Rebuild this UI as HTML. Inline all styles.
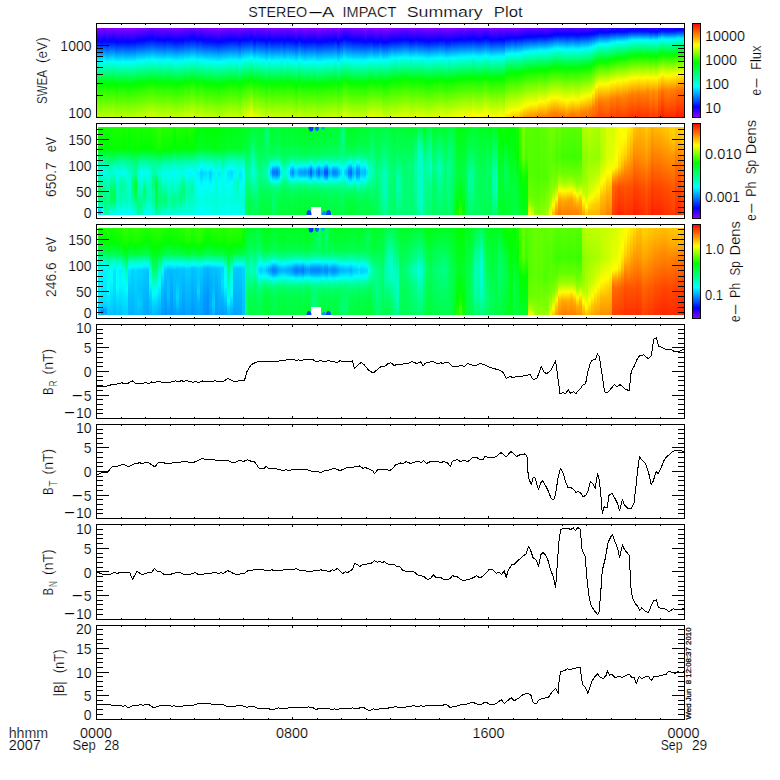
<!DOCTYPE html>
<html><head><meta charset="utf-8"><title>STEREO-A IMPACT Summary Plot</title>
<style>html,body{margin:0;padding:0;background:#fff}svg{display:block}</style></head>
<body>
<svg width="780" height="780" viewBox="0 0 780 780">
<rect width="780" height="780" fill="#fff"/>
<defs>
<linearGradient id="g1" x1="0" y1="0" x2="0" y2="1"><stop offset="0" stop-color="#8300ff"/><stop offset=".135" stop-color="#0b00ff"/><stop offset=".157" stop-color="#000cff"/><stop offset=".36" stop-color="#00f2ff"/><stop offset=".382" stop-color="#00fff4"/><stop offset=".607" stop-color="#00ff12"/><stop offset=".629" stop-color="#02ff00"/><stop offset="1" stop-color="#bfff00"/></linearGradient>
<linearGradient id="g2" x1="0" y1="0" x2="0" y2="1"><stop offset="0" stop-color="#8b00ff"/><stop offset=".157" stop-color="#0004ff"/><stop offset=".382" stop-color="#00fffd"/><stop offset=".629" stop-color="#00ff06"/><stop offset="1" stop-color="#b7ff00"/></linearGradient>
<linearGradient id="g3" x1="0" y1="0" x2="0" y2="1"><stop offset="0" stop-color="#8100ff"/><stop offset=".135" stop-color="#0900ff"/><stop offset=".157" stop-color="#000eff"/><stop offset=".36" stop-color="#00f3ff"/><stop offset=".382" stop-color="#00fff3"/><stop offset=".607" stop-color="#00ff10"/><stop offset=".629" stop-color="#04ff00"/><stop offset="1" stop-color="#c1ff00"/></linearGradient>
<linearGradient id="g4" x1="0" y1="0" x2="0" y2="1"><stop offset="0" stop-color="#80f"/><stop offset=".157" stop-color="#0007ff"/><stop offset=".382" stop-color="#00fffa"/><stop offset=".629" stop-color="#00ff03"/><stop offset="1" stop-color="#baff00"/></linearGradient>
<linearGradient id="g5" x1="0" y1="0" x2="0" y2="1"><stop offset="0" stop-color="#8400ff"/><stop offset=".135" stop-color="#0c00ff"/><stop offset=".157" stop-color="#000bff"/><stop offset=".36" stop-color="#00f0ff"/><stop offset=".382" stop-color="#00fff6"/><stop offset=".629" stop-color="#01ff00"/><stop offset="1" stop-color="#beff00"/></linearGradient>
<linearGradient id="g6" x1="0" y1="0" x2="0" y2="1"><stop offset="0" stop-color="#8100ff"/><stop offset=".135" stop-color="#0900ff"/><stop offset=".157" stop-color="#000dff"/><stop offset=".36" stop-color="#00f3ff"/><stop offset=".382" stop-color="#00fff3"/><stop offset=".607" stop-color="#00ff10"/><stop offset=".629" stop-color="#03ff00"/><stop offset="1" stop-color="#c1ff00"/></linearGradient>
<linearGradient id="g7" x1="0" y1="0" x2="0" y2="1"><stop offset="0" stop-color="#8f00ff"/><stop offset=".157" stop-color="#00f"/><stop offset=".382" stop-color="#00feff"/><stop offset=".629" stop-color="#00ff0a"/><stop offset=".652" stop-color="#02ff00"/><stop offset="1" stop-color="#b3ff00"/></linearGradient>
<linearGradient id="g8" x1="0" y1="0" x2="0" y2="1"><stop offset="0" stop-color="#8b00ff"/><stop offset=".157" stop-color="#0004ff"/><stop offset=".382" stop-color="#00fffc"/><stop offset=".629" stop-color="#00ff06"/><stop offset="1" stop-color="#b7ff00"/></linearGradient>
<linearGradient id="g9" x1="0" y1="0" x2="0" y2="1"><stop offset="0" stop-color="#8700ff"/><stop offset=".135" stop-color="#0f00ff"/><stop offset=".157" stop-color="#0008ff"/><stop offset=".36" stop-color="#00edff"/><stop offset=".382" stop-color="#00fff9"/><stop offset=".629" stop-color="#00ff02"/><stop offset="1" stop-color="#bf0"/></linearGradient>
<linearGradient id="g10" x1="0" y1="0" x2="0" y2="1"><stop offset="0" stop-color="#8a00ff"/><stop offset=".157" stop-color="#0005ff"/><stop offset=".382" stop-color="#00fffc"/><stop offset=".629" stop-color="#00ff05"/><stop offset="1" stop-color="#b8ff00"/></linearGradient>
<linearGradient id="g11" x1="0" y1="0" x2="0" y2="1"><stop offset="0" stop-color="#8e00ff"/><stop offset=".157" stop-color="#00f"/><stop offset=".382" stop-color="#00feff"/><stop offset=".629" stop-color="#00ff0a"/><stop offset=".652" stop-color="#02ff00"/><stop offset="1" stop-color="#b4ff00"/></linearGradient>
<linearGradient id="g12" x1="0" y1="0" x2="0" y2="1"><stop offset="0" stop-color="#8900ff"/><stop offset=".157" stop-color="#0006ff"/><stop offset=".382" stop-color="#00fffb"/><stop offset=".629" stop-color="#00ff04"/><stop offset="1" stop-color="#b9ff00"/></linearGradient>
<linearGradient id="g13" x1="0" y1="0" x2="0" y2="1"><stop offset="0" stop-color="#8a00ff"/><stop offset=".157" stop-color="#0004ff"/><stop offset=".382" stop-color="#00fffc"/><stop offset=".629" stop-color="#00ff05"/><stop offset="1" stop-color="#b8ff00"/></linearGradient>
<linearGradient id="g14" x1="0" y1="0" x2="0" y2="1"><stop offset="0" stop-color="#8000ff"/><stop offset=".135" stop-color="#0800ff"/><stop offset=".157" stop-color="#000eff"/><stop offset=".36" stop-color="#00f4ff"/><stop offset=".382" stop-color="#00fff2"/><stop offset=".607" stop-color="#00ff0f"/><stop offset=".629" stop-color="#04ff00"/><stop offset="1" stop-color="#c2ff00"/></linearGradient>
<linearGradient id="g15" x1="0" y1="0" x2="0" y2="1"><stop offset="0" stop-color="#7f00ff"/><stop offset=".135" stop-color="#0700ff"/><stop offset=".157" stop-color="#0010ff"/><stop offset=".36" stop-color="#00f6ff"/><stop offset=".382" stop-color="#00fff0"/><stop offset=".607" stop-color="#00ff0e"/><stop offset=".629" stop-color="#06ff00"/><stop offset="1" stop-color="#c3ff00"/></linearGradient>
<linearGradient id="g16" x1="0" y1="0" x2="0" y2="1"><stop offset="0" stop-color="#7d00ff"/><stop offset=".135" stop-color="#0500ff"/><stop offset=".157" stop-color="#0012ff"/><stop offset=".36" stop-color="#00f7ff"/><stop offset=".382" stop-color="#00ffef"/><stop offset=".607" stop-color="#00ff0c"/><stop offset=".629" stop-color="#08ff00"/><stop offset="1" stop-color="#c5ff00"/></linearGradient>
<linearGradient id="g17" x1="0" y1="0" x2="0" y2="1"><stop offset="0" stop-color="#7600ff"/><stop offset=".135" stop-color="#0002ff"/><stop offset=".36" stop-color="#00feff"/><stop offset=".607" stop-color="#00ff05"/><stop offset="1" stop-color="#cf0"/></linearGradient>
<linearGradient id="g18" x1="0" y1="0" x2="0" y2="1"><stop offset="0" stop-color="#7000ff"/><stop offset=".112" stop-color="#0c00ff"/><stop offset=".135" stop-color="#0008ff"/><stop offset=".36" stop-color="#00fffa"/><stop offset=".607" stop-color="#01ff00"/><stop offset=".629" stop-color="#14ff00"/><stop offset="1" stop-color="#d1ff00"/></linearGradient>
<linearGradient id="g19" x1="0" y1="0" x2="0" y2="1"><stop offset="0" stop-color="#6c00ff"/><stop offset=".112" stop-color="#0800ff"/><stop offset=".135" stop-color="#000cff"/><stop offset=".337" stop-color="#0ef"/><stop offset=".36" stop-color="#00fff6"/><stop offset=".584" stop-color="#00ff12"/><stop offset=".607" stop-color="#05ff00"/><stop offset=".629" stop-color="#18ff00"/><stop offset="1" stop-color="#d6ff00"/></linearGradient>
<linearGradient id="g20" x1="0" y1="0" x2="0" y2="1"><stop offset="0" stop-color="#7300ff"/><stop offset=".135" stop-color="#0005ff"/><stop offset=".36" stop-color="#00fffd"/><stop offset=".607" stop-color="#00ff02"/><stop offset="1" stop-color="#cfff00"/></linearGradient>
<linearGradient id="g21" x1="0" y1="0" x2="0" y2="1"><stop offset="0" stop-color="#7800ff"/><stop offset=".135" stop-color="#00f"/><stop offset=".36" stop-color="#00fcff"/><stop offset=".607" stop-color="#00ff07"/><stop offset=".629" stop-color="#0dff00"/><stop offset="1" stop-color="#caff00"/></linearGradient>
<linearGradient id="g22" x1="0" y1="0" x2="0" y2="1"><stop offset="0" stop-color="#7a00ff"/><stop offset=".135" stop-color="#0200ff"/><stop offset=".36" stop-color="#00faff"/><stop offset=".607" stop-color="#00ff09"/><stop offset=".629" stop-color="#0bff00"/><stop offset="1" stop-color="#c8ff00"/></linearGradient>
<linearGradient id="g23" x1="0" y1="0" x2="0" y2="1"><stop offset="0" stop-color="#7e00ff"/><stop offset=".135" stop-color="#0600ff"/><stop offset=".157" stop-color="#01f"/><stop offset=".36" stop-color="#00f7ff"/><stop offset=".382" stop-color="#00ffef"/><stop offset=".607" stop-color="#00ff0d"/><stop offset=".629" stop-color="#07ff00"/><stop offset="1" stop-color="#c4ff00"/></linearGradient>
<linearGradient id="g24" x1="0" y1="0" x2="0" y2="1"><stop offset="0" stop-color="#7600ff"/><stop offset=".135" stop-color="#0002ff"/><stop offset=".36" stop-color="#00feff"/><stop offset=".607" stop-color="#00ff05"/><stop offset="1" stop-color="#cf0"/></linearGradient>
<linearGradient id="g25" x1="0" y1="0" x2="0" y2="1"><stop offset="0" stop-color="#7a00ff"/><stop offset=".135" stop-color="#0200ff"/><stop offset=".36" stop-color="#00faff"/><stop offset=".607" stop-color="#00ff09"/><stop offset=".629" stop-color="#0aff00"/><stop offset="1" stop-color="#c8ff00"/></linearGradient>
<linearGradient id="g26" x1="0" y1="0" x2="0" y2="1"><stop offset="0" stop-color="#7f00ff"/><stop offset=".135" stop-color="#0700ff"/><stop offset=".157" stop-color="#0010ff"/><stop offset=".36" stop-color="#00f5ff"/><stop offset=".382" stop-color="#00fff1"/><stop offset=".607" stop-color="#00ff0e"/><stop offset=".629" stop-color="#06ff00"/><stop offset="1" stop-color="#c3ff00"/></linearGradient>
<linearGradient id="g27" x1="0" y1="0" x2="0" y2="1"><stop offset="0" stop-color="#8500ff"/><stop offset=".135" stop-color="#0d00ff"/><stop offset=".157" stop-color="#0009ff"/><stop offset=".36" stop-color="#00efff"/><stop offset=".382" stop-color="#00fff7"/><stop offset=".629" stop-color="#0f0"/><stop offset="1" stop-color="#bdff00"/></linearGradient>
<linearGradient id="g28" x1="0" y1="0" x2="0" y2="1"><stop offset="0" stop-color="#7e00ff"/><stop offset=".135" stop-color="#0600ff"/><stop offset=".157" stop-color="#0010ff"/><stop offset=".36" stop-color="#00f6ff"/><stop offset=".382" stop-color="#00fff0"/><stop offset=".607" stop-color="#00ff0d"/><stop offset=".629" stop-color="#07ff00"/><stop offset="1" stop-color="#c4ff00"/></linearGradient>
<linearGradient id="g29" x1="0" y1="0" x2="0" y2="1"><stop offset="0" stop-color="#7d00ff"/><stop offset=".135" stop-color="#0500ff"/><stop offset=".157" stop-color="#0012ff"/><stop offset=".36" stop-color="#00f7ff"/><stop offset=".382" stop-color="#00ffef"/><stop offset=".607" stop-color="#00ff0c"/><stop offset=".629" stop-color="#08ff00"/><stop offset="1" stop-color="#c5ff00"/></linearGradient>
<linearGradient id="g30" x1="0" y1="0" x2="0" y2="1"><stop offset="0" stop-color="#7100ff"/><stop offset=".135" stop-color="#0007ff"/><stop offset=".36" stop-color="#00fffb"/><stop offset=".607" stop-color="#0f0"/><stop offset=".629" stop-color="#14ff00"/><stop offset="1" stop-color="#d1ff00"/></linearGradient>
<linearGradient id="g31" x1="0" y1="0" x2="0" y2="1"><stop offset="0" stop-color="#7400ff"/><stop offset=".135" stop-color="#0004ff"/><stop offset=".36" stop-color="#00fffe"/><stop offset=".607" stop-color="#00ff04"/><stop offset="1" stop-color="#cdff00"/></linearGradient>
<linearGradient id="g32" x1="0" y1="0" x2="0" y2="1"><stop offset="0" stop-color="#6b00ff"/><stop offset=".112" stop-color="#0700ff"/><stop offset=".135" stop-color="#000dff"/><stop offset=".337" stop-color="#00f0ff"/><stop offset=".36" stop-color="#00fff5"/><stop offset=".584" stop-color="#0f1"/><stop offset=".607" stop-color="#06ff00"/><stop offset=".629" stop-color="#1aff00"/><stop offset="1" stop-color="#d7ff00"/></linearGradient>
<linearGradient id="g33" x1="0" y1="0" x2="0" y2="1"><stop offset="0" stop-color="#6a00ff"/><stop offset=".112" stop-color="#0600ff"/><stop offset=".135" stop-color="#000eff"/><stop offset=".337" stop-color="#00f0ff"/><stop offset=".36" stop-color="#00fff4"/><stop offset=".584" stop-color="#00ff10"/><stop offset=".607" stop-color="#06ff00"/><stop offset=".629" stop-color="#1aff00"/><stop offset="1" stop-color="#d7ff00"/></linearGradient>
<linearGradient id="g34" x1="0" y1="0" x2="0" y2="1"><stop offset="0" stop-color="#7b00ff"/><stop offset=".135" stop-color="#0300ff"/><stop offset=".36" stop-color="#00f9ff"/><stop offset=".607" stop-color="#00ff0a"/><stop offset=".629" stop-color="#09ff00"/><stop offset="1" stop-color="#c7ff00"/></linearGradient>
<linearGradient id="g35" x1="0" y1="0" x2="0" y2="1"><stop offset="0" stop-color="#6f00ff"/><stop offset=".112" stop-color="#0b00ff"/><stop offset=".135" stop-color="#0009ff"/><stop offset=".36" stop-color="#00fff9"/><stop offset=".607" stop-color="#02ff00"/><stop offset=".629" stop-color="#16ff00"/><stop offset="1" stop-color="#d3ff00"/></linearGradient>
<linearGradient id="g36" x1="0" y1="0" x2="0" y2="1"><stop offset="0" stop-color="#7c00ff"/><stop offset=".135" stop-color="#0400ff"/><stop offset=".157" stop-color="#0013ff"/><stop offset=".36" stop-color="#00f8ff"/><stop offset=".382" stop-color="#0fe"/><stop offset=".607" stop-color="#00ff0b"/><stop offset=".629" stop-color="#09ff00"/><stop offset="1" stop-color="#c6ff00"/></linearGradient>
<linearGradient id="g37" x1="0" y1="0" x2="0" y2="1"><stop offset="0" stop-color="#8100ff"/><stop offset=".135" stop-color="#0900ff"/><stop offset=".157" stop-color="#000eff"/><stop offset=".36" stop-color="#00f4ff"/><stop offset=".382" stop-color="#00fff2"/><stop offset=".607" stop-color="#00ff10"/><stop offset=".629" stop-color="#04ff00"/><stop offset="1" stop-color="#c1ff00"/></linearGradient>
<linearGradient id="g38" x1="0" y1="0" x2="0" y2="1"><stop offset="0" stop-color="#7f00ff"/><stop offset=".135" stop-color="#0700ff"/><stop offset=".157" stop-color="#0010ff"/><stop offset=".36" stop-color="#00f5ff"/><stop offset=".382" stop-color="#00fff1"/><stop offset=".607" stop-color="#00ff0e"/><stop offset=".629" stop-color="#06ff00"/><stop offset="1" stop-color="#c3ff00"/></linearGradient>
<linearGradient id="g39" x1="0" y1="0" x2="0" y2="1"><stop offset="0" stop-color="#8300ff"/><stop offset=".135" stop-color="#0b00ff"/><stop offset=".157" stop-color="#000bff"/><stop offset=".36" stop-color="#00f1ff"/><stop offset=".382" stop-color="#00fff5"/><stop offset=".607" stop-color="#00ff12"/><stop offset=".629" stop-color="#01ff00"/><stop offset="1" stop-color="#bfff00"/></linearGradient>
<linearGradient id="g40" x1="0" y1="0" x2="0" y2="1"><stop offset="0" stop-color="#8600ff"/><stop offset=".135" stop-color="#0e00ff"/><stop offset=".157" stop-color="#0008ff"/><stop offset=".36" stop-color="#0ef"/><stop offset=".382" stop-color="#00fff8"/><stop offset=".629" stop-color="#00ff02"/><stop offset="1" stop-color="#bcff00"/></linearGradient>
<linearGradient id="g41" x1="0" y1="0" x2="0" y2="1"><stop offset="0" stop-color="#8c00ff"/><stop offset=".157" stop-color="#0003ff"/><stop offset=".382" stop-color="#00fffd"/><stop offset=".629" stop-color="#00ff07"/><stop offset=".652" stop-color="#05ff00"/><stop offset="1" stop-color="#b6ff00"/></linearGradient>
<linearGradient id="g42" x1="0" y1="0" x2="0" y2="1"><stop offset="0" stop-color="#8600ff"/><stop offset=".135" stop-color="#0e00ff"/><stop offset=".157" stop-color="#0008ff"/><stop offset=".36" stop-color="#0ef"/><stop offset=".382" stop-color="#00fff8"/><stop offset=".629" stop-color="#00ff01"/><stop offset="1" stop-color="#bcff00"/></linearGradient>
<linearGradient id="g43" x1="0" y1="0" x2="0" y2="1"><stop offset="0" stop-color="#8100ff"/><stop offset=".135" stop-color="#0900ff"/><stop offset=".157" stop-color="#000eff"/><stop offset=".36" stop-color="#00f4ff"/><stop offset=".382" stop-color="#00fff2"/><stop offset=".607" stop-color="#00ff10"/><stop offset=".629" stop-color="#04ff00"/><stop offset="1" stop-color="#c1ff00"/></linearGradient>
<linearGradient id="g44" x1="0" y1="0" x2="0" y2="1"><stop offset="0" stop-color="#7d00ff"/><stop offset=".135" stop-color="#0500ff"/><stop offset=".157" stop-color="#0012ff"/><stop offset=".36" stop-color="#00f7ff"/><stop offset=".382" stop-color="#00ffef"/><stop offset=".607" stop-color="#00ff0c"/><stop offset=".629" stop-color="#08ff00"/><stop offset="1" stop-color="#c5ff00"/></linearGradient>
<linearGradient id="g45" x1="0" y1="0" x2="0" y2="1"><stop offset="0" stop-color="#7800ff"/><stop offset=".135" stop-color="#00f"/><stop offset=".36" stop-color="#00fcff"/><stop offset=".607" stop-color="#00ff07"/><stop offset=".629" stop-color="#0dff00"/><stop offset="1" stop-color="#caff00"/></linearGradient>
<linearGradient id="g46" x1="0" y1="0" x2="0" y2="1"><stop offset="0" stop-color="#7c00ff"/><stop offset=".135" stop-color="#0400ff"/><stop offset=".36" stop-color="#00f8ff"/><stop offset=".382" stop-color="#0fe"/><stop offset=".607" stop-color="#00ff0b"/><stop offset=".629" stop-color="#09ff00"/><stop offset="1" stop-color="#c6ff00"/></linearGradient>
<linearGradient id="g47" x1="0" y1="0" x2="0" y2="1"><stop offset="0" stop-color="#7900ff"/><stop offset=".135" stop-color="#0100ff"/><stop offset=".36" stop-color="#00fbff"/><stop offset=".607" stop-color="#00ff08"/><stop offset=".629" stop-color="#0cff00"/><stop offset="1" stop-color="#c9ff00"/></linearGradient>
<linearGradient id="g48" x1="0" y1="0" x2="0" y2="1"><stop offset="0" stop-color="#8400ff"/><stop offset=".135" stop-color="#0c00ff"/><stop offset=".157" stop-color="#000bff"/><stop offset=".36" stop-color="#00f0ff"/><stop offset=".382" stop-color="#00fff6"/><stop offset=".629" stop-color="#01ff00"/><stop offset="1" stop-color="#beff00"/></linearGradient>
<linearGradient id="g49" x1="0" y1="0" x2="0" y2="1"><stop offset="0" stop-color="#7600ff"/><stop offset=".135" stop-color="#0002ff"/><stop offset=".36" stop-color="#00fffc"/><stop offset=".607" stop-color="#00ff02"/><stop offset="1" stop-color="#d4ff00"/></linearGradient>
<linearGradient id="g50" x1="0" y1="0" x2="0" y2="1"><stop offset="0" stop-color="#7300ff"/><stop offset=".135" stop-color="#0004ff"/><stop offset=".337" stop-color="#00f0ff"/><stop offset=".36" stop-color="#00fff4"/><stop offset=".584" stop-color="#0f1"/><stop offset=".607" stop-color="#06ff00"/><stop offset="1" stop-color="#e2ff00"/></linearGradient>
<linearGradient id="g51" x1="0" y1="0" x2="0" y2="1"><stop offset="0" stop-color="#7300ff"/><stop offset=".135" stop-color="#0005ff"/><stop offset=".337" stop-color="#00f5ff"/><stop offset=".36" stop-color="#0fe"/><stop offset=".584" stop-color="#00ff0b"/><stop offset=".607" stop-color="#0bff00"/><stop offset="1" stop-color="#efff00"/></linearGradient>
<linearGradient id="g52" x1="0" y1="0" x2="0" y2="1"><stop offset="0" stop-color="#6b00ff"/><stop offset=".112" stop-color="#0700ff"/><stop offset=".135" stop-color="#000dff"/><stop offset=".337" stop-color="#00fffd"/><stop offset=".584" stop-color="#0f0"/><stop offset=".607" stop-color="#17ff00"/><stop offset="1" stop-color="#fffe00"/></linearGradient>
<linearGradient id="g53" x1="0" y1="0" x2="0" y2="1"><stop offset="0" stop-color="#8100ff"/><stop offset=".135" stop-color="#0900ff"/><stop offset=".157" stop-color="#000eff"/><stop offset=".36" stop-color="#00fffe"/><stop offset=".607" stop-color="#00ff04"/><stop offset="1" stop-color="#dfff00"/></linearGradient>
<linearGradient id="g54" x1="0" y1="0" x2="0" y2="1"><stop offset="0" stop-color="#7100ff"/><stop offset=".135" stop-color="#0007ff"/><stop offset=".337" stop-color="#00f1ff"/><stop offset=".36" stop-color="#00fff3"/><stop offset=".584" stop-color="#00ff10"/><stop offset=".607" stop-color="#07ff00"/><stop offset="1" stop-color="#e4ff00"/></linearGradient>
<linearGradient id="g55" x1="0" y1="0" x2="0" y2="1"><stop offset="0" stop-color="#7600ff"/><stop offset=".135" stop-color="#0002ff"/><stop offset=".36" stop-color="#00fffd"/><stop offset=".607" stop-color="#00ff03"/><stop offset="1" stop-color="#d5ff00"/></linearGradient>
<linearGradient id="g56" x1="0" y1="0" x2="0" y2="1"><stop offset="0" stop-color="#70f"/><stop offset=".135" stop-color="#0001ff"/><stop offset=".36" stop-color="#00fdff"/><stop offset=".607" stop-color="#00ff06"/><stop offset="1" stop-color="#cfff00"/></linearGradient>
<linearGradient id="g57" x1="0" y1="0" x2="0" y2="1"><stop offset="0" stop-color="#8700ff"/><stop offset=".135" stop-color="#0f00ff"/><stop offset=".157" stop-color="#0008ff"/><stop offset=".36" stop-color="#00edff"/><stop offset=".382" stop-color="#00fff8"/><stop offset=".629" stop-color="#00ff02"/><stop offset="1" stop-color="#c0ff00"/></linearGradient>
<linearGradient id="g58" x1="0" y1="0" x2="0" y2="1"><stop offset="0" stop-color="#70f"/><stop offset=".135" stop-color="#0001ff"/><stop offset=".36" stop-color="#00fdff"/><stop offset=".607" stop-color="#00ff06"/><stop offset="1" stop-color="#cfff00"/></linearGradient>
<linearGradient id="g59" x1="0" y1="0" x2="0" y2="1"><stop offset="0" stop-color="#8300ff"/><stop offset=".135" stop-color="#0b00ff"/><stop offset=".157" stop-color="#000cff"/><stop offset=".36" stop-color="#00f1ff"/><stop offset=".382" stop-color="#00fff5"/><stop offset=".607" stop-color="#0f1"/><stop offset=".629" stop-color="#02ff00"/><stop offset="1" stop-color="#c4ff00"/></linearGradient>
<linearGradient id="g60" x1="0" y1="0" x2="0" y2="1"><stop offset="0" stop-color="#7e00ff"/><stop offset=".135" stop-color="#0600ff"/><stop offset=".157" stop-color="#01f"/><stop offset=".36" stop-color="#00f7ff"/><stop offset=".382" stop-color="#00ffef"/><stop offset=".607" stop-color="#00ff0c"/><stop offset=".629" stop-color="#08ff00"/><stop offset="1" stop-color="#c9ff00"/></linearGradient>
<linearGradient id="g61" x1="0" y1="0" x2="0" y2="1"><stop offset="0" stop-color="#7e00ff"/><stop offset=".135" stop-color="#0600ff"/><stop offset=".157" stop-color="#0010ff"/><stop offset=".36" stop-color="#00f6ff"/><stop offset=".382" stop-color="#00fff0"/><stop offset=".607" stop-color="#00ff0c"/><stop offset=".629" stop-color="#07ff00"/><stop offset="1" stop-color="#c8ff00"/></linearGradient>
<linearGradient id="g62" x1="0" y1="0" x2="0" y2="1"><stop offset="0" stop-color="#7b00ff"/><stop offset=".135" stop-color="#0300ff"/><stop offset=".36" stop-color="#00f9ff"/><stop offset=".607" stop-color="#00ff09"/><stop offset=".629" stop-color="#0aff00"/><stop offset="1" stop-color="#cbff00"/></linearGradient>
<linearGradient id="g63" x1="0" y1="0" x2="0" y2="1"><stop offset="0" stop-color="#8200ff"/><stop offset=".135" stop-color="#0a00ff"/><stop offset=".157" stop-color="#000cff"/><stop offset=".36" stop-color="#00f2ff"/><stop offset=".382" stop-color="#00fff4"/><stop offset=".607" stop-color="#00ff10"/><stop offset=".629" stop-color="#03ff00"/><stop offset="1" stop-color="#c4ff00"/></linearGradient>
<linearGradient id="g64" x1="0" y1="0" x2="0" y2="1"><stop offset="0" stop-color="#7a00ff"/><stop offset=".135" stop-color="#0200ff"/><stop offset=".36" stop-color="#00faff"/><stop offset=".607" stop-color="#00ff08"/><stop offset=".629" stop-color="#0bff00"/><stop offset="1" stop-color="#cf0"/></linearGradient>
<linearGradient id="g65" x1="0" y1="0" x2="0" y2="1"><stop offset="0" stop-color="#7d00ff"/><stop offset=".135" stop-color="#0500ff"/><stop offset=".157" stop-color="#0012ff"/><stop offset=".36" stop-color="#00f7ff"/><stop offset=".382" stop-color="#00ffef"/><stop offset=".607" stop-color="#00ff0a"/><stop offset=".629" stop-color="#09ff00"/><stop offset="1" stop-color="#caff00"/></linearGradient>
<linearGradient id="g66" x1="0" y1="0" x2="0" y2="1"><stop offset="0" stop-color="#8100ff"/><stop offset=".135" stop-color="#0900ff"/><stop offset=".157" stop-color="#000dff"/><stop offset=".36" stop-color="#00f3ff"/><stop offset=".382" stop-color="#00fff3"/><stop offset=".607" stop-color="#00ff0f"/><stop offset=".629" stop-color="#05ff00"/><stop offset="1" stop-color="#c5ff00"/></linearGradient>
<linearGradient id="g67" x1="0" y1="0" x2="0" y2="1"><stop offset="0" stop-color="#8e00ff"/><stop offset=".157" stop-color="#0001ff"/><stop offset=".382" stop-color="#00feff"/><stop offset=".629" stop-color="#00ff08"/><stop offset=".652" stop-color="#03ff00"/><stop offset="1" stop-color="#b8ff00"/></linearGradient>
<linearGradient id="g68" x1="0" y1="0" x2="0" y2="1"><stop offset="0" stop-color="#7900ff"/><stop offset=".135" stop-color="#0100ff"/><stop offset=".36" stop-color="#00fbff"/><stop offset=".607" stop-color="#00ff06"/><stop offset="1" stop-color="#ceff00"/></linearGradient>
<linearGradient id="g69" x1="0" y1="0" x2="0" y2="1"><stop offset="0" stop-color="#8700ff"/><stop offset=".135" stop-color="#0f00ff"/><stop offset=".157" stop-color="#0008ff"/><stop offset=".36" stop-color="#00edff"/><stop offset=".382" stop-color="#00fff8"/><stop offset=".629" stop-color="#00ff01"/><stop offset="1" stop-color="#c0ff00"/></linearGradient>
<linearGradient id="g70" x1="0" y1="0" x2="0" y2="1"><stop offset="0" stop-color="#8b00ff"/><stop offset=".157" stop-color="#0003ff"/><stop offset=".382" stop-color="#00fffd"/><stop offset=".629" stop-color="#00ff05"/><stop offset="1" stop-color="#bf0"/></linearGradient>
<linearGradient id="g71" x1="0" y1="0" x2="0" y2="1"><stop offset="0" stop-color="#8400ff"/><stop offset=".135" stop-color="#0c00ff"/><stop offset=".157" stop-color="#000aff"/><stop offset=".36" stop-color="#00f0ff"/><stop offset=".382" stop-color="#00fff6"/><stop offset=".607" stop-color="#0f1"/><stop offset=".629" stop-color="#02ff00"/><stop offset="1" stop-color="#c2ff00"/></linearGradient>
<linearGradient id="g72" x1="0" y1="0" x2="0" y2="1"><stop offset="0" stop-color="#8600ff"/><stop offset=".135" stop-color="#0e00ff"/><stop offset=".157" stop-color="#0009ff"/><stop offset=".36" stop-color="#00efff"/><stop offset=".382" stop-color="#00fff7"/><stop offset=".629" stop-color="#01ff00"/><stop offset="1" stop-color="#c1ff00"/></linearGradient>
<linearGradient id="g73" x1="0" y1="0" x2="0" y2="1"><stop offset="0" stop-color="#8100ff"/><stop offset=".135" stop-color="#0900ff"/><stop offset=".157" stop-color="#000eff"/><stop offset=".36" stop-color="#00f3ff"/><stop offset=".382" stop-color="#00fff2"/><stop offset=".607" stop-color="#00ff0d"/><stop offset=".629" stop-color="#06ff00"/><stop offset="1" stop-color="#c6ff00"/></linearGradient>
<linearGradient id="g74" x1="0" y1="0" x2="0" y2="1"><stop offset="0" stop-color="#8d00ff"/><stop offset=".157" stop-color="#0002ff"/><stop offset=".382" stop-color="#00fffe"/><stop offset=".629" stop-color="#00ff06"/><stop offset="1" stop-color="#baff00"/></linearGradient>
<linearGradient id="g75" x1="0" y1="0" x2="0" y2="1"><stop offset="0" stop-color="#8a00ff"/><stop offset=".157" stop-color="#0005ff"/><stop offset=".382" stop-color="#00fffb"/><stop offset=".629" stop-color="#00ff03"/><stop offset="1" stop-color="#bdff00"/></linearGradient>
<linearGradient id="g76" x1="0" y1="0" x2="0" y2="1"><stop offset="0" stop-color="#8500ff"/><stop offset=".135" stop-color="#0d00ff"/><stop offset=".157" stop-color="#000aff"/><stop offset=".36" stop-color="#00efff"/><stop offset=".382" stop-color="#00fff7"/><stop offset=".607" stop-color="#0f1"/><stop offset=".629" stop-color="#02ff00"/><stop offset="1" stop-color="#c2ff00"/></linearGradient>
<linearGradient id="g77" x1="0" y1="0" x2="0" y2="1"><stop offset="0" stop-color="#8200ff"/><stop offset=".135" stop-color="#0a00ff"/><stop offset=".157" stop-color="#000cff"/><stop offset=".36" stop-color="#00f2ff"/><stop offset=".382" stop-color="#00fff4"/><stop offset=".607" stop-color="#00ff0e"/><stop offset=".629" stop-color="#04ff00"/><stop offset="1" stop-color="#c4ff00"/></linearGradient>
<linearGradient id="g78" x1="0" y1="0" x2="0" y2="1"><stop offset="0" stop-color="#8100ff"/><stop offset=".135" stop-color="#0900ff"/><stop offset=".157" stop-color="#000eff"/><stop offset=".36" stop-color="#00f3ff"/><stop offset=".382" stop-color="#00fff2"/><stop offset=".607" stop-color="#00ff0c"/><stop offset=".629" stop-color="#06ff00"/><stop offset="1" stop-color="#c6ff00"/></linearGradient>
<linearGradient id="g79" x1="0" y1="0" x2="0" y2="1"><stop offset="0" stop-color="#8000ff"/><stop offset=".135" stop-color="#0800ff"/><stop offset=".157" stop-color="#000fff"/><stop offset=".36" stop-color="#00f4ff"/><stop offset=".382" stop-color="#00fff2"/><stop offset=".607" stop-color="#00ff0b"/><stop offset=".629" stop-color="#07ff00"/><stop offset="1" stop-color="#c7ff00"/></linearGradient>
<linearGradient id="g80" x1="0" y1="0" x2="0" y2="1"><stop offset="0" stop-color="#7b00ff"/><stop offset=".135" stop-color="#0300ff"/><stop offset=".36" stop-color="#00f9ff"/><stop offset=".607" stop-color="#00ff06"/><stop offset="1" stop-color="#cf0"/></linearGradient>
<linearGradient id="g81" x1="0" y1="0" x2="0" y2="1"><stop offset="0" stop-color="#8c00ff"/><stop offset=".157" stop-color="#0003ff"/><stop offset=".382" stop-color="#00fffd"/><stop offset=".629" stop-color="#00ff05"/><stop offset="1" stop-color="#bf0"/></linearGradient>
<linearGradient id="g82" x1="0" y1="0" x2="0" y2="1"><stop offset="0" stop-color="#7b00ff"/><stop offset=".135" stop-color="#0300ff"/><stop offset=".36" stop-color="#00f9ff"/><stop offset=".607" stop-color="#00ff05"/><stop offset="1" stop-color="#cf0"/></linearGradient>
<linearGradient id="g83" x1="0" y1="0" x2="0" y2="1"><stop offset="0" stop-color="#6500ff"/><stop offset=".112" stop-color="#0100ff"/><stop offset=".157" stop-color="#002aff"/><stop offset=".337" stop-color="#00f6ff"/><stop offset=".36" stop-color="#00ffef"/><stop offset=".584" stop-color="#00ff07"/><stop offset=".629" stop-color="#2f0"/><stop offset="1" stop-color="#e2ff00"/></linearGradient>
<linearGradient id="g84" x1="0" y1="0" x2="0" y2="1"><stop offset="0" stop-color="#7000ff"/><stop offset=".112" stop-color="#0c00ff"/><stop offset=".135" stop-color="#0008ff"/><stop offset=".36" stop-color="#00fffa"/><stop offset=".584" stop-color="#0f1"/><stop offset=".607" stop-color="#06ff00"/><stop offset="1" stop-color="#d7ff00"/></linearGradient>
<linearGradient id="g85" x1="0" y1="0" x2="0" y2="1"><stop offset="0" stop-color="#7600ff"/><stop offset=".135" stop-color="#0002ff"/><stop offset=".36" stop-color="#00feff"/><stop offset=".607" stop-color="#0f0"/><stop offset="1" stop-color="#d1ff00"/></linearGradient>
<linearGradient id="g86" x1="0" y1="0" x2="0" y2="1"><stop offset="0" stop-color="#7d00ff"/><stop offset=".135" stop-color="#0500ff"/><stop offset=".157" stop-color="#01f"/><stop offset=".36" stop-color="#00f7ff"/><stop offset=".382" stop-color="#00ffef"/><stop offset=".607" stop-color="#00ff07"/><stop offset=".629" stop-color="#0aff00"/><stop offset="1" stop-color="#caff00"/></linearGradient>
<linearGradient id="g87" x1="0" y1="0" x2="0" y2="1"><stop offset="0" stop-color="#7e00ff"/><stop offset=".135" stop-color="#0600ff"/><stop offset=".157" stop-color="#01f"/><stop offset=".36" stop-color="#00f6ff"/><stop offset=".382" stop-color="#00ffef"/><stop offset=".607" stop-color="#00ff08"/><stop offset=".629" stop-color="#0aff00"/><stop offset="1" stop-color="#c9ff00"/></linearGradient>
<linearGradient id="g88" x1="0" y1="0" x2="0" y2="1"><stop offset="0" stop-color="#7e00ff"/><stop offset=".135" stop-color="#0600ff"/><stop offset=".157" stop-color="#0010ff"/><stop offset=".36" stop-color="#00f6ff"/><stop offset=".382" stop-color="#00fff0"/><stop offset=".607" stop-color="#00ff08"/><stop offset=".629" stop-color="#09ff00"/><stop offset="1" stop-color="#c9ff00"/></linearGradient>
<linearGradient id="g89" x1="0" y1="0" x2="0" y2="1"><stop offset="0" stop-color="#8200ff"/><stop offset=".135" stop-color="#0a00ff"/><stop offset=".157" stop-color="#000dff"/><stop offset=".36" stop-color="#00f6ff"/><stop offset=".382" stop-color="#00fff0"/><stop offset=".607" stop-color="#00ff08"/><stop offset=".629" stop-color="#08ff00"/><stop offset="1" stop-color="#cbff00"/></linearGradient>
<linearGradient id="g90" x1="0" y1="0" x2="0" y2="1"><stop offset="0" stop-color="#8900ff"/><stop offset=".157" stop-color="#0007ff"/><stop offset=".36" stop-color="#00f5ff"/><stop offset=".382" stop-color="#00fff2"/><stop offset=".607" stop-color="#00ff0a"/><stop offset=".629" stop-color="#04ff00"/><stop offset="1" stop-color="#cdff00"/></linearGradient>
<linearGradient id="g91" x1="0" y1="0" x2="0" y2="1"><stop offset="0" stop-color="#8300ff"/><stop offset=".135" stop-color="#0b00ff"/><stop offset=".157" stop-color="#000dff"/><stop offset=".36" stop-color="#00fffe"/><stop offset=".607" stop-color="#0f0"/><stop offset="1" stop-color="#dcff00"/></linearGradient>
<linearGradient id="g92" x1="0" y1="0" x2="0" y2="1"><stop offset="0" stop-color="#8000ff"/><stop offset=".135" stop-color="#0800ff"/><stop offset=".157" stop-color="#0010ff"/><stop offset=".337" stop-color="#00edff"/><stop offset=".36" stop-color="#00fff7"/><stop offset=".584" stop-color="#00ff0f"/><stop offset=".607" stop-color="#05ff00"/><stop offset="1" stop-color="#e8ff00"/></linearGradient>
<linearGradient id="g93" x1="0" y1="0" x2="0" y2="1"><stop offset="0" stop-color="#8e00ff"/><stop offset=".157" stop-color="#0002ff"/><stop offset=".36" stop-color="#00feff"/><stop offset=".607" stop-color="#00ff06"/><stop offset="1" stop-color="#e4ff00"/></linearGradient>
<linearGradient id="g94" x1="0" y1="0" x2="0" y2="1"><stop offset="0" stop-color="#8d00ff"/><stop offset=".157" stop-color="#0003ff"/><stop offset=".36" stop-color="#00fffd"/><stop offset=".607" stop-color="#00ff04"/><stop offset="1" stop-color="#e1ff00"/></linearGradient>
<linearGradient id="g95" x1="0" y1="0" x2="0" y2="1"><stop offset="0" stop-color="#8200ff"/><stop offset=".135" stop-color="#0a00ff"/><stop offset=".157" stop-color="#000fff"/><stop offset=".337" stop-color="#00f3ff"/><stop offset=".36" stop-color="#00fff1"/><stop offset=".584" stop-color="#00ff0a"/><stop offset=".607" stop-color="#08ff00"/><stop offset="1" stop-color="#e6ff00"/></linearGradient>
<linearGradient id="g96" x1="0" y1="0" x2="0" y2="1"><stop offset="0" stop-color="#9200ff"/><stop offset=".157" stop-color="#0100ff"/><stop offset=".36" stop-color="#00feff"/><stop offset=".584" stop-color="#00ff18"/><stop offset=".607" stop-color="#00ff08"/><stop offset=".629" stop-color="#04ff00"/><stop offset="1" stop-color="#d0ff00"/></linearGradient>
<linearGradient id="g97" x1="0" y1="0" x2="0" y2="1"><stop offset="0" stop-color="#9100ff"/><stop offset=".157" stop-color="#00f"/><stop offset=".36" stop-color="#00fffe"/><stop offset=".584" stop-color="#00ff16"/><stop offset=".607" stop-color="#00ff07"/><stop offset=".629" stop-color="#05ff00"/><stop offset="1" stop-color="#cf0"/></linearGradient>
<linearGradient id="g98" x1="0" y1="0" x2="0" y2="1"><stop offset="0" stop-color="#8700ff"/><stop offset=".135" stop-color="#0f00ff"/><stop offset=".157" stop-color="#000aff"/><stop offset=".337" stop-color="#00f2ff"/><stop offset=".36" stop-color="#00fff3"/><stop offset=".584" stop-color="#00ff0b"/><stop offset=".607" stop-color="#04ff00"/><stop offset="1" stop-color="#d1ff00"/></linearGradient>
<linearGradient id="g99" x1="0" y1="0" x2="0" y2="1"><stop offset="0" stop-color="#7d00ff"/><stop offset=".135" stop-color="#0500ff"/><stop offset=".157" stop-color="#0014ff"/><stop offset=".337" stop-color="#00fdff"/><stop offset=".584" stop-color="#00ff01"/><stop offset="1" stop-color="#d6ff00"/></linearGradient>
<linearGradient id="g100" x1="0" y1="0" x2="0" y2="1"><stop offset="0" stop-color="#8100ff"/><stop offset=".135" stop-color="#0900ff"/><stop offset=".157" stop-color="#0010ff"/><stop offset=".337" stop-color="#00f9ff"/><stop offset=".584" stop-color="#00ff04"/><stop offset="1" stop-color="#d4ff00"/></linearGradient>
<linearGradient id="g101" x1="0" y1="0" x2="0" y2="1"><stop offset="0" stop-color="#7c00ff"/><stop offset=".135" stop-color="#0300ff"/><stop offset=".157" stop-color="#0016ff"/><stop offset=".337" stop-color="#0ff"/><stop offset=".584" stop-color="#01ff00"/><stop offset="1" stop-color="#daff00"/></linearGradient>
<linearGradient id="g102" x1="0" y1="0" x2="0" y2="1"><stop offset="0" stop-color="#70f"/><stop offset=".135" stop-color="#0002ff"/><stop offset=".337" stop-color="#00fffa"/><stop offset=".562" stop-color="#0f1"/><stop offset=".584" stop-color="#06ff00"/><stop offset="1" stop-color="#e0ff00"/></linearGradient>
<linearGradient id="g103" x1="0" y1="0" x2="0" y2="1"><stop offset="0" stop-color="#7200ff"/><stop offset=".135" stop-color="#0007ff"/><stop offset=".315" stop-color="#00ecff"/><stop offset=".337" stop-color="#00fff5"/><stop offset=".562" stop-color="#00ff0c"/><stop offset=".584" stop-color="#0bff00"/><stop offset="1" stop-color="#e6ff00"/></linearGradient>
<linearGradient id="g104" x1="0" y1="0" x2="0" y2="1"><stop offset="0" stop-color="#7500ff"/><stop offset=".135" stop-color="#0004ff"/><stop offset=".315" stop-color="#00eaff"/><stop offset=".337" stop-color="#00fff7"/><stop offset=".562" stop-color="#00ff0e"/><stop offset=".584" stop-color="#09ff00"/><stop offset="1" stop-color="#e4ff00"/></linearGradient>
<linearGradient id="g105" x1="0" y1="0" x2="0" y2="1"><stop offset="0" stop-color="#8200ff"/><stop offset=".135" stop-color="#0800ff"/><stop offset=".157" stop-color="#01f"/><stop offset=".337" stop-color="#00fbff"/><stop offset=".584" stop-color="#00ff03"/><stop offset="1" stop-color="#d9ff00"/></linearGradient>
<linearGradient id="g106" x1="0" y1="0" x2="0" y2="1"><stop offset="0" stop-color="#7f00ff"/><stop offset=".135" stop-color="#0500ff"/><stop offset=".157" stop-color="#0015ff"/><stop offset=".337" stop-color="#00feff"/><stop offset=".584" stop-color="#0f0"/><stop offset="1" stop-color="#df0"/></linearGradient>
<linearGradient id="g107" x1="0" y1="0" x2="0" y2="1"><stop offset="0" stop-color="#7600ff"/><stop offset=".135" stop-color="#0004ff"/><stop offset=".315" stop-color="#00eaff"/><stop offset=".337" stop-color="#00fff7"/><stop offset=".562" stop-color="#00ff0e"/><stop offset=".584" stop-color="#09ff00"/><stop offset="1" stop-color="#e7ff00"/></linearGradient>
<linearGradient id="g108" x1="0" y1="0" x2="0" y2="1"><stop offset="0" stop-color="#7f00ff"/><stop offset=".135" stop-color="#0500ff"/><stop offset=".157" stop-color="#0015ff"/><stop offset=".337" stop-color="#00feff"/><stop offset=".584" stop-color="#0f0"/><stop offset="1" stop-color="#dfff00"/></linearGradient>
<linearGradient id="g109" x1="0" y1="0" x2="0" y2="1"><stop offset="0" stop-color="#8100ff"/><stop offset=".135" stop-color="#0600ff"/><stop offset=".157" stop-color="#0014ff"/><stop offset=".337" stop-color="#00fdff"/><stop offset=".584" stop-color="#00ff01"/><stop offset="1" stop-color="#dfff00"/></linearGradient>
<linearGradient id="g110" x1="0" y1="0" x2="0" y2="1"><stop offset="0" stop-color="#8700ff"/><stop offset=".135" stop-color="#0c00ff"/><stop offset=".157" stop-color="#000fff"/><stop offset=".337" stop-color="#00f8ff"/><stop offset=".36" stop-color="#00ffef"/><stop offset=".584" stop-color="#00ff07"/><stop offset=".607" stop-color="#06ff00"/><stop offset="1" stop-color="#daff00"/></linearGradient>
<linearGradient id="g111" x1="0" y1="0" x2="0" y2="1"><stop offset="0" stop-color="#8d00ff"/><stop offset=".135" stop-color="#1200ff"/><stop offset=".157" stop-color="#0009ff"/><stop offset=".337" stop-color="#00f2ff"/><stop offset=".36" stop-color="#00fff4"/><stop offset=".584" stop-color="#00ff0d"/><stop offset=".607" stop-color="#0f0"/><stop offset="1" stop-color="#d6ff00"/></linearGradient>
<linearGradient id="g112" x1="0" y1="0" x2="0" y2="1"><stop offset="0" stop-color="#8700ff"/><stop offset=".135" stop-color="#0c00ff"/><stop offset=".157" stop-color="#000fff"/><stop offset=".337" stop-color="#00f8ff"/><stop offset=".36" stop-color="#0fe"/><stop offset=".584" stop-color="#00ff07"/><stop offset=".607" stop-color="#06ff00"/><stop offset="1" stop-color="#df0"/></linearGradient>
<linearGradient id="g113" x1="0" y1="0" x2="0" y2="1"><stop offset="0" stop-color="#8400ff"/><stop offset=".135" stop-color="#0800ff"/><stop offset=".157" stop-color="#0013ff"/><stop offset=".337" stop-color="#00fcff"/><stop offset=".584" stop-color="#00ff03"/><stop offset="1" stop-color="#e1ff00"/></linearGradient>
<linearGradient id="g114" x1="0" y1="0" x2="0" y2="1"><stop offset="0" stop-color="#8200ff"/><stop offset=".135" stop-color="#0700ff"/><stop offset=".157" stop-color="#0014ff"/><stop offset=".337" stop-color="#00feff"/><stop offset=".584" stop-color="#00ff01"/><stop offset="1" stop-color="#e4ff00"/></linearGradient>
<linearGradient id="g115" x1="0" y1="0" x2="0" y2="1"><stop offset="0" stop-color="#7a00ff"/><stop offset=".135" stop-color="#0002ff"/><stop offset=".315" stop-color="#00e9ff"/><stop offset=".337" stop-color="#00fff8"/><stop offset=".562" stop-color="#00ff10"/><stop offset=".584" stop-color="#07ff00"/><stop offset="1" stop-color="#edff00"/></linearGradient>
<linearGradient id="g116" x1="0" y1="0" x2="0" y2="1"><stop offset="0" stop-color="#8200ff"/><stop offset=".135" stop-color="#0500ff"/><stop offset=".337" stop-color="#0ff"/><stop offset=".584" stop-color="#0f0"/><stop offset="1" stop-color="#e8ff00"/></linearGradient>
<linearGradient id="g117" x1="0" y1="0" x2="0" y2="1"><stop offset="0" stop-color="#8b00ff"/><stop offset=".135" stop-color="#0e00ff"/><stop offset=".157" stop-color="#000eff"/><stop offset=".337" stop-color="#00f7ff"/><stop offset=".36" stop-color="#00fff0"/><stop offset=".584" stop-color="#00ff08"/><stop offset=".607" stop-color="#04ff00"/><stop offset="1" stop-color="#e0ff00"/></linearGradient>
<linearGradient id="g118" x1="0" y1="0" x2="0" y2="1"><stop offset="0" stop-color="#80f"/><stop offset=".135" stop-color="#0b00ff"/><stop offset=".157" stop-color="#01f"/><stop offset=".337" stop-color="#00faff"/><stop offset=".584" stop-color="#00ff05"/><stop offset="1" stop-color="#e5ff00"/></linearGradient>
<linearGradient id="g119" x1="0" y1="0" x2="0" y2="1"><stop offset="0" stop-color="#8400ff"/><stop offset=".135" stop-color="#0600ff"/><stop offset=".337" stop-color="#0ff"/><stop offset=".584" stop-color="#0f0"/><stop offset="1" stop-color="#ebff00"/></linearGradient>
<linearGradient id="g120" x1="0" y1="0" x2="0" y2="1"><stop offset="0" stop-color="#8100ff"/><stop offset=".135" stop-color="#0200ff"/><stop offset=".337" stop-color="#00fffc"/><stop offset=".562" stop-color="#0f1"/><stop offset=".584" stop-color="#04ff00"/><stop offset="1" stop-color="#f0ff00"/></linearGradient>
<linearGradient id="g121" x1="0" y1="0" x2="0" y2="1"><stop offset="0" stop-color="#7b00ff"/><stop offset=".135" stop-color="#0003ff"/><stop offset=".315" stop-color="#00ecff"/><stop offset=".337" stop-color="#00fff6"/><stop offset=".562" stop-color="#00ff0b"/><stop offset=".584" stop-color="#09ff00"/><stop offset="1" stop-color="#f7ff00"/></linearGradient>
<linearGradient id="g122" x1="0" y1="0" x2="0" y2="1"><stop offset="0" stop-color="#7800ff"/><stop offset=".112" stop-color="#0e00ff"/><stop offset=".135" stop-color="#0007ff"/><stop offset=".315" stop-color="#00f0ff"/><stop offset=".337" stop-color="#00fff2"/><stop offset=".562" stop-color="#00ff06"/><stop offset=".584" stop-color="#0dff00"/><stop offset="1" stop-color="#fcff00"/></linearGradient>
<linearGradient id="g123" x1="0" y1="0" x2="0" y2="1"><stop offset="0" stop-color="#7900ff"/><stop offset=".135" stop-color="#0007ff"/><stop offset=".315" stop-color="#00f0ff"/><stop offset=".337" stop-color="#00fff2"/><stop offset=".562" stop-color="#00ff06"/><stop offset="1" stop-color="#fdff00"/></linearGradient>
<linearGradient id="g124" x1="0" y1="0" x2="0" y2="1"><stop offset="0" stop-color="#7600ff"/><stop offset=".112" stop-color="#0b00ff"/><stop offset=".135" stop-color="#000aff"/><stop offset=".315" stop-color="#00f3ff"/><stop offset=".337" stop-color="#00ffef"/><stop offset=".562" stop-color="#00ff02"/><stop offset="1" stop-color="#fffd00"/></linearGradient>
<linearGradient id="g125" x1="0" y1="0" x2="0" y2="1"><stop offset="0" stop-color="#70f"/><stop offset=".112" stop-color="#0c00ff"/><stop offset=".135" stop-color="#0009ff"/><stop offset=".315" stop-color="#00f3ff"/><stop offset=".337" stop-color="#00fff0"/><stop offset=".562" stop-color="#00ff02"/><stop offset="1" stop-color="#fffc00"/></linearGradient>
<linearGradient id="g126" x1="0" y1="0" x2="0" y2="1"><stop offset="0" stop-color="#7000ff"/><stop offset=".112" stop-color="#0500ff"/><stop offset=".135" stop-color="#0010ff"/><stop offset=".315" stop-color="#00faff"/><stop offset=".539" stop-color="#00ff13"/><stop offset=".562" stop-color="#05ff00"/><stop offset=".966" stop-color="#f6ff00"/><stop offset="1" stop-color="#fff500"/></linearGradient>
<linearGradient id="g127" x1="0" y1="0" x2="0" y2="1"><stop offset="0" stop-color="#7900ff"/><stop offset=".112" stop-color="#0e00ff"/><stop offset=".135" stop-color="#0007ff"/><stop offset=".315" stop-color="#00f2ff"/><stop offset=".337" stop-color="#00fff1"/><stop offset=".562" stop-color="#00ff03"/><stop offset="1" stop-color="#fffd00"/></linearGradient>
<linearGradient id="g128" x1="0" y1="0" x2="0" y2="1"><stop offset="0" stop-color="#7c00ff"/><stop offset=".135" stop-color="#0004ff"/><stop offset=".315" stop-color="#00efff"/><stop offset=".337" stop-color="#00fff3"/><stop offset=".562" stop-color="#00ff06"/><stop offset="1" stop-color="#feff00"/></linearGradient>
<linearGradient id="g129" x1="0" y1="0" x2="0" y2="1"><stop offset="0" stop-color="#7600ff"/><stop offset=".112" stop-color="#0b00ff"/><stop offset=".135" stop-color="#000aff"/><stop offset=".315" stop-color="#00f6ff"/><stop offset=".337" stop-color="#00ffed"/><stop offset=".562" stop-color="#01ff00"/><stop offset=".989" stop-color="#ff0"/><stop offset="1" stop-color="#fff900"/></linearGradient>
<linearGradient id="g130" x1="0" y1="0" x2="0" y2="1"><stop offset="0" stop-color="#6b00ff"/><stop offset=".112" stop-color="#0001ff"/><stop offset=".135" stop-color="#0016ff"/><stop offset=".315" stop-color="#00fffc"/><stop offset=".539" stop-color="#00ff0b"/><stop offset=".562" stop-color="#0dff00"/><stop offset=".966" stop-color="#feff00"/><stop offset="1" stop-color="#ffed00"/></linearGradient>
<linearGradient id="g131" x1="0" y1="0" x2="0" y2="1"><stop offset="0" stop-color="#7300ff"/><stop offset=".112" stop-color="#0800ff"/><stop offset=".135" stop-color="#000dff"/><stop offset=".315" stop-color="#00faff"/><stop offset=".539" stop-color="#00ff13"/><stop offset=".562" stop-color="#05ff00"/><stop offset=".966" stop-color="#f5ff00"/><stop offset="1" stop-color="#fff500"/></linearGradient>
<linearGradient id="g132" x1="0" y1="0" x2="0" y2="1"><stop offset="0" stop-color="#8000ff"/><stop offset=".135" stop-color="#00f"/><stop offset=".315" stop-color="#0ef"/><stop offset=".337" stop-color="#00fff5"/><stop offset=".562" stop-color="#00ff08"/><stop offset=".584" stop-color="#09ff00"/><stop offset="1" stop-color="#fdff00"/></linearGradient>
<linearGradient id="g133" x1="0" y1="0" x2="0" y2="1"><stop offset="0" stop-color="#7b00ff"/><stop offset=".135" stop-color="#0005ff"/><stop offset=".315" stop-color="#00f3ff"/><stop offset=".337" stop-color="#00ffef"/><stop offset=".562" stop-color="#00ff02"/><stop offset="1" stop-color="#fffb00"/></linearGradient>
<linearGradient id="g134" x1="0" y1="0" x2="0" y2="1"><stop offset="0" stop-color="#7a00ff"/><stop offset=".135" stop-color="#0006ff"/><stop offset=".315" stop-color="#00f5ff"/><stop offset=".337" stop-color="#0fe"/><stop offset=".562" stop-color="#00ff01"/><stop offset="1" stop-color="#fffa00"/></linearGradient>
<linearGradient id="g135" x1="0" y1="0" x2="0" y2="1"><stop offset="0" stop-color="#7900ff"/><stop offset=".112" stop-color="#0e00ff"/><stop offset=".135" stop-color="#0008ff"/><stop offset=".315" stop-color="#00f7ff"/><stop offset=".337" stop-color="#00ffec"/><stop offset=".562" stop-color="#01ff00"/><stop offset=".966" stop-color="#f2ff00"/><stop offset="1" stop-color="#fff800"/></linearGradient>
<linearGradient id="g136" x1="0" y1="0" x2="0" y2="1"><stop offset="0" stop-color="#7f00ff"/><stop offset=".135" stop-color="#0002ff"/><stop offset=".315" stop-color="#00f5ff"/><stop offset=".337" stop-color="#00ffef"/><stop offset=".562" stop-color="#01ff00"/><stop offset="1" stop-color="#fffc00"/></linearGradient>
<linearGradient id="g137" x1="0" y1="0" x2="0" y2="1"><stop offset="0" stop-color="#7200ff"/><stop offset=".112" stop-color="#0400ff"/><stop offset=".135" stop-color="#0018ff"/><stop offset=".292" stop-color="#00fcff"/><stop offset=".517" stop-color="#00ff02"/><stop offset=".944" stop-color="#fbff00"/><stop offset="1" stop-color="#ffe000"/></linearGradient>
<linearGradient id="g138" x1="0" y1="0" x2="0" y2="1"><stop offset="0" stop-color="#70f"/><stop offset=".112" stop-color="#0800ff"/><stop offset=".135" stop-color="#0017ff"/><stop offset=".292" stop-color="#00fffb"/><stop offset=".494" stop-color="#00ff0f"/><stop offset=".517" stop-color="#04ff00"/><stop offset=".944" stop-color="#ff0"/><stop offset="1" stop-color="#ffd600"/></linearGradient>
<linearGradient id="g139" x1="0" y1="0" x2="0" y2="1"><stop offset="0" stop-color="#7400ff"/><stop offset=".112" stop-color="#0400ff"/><stop offset=".27" stop-color="#00e8ff"/><stop offset=".292" stop-color="#00fff6"/><stop offset=".494" stop-color="#00ff0b"/><stop offset=".517" stop-color="#08ff00"/><stop offset=".921" stop-color="#faff00"/><stop offset="1" stop-color="#ffcb00"/></linearGradient>
<linearGradient id="g140" x1="0" y1="0" x2="0" y2="1"><stop offset="0" stop-color="#7a00ff"/><stop offset=".112" stop-color="#0900ff"/><stop offset=".135" stop-color="#0018ff"/><stop offset=".292" stop-color="#00fffb"/><stop offset=".494" stop-color="#00ff10"/><stop offset=".517" stop-color="#02ff00"/><stop offset=".921" stop-color="#f9ff00"/><stop offset="1" stop-color="#ffca00"/></linearGradient>
<linearGradient id="g141" x1="0" y1="0" x2="0" y2="1"><stop offset="0" stop-color="#7800ff"/><stop offset=".112" stop-color="#0600ff"/><stop offset=".27" stop-color="#00e8ff"/><stop offset=".292" stop-color="#00fff8"/><stop offset=".494" stop-color="#00ff0c"/><stop offset=".517" stop-color="#06ff00"/><stop offset=".899" stop-color="#f3ff00"/><stop offset=".921" stop-color="#fffc00"/><stop offset="1" stop-color="#ffbf00"/></linearGradient>
<linearGradient id="g142" x1="0" y1="0" x2="0" y2="1"><stop offset="0" stop-color="#7400ff"/><stop offset=".112" stop-color="#0100ff"/><stop offset=".27" stop-color="#00ecff"/><stop offset=".292" stop-color="#00fff3"/><stop offset=".494" stop-color="#00ff08"/><stop offset=".517" stop-color="#0aff00"/><stop offset=".899" stop-color="#fbff00"/><stop offset="1" stop-color="#ffb300"/></linearGradient>
<linearGradient id="g143" x1="0" y1="0" x2="0" y2="1"><stop offset="0" stop-color="#6800ff"/><stop offset=".09" stop-color="#0c00ff"/><stop offset=".112" stop-color="#000cff"/><stop offset=".27" stop-color="#00fcff"/><stop offset=".472" stop-color="#00ff13"/><stop offset=".494" stop-color="#07ff00"/><stop offset=".876" stop-color="#feff00"/><stop offset="1" stop-color="#ff9f00"/></linearGradient>
<linearGradient id="g144" x1="0" y1="0" x2="0" y2="1"><stop offset="0" stop-color="#6500ff"/><stop offset=".09" stop-color="#0800ff"/><stop offset=".112" stop-color="#01f"/><stop offset=".27" stop-color="#00fff9"/><stop offset=".472" stop-color="#00ff0a"/><stop offset=".494" stop-color="#0eff00"/><stop offset=".854" stop-color="#f7ff00"/><stop offset=".876" stop-color="#fff800"/><stop offset="1" stop-color="#ff9500"/></linearGradient>
<linearGradient id="g145" x1="0" y1="0" x2="0" y2="1"><stop offset="0" stop-color="#6400ff"/><stop offset=".09" stop-color="#0800ff"/><stop offset=".112" stop-color="#0013ff"/><stop offset=".247" stop-color="#00e8ff"/><stop offset=".27" stop-color="#00fff4"/><stop offset=".472" stop-color="#00ff04"/><stop offset=".854" stop-color="#fcff00"/><stop offset="1" stop-color="#ff8e00"/></linearGradient>
<linearGradient id="g146" x1="0" y1="0" x2="0" y2="1"><stop offset="0" stop-color="#6900ff"/><stop offset=".09" stop-color="#0d00ff"/><stop offset=".112" stop-color="#0010ff"/><stop offset=".247" stop-color="#00e9ff"/><stop offset=".27" stop-color="#00fff5"/><stop offset=".472" stop-color="#00ff04"/><stop offset=".854" stop-color="#fcff00"/><stop offset="1" stop-color="#ff8d00"/></linearGradient>
<linearGradient id="g147" x1="0" y1="0" x2="0" y2="1"><stop offset="0" stop-color="#6800ff"/><stop offset=".09" stop-color="#0c00ff"/><stop offset=".112" stop-color="#0013ff"/><stop offset=".247" stop-color="#00edff"/><stop offset=".27" stop-color="#00fff2"/><stop offset=".472" stop-color="#0f0"/><stop offset=".854" stop-color="#fffc00"/><stop offset="1" stop-color="#ff8700"/></linearGradient>
<linearGradient id="g148" x1="0" y1="0" x2="0" y2="1"><stop offset="0" stop-color="#6000ff"/><stop offset=".09" stop-color="#0400ff"/><stop offset=".112" stop-color="#001cff"/><stop offset=".247" stop-color="#00f6ff"/><stop offset=".27" stop-color="#00ffea"/><stop offset=".449" stop-color="#0f1"/><stop offset=".472" stop-color="#07ff00"/><stop offset=".831" stop-color="#ff0"/><stop offset="1" stop-color="#ff7d00"/></linearGradient>
<linearGradient id="g149" x1="0" y1="0" x2="0" y2="1"><stop offset="0" stop-color="#6300ff"/><stop offset=".09" stop-color="#0600ff"/><stop offset=".112" stop-color="#001bff"/><stop offset=".247" stop-color="#00f5ff"/><stop offset=".27" stop-color="#00ffeb"/><stop offset=".449" stop-color="#0f1"/><stop offset=".472" stop-color="#05ff00"/><stop offset=".831" stop-color="#fffb00"/><stop offset="1" stop-color="#ff7e00"/></linearGradient>
<linearGradient id="g150" x1="0" y1="0" x2="0" y2="1"><stop offset="0" stop-color="#6700ff"/><stop offset=".09" stop-color="#0b00ff"/><stop offset=".112" stop-color="#0018ff"/><stop offset=".247" stop-color="#00f3ff"/><stop offset=".27" stop-color="#00ffef"/><stop offset=".449" stop-color="#00ff14"/><stop offset=".472" stop-color="#01ff00"/><stop offset=".831" stop-color="#fffa00"/><stop offset="1" stop-color="#ff8300"/></linearGradient>
<linearGradient id="g151" x1="0" y1="0" x2="0" y2="1"><stop offset="0" stop-color="#6100ff"/><stop offset=".09" stop-color="#0400ff"/><stop offset=".247" stop-color="#00faff"/><stop offset=".27" stop-color="#00ffe8"/><stop offset=".449" stop-color="#00ff0c"/><stop offset=".472" stop-color="#08ff00"/><stop offset=".809" stop-color="#fffe00"/><stop offset=".966" stop-color="#ff8d00"/><stop offset="1" stop-color="#ff7d00"/></linearGradient>
<linearGradient id="g152" x1="0" y1="0" x2="0" y2="1"><stop offset="0" stop-color="#5900ff"/><stop offset=".09" stop-color="#0006ff"/><stop offset=".225" stop-color="#00e2ff"/><stop offset=".247" stop-color="#00fff9"/><stop offset=".449" stop-color="#00ff02"/><stop offset=".787" stop-color="#fbff00"/><stop offset=".966" stop-color="#ff8300"/><stop offset="1" stop-color="#f70"/></linearGradient>
<linearGradient id="g153" x1="0" y1="0" x2="0" y2="1"><stop offset="0" stop-color="#5100ff"/><stop offset=".067" stop-color="#0a00ff"/><stop offset=".09" stop-color="#0013ff"/><stop offset=".225" stop-color="#00f2ff"/><stop offset=".247" stop-color="#00ffec"/><stop offset=".427" stop-color="#00ff13"/><stop offset=".449" stop-color="#06ff00"/><stop offset=".787" stop-color="#fffb00"/><stop offset=".966" stop-color="#ff7c00"/><stop offset="1" stop-color="#ff7200"/></linearGradient>
<linearGradient id="g154" x1="0" y1="0" x2="0" y2="1"><stop offset="0" stop-color="#5200ff"/><stop offset=".067" stop-color="#0b00ff"/><stop offset=".09" stop-color="#0017ff"/><stop offset=".225" stop-color="#00f9ff"/><stop offset=".247" stop-color="#00ffe9"/><stop offset=".427" stop-color="#00ff12"/><stop offset=".449" stop-color="#04ff00"/><stop offset=".787" stop-color="#fffc00"/><stop offset=".944" stop-color="#ff8c00"/><stop offset="1" stop-color="#f70"/></linearGradient>
<linearGradient id="g155" x1="0" y1="0" x2="0" y2="1"><stop offset="0" stop-color="#50f"/><stop offset=".067" stop-color="#0e00ff"/><stop offset=".09" stop-color="#0013ff"/><stop offset=".225" stop-color="#00f1ff"/><stop offset=".247" stop-color="#00fff0"/><stop offset=".449" stop-color="#00ff03"/><stop offset=".787" stop-color="#f7ff00"/><stop offset=".809" stop-color="#fff700"/><stop offset=".966" stop-color="#ff8500"/><stop offset="1" stop-color="#ff7c00"/></linearGradient>
<linearGradient id="g156" x1="0" y1="0" x2="0" y2="1"><stop offset="0" stop-color="#4d00ff"/><stop offset=".067" stop-color="#0700ff"/><stop offset=".09" stop-color="#0018ff"/><stop offset=".225" stop-color="#00efff"/><stop offset=".247" stop-color="#00ffef"/><stop offset=".449" stop-color="#00ff02"/><stop offset=".809" stop-color="#fffa00"/><stop offset=".966" stop-color="#ff8500"/><stop offset="1" stop-color="#ff7600"/></linearGradient>
<linearGradient id="g157" x1="0" y1="0" x2="0" y2="1"><stop offset="0" stop-color="#5200ff"/><stop offset=".067" stop-color="#0c00ff"/><stop offset=".09" stop-color="#01f"/><stop offset=".225" stop-color="#00e4ff"/><stop offset=".247" stop-color="#00fff9"/><stop offset=".449" stop-color="#00ff0d"/><stop offset=".472" stop-color="#08ff00"/><stop offset=".809" stop-color="#f7ff00"/><stop offset=".831" stop-color="#fff600"/><stop offset="1" stop-color="#ff7d00"/></linearGradient>
<linearGradient id="g158" x1="0" y1="0" x2="0" y2="1"><stop offset="0" stop-color="#4d00ff"/><stop offset=".067" stop-color="#0800ff"/><stop offset=".09" stop-color="#0016ff"/><stop offset=".225" stop-color="#00eaff"/><stop offset=".247" stop-color="#00fff3"/><stop offset=".449" stop-color="#00ff06"/><stop offset=".809" stop-color="#fffe00"/><stop offset=".966" stop-color="#ff8700"/><stop offset="1" stop-color="#f70"/></linearGradient>
<linearGradient id="g159" x1="0" y1="0" x2="0" y2="1"><stop offset="0" stop-color="#4900ff"/><stop offset=".067" stop-color="#0300ff"/><stop offset=".09" stop-color="#001cff"/><stop offset=".225" stop-color="#00f1ff"/><stop offset=".247" stop-color="#00ffed"/><stop offset=".449" stop-color="#03ff00"/><stop offset=".787" stop-color="#f8ff00"/><stop offset=".809" stop-color="#fff500"/><stop offset=".966" stop-color="#ff7e00"/><stop offset="1" stop-color="#ff7100"/></linearGradient>
<linearGradient id="g160" x1="0" y1="0" x2="0" y2="1"><stop offset="0" stop-color="#5400ff"/><stop offset=".067" stop-color="#0d00ff"/><stop offset=".09" stop-color="#0012ff"/><stop offset=".225" stop-color="#00e9ff"/><stop offset=".247" stop-color="#00fff6"/><stop offset=".449" stop-color="#00ff04"/><stop offset=".809" stop-color="#fffb00"/><stop offset=".966" stop-color="#ff8400"/><stop offset="1" stop-color="#ff7a00"/></linearGradient>
<linearGradient id="g161" x1="0" y1="0" x2="0" y2="1"><stop offset="0" stop-color="#5700ff"/><stop offset=".067" stop-color="#1000ff"/><stop offset=".09" stop-color="#0010ff"/><stop offset=".225" stop-color="#00e8ff"/><stop offset=".247" stop-color="#00fff8"/><stop offset=".449" stop-color="#00ff06"/><stop offset=".809" stop-color="#fff900"/><stop offset=".944" stop-color="#ff9300"/><stop offset="1" stop-color="#ff7c00"/></linearGradient>
<linearGradient id="g162" x1="0" y1="0" x2="0" y2="1"><stop offset="0" stop-color="#4f00ff"/><stop offset=".067" stop-color="#0700ff"/><stop offset=".09" stop-color="#0019ff"/><stop offset=".225" stop-color="#00f3ff"/><stop offset=".247" stop-color="#00ffed"/><stop offset=".427" stop-color="#00ff13"/><stop offset=".449" stop-color="#05ff00"/><stop offset=".787" stop-color="#fffd00"/><stop offset=".944" stop-color="#ff8600"/><stop offset="1" stop-color="#ff7200"/></linearGradient>
<linearGradient id="g163" x1="0" y1="0" x2="0" y2="1"><stop offset="0" stop-color="#4f00ff"/><stop offset=".067" stop-color="#0700ff"/><stop offset=".09" stop-color="#001bff"/><stop offset=".225" stop-color="#00f5ff"/><stop offset=".247" stop-color="#00ffeb"/><stop offset=".427" stop-color="#00ff0f"/><stop offset=".449" stop-color="#08ff00"/><stop offset=".764" stop-color="#f5ff00"/><stop offset=".787" stop-color="#fff800"/><stop offset=".944" stop-color="#ff8100"/><stop offset="1" stop-color="#ff7100"/></linearGradient>
<linearGradient id="g164" x1="0" y1="0" x2="0" y2="1"><stop offset="0" stop-color="#5000ff"/><stop offset=".067" stop-color="#0800ff"/><stop offset=".09" stop-color="#001bff"/><stop offset=".225" stop-color="#00f9ff"/><stop offset=".247" stop-color="#00ffe9"/><stop offset=".427" stop-color="#00ff0d"/><stop offset=".449" stop-color="#08ff00"/><stop offset=".764" stop-color="#f9ff00"/><stop offset=".921" stop-color="#ff8e00"/><stop offset="1" stop-color="#ff7200"/></linearGradient>
<linearGradient id="g165" x1="0" y1="0" x2="0" y2="1"><stop offset="0" stop-color="#4700ff"/><stop offset=".067" stop-color="#0001ff"/><stop offset=".202" stop-color="#00e1ff"/><stop offset=".225" stop-color="#00fff9"/><stop offset=".427" stop-color="#00ff01"/><stop offset=".742" stop-color="#f5ff00"/><stop offset=".764" stop-color="#fff800"/><stop offset=".921" stop-color="#ff8100"/><stop offset="1" stop-color="#ff6900"/></linearGradient>
<linearGradient id="g166" x1="0" y1="0" x2="0" y2="1"><stop offset="0" stop-color="#4200ff"/><stop offset=".045" stop-color="#1200ff"/><stop offset=".067" stop-color="#0009ff"/><stop offset=".202" stop-color="#00f6ff"/><stop offset=".225" stop-color="#00ffe8"/><stop offset=".404" stop-color="#00ff05"/><stop offset=".719" stop-color="#fffa00"/><stop offset=".899" stop-color="#ff7b00"/><stop offset="1" stop-color="#ff6000"/></linearGradient>
<linearGradient id="g167" x1="0" y1="0" x2="0" y2="1"><stop offset="0" stop-color="#4100ff"/><stop offset=".045" stop-color="#0f00ff"/><stop offset=".067" stop-color="#0013ff"/><stop offset=".18" stop-color="#00e8ff"/><stop offset=".202" stop-color="#00fff2"/><stop offset=".382" stop-color="#00ff03"/><stop offset=".652" stop-color="#fdff00"/><stop offset=".831" stop-color="#ff8900"/><stop offset="1" stop-color="#ff5600"/></linearGradient>
<linearGradient id="g168" x1="0" y1="0" x2="0" y2="1"><stop offset="0" stop-color="#3100ff"/><stop offset=".045" stop-color="#0001ff"/><stop offset=".067" stop-color="#0025ff"/><stop offset=".18" stop-color="#00fdff"/><stop offset=".202" stop-color="#00ffdf"/><stop offset=".36" stop-color="#00ff0d"/><stop offset=".382" stop-color="#0fff00"/><stop offset=".629" stop-color="#fcff00"/><stop offset=".831" stop-color="#ff7600"/><stop offset="1" stop-color="#ff4600"/></linearGradient>
<linearGradient id="g169" x1="0" y1="0" x2="0" y2="1"><stop offset="0" stop-color="#3500ff"/><stop offset=".045" stop-color="#0300ff"/><stop offset=".067" stop-color="#0023ff"/><stop offset=".18" stop-color="#0ff"/><stop offset=".36" stop-color="#00ff0e"/><stop offset=".382" stop-color="#0dff00"/><stop offset=".629" stop-color="#fdff00"/><stop offset=".831" stop-color="#ff7a00"/><stop offset="1" stop-color="#ff4a00"/></linearGradient>
<linearGradient id="g170" x1="0" y1="0" x2="0" y2="1"><stop offset="0" stop-color="#3a00ff"/><stop offset=".045" stop-color="#0800ff"/><stop offset=".067" stop-color="#0021ff"/><stop offset=".18" stop-color="#0ff"/><stop offset=".36" stop-color="#00ff0f"/><stop offset=".382" stop-color="#0aff00"/><stop offset=".629" stop-color="#fdff00"/><stop offset=".809" stop-color="#ff8700"/><stop offset="1" stop-color="#ff4f00"/></linearGradient>
<linearGradient id="g171" x1="0" y1="0" x2="0" y2="1"><stop offset="0" stop-color="#3a00ff"/><stop offset=".045" stop-color="#0800ff"/><stop offset=".067" stop-color="#0023ff"/><stop offset=".157" stop-color="#00d9ff"/><stop offset=".18" stop-color="#00fffc"/><stop offset=".36" stop-color="#00ff0c"/><stop offset=".382" stop-color="#0cff00"/><stop offset=".629" stop-color="#fffe00"/><stop offset=".809" stop-color="#ff8400"/><stop offset="1" stop-color="#ff4f00"/></linearGradient>
<linearGradient id="g172" x1="0" y1="0" x2="0" y2="1"><stop offset="0" stop-color="#2c00ff"/><stop offset=".045" stop-color="#0006ff"/><stop offset=".157" stop-color="#00edff"/><stop offset=".18" stop-color="#00ffeb"/><stop offset=".36" stop-color="#05ff00"/><stop offset=".607" stop-color="#feff00"/><stop offset=".809" stop-color="#f70"/><stop offset="1" stop-color="#ff4100"/></linearGradient>
<linearGradient id="g173" x1="0" y1="0" x2="0" y2="1"><stop offset="0" stop-color="#2f00ff"/><stop offset=".045" stop-color="#0004ff"/><stop offset=".157" stop-color="#00f1ff"/><stop offset=".18" stop-color="#00ffe9"/><stop offset=".337" stop-color="#00ff16"/><stop offset=".36" stop-color="#07ff00"/><stop offset=".607" stop-color="#fffe00"/><stop offset=".787" stop-color="#ff8200"/><stop offset="1" stop-color="#ff4300"/></linearGradient>
<linearGradient id="g174" x1="0" y1="0" x2="0" y2="1"><stop offset="0" stop-color="#2800ff"/><stop offset=".022" stop-color="#0f00ff"/><stop offset=".045" stop-color="#000dff"/><stop offset=".157" stop-color="#0ff"/><stop offset=".337" stop-color="#00ff08"/><stop offset=".36" stop-color="#13ff00"/><stop offset=".584" stop-color="#f6ff00"/><stop offset=".607" stop-color="#fff400"/><stop offset=".787" stop-color="#ff7800"/><stop offset="1" stop-color="#ff3c00"/></linearGradient>
<linearGradient id="g175" x1="0" y1="0" x2="0" y2="1"><stop offset="0" stop-color="#2d00ff"/><stop offset=".045" stop-color="#0009ff"/><stop offset=".157" stop-color="#00fffd"/><stop offset=".337" stop-color="#00ff06"/><stop offset=".584" stop-color="#f6ff00"/><stop offset=".607" stop-color="#fff600"/><stop offset=".787" stop-color="#ff7d00"/><stop offset="1" stop-color="#ff4000"/></linearGradient>
<linearGradient id="g176" x1="0" y1="0" x2="0" y2="1"><stop offset="0" stop-color="#3000ff"/><stop offset=".045" stop-color="#0009ff"/><stop offset=".135" stop-color="#00d5ff"/><stop offset=".157" stop-color="#00fffb"/><stop offset=".337" stop-color="#00ff02"/><stop offset=".584" stop-color="#f8ff00"/><stop offset=".764" stop-color="#ff8700"/><stop offset="1" stop-color="#ff4200"/></linearGradient>
<linearGradient id="g177" x1="0" y1="0" x2="0" y2="1"><stop offset="0" stop-color="#2e00ff"/><stop offset=".022" stop-color="#1500ff"/><stop offset=".045" stop-color="#000dff"/><stop offset=".135" stop-color="#00deff"/><stop offset=".157" stop-color="#00fff5"/><stop offset=".315" stop-color="#00ff17"/><stop offset=".337" stop-color="#05ff00"/><stop offset=".584" stop-color="#feff00"/><stop offset=".764" stop-color="#ff8300"/><stop offset="1" stop-color="#ff3f00"/></linearGradient>
<linearGradient id="g178" x1="0" y1="0" x2="0" y2="1"><stop offset="0" stop-color="#2600ff"/><stop offset=".022" stop-color="#0d00ff"/><stop offset=".045" stop-color="#0017ff"/><stop offset=".135" stop-color="#00efff"/><stop offset=".157" stop-color="#00ffe8"/><stop offset=".315" stop-color="#00ff08"/><stop offset=".337" stop-color="#12ff00"/><stop offset=".562" stop-color="#f6ff00"/><stop offset=".584" stop-color="#fff500"/><stop offset=".764" stop-color="#ff7a00"/><stop offset="1" stop-color="#ff3600"/></linearGradient>
<linearGradient id="g179" x1="0" y1="0" x2="0" y2="1"><stop offset="0" stop-color="#2100ff"/><stop offset=".022" stop-color="#0800ff"/><stop offset=".045" stop-color="#001eff"/><stop offset=".135" stop-color="#00fcff"/><stop offset=".157" stop-color="#00ffde"/><stop offset=".315" stop-color="#04ff00"/><stop offset=".562" stop-color="#ff0"/><stop offset=".742" stop-color="#ff7e00"/><stop offset="1" stop-color="#ff3100"/></linearGradient>
<linearGradient id="g180" x1="0" y1="0" x2="0" y2="1"><stop offset="0" stop-color="#2800ff"/><stop offset=".022" stop-color="#0f00ff"/><stop offset=".045" stop-color="#001aff"/><stop offset=".135" stop-color="#00fdff"/><stop offset=".157" stop-color="#00ffe0"/><stop offset=".315" stop-color="#02ff00"/><stop offset=".562" stop-color="#fdff00"/><stop offset=".742" stop-color="#ff8200"/><stop offset="1" stop-color="#ff3700"/></linearGradient>
<linearGradient id="g181" x1="0" y1="0" x2="0" y2="1"><stop offset="0" stop-color="#2100ff"/><stop offset=".022" stop-color="#0800ff"/><stop offset=".045" stop-color="#0021ff"/><stop offset=".135" stop-color="#00fff9"/><stop offset=".292" stop-color="#00ff14"/><stop offset=".315" stop-color="#0aff00"/><stop offset=".539" stop-color="#f0ff00"/><stop offset=".562" stop-color="#fff800"/><stop offset=".742" stop-color="#ff7900"/><stop offset="1" stop-color="#ff2f00"/></linearGradient>
<linearGradient id="g182" x1="0" y1="0" x2="0" y2="1"><stop offset="0" stop-color="#2600ff"/><stop offset=".022" stop-color="#0d00ff"/><stop offset=".045" stop-color="#001cff"/><stop offset=".135" stop-color="#00fffd"/><stop offset=".292" stop-color="#00ff18"/><stop offset=".315" stop-color="#06ff00"/><stop offset=".562" stop-color="#fffb00"/><stop offset=".742" stop-color="#ff7e00"/><stop offset="1" stop-color="#f30"/></linearGradient>
<linearGradient id="g183" x1="0" y1="0" x2="0" y2="1"><stop offset="0" stop-color="#2900ff"/><stop offset=".022" stop-color="#1000ff"/><stop offset=".045" stop-color="#0019ff"/><stop offset=".135" stop-color="#00feff"/><stop offset=".315" stop-color="#04ff00"/><stop offset=".562" stop-color="#fffd00"/><stop offset=".742" stop-color="#ff8000"/><stop offset="1" stop-color="#ff3600"/></linearGradient>
<linearGradient id="g184" x1="0" y1="0" x2="0" y2="1"><stop offset="0" stop-color="#2600ff"/><stop offset=".022" stop-color="#0d00ff"/><stop offset=".045" stop-color="#001dff"/><stop offset=".135" stop-color="#00fffb"/><stop offset=".292" stop-color="#00ff16"/><stop offset=".315" stop-color="#08ff00"/><stop offset=".539" stop-color="#f3ff00"/><stop offset=".562" stop-color="#fff700"/><stop offset=".719" stop-color="#ff8400"/><stop offset="1" stop-color="#ff3100"/></linearGradient>
<linearGradient id="g185" x1="0" y1="0" x2="0" y2="1"><stop offset="0" stop-color="#3600ff"/><stop offset=".022" stop-color="#1d00ff"/><stop offset=".045" stop-color="#000dff"/><stop offset=".135" stop-color="#00f4ff"/><stop offset=".157" stop-color="#00ffea"/><stop offset=".315" stop-color="#00ff07"/><stop offset=".337" stop-color="#10ff00"/><stop offset=".562" stop-color="#f9ff00"/><stop offset=".719" stop-color="#ff9100"/><stop offset="1" stop-color="#ff4100"/></linearGradient>
<linearGradient id="g186" x1="0" y1="0" x2="0" y2="1"><stop offset="0" stop-color="#3000ff"/><stop offset=".022" stop-color="#1700ff"/><stop offset=".045" stop-color="#0013ff"/><stop offset=".135" stop-color="#00fbff"/><stop offset=".157" stop-color="#00ffe2"/><stop offset=".315" stop-color="#0f0"/><stop offset=".539" stop-color="#ef0"/><stop offset=".562" stop-color="#fffd00"/><stop offset=".719" stop-color="#ff8900"/><stop offset="1" stop-color="#ff3a00"/></linearGradient>
<linearGradient id="g187" x1="0" y1="0" x2="0" y2="1"><stop offset="0" stop-color="#3b00ff"/><stop offset=".045" stop-color="#0009ff"/><stop offset=".135" stop-color="#00f1ff"/><stop offset=".157" stop-color="#00ffec"/><stop offset=".292" stop-color="#00ff27"/><stop offset=".315" stop-color="#00ff0a"/><stop offset=".337" stop-color="#0eff00"/><stop offset=".562" stop-color="#f9ff00"/><stop offset=".719" stop-color="#ff9200"/><stop offset="1" stop-color="#ff4300"/></linearGradient>
<linearGradient id="g188" x1="0" y1="0" x2="0" y2="1"><stop offset="0" stop-color="#2400ff"/><stop offset=".022" stop-color="#0b00ff"/><stop offset=".045" stop-color="#001fff"/><stop offset=".112" stop-color="#00d3ff"/><stop offset=".135" stop-color="#00fff6"/><stop offset=".292" stop-color="#00ff0f"/><stop offset=".315" stop-color="#0dff00"/><stop offset=".539" stop-color="#fffe00"/><stop offset=".719" stop-color="#ff7b00"/><stop offset="1" stop-color="#ff2d00"/></linearGradient>
<linearGradient id="g189" x1="0" y1="0" x2="0" y2="1"><stop offset="0" stop-color="#1500ff"/><stop offset=".022" stop-color="#0004ff"/><stop offset=".045" stop-color="#002fff"/><stop offset=".112" stop-color="#00e3ff"/><stop offset=".135" stop-color="#00ffe6"/><stop offset=".292" stop-color="#0f0"/><stop offset=".517" stop-color="#f8ff00"/><stop offset=".719" stop-color="#ff6c00"/><stop offset="1" stop-color="#ff1d00"/></linearGradient>
<linearGradient id="g190" x1="0" y1="0" x2="0" y2="1"><stop offset="0" stop-color="#20f"/><stop offset=".022" stop-color="#0900ff"/><stop offset=".045" stop-color="#0024ff"/><stop offset=".112" stop-color="#00d8ff"/><stop offset=".135" stop-color="#00fff2"/><stop offset=".292" stop-color="#00ff0c"/><stop offset=".315" stop-color="#10ff00"/><stop offset=".517" stop-color="#ef0"/><stop offset=".539" stop-color="#fff900"/><stop offset=".697" stop-color="#ff8100"/><stop offset="1" stop-color="#ff2900"/></linearGradient>
<linearGradient id="g191" x1="0" y1="0" x2="0" y2="1"><stop offset="0" stop-color="#2700ff"/><stop offset=".022" stop-color="#0d00ff"/><stop offset=".045" stop-color="#0020ff"/><stop offset=".112" stop-color="#00d5ff"/><stop offset=".135" stop-color="#00fff6"/><stop offset=".292" stop-color="#0f1"/><stop offset=".315" stop-color="#0cff00"/><stop offset=".539" stop-color="#fffd00"/><stop offset=".697" stop-color="#ff8500"/><stop offset="1" stop-color="#ff2e00"/></linearGradient>
<linearGradient id="g192" x1="0" y1="0" x2="0" y2="1"><stop offset="0" stop-color="#2300ff"/><stop offset=".022" stop-color="#0a00ff"/><stop offset=".045" stop-color="#0025ff"/><stop offset=".112" stop-color="#00daff"/><stop offset=".135" stop-color="#00fff2"/><stop offset=".292" stop-color="#00ff0d"/><stop offset=".315" stop-color="#0fff00"/><stop offset=".517" stop-color="#f0ff00"/><stop offset=".539" stop-color="#fff800"/><stop offset=".697" stop-color="#ff7f00"/><stop offset="1" stop-color="#ff2a00"/></linearGradient>
<linearGradient id="g193" x1="0" y1="0" x2="0" y2="1"><stop offset="0" stop-color="#20f"/><stop offset=".022" stop-color="#0900ff"/><stop offset=".045" stop-color="#0026ff"/><stop offset=".112" stop-color="#00dcff"/><stop offset=".135" stop-color="#00fff1"/><stop offset=".292" stop-color="#00ff0c"/><stop offset=".315" stop-color="#10ff00"/><stop offset=".517" stop-color="#f2ff00"/><stop offset=".539" stop-color="#fff600"/><stop offset=".697" stop-color="#ff7e00"/><stop offset="1" stop-color="#ff2a00"/></linearGradient>
<linearGradient id="g194" x1="0" y1="0" x2="0" y2="1"><stop offset="0" stop-color="#1500ff"/><stop offset=".022" stop-color="#0004ff"/><stop offset=".045" stop-color="#0034ff"/><stop offset=".112" stop-color="#00eaff"/><stop offset=".135" stop-color="#00ffe3"/><stop offset=".292" stop-color="#02ff00"/><stop offset=".517" stop-color="#fffd00"/><stop offset=".697" stop-color="#ff7100"/><stop offset="1" stop-color="#ff1d00"/></linearGradient>
<linearGradient id="g195" x1="0" y1="0" x2="0" y2="1"><stop offset="0" stop-color="#1600ff"/><stop offset=".022" stop-color="#0004ff"/><stop offset=".045" stop-color="#0035ff"/><stop offset=".112" stop-color="#00ebff"/><stop offset=".135" stop-color="#00ffe4"/><stop offset=".292" stop-color="#02ff00"/><stop offset=".517" stop-color="#fffc00"/><stop offset=".697" stop-color="#ff7100"/><stop offset="1" stop-color="#ff1e00"/></linearGradient>
<linearGradient id="g196" x1="0" y1="0" x2="0" y2="1"><stop offset="0" stop-color="#1300ff"/><stop offset=".022" stop-color="#0007ff"/><stop offset=".045" stop-color="#0038ff"/><stop offset=".112" stop-color="#0ef"/><stop offset=".135" stop-color="#00ffe1"/><stop offset=".292" stop-color="#04ff00"/><stop offset=".494" stop-color="#edff00"/><stop offset=".517" stop-color="#fff800"/><stop offset=".697" stop-color="#ff6e00"/><stop offset="1" stop-color="#ff1c00"/></linearGradient>
<linearGradient id="g197" x1="0" y1="0" x2="0" y2="1"><stop offset="0" stop-color="#14ff00"/><stop offset=".25" stop-color="#02ff00"/><stop offset=".409" stop-color="#00ffa7"/><stop offset=".523" stop-color="#00ffe6"/><stop offset=".682" stop-color="#00ff6d"/><stop offset=".75" stop-color="#00ff60"/><stop offset=".818" stop-color="#00ff7b"/><stop offset=".864" stop-color="#0f9"/><stop offset=".886" stop-color="#00ffb8"/><stop offset=".909" stop-color="#00ffe2"/><stop offset=".932" stop-color="#00e7ff"/><stop offset=".955" stop-color="#00c4ff"/><stop offset=".977" stop-color="#00c8ff"/><stop offset="1" stop-color="#00e8ff"/></linearGradient>
<linearGradient id="g198" x1="0" y1="0" x2="0" y2="1"><stop offset="0" stop-color="#0eff00"/><stop offset=".25" stop-color="#00ff04"/><stop offset=".409" stop-color="#00ffad"/><stop offset=".523" stop-color="#00ffef"/><stop offset=".659" stop-color="#00ff9a"/><stop offset=".705" stop-color="#00ff87"/><stop offset=".75" stop-color="#00ff82"/><stop offset=".841" stop-color="#00ff8b"/><stop offset=".864" stop-color="#00ff95"/><stop offset=".955" stop-color="#00fffb"/><stop offset=".977" stop-color="#00feff"/><stop offset="1" stop-color="#00fff2"/></linearGradient>
<linearGradient id="g199" x1="0" y1="0" x2="0" y2="1"><stop offset="0" stop-color="#1f0"/><stop offset=".25" stop-color="#00ff02"/><stop offset=".409" stop-color="#00ffa8"/><stop offset=".523" stop-color="#00ffe8"/><stop offset=".659" stop-color="#00ffa2"/><stop offset=".841" stop-color="#00ff79"/><stop offset=".909" stop-color="#00ff85"/><stop offset="1" stop-color="#00ffb0"/></linearGradient>
<linearGradient id="g200" x1="0" y1="0" x2="0" y2="1"><stop offset="0" stop-color="#10ff00"/><stop offset=".25" stop-color="#00ff02"/><stop offset=".409" stop-color="#00ff90"/><stop offset=".523" stop-color="#0fd"/><stop offset=".591" stop-color="#00ffd4"/><stop offset=".841" stop-color="#00ff8e"/><stop offset=".886" stop-color="#00ff98"/><stop offset=".977" stop-color="#00ffca"/><stop offset="1" stop-color="#00ffce"/></linearGradient>
<linearGradient id="g201" x1="0" y1="0" x2="0" y2="1"><stop offset="0" stop-color="#18ff00"/><stop offset=".25" stop-color="#06ff00"/><stop offset=".386" stop-color="#00ff71"/><stop offset=".455" stop-color="#00ffb5"/><stop offset=".523" stop-color="#00ffc8"/><stop offset=".591" stop-color="#00ffb0"/><stop offset=".727" stop-color="#00ff5f"/><stop offset=".773" stop-color="#00ff57"/><stop offset=".818" stop-color="#00ff5d"/><stop offset=".864" stop-color="#00ff74"/><stop offset=".977" stop-color="#00ffe1"/><stop offset="1" stop-color="#00ffe7"/></linearGradient>
<linearGradient id="g202" x1="0" y1="0" x2="0" y2="1"><stop offset="0" stop-color="#1bff00"/><stop offset=".25" stop-color="#07ff00"/><stop offset=".364" stop-color="#00ff6f"/><stop offset=".455" stop-color="#00ffd9"/><stop offset=".523" stop-color="#0fd"/><stop offset=".682" stop-color="#00ff69"/><stop offset=".727" stop-color="#00ff53"/><stop offset=".773" stop-color="#00ff4c"/><stop offset=".841" stop-color="#00ff5e"/><stop offset=".955" stop-color="#00ffcf"/><stop offset=".977" stop-color="#00ffe3"/><stop offset="1" stop-color="#00ffe9"/></linearGradient>
<linearGradient id="g203" x1="0" y1="0" x2="0" y2="1"><stop offset="0" stop-color="#19ff00"/><stop offset=".25" stop-color="#05ff00"/><stop offset=".409" stop-color="#00ffa5"/><stop offset=".523" stop-color="#00fff0"/><stop offset=".659" stop-color="#00ffc5"/><stop offset=".841" stop-color="#00ffb0"/><stop offset=".977" stop-color="#00fff5"/><stop offset="1" stop-color="#00fff5"/></linearGradient>
<linearGradient id="g204" x1="0" y1="0" x2="0" y2="1"><stop offset="0" stop-color="#1cff00"/><stop offset=".25" stop-color="#07ff00"/><stop offset=".409" stop-color="#00ffa3"/><stop offset=".523" stop-color="#00ffe8"/><stop offset=".636" stop-color="#0fa"/><stop offset=".682" stop-color="#00ff9f"/><stop offset=".864" stop-color="#00ffb9"/><stop offset=".977" stop-color="#00fff4"/><stop offset="1" stop-color="#00fff4"/></linearGradient>
<linearGradient id="g205" x1="0" y1="0" x2="0" y2="1"><stop offset="0" stop-color="#13ff00"/><stop offset=".25" stop-color="#00ff02"/><stop offset=".409" stop-color="#00ffac"/><stop offset=".523" stop-color="#0fe"/><stop offset=".636" stop-color="#00ffa6"/><stop offset=".682" stop-color="#00ff9b"/><stop offset=".864" stop-color="#00ffc2"/><stop offset=".977" stop-color="#00fffd"/><stop offset="1" stop-color="#00fffd"/></linearGradient>
<linearGradient id="g206" x1="0" y1="0" x2="0" y2="1"><stop offset="0" stop-color="#1cff00"/><stop offset=".25" stop-color="#07ff00"/><stop offset=".409" stop-color="#00ff9d"/><stop offset=".523" stop-color="#00ffe4"/><stop offset=".659" stop-color="#00ffc5"/><stop offset=".841" stop-color="#00ffb5"/><stop offset=".977" stop-color="#00fff4"/><stop offset="1" stop-color="#00fff4"/></linearGradient>
<linearGradient id="g207" x1="0" y1="0" x2="0" y2="1"><stop offset="0" stop-color="#10ff00"/><stop offset=".25" stop-color="#00ff06"/><stop offset=".341" stop-color="#00ff61"/><stop offset=".409" stop-color="#0f9"/><stop offset=".477" stop-color="#00ffb4"/><stop offset=".523" stop-color="#00ffd3"/><stop offset=".636" stop-color="#00ffd3"/><stop offset=".841" stop-color="#00ffc2"/><stop offset=".977" stop-color="#00feff"/><stop offset="1" stop-color="#00feff"/></linearGradient>
<linearGradient id="g208" x1="0" y1="0" x2="0" y2="1"><stop offset="0" stop-color="#1cff00"/><stop offset=".25" stop-color="#08ff00"/><stop offset=".273" stop-color="#00ff0f"/><stop offset=".409" stop-color="#00ff85"/><stop offset=".523" stop-color="#00ffad"/><stop offset=".636" stop-color="#00ff7d"/><stop offset=".705" stop-color="#00ff7a"/><stop offset=".841" stop-color="#00ffa2"/><stop offset=".977" stop-color="#00fff1"/><stop offset="1" stop-color="#00fff2"/></linearGradient>
<linearGradient id="g209" x1="0" y1="0" x2="0" y2="1"><stop offset="0" stop-color="#16ff00"/><stop offset=".25" stop-color="#03ff00"/><stop offset=".409" stop-color="#00ff82"/><stop offset=".523" stop-color="#00ff9c"/><stop offset=".636" stop-color="#00ff40"/><stop offset=".659" stop-color="#00ff36"/><stop offset=".705" stop-color="#00ff38"/><stop offset=".841" stop-color="#00ff80"/><stop offset=".977" stop-color="#0fd"/><stop offset="1" stop-color="#00ffe0"/></linearGradient>
<linearGradient id="g210" x1="0" y1="0" x2="0" y2="1"><stop offset="0" stop-color="#1fff00"/><stop offset=".25" stop-color="#09ff00"/><stop offset=".273" stop-color="#00ff0e"/><stop offset=".409" stop-color="#00ff95"/><stop offset=".523" stop-color="#00ffdc"/><stop offset=".727" stop-color="#00ffa8"/><stop offset=".864" stop-color="#00ff74"/><stop offset=".932" stop-color="#00ff83"/><stop offset="1" stop-color="#00ff9f"/></linearGradient>
<linearGradient id="g211" x1="0" y1="0" x2="0" y2="1"><stop offset="0" stop-color="#15ff00"/><stop offset=".25" stop-color="#00ff03"/><stop offset=".409" stop-color="#00ffad"/><stop offset=".523" stop-color="#00fff9"/><stop offset=".841" stop-color="#00ff8f"/><stop offset=".886" stop-color="#00ff93"/><stop offset="1" stop-color="#0fb"/></linearGradient>
<linearGradient id="g212" x1="0" y1="0" x2="0" y2="1"><stop offset="0" stop-color="#19ff00"/><stop offset=".25" stop-color="#0f0"/><stop offset=".409" stop-color="#0fa"/><stop offset=".523" stop-color="#00fff3"/><stop offset=".591" stop-color="#00ffd1"/><stop offset=".682" stop-color="#00ff7f"/><stop offset=".727" stop-color="#00ff68"/><stop offset=".773" stop-color="#00ff70"/><stop offset=".932" stop-color="#00ffd2"/><stop offset=".977" stop-color="#00ffeb"/><stop offset="1" stop-color="#00ffec"/></linearGradient>
<linearGradient id="g213" x1="0" y1="0" x2="0" y2="1"><stop offset="0" stop-color="#1aff00"/><stop offset=".25" stop-color="#01ff00"/><stop offset=".409" stop-color="#00ffa8"/><stop offset=".523" stop-color="#00fff0"/><stop offset=".682" stop-color="#00ffb7"/><stop offset=".75" stop-color="#00ffac"/><stop offset=".841" stop-color="#00ffb2"/><stop offset=".977" stop-color="#00fff5"/><stop offset="1" stop-color="#00fff5"/></linearGradient>
<linearGradient id="g214" x1="0" y1="0" x2="0" y2="1"><stop offset="0" stop-color="#19ff00"/><stop offset=".25" stop-color="#00ff01"/><stop offset=".409" stop-color="#00ffa1"/><stop offset=".523" stop-color="#00ffd5"/><stop offset=".591" stop-color="#00ffc6"/><stop offset=".841" stop-color="#00ffbd"/><stop offset=".977" stop-color="#00fff7"/><stop offset="1" stop-color="#00fff7"/></linearGradient>
<linearGradient id="g215" x1="0" y1="0" x2="0" y2="1"><stop offset="0" stop-color="#20ff00"/><stop offset=".25" stop-color="#06ff00"/><stop offset=".409" stop-color="#00ff94"/><stop offset=".455" stop-color="#00ffa1"/><stop offset=".523" stop-color="#00ffae"/><stop offset=".591" stop-color="#00ff86"/><stop offset=".659" stop-color="#00ff7c"/><stop offset=".75" stop-color="#00ff97"/><stop offset=".864" stop-color="#00ffa2"/><stop offset=".977" stop-color="#00ffde"/><stop offset="1" stop-color="#00ffe0"/></linearGradient>
<linearGradient id="g216" x1="0" y1="0" x2="0" y2="1"><stop offset="0" stop-color="#27ff00"/><stop offset=".25" stop-color="#0cff00"/><stop offset=".273" stop-color="#00ff0d"/><stop offset=".409" stop-color="#00ff96"/><stop offset=".477" stop-color="#00ffad"/><stop offset=".523" stop-color="#00ffaf"/><stop offset=".614" stop-color="#00ff49"/><stop offset=".659" stop-color="#00ff2d"/><stop offset=".773" stop-color="#00ff41"/><stop offset=".864" stop-color="#00ff41"/><stop offset="1" stop-color="#00ff98"/></linearGradient>
<linearGradient id="g217" x1="0" y1="0" x2="0" y2="1"><stop offset="0" stop-color="#31ff00"/><stop offset=".25" stop-color="#15ff00"/><stop offset=".273" stop-color="#00ff03"/><stop offset=".409" stop-color="#00ff95"/><stop offset=".523" stop-color="#00ffd2"/><stop offset=".659" stop-color="#00ff90"/><stop offset=".841" stop-color="#00ff75"/><stop offset=".864" stop-color="#00ff79"/><stop offset=".977" stop-color="#00ffb9"/><stop offset="1" stop-color="#00ffbe"/></linearGradient>
<linearGradient id="g218" x1="0" y1="0" x2="0" y2="1"><stop offset="0" stop-color="#21ff00"/><stop offset=".25" stop-color="#05ff00"/><stop offset=".409" stop-color="#00ffa8"/><stop offset=".523" stop-color="#00fff1"/><stop offset=".636" stop-color="#0fc"/><stop offset=".795" stop-color="#00ff81"/><stop offset=".841" stop-color="#00ff79"/><stop offset=".864" stop-color="#00ff80"/><stop offset=".977" stop-color="#00ffd7"/><stop offset="1" stop-color="#00ffde"/></linearGradient>
<linearGradient id="g219" x1="0" y1="0" x2="0" y2="1"><stop offset="0" stop-color="#24ff00"/><stop offset=".25" stop-color="#07ff00"/><stop offset=".273" stop-color="#00ff12"/><stop offset=".409" stop-color="#00ffa7"/><stop offset=".523" stop-color="#00ffef"/><stop offset=".636" stop-color="#00ffca"/><stop offset=".795" stop-color="#00ff78"/><stop offset=".841" stop-color="#00ff70"/><stop offset=".864" stop-color="#0f7"/><stop offset=".977" stop-color="#00ffd2"/><stop offset="1" stop-color="#00ffd9"/></linearGradient>
<linearGradient id="g220" x1="0" y1="0" x2="0" y2="1"><stop offset="0" stop-color="#25ff00"/><stop offset=".25" stop-color="#07ff00"/><stop offset=".273" stop-color="#00ff12"/><stop offset=".409" stop-color="#00ffa7"/><stop offset=".523" stop-color="#00ffef"/><stop offset=".841" stop-color="#00ffa6"/><stop offset=".977" stop-color="#00ffe0"/><stop offset="1" stop-color="#00ffe2"/></linearGradient>
<linearGradient id="g221" x1="0" y1="0" x2="0" y2="1"><stop offset="0" stop-color="#2f0"/><stop offset=".25" stop-color="#03ff00"/><stop offset=".409" stop-color="#00ffac"/><stop offset=".523" stop-color="#00fff3"/><stop offset=".841" stop-color="#00ff93"/><stop offset=".864" stop-color="#00ff96"/><stop offset="1" stop-color="#00ffd8"/></linearGradient>
<linearGradient id="g222" x1="0" y1="0" x2="0" y2="1"><stop offset="0" stop-color="#1f0"/><stop offset=".136" stop-color="#0f0"/><stop offset=".25" stop-color="#00ff0e"/><stop offset=".409" stop-color="#00ffbe"/><stop offset=".523" stop-color="#00faff"/><stop offset=".636" stop-color="#00ffe1"/><stop offset=".795" stop-color="#00ff92"/><stop offset=".841" stop-color="#00ff84"/><stop offset=".886" stop-color="#00ff92"/><stop offset="1" stop-color="#00ffdb"/></linearGradient>
<linearGradient id="g223" x1="0" y1="0" x2="0" y2="1"><stop offset="0" stop-color="#21ff00"/><stop offset=".25" stop-color="#01ff00"/><stop offset=".409" stop-color="#00ffb0"/><stop offset=".523" stop-color="#00fff4"/><stop offset=".75" stop-color="#00ffa7"/><stop offset=".841" stop-color="#00ff98"/><stop offset="1" stop-color="#00ffde"/></linearGradient>
<linearGradient id="g224" x1="0" y1="0" x2="0" y2="1"><stop offset="0" stop-color="#1cff00"/><stop offset=".25" stop-color="#00ff05"/><stop offset=".409" stop-color="#00ffb5"/><stop offset=".523" stop-color="#00fff1"/><stop offset=".705" stop-color="#00ff92"/><stop offset=".773" stop-color="#00ff81"/><stop offset=".841" stop-color="#0f8"/><stop offset=".977" stop-color="#0fd"/><stop offset="1" stop-color="#00ffe2"/></linearGradient>
<linearGradient id="g225" x1="0" y1="0" x2="0" y2="1"><stop offset="0" stop-color="#1dff00"/><stop offset=".25" stop-color="#00ff04"/><stop offset=".409" stop-color="#00ffb5"/><stop offset=".523" stop-color="#00ffe6"/><stop offset=".659" stop-color="#0f8"/><stop offset=".727" stop-color="#00ff72"/><stop offset=".818" stop-color="#00ff8b"/><stop offset=".932" stop-color="#00ffd0"/><stop offset="1" stop-color="#00ffe7"/></linearGradient>
<linearGradient id="g226" x1="0" y1="0" x2="0" y2="1"><stop offset="0" stop-color="#16ff00"/><stop offset=".159" stop-color="#01ff00"/><stop offset=".25" stop-color="#00ff0b"/><stop offset=".409" stop-color="#00ffbe"/><stop offset=".523" stop-color="#00fcff"/><stop offset=".659" stop-color="#00ffcd"/><stop offset=".75" stop-color="#00ffbf"/><stop offset=".841" stop-color="#00ffc1"/><stop offset="1" stop-color="#00ffef"/></linearGradient>
<linearGradient id="g227" x1="0" y1="0" x2="0" y2="1"><stop offset="0" stop-color="#20ff00"/><stop offset=".25" stop-color="#00ff01"/><stop offset=".409" stop-color="#00ffb8"/><stop offset=".5" stop-color="#00feff"/><stop offset=".523" stop-color="#00f1ff"/><stop offset=".545" stop-color="#00fbff"/><stop offset=".659" stop-color="#00ffb7"/><stop offset=".705" stop-color="#00ffab"/><stop offset=".841" stop-color="#0fb"/><stop offset="1" stop-color="#00ffe4"/></linearGradient>
<linearGradient id="g228" x1="0" y1="0" x2="0" y2="1"><stop offset="0" stop-color="#1bff00"/><stop offset=".25" stop-color="#00ff05"/><stop offset=".409" stop-color="#00ffb9"/><stop offset=".523" stop-color="#00feff"/><stop offset=".659" stop-color="#00ffa9"/><stop offset=".705" stop-color="#00ff9d"/><stop offset="1" stop-color="#00ffe7"/></linearGradient>
<linearGradient id="g229" x1="0" y1="0" x2="0" y2="1"><stop offset="0" stop-color="#0eff00"/><stop offset=".114" stop-color="#00ff01"/><stop offset=".25" stop-color="#0f1"/><stop offset=".409" stop-color="#00ffc1"/><stop offset=".523" stop-color="#00faff"/><stop offset=".682" stop-color="#00ffe2"/><stop offset=".841" stop-color="#00ffd2"/><stop offset="1" stop-color="#00fff1"/></linearGradient>
<linearGradient id="g230" x1="0" y1="0" x2="0" y2="1"><stop offset="0" stop-color="#0f0"/><stop offset=".25" stop-color="#00ff1f"/><stop offset=".409" stop-color="#00ffce"/><stop offset=".5" stop-color="#00fbff"/><stop offset=".523" stop-color="#00edff"/><stop offset=".614" stop-color="#00feff"/><stop offset=".841" stop-color="#00ffe0"/><stop offset="1" stop-color="#00fffc"/></linearGradient>
<linearGradient id="g231" x1="0" y1="0" x2="0" y2="1"><stop offset="0" stop-color="#00ff0a"/><stop offset=".25" stop-color="#00ff28"/><stop offset=".409" stop-color="#00ffdb"/><stop offset=".455" stop-color="#00fffd"/><stop offset=".523" stop-color="#00cfff"/><stop offset=".682" stop-color="#00fffe"/><stop offset=".841" stop-color="#00ffe8"/><stop offset=".955" stop-color="#0ff"/><stop offset="1" stop-color="#00faff"/></linearGradient>
<linearGradient id="g232" x1="0" y1="0" x2="0" y2="1"><stop offset="0" stop-color="#00ff01"/><stop offset=".25" stop-color="#00ff1e"/><stop offset=".409" stop-color="#00ffd0"/><stop offset=".477" stop-color="#00faff"/><stop offset=".523" stop-color="#00daff"/><stop offset=".636" stop-color="#00fffe"/><stop offset=".841" stop-color="#0fd"/><stop offset="1" stop-color="#00fff8"/></linearGradient>
<linearGradient id="g233" x1="0" y1="0" x2="0" y2="1"><stop offset="0" stop-color="#00ff03"/><stop offset=".25" stop-color="#00ff1f"/><stop offset=".409" stop-color="#00ffcd"/><stop offset=".477" stop-color="#00fffa"/><stop offset=".523" stop-color="#00e7ff"/><stop offset=".636" stop-color="#00fffe"/><stop offset=".841" stop-color="#0fd"/><stop offset="1" stop-color="#00fff7"/></linearGradient>
<linearGradient id="g234" x1="0" y1="0" x2="0" y2="1"><stop offset="0" stop-color="#00ff05"/><stop offset=".25" stop-color="#00ff1f"/><stop offset=".409" stop-color="#00ffd2"/><stop offset=".455" stop-color="#00fff7"/><stop offset=".477" stop-color="#00f2ff"/><stop offset=".523" stop-color="#0cf"/><stop offset=".568" stop-color="#00d3ff"/><stop offset=".659" stop-color="#00fdff"/><stop offset=".841" stop-color="#0fd"/><stop offset="1" stop-color="#00fff6"/></linearGradient>
<linearGradient id="g235" x1="0" y1="0" x2="0" y2="1"><stop offset="0" stop-color="#02ff00"/><stop offset=".25" stop-color="#00ff18"/><stop offset=".409" stop-color="#00ffc6"/><stop offset=".5" stop-color="#00faff"/><stop offset=".523" stop-color="#00ecff"/><stop offset=".614" stop-color="#00fffc"/><stop offset=".841" stop-color="#00ffd5"/><stop offset="1" stop-color="#00ffed"/></linearGradient>
<linearGradient id="g236" x1="0" y1="0" x2="0" y2="1"><stop offset="0" stop-color="#06ff00"/><stop offset=".25" stop-color="#00ff13"/><stop offset=".409" stop-color="#00ffbc"/><stop offset=".523" stop-color="#00ffe5"/><stop offset=".568" stop-color="#00ffd2"/><stop offset=".614" stop-color="#00ffcd"/><stop offset=".727" stop-color="#00ffda"/><stop offset=".864" stop-color="#00ffd0"/><stop offset="1" stop-color="#00ffe7"/></linearGradient>
<linearGradient id="g237" x1="0" y1="0" x2="0" y2="1"><stop offset="0" stop-color="#00ff07"/><stop offset=".25" stop-color="#00ff1f"/><stop offset=".409" stop-color="#00ffc8"/><stop offset=".5" stop-color="#00f9ff"/><stop offset=".523" stop-color="#00eaff"/><stop offset=".636" stop-color="#0ff"/><stop offset=".841" stop-color="#00ffdb"/><stop offset="1" stop-color="#00fff3"/></linearGradient>
<linearGradient id="g238" x1="0" y1="0" x2="0" y2="1"><stop offset="0" stop-color="#00ff0c"/><stop offset=".25" stop-color="#00ff1d"/><stop offset=".409" stop-color="#00ff9d"/><stop offset=".455" stop-color="#00ffaf"/><stop offset=".523" stop-color="#0fd"/><stop offset=".659" stop-color="#00ffed"/><stop offset=".864" stop-color="#00ffdf"/><stop offset="1" stop-color="#00fff6"/></linearGradient>
<linearGradient id="g239" x1="0" y1="0" x2="0" y2="1"><stop offset="0" stop-color="#00ff0e"/><stop offset=".25" stop-color="#0f2"/><stop offset=".409" stop-color="#00ffbc"/><stop offset=".523" stop-color="#00fff9"/><stop offset=".841" stop-color="#0fd"/><stop offset="1" stop-color="#00fff5"/></linearGradient>
<linearGradient id="g240" x1="0" y1="0" x2="0" y2="1"><stop offset="0" stop-color="#00ff18"/><stop offset=".25" stop-color="#00ff2e"/><stop offset=".409" stop-color="#00ffd6"/><stop offset=".477" stop-color="#0ff"/><stop offset=".523" stop-color="#00e4ff"/><stop offset=".659" stop-color="#0ff"/><stop offset=".841" stop-color="#00ffe6"/><stop offset="1" stop-color="#00fffe"/></linearGradient>
<linearGradient id="g241" x1="0" y1="0" x2="0" y2="1"><stop offset="0" stop-color="#00ff10"/><stop offset=".25" stop-color="#00ff25"/><stop offset=".409" stop-color="#00ffd3"/><stop offset=".455" stop-color="#00fff7"/><stop offset=".477" stop-color="#00f6ff"/><stop offset=".523" stop-color="#00d9ff"/><stop offset=".636" stop-color="#00fff8"/><stop offset=".705" stop-color="#00ffe8"/><stop offset=".841" stop-color="#00ffdb"/><stop offset="1" stop-color="#00fff4"/></linearGradient>
<linearGradient id="g242" x1="0" y1="0" x2="0" y2="1"><stop offset="0" stop-color="#00ff17"/><stop offset=".25" stop-color="#00ff2a"/><stop offset=".409" stop-color="#00ffd2"/><stop offset=".477" stop-color="#00fffa"/><stop offset=".523" stop-color="#00f1ff"/><stop offset=".545" stop-color="#00fbff"/><stop offset=".636" stop-color="#00ffd6"/><stop offset=".682" stop-color="#00ffcf"/><stop offset=".864" stop-color="#00ffdf"/><stop offset="1" stop-color="#00fff9"/></linearGradient>
<linearGradient id="g243" x1="0" y1="0" x2="0" y2="1"><stop offset="0" stop-color="#00ff18"/><stop offset=".25" stop-color="#00ff2a"/><stop offset=".409" stop-color="#00ffc9"/><stop offset=".523" stop-color="#00ffef"/><stop offset=".614" stop-color="#00ffc9"/><stop offset=".682" stop-color="#00ffc2"/><stop offset="1" stop-color="#00fff8"/></linearGradient>
<linearGradient id="g244" x1="0" y1="0" x2="0" y2="1"><stop offset="0" stop-color="#00ff18"/><stop offset=".25" stop-color="#00ff2a"/><stop offset=".409" stop-color="#00ffcd"/><stop offset=".5" stop-color="#00f7ff"/><stop offset=".523" stop-color="#00e7ff"/><stop offset=".545" stop-color="#00e7ff"/><stop offset=".659" stop-color="#00feff"/><stop offset=".75" stop-color="#00ffe8"/><stop offset=".841" stop-color="#0fd"/><stop offset="1" stop-color="#00fff7"/></linearGradient>
<linearGradient id="g245" x1="0" y1="0" x2="0" y2="1"><stop offset="0" stop-color="#00ff1e"/><stop offset=".25" stop-color="#00ff30"/><stop offset=".409" stop-color="#00ffc3"/><stop offset=".523" stop-color="#0ff"/><stop offset=".841" stop-color="#00ffcf"/><stop offset="1" stop-color="#00ffe4"/></linearGradient>
<linearGradient id="g246" x1="0" y1="0" x2="0" y2="1"><stop offset="0" stop-color="#00ff24"/><stop offset=".227" stop-color="#00ff36"/><stop offset=".523" stop-color="#00ff96"/><stop offset=".841" stop-color="#00ff5d"/><stop offset="1" stop-color="#00ff5e"/></linearGradient>
<linearGradient id="g247" x1="0" y1="0" x2="0" y2="1"><stop offset="0" stop-color="#00ff28"/><stop offset=".227" stop-color="#00ff43"/><stop offset=".523" stop-color="#00ff97"/><stop offset=".841" stop-color="#00ff4c"/><stop offset="1" stop-color="#00ff47"/></linearGradient>
<linearGradient id="g248" x1="0" y1="0" x2="0" y2="1"><stop offset="0" stop-color="#00ff2c"/><stop offset=".227" stop-color="#00ff59"/><stop offset=".409" stop-color="#00ffa1"/><stop offset=".523" stop-color="#0fb"/><stop offset=".841" stop-color="#00ff52"/><stop offset="1" stop-color="#00ff46"/></linearGradient>
<linearGradient id="g249" x1="0" y1="0" x2="0" y2="1"><stop offset="0" stop-color="#00ff3b"/><stop offset=".182" stop-color="#00ff65"/><stop offset=".409" stop-color="#00ffc5"/><stop offset=".523" stop-color="#00ffdf"/><stop offset=".841" stop-color="#00ff63"/><stop offset="1" stop-color="#00ff52"/></linearGradient>
<linearGradient id="g250" x1="0" y1="0" x2="0" y2="1"><stop offset="0" stop-color="#00ff31"/><stop offset=".227" stop-color="#00ff5f"/><stop offset=".409" stop-color="#00ffa7"/><stop offset=".523" stop-color="#00ffc8"/><stop offset=".841" stop-color="#00ff64"/><stop offset="1" stop-color="#00ff4c"/></linearGradient>
<linearGradient id="g251" x1="0" y1="0" x2="0" y2="1"><stop offset="0" stop-color="#0f3"/><stop offset=".227" stop-color="#00ff4f"/><stop offset=".523" stop-color="#00ffaf"/><stop offset="1" stop-color="#00ff51"/></linearGradient>
<linearGradient id="g252" x1="0" y1="0" x2="0" y2="1"><stop offset="0" stop-color="#00ff32"/><stop offset=".227" stop-color="#00ff46"/><stop offset=".341" stop-color="#00ff5d"/><stop offset=".523" stop-color="#00ff94"/><stop offset=".841" stop-color="#00ff59"/><stop offset="1" stop-color="#00ff49"/></linearGradient>
<linearGradient id="g253" x1="0" y1="0" x2="0" y2="1"><stop offset="0" stop-color="#00ff2d"/><stop offset=".25" stop-color="#00ff43"/><stop offset=".523" stop-color="#00ff89"/><stop offset=".75" stop-color="#0f5"/><stop offset="1" stop-color="#00ff3d"/></linearGradient>
<linearGradient id="g254" x1="0" y1="0" x2="0" y2="1"><stop offset="0" stop-color="#00ff38"/><stop offset=".295" stop-color="#0f5"/><stop offset=".523" stop-color="#00ff98"/><stop offset=".75" stop-color="#00ff58"/><stop offset="1" stop-color="#00ff3f"/></linearGradient>
<linearGradient id="g255" x1="0" y1="0" x2="0" y2="1"><stop offset="0" stop-color="#00ff46"/><stop offset=".091" stop-color="#00ff59"/><stop offset=".25" stop-color="#00ff54"/><stop offset=".318" stop-color="#00ff5b"/><stop offset=".523" stop-color="#00ff9e"/><stop offset=".75" stop-color="#00ff50"/><stop offset="1" stop-color="#00ff34"/></linearGradient>
<linearGradient id="g256" x1="0" y1="0" x2="0" y2="1"><stop offset="0" stop-color="#0f6"/><stop offset=".068" stop-color="#00ff7e"/><stop offset=".114" stop-color="#00ff82"/><stop offset=".25" stop-color="#00ff6a"/><stop offset=".318" stop-color="#00ff6c"/><stop offset=".523" stop-color="#00ffb8"/><stop offset=".727" stop-color="#00ff60"/><stop offset=".841" stop-color="#00ff49"/><stop offset="1" stop-color="#00ff3b"/></linearGradient>
<linearGradient id="g257" x1="0" y1="0" x2="0" y2="1"><stop offset="0" stop-color="#00ff50"/><stop offset=".091" stop-color="#0f6"/><stop offset=".25" stop-color="#00ff5c"/><stop offset=".318" stop-color="#00ff64"/><stop offset=".364" stop-color="#00ff79"/><stop offset=".477" stop-color="#00ffce"/><stop offset=".523" stop-color="#00ffde"/><stop offset=".568" stop-color="#00ffc5"/><stop offset=".682" stop-color="#00ff6b"/><stop offset=".727" stop-color="#00ff59"/><stop offset=".841" stop-color="#00ff41"/><stop offset="1" stop-color="#0f3"/></linearGradient>
<linearGradient id="g258" x1="0" y1="0" x2="0" y2="1"><stop offset="0" stop-color="#0f3"/><stop offset=".227" stop-color="#00ff48"/><stop offset=".318" stop-color="#00ff61"/><stop offset=".364" stop-color="#00ff85"/><stop offset=".432" stop-color="#00ffe5"/><stop offset=".455" stop-color="#00f5ff"/><stop offset=".5" stop-color="#00c0ff"/><stop offset=".523" stop-color="#00b8ff"/><stop offset=".568" stop-color="#00e6ff"/><stop offset=".591" stop-color="#00fff5"/><stop offset=".659" stop-color="#00ff8e"/><stop offset=".682" stop-color="#0f7"/><stop offset=".727" stop-color="#00ff5d"/><stop offset="1" stop-color="#00ff3b"/></linearGradient>
<linearGradient id="g259" x1="0" y1="0" x2="0" y2="1"><stop offset="0" stop-color="#00ff2c"/><stop offset=".205" stop-color="#00ff41"/><stop offset=".295" stop-color="#00ff59"/><stop offset=".341" stop-color="#00ff75"/><stop offset=".364" stop-color="#00ff8f"/><stop offset=".432" stop-color="#00f7ff"/><stop offset=".477" stop-color="#00a0ff"/><stop offset=".5" stop-color="#0084ff"/><stop offset=".523" stop-color="#007bff"/><stop offset=".545" stop-color="#0090ff"/><stop offset=".591" stop-color="#00e2ff"/><stop offset=".614" stop-color="#00ffed"/><stop offset=".659" stop-color="#00ff9e"/><stop offset=".682" stop-color="#00ff83"/><stop offset=".727" stop-color="#00ff6a"/><stop offset=".773" stop-color="#0f6"/><stop offset=".909" stop-color="#00ff73"/><stop offset="1" stop-color="#00ff5a"/></linearGradient>
<linearGradient id="g260" x1="0" y1="0" x2="0" y2="1"><stop offset="0" stop-color="#00ff30"/><stop offset=".182" stop-color="#00ff42"/><stop offset=".295" stop-color="#00ff5f"/><stop offset=".341" stop-color="#00ff7b"/><stop offset=".364" stop-color="#00ff94"/><stop offset=".409" stop-color="#0fd"/><stop offset=".432" stop-color="#00f4ff"/><stop offset=".477" stop-color="#009fff"/><stop offset=".5" stop-color="#0084ff"/><stop offset=".523" stop-color="#007bff"/><stop offset=".545" stop-color="#008fff"/><stop offset=".591" stop-color="#00dfff"/><stop offset=".614" stop-color="#00fff0"/><stop offset=".659" stop-color="#00ffa2"/><stop offset=".682" stop-color="#00ff87"/><stop offset=".727" stop-color="#00ff6d"/><stop offset=".773" stop-color="#00ff65"/><stop offset=".909" stop-color="#00ff68"/><stop offset="1" stop-color="#00ff54"/></linearGradient>
<linearGradient id="g261" x1="0" y1="0" x2="0" y2="1"><stop offset="0" stop-color="#00ff34"/><stop offset=".182" stop-color="#00ff46"/><stop offset=".295" stop-color="#00ff63"/><stop offset=".341" stop-color="#00ff7f"/><stop offset=".364" stop-color="#0f9"/><stop offset=".409" stop-color="#00ffe3"/><stop offset=".432" stop-color="#00edff"/><stop offset=".477" stop-color="#0095ff"/><stop offset=".5" stop-color="#007aff"/><stop offset=".523" stop-color="#0071ff"/><stop offset=".545" stop-color="#0085ff"/><stop offset=".614" stop-color="#00fff6"/><stop offset=".659" stop-color="#00ffa6"/><stop offset=".682" stop-color="#00ff89"/><stop offset=".727" stop-color="#00ff6a"/><stop offset=".795" stop-color="#00ff57"/><stop offset="1" stop-color="#00ff41"/></linearGradient>
<linearGradient id="g262" x1="0" y1="0" x2="0" y2="1"><stop offset="0" stop-color="#00ff36"/><stop offset=".182" stop-color="#00ff48"/><stop offset=".295" stop-color="#00ff64"/><stop offset=".341" stop-color="#00ff7f"/><stop offset=".364" stop-color="#00ff96"/><stop offset=".432" stop-color="#00fdff"/><stop offset=".477" stop-color="#00b2ff"/><stop offset=".5" stop-color="#009aff"/><stop offset=".523" stop-color="#0092ff"/><stop offset=".545" stop-color="#00a4ff"/><stop offset=".591" stop-color="#00ebff"/><stop offset=".614" stop-color="#00ffe9"/><stop offset=".659" stop-color="#00ffa1"/><stop offset=".682" stop-color="#00ff87"/><stop offset=".727" stop-color="#00ff6a"/><stop offset=".818" stop-color="#00ff52"/><stop offset="1" stop-color="#00ff40"/></linearGradient>
<linearGradient id="g263" x1="0" y1="0" x2="0" y2="1"><stop offset="0" stop-color="#00ff30"/><stop offset=".205" stop-color="#00ff45"/><stop offset=".318" stop-color="#00ff64"/><stop offset=".364" stop-color="#00ff84"/><stop offset=".455" stop-color="#00fff0"/><stop offset=".477" stop-color="#00f6ff"/><stop offset=".523" stop-color="#00deff"/><stop offset=".568" stop-color="#00fffb"/><stop offset=".659" stop-color="#00ff8b"/><stop offset=".727" stop-color="#00ff60"/><stop offset=".818" stop-color="#00ff4b"/><stop offset="1" stop-color="#00ff3a"/></linearGradient>
<linearGradient id="g264" x1="0" y1="0" x2="0" y2="1"><stop offset="0" stop-color="#00ff27"/><stop offset=".205" stop-color="#00ff3c"/><stop offset=".318" stop-color="#00ff53"/><stop offset=".386" stop-color="#00ff7b"/><stop offset=".477" stop-color="#00ffce"/><stop offset=".523" stop-color="#00ffe1"/><stop offset=".568" stop-color="#00ffc4"/><stop offset=".659" stop-color="#00ff6f"/><stop offset=".705" stop-color="#00ff57"/><stop offset=".818" stop-color="#00ff42"/><stop offset="1" stop-color="#00ff31"/></linearGradient>
<linearGradient id="g265" x1="0" y1="0" x2="0" y2="1"><stop offset="0" stop-color="#00ff2c"/><stop offset=".205" stop-color="#00ff41"/><stop offset=".341" stop-color="#00ff5a"/><stop offset=".386" stop-color="#00ff74"/><stop offset=".477" stop-color="#0fb"/><stop offset=".523" stop-color="#00ffcd"/><stop offset=".682" stop-color="#00ff5d"/><stop offset=".773" stop-color="#00ff4b"/><stop offset="1" stop-color="#00ff36"/></linearGradient>
<linearGradient id="g266" x1="0" y1="0" x2="0" y2="1"><stop offset="0" stop-color="#00ff2e"/><stop offset=".205" stop-color="#00ff43"/><stop offset=".318" stop-color="#00ff5a"/><stop offset=".386" stop-color="#00ff82"/><stop offset=".477" stop-color="#00ffd4"/><stop offset=".523" stop-color="#00ffe7"/><stop offset=".568" stop-color="#00ffca"/><stop offset=".659" stop-color="#00ff76"/><stop offset=".705" stop-color="#00ff5e"/><stop offset=".818" stop-color="#00ff48"/><stop offset="1" stop-color="#00ff38"/></linearGradient>
<linearGradient id="g267" x1="0" y1="0" x2="0" y2="1"><stop offset="0" stop-color="#00ff26"/><stop offset=".205" stop-color="#00ff3c"/><stop offset=".318" stop-color="#00ff5b"/><stop offset=".386" stop-color="#00ff90"/><stop offset=".477" stop-color="#00fffc"/><stop offset=".5" stop-color="#00f1ff"/><stop offset=".523" stop-color="#00ebff"/><stop offset=".545" stop-color="#00f9ff"/><stop offset=".568" stop-color="#00ffef"/><stop offset=".659" stop-color="#00ff81"/><stop offset=".727" stop-color="#00ff56"/><stop offset=".818" stop-color="#00ff42"/><stop offset="1" stop-color="#00ff30"/></linearGradient>
<linearGradient id="g268" x1="0" y1="0" x2="0" y2="1"><stop offset="0" stop-color="#00ff2e"/><stop offset=".182" stop-color="#00ff41"/><stop offset=".295" stop-color="#00ff5d"/><stop offset=".341" stop-color="#00ff76"/><stop offset=".364" stop-color="#00ff8b"/><stop offset=".432" stop-color="#00ffef"/><stop offset=".455" stop-color="#00e7ff"/><stop offset=".5" stop-color="#00acff"/><stop offset=".523" stop-color="#00a4ff"/><stop offset=".545" stop-color="#00b6ff"/><stop offset=".591" stop-color="#00fdff"/><stop offset=".659" stop-color="#00ff96"/><stop offset=".682" stop-color="#00ff7e"/><stop offset=".727" stop-color="#00ff63"/><stop offset=".818" stop-color="#00ff4b"/><stop offset="1" stop-color="#00ff39"/></linearGradient>
<linearGradient id="g269" x1="0" y1="0" x2="0" y2="1"><stop offset="0" stop-color="#00ff2e"/><stop offset=".182" stop-color="#00ff41"/><stop offset=".295" stop-color="#00ff5d"/><stop offset=".341" stop-color="#0f7"/><stop offset=".364" stop-color="#00ff8e"/><stop offset=".386" stop-color="#00ffab"/><stop offset=".432" stop-color="#00fffa"/><stop offset=".455" stop-color="#00d8ff"/><stop offset=".477" stop-color="#00b1ff"/><stop offset=".5" stop-color="#0096ff"/><stop offset=".523" stop-color="#008dff"/><stop offset=".545" stop-color="#00a1ff"/><stop offset=".591" stop-color="#00f0ff"/><stop offset=".614" stop-color="#00ffe1"/><stop offset=".659" stop-color="#0f9"/><stop offset=".682" stop-color="#00ff80"/><stop offset=".727" stop-color="#00ff63"/><stop offset=".818" stop-color="#00ff4b"/><stop offset="1" stop-color="#00ff39"/></linearGradient>
<linearGradient id="g270" x1="0" y1="0" x2="0" y2="1"><stop offset="0" stop-color="#00ff26"/><stop offset=".205" stop-color="#00ff3d"/><stop offset=".318" stop-color="#00ff60"/><stop offset=".364" stop-color="#00ff84"/><stop offset=".455" stop-color="#00f9ff"/><stop offset=".5" stop-color="#00c5ff"/><stop offset=".523" stop-color="#00beff"/><stop offset=".568" stop-color="#00eaff"/><stop offset=".591" stop-color="#00fff1"/><stop offset=".636" stop-color="#00ffab"/><stop offset=".682" stop-color="#0f7"/><stop offset=".75" stop-color="#00ff53"/><stop offset=".841" stop-color="#00ff40"/><stop offset="1" stop-color="#00ff31"/></linearGradient>
<linearGradient id="g271" x1="0" y1="0" x2="0" y2="1"><stop offset="0" stop-color="#00ff2b"/><stop offset=".182" stop-color="#00ff3e"/><stop offset=".295" stop-color="#00ff5a"/><stop offset=".364" stop-color="#0f8"/><stop offset=".455" stop-color="#00fcff"/><stop offset=".5" stop-color="#00cbff"/><stop offset=".523" stop-color="#00c4ff"/><stop offset=".568" stop-color="#0ef"/><stop offset=".591" stop-color="#00ffef"/><stop offset=".636" stop-color="#00ffad"/><stop offset=".682" stop-color="#00ff7b"/><stop offset=".75" stop-color="#00ff58"/><stop offset=".841" stop-color="#00ff45"/><stop offset="1" stop-color="#00ff36"/></linearGradient>
<linearGradient id="g272" x1="0" y1="0" x2="0" y2="1"><stop offset="0" stop-color="#0f2"/><stop offset=".205" stop-color="#00ff38"/><stop offset=".318" stop-color="#00ff5c"/><stop offset=".364" stop-color="#00ff80"/><stop offset=".386" stop-color="#00ff9c"/><stop offset=".432" stop-color="#00ffe5"/><stop offset=".455" stop-color="#00efff"/><stop offset=".5" stop-color="#00b0ff"/><stop offset=".523" stop-color="#00a7ff"/><stop offset=".545" stop-color="#0bf"/><stop offset=".591" stop-color="#00fff8"/><stop offset=".636" stop-color="#00ffa9"/><stop offset=".659" stop-color="#00ff8b"/><stop offset=".682" stop-color="#00ff73"/><stop offset=".727" stop-color="#00ff57"/><stop offset=".818" stop-color="#00ff3f"/><stop offset="1" stop-color="#00ff2d"/></linearGradient>
<linearGradient id="g273" x1="0" y1="0" x2="0" y2="1"><stop offset="0" stop-color="#00ff1f"/><stop offset=".205" stop-color="#00ff36"/><stop offset=".318" stop-color="#00ff5a"/><stop offset=".364" stop-color="#00ff7e"/><stop offset=".386" stop-color="#00ff9a"/><stop offset=".432" stop-color="#00ffe6"/><stop offset=".455" stop-color="#00edff"/><stop offset=".477" stop-color="#00c6ff"/><stop offset=".5" stop-color="#0af"/><stop offset=".523" stop-color="#00a2ff"/><stop offset=".545" stop-color="#00b6ff"/><stop offset=".591" stop-color="#00fff9"/><stop offset=".636" stop-color="#00ffa8"/><stop offset=".659" stop-color="#00ff89"/><stop offset=".682" stop-color="#00ff71"/><stop offset=".727" stop-color="#0f5"/><stop offset=".818" stop-color="#00ff3d"/><stop offset="1" stop-color="#00ff2b"/></linearGradient>
<linearGradient id="g274" x1="0" y1="0" x2="0" y2="1"><stop offset="0" stop-color="#00ff27"/><stop offset=".182" stop-color="#00ff3a"/><stop offset=".295" stop-color="#00ff56"/><stop offset=".341" stop-color="#00ff70"/><stop offset=".364" stop-color="#00ff85"/><stop offset=".386" stop-color="#00ffa1"/><stop offset=".432" stop-color="#00ffec"/><stop offset=".455" stop-color="#00e8ff"/><stop offset=".5" stop-color="#00a7ff"/><stop offset=".523" stop-color="#009fff"/><stop offset=".545" stop-color="#00b2ff"/><stop offset=".591" stop-color="#00fffe"/><stop offset=".636" stop-color="#00ffaf"/><stop offset=".659" stop-color="#00ff90"/><stop offset=".682" stop-color="#00ff78"/><stop offset=".727" stop-color="#00ff5d"/><stop offset=".818" stop-color="#0f4"/><stop offset="1" stop-color="#00ff32"/></linearGradient>
<linearGradient id="g275" x1="0" y1="0" x2="0" y2="1"><stop offset="0" stop-color="#00ff1e"/><stop offset=".205" stop-color="#00ff35"/><stop offset=".318" stop-color="#00ff59"/><stop offset=".341" stop-color="#00ff67"/><stop offset=".386" stop-color="#00ff9a"/><stop offset=".432" stop-color="#00ffe9"/><stop offset=".455" stop-color="#00e7ff"/><stop offset=".477" stop-color="#00bdff"/><stop offset=".5" stop-color="#00a0ff"/><stop offset=".523" stop-color="#0097ff"/><stop offset=".545" stop-color="#00acff"/><stop offset=".591" stop-color="#00fffe"/><stop offset=".636" stop-color="#00ffa8"/><stop offset=".659" stop-color="#0f8"/><stop offset=".705" stop-color="#00ff60"/><stop offset=".795" stop-color="#00ff40"/><stop offset="1" stop-color="#00ff29"/></linearGradient>
<linearGradient id="g276" x1="0" y1="0" x2="0" y2="1"><stop offset="0" stop-color="#00ff23"/><stop offset=".182" stop-color="#00ff36"/><stop offset=".295" stop-color="#00ff53"/><stop offset=".341" stop-color="#00ff6d"/><stop offset=".364" stop-color="#00ff83"/><stop offset=".432" stop-color="#00ffea"/><stop offset=".455" stop-color="#00ebff"/><stop offset=".5" stop-color="#00adff"/><stop offset=".523" stop-color="#00a4ff"/><stop offset=".545" stop-color="#00b7ff"/><stop offset=".591" stop-color="#00fffc"/><stop offset=".659" stop-color="#00ff8e"/><stop offset=".682" stop-color="#00ff76"/><stop offset=".727" stop-color="#00ff5a"/><stop offset=".818" stop-color="#00ff41"/><stop offset="1" stop-color="#00ff2f"/></linearGradient>
<linearGradient id="g277" x1="0" y1="0" x2="0" y2="1"><stop offset="0" stop-color="#00ff1d"/><stop offset=".182" stop-color="#00ff30"/><stop offset=".295" stop-color="#00ff4e"/><stop offset=".341" stop-color="#00ff6a"/><stop offset=".364" stop-color="#00ff83"/><stop offset=".386" stop-color="#00ffa3"/><stop offset=".432" stop-color="#00fff8"/><stop offset=".455" stop-color="#00d8ff"/><stop offset=".477" stop-color="#00b0ff"/><stop offset=".5" stop-color="#0095ff"/><stop offset=".523" stop-color="#008cff"/><stop offset=".545" stop-color="#00a0ff"/><stop offset=".591" stop-color="#00f1ff"/><stop offset=".614" stop-color="#00ffde"/><stop offset=".659" stop-color="#00ff90"/><stop offset=".682" stop-color="#00ff74"/><stop offset=".727" stop-color="#0f5"/><stop offset=".818" stop-color="#00ff3b"/><stop offset="1" stop-color="#00ff29"/></linearGradient>
<linearGradient id="g278" x1="0" y1="0" x2="0" y2="1"><stop offset="0" stop-color="#00ff27"/><stop offset=".205" stop-color="#00ff3f"/><stop offset=".295" stop-color="#00ff59"/><stop offset=".341" stop-color="#0f7"/><stop offset=".364" stop-color="#00ff92"/><stop offset=".409" stop-color="#00ffe4"/><stop offset=".432" stop-color="#00e6ff"/><stop offset=".477" stop-color="#0082ff"/><stop offset=".5" stop-color="#0063ff"/><stop offset=".523" stop-color="#005aff"/><stop offset=".545" stop-color="#0070ff"/><stop offset=".568" stop-color="#009aff"/><stop offset=".614" stop-color="#00fffa"/><stop offset=".659" stop-color="#00ffa1"/><stop offset=".682" stop-color="#00ff83"/><stop offset=".727" stop-color="#00ff60"/><stop offset=".818" stop-color="#00ff46"/><stop offset="1" stop-color="#0f3"/></linearGradient>
<linearGradient id="g279" x1="0" y1="0" x2="0" y2="1"><stop offset="0" stop-color="#00ff24"/><stop offset=".182" stop-color="#00ff37"/><stop offset=".295" stop-color="#0f5"/><stop offset=".341" stop-color="#00ff70"/><stop offset=".364" stop-color="#0f8"/><stop offset=".432" stop-color="#00fff5"/><stop offset=".455" stop-color="#00dfff"/><stop offset=".5" stop-color="#00a3ff"/><stop offset=".523" stop-color="#009bff"/><stop offset=".545" stop-color="#00adff"/><stop offset=".591" stop-color="#00f6ff"/><stop offset=".614" stop-color="#0fd"/><stop offset=".659" stop-color="#00ff95"/><stop offset=".682" stop-color="#00ff7b"/><stop offset=".727" stop-color="#00ff5c"/><stop offset=".818" stop-color="#00ff42"/><stop offset="1" stop-color="#00ff30"/></linearGradient>
<linearGradient id="g280" x1="0" y1="0" x2="0" y2="1"><stop offset="0" stop-color="#00ff28"/><stop offset=".182" stop-color="#00ff3b"/><stop offset=".295" stop-color="#00ff59"/><stop offset=".341" stop-color="#00ff73"/><stop offset=".364" stop-color="#00ff89"/><stop offset=".432" stop-color="#00ffe9"/><stop offset=".455" stop-color="#00f1ff"/><stop offset=".5" stop-color="#00beff"/><stop offset=".523" stop-color="#00b7ff"/><stop offset=".545" stop-color="#00c7ff"/><stop offset=".591" stop-color="#00fff9"/><stop offset=".659" stop-color="#00ff94"/><stop offset=".682" stop-color="#00ff7c"/><stop offset=".727" stop-color="#00ff5f"/><stop offset=".818" stop-color="#00ff46"/><stop offset="1" stop-color="#00ff34"/></linearGradient>
<linearGradient id="g281" x1="0" y1="0" x2="0" y2="1"><stop offset="0" stop-color="#00ff1f"/><stop offset=".182" stop-color="#00ff32"/><stop offset=".295" stop-color="#00ff50"/><stop offset=".341" stop-color="#00ff6d"/><stop offset=".364" stop-color="#00ff86"/><stop offset=".386" stop-color="#00ffa6"/><stop offset=".432" stop-color="#00fffb"/><stop offset=".455" stop-color="#00d5ff"/><stop offset=".477" stop-color="#00adff"/><stop offset=".5" stop-color="#0093ff"/><stop offset=".523" stop-color="#008aff"/><stop offset=".545" stop-color="#009eff"/><stop offset=".591" stop-color="#0ef"/><stop offset=".614" stop-color="#00ffe2"/><stop offset=".659" stop-color="#00ff93"/><stop offset=".682" stop-color="#00ff78"/><stop offset=".727" stop-color="#00ff57"/><stop offset=".818" stop-color="#00ff3e"/><stop offset="1" stop-color="#00ff2b"/></linearGradient>
<linearGradient id="g282" x1="0" y1="0" x2="0" y2="1"><stop offset="0" stop-color="#00ff21"/><stop offset=".182" stop-color="#00ff35"/><stop offset=".295" stop-color="#00ff53"/><stop offset=".341" stop-color="#00ff71"/><stop offset=".364" stop-color="#00ff8b"/><stop offset=".409" stop-color="#00ffd9"/><stop offset=".432" stop-color="#00f4ff"/><stop offset=".477" stop-color="#0096ff"/><stop offset=".5" stop-color="#0079ff"/><stop offset=".523" stop-color="#0070ff"/><stop offset=".545" stop-color="#0085ff"/><stop offset=".591" stop-color="#0df"/><stop offset=".614" stop-color="#0fe"/><stop offset=".659" stop-color="#0f9"/><stop offset=".682" stop-color="#00ff7c"/><stop offset=".727" stop-color="#00ff5a"/><stop offset=".818" stop-color="#00ff40"/><stop offset="1" stop-color="#00ff2e"/></linearGradient>
<linearGradient id="g283" x1="0" y1="0" x2="0" y2="1"><stop offset="0" stop-color="#00ff2b"/><stop offset=".182" stop-color="#00ff3f"/><stop offset=".295" stop-color="#00ff5d"/><stop offset=".341" stop-color="#00ff78"/><stop offset=".364" stop-color="#00ff90"/><stop offset=".432" stop-color="#00fff9"/><stop offset=".455" stop-color="#0df"/><stop offset=".5" stop-color="#00a4ff"/><stop offset=".523" stop-color="#009cff"/><stop offset=".545" stop-color="#00adff"/><stop offset=".591" stop-color="#00f3ff"/><stop offset=".614" stop-color="#00ffe2"/><stop offset=".659" stop-color="#00ff9c"/><stop offset=".682" stop-color="#00ff83"/><stop offset=".727" stop-color="#00ff64"/><stop offset=".818" stop-color="#00ff4b"/><stop offset="1" stop-color="#00ff38"/></linearGradient>
<linearGradient id="g284" x1="0" y1="0" x2="0" y2="1"><stop offset="0" stop-color="#00ff2e"/><stop offset=".182" stop-color="#00ff42"/><stop offset=".295" stop-color="#00ff60"/><stop offset=".341" stop-color="#00ff7c"/><stop offset=".364" stop-color="#00ff94"/><stop offset=".432" stop-color="#00fffb"/><stop offset=".455" stop-color="#0df"/><stop offset=".5" stop-color="#00a6ff"/><stop offset=".523" stop-color="#009eff"/><stop offset=".545" stop-color="#00afff"/><stop offset=".591" stop-color="#00f2ff"/><stop offset=".614" stop-color="#00ffe5"/><stop offset=".659" stop-color="#00ffa0"/><stop offset=".682" stop-color="#00ff86"/><stop offset=".727" stop-color="#00ff67"/><stop offset=".818" stop-color="#00ff4e"/><stop offset="1" stop-color="#00ff3b"/></linearGradient>
<linearGradient id="g285" x1="0" y1="0" x2="0" y2="1"><stop offset="0" stop-color="#00ff20"/><stop offset=".205" stop-color="#00ff38"/><stop offset=".295" stop-color="#00ff54"/><stop offset=".341" stop-color="#00ff74"/><stop offset=".364" stop-color="#00ff91"/><stop offset=".409" stop-color="#00ffe6"/><stop offset=".432" stop-color="#00e3ff"/><stop offset=".477" stop-color="#007fff"/><stop offset=".5" stop-color="#0061ff"/><stop offset=".523" stop-color="#0057ff"/><stop offset=".545" stop-color="#006dff"/><stop offset=".568" stop-color="#0096ff"/><stop offset=".614" stop-color="#00fffe"/><stop offset=".659" stop-color="#00ffa1"/><stop offset=".682" stop-color="#00ff81"/><stop offset=".727" stop-color="#00ff5c"/><stop offset=".818" stop-color="#00ff40"/><stop offset="1" stop-color="#00ff2d"/></linearGradient>
<linearGradient id="g286" x1="0" y1="0" x2="0" y2="1"><stop offset="0" stop-color="#00ff2b"/><stop offset=".205" stop-color="#00ff43"/><stop offset=".295" stop-color="#00ff5e"/><stop offset=".341" stop-color="#00ff7f"/><stop offset=".364" stop-color="#00ff9c"/><stop offset=".409" stop-color="#00fff1"/><stop offset=".432" stop-color="#00d9ff"/><stop offset=".477" stop-color="#0075ff"/><stop offset=".5" stop-color="#0057ff"/><stop offset=".523" stop-color="#004dff"/><stop offset=".545" stop-color="#0063ff"/><stop offset=".568" stop-color="#008cff"/><stop offset=".614" stop-color="#00f6ff"/><stop offset=".636" stop-color="#00ffd6"/><stop offset=".682" stop-color="#00ff8c"/><stop offset=".705" stop-color="#00ff75"/><stop offset=".75" stop-color="#00ff5c"/><stop offset=".841" stop-color="#00ff47"/><stop offset="1" stop-color="#00ff38"/></linearGradient>
<linearGradient id="g287" x1="0" y1="0" x2="0" y2="1"><stop offset="0" stop-color="#00ff31"/><stop offset=".182" stop-color="#00ff45"/><stop offset=".295" stop-color="#00ff63"/><stop offset=".341" stop-color="#00ff7e"/><stop offset=".364" stop-color="#00ff95"/><stop offset=".432" stop-color="#00fffa"/><stop offset=".455" stop-color="#00dfff"/><stop offset=".5" stop-color="#00a9ff"/><stop offset=".523" stop-color="#00a1ff"/><stop offset=".545" stop-color="#00b2ff"/><stop offset=".591" stop-color="#00f3ff"/><stop offset=".614" stop-color="#00ffe4"/><stop offset=".682" stop-color="#00ff89"/><stop offset=".727" stop-color="#00ff6a"/><stop offset=".818" stop-color="#00ff51"/><stop offset="1" stop-color="#00ff3e"/></linearGradient>
<linearGradient id="g288" x1="0" y1="0" x2="0" y2="1"><stop offset="0" stop-color="#00ff2c"/><stop offset=".182" stop-color="#00ff40"/><stop offset=".295" stop-color="#00ff5e"/><stop offset=".364" stop-color="#00ff8c"/><stop offset=".432" stop-color="#00ffe7"/><stop offset=".455" stop-color="#00f2ff"/><stop offset=".5" stop-color="#00bcff"/><stop offset=".523" stop-color="#00b4ff"/><stop offset=".545" stop-color="#00c5ff"/><stop offset=".591" stop-color="#00fff8"/><stop offset=".659" stop-color="#00ff96"/><stop offset=".727" stop-color="#00ff65"/><stop offset=".818" stop-color="#00ff4c"/><stop offset="1" stop-color="#00ff39"/></linearGradient>
<linearGradient id="g289" x1="0" y1="0" x2="0" y2="1"><stop offset="0" stop-color="#00ff35"/><stop offset=".182" stop-color="#00ff49"/><stop offset=".295" stop-color="#00ff67"/><stop offset=".364" stop-color="#00ff96"/><stop offset=".386" stop-color="#00ffb1"/><stop offset=".432" stop-color="#00fffc"/><stop offset=".455" stop-color="#00d6ff"/><stop offset=".477" stop-color="#00aeff"/><stop offset=".5" stop-color="#0092ff"/><stop offset=".523" stop-color="#0089ff"/><stop offset=".545" stop-color="#009eff"/><stop offset=".591" stop-color="#0ef"/><stop offset=".614" stop-color="#00ffe5"/><stop offset=".659" stop-color="#00ffa1"/><stop offset=".682" stop-color="#00ff8a"/><stop offset=".727" stop-color="#00ff6e"/><stop offset=".818" stop-color="#0f5"/><stop offset="1" stop-color="#00ff43"/></linearGradient>
<linearGradient id="g290" x1="0" y1="0" x2="0" y2="1"><stop offset="0" stop-color="#00ff2a"/><stop offset=".182" stop-color="#00ff3e"/><stop offset=".295" stop-color="#00ff5c"/><stop offset=".341" stop-color="#0f7"/><stop offset=".364" stop-color="#00ff8e"/><stop offset=".386" stop-color="#00ffac"/><stop offset=".432" stop-color="#00fffd"/><stop offset=".455" stop-color="#00d2ff"/><stop offset=".477" stop-color="#00a8ff"/><stop offset=".5" stop-color="#008bff"/><stop offset=".523" stop-color="#0082ff"/><stop offset=".545" stop-color="#0097ff"/><stop offset=".591" stop-color="#00ebff"/><stop offset=".614" stop-color="#00ffe4"/><stop offset=".659" stop-color="#00ff9a"/><stop offset=".682" stop-color="#00ff81"/><stop offset=".727" stop-color="#00ff63"/><stop offset=".818" stop-color="#00ff4a"/><stop offset="1" stop-color="#00ff38"/></linearGradient>
<linearGradient id="g291" x1="0" y1="0" x2="0" y2="1"><stop offset="0" stop-color="#00ff2a"/><stop offset=".182" stop-color="#00ff3e"/><stop offset=".295" stop-color="#00ff5c"/><stop offset=".341" stop-color="#0f7"/><stop offset=".364" stop-color="#00ff8f"/><stop offset=".386" stop-color="#00ffad"/><stop offset=".432" stop-color="#00fffd"/><stop offset=".455" stop-color="#00d5ff"/><stop offset=".477" stop-color="#00aeff"/><stop offset=".5" stop-color="#0093ff"/><stop offset=".523" stop-color="#008bff"/><stop offset=".545" stop-color="#009eff"/><stop offset=".591" stop-color="#00edff"/><stop offset=".614" stop-color="#00ffe5"/><stop offset=".659" stop-color="#00ff9b"/><stop offset=".682" stop-color="#00ff82"/><stop offset=".727" stop-color="#00ff63"/><stop offset=".818" stop-color="#00ff4a"/><stop offset="1" stop-color="#00ff38"/></linearGradient>
<linearGradient id="g292" x1="0" y1="0" x2="0" y2="1"><stop offset="0" stop-color="#00ff36"/><stop offset=".205" stop-color="#00ff4e"/><stop offset=".295" stop-color="#00ff65"/><stop offset=".364" stop-color="#00ff94"/><stop offset=".432" stop-color="#00ffef"/><stop offset=".455" stop-color="#00edff"/><stop offset=".5" stop-color="#0bf"/><stop offset=".523" stop-color="#00b5ff"/><stop offset=".545" stop-color="#00c4ff"/><stop offset=".591" stop-color="#00fffe"/><stop offset=".659" stop-color="#00ff9e"/><stop offset=".727" stop-color="#00ff6b"/><stop offset=".818" stop-color="#00ff53"/><stop offset="1" stop-color="#00ff40"/></linearGradient>
<linearGradient id="g293" x1="0" y1="0" x2="0" y2="1"><stop offset="0" stop-color="#00ff52"/><stop offset=".091" stop-color="#00ff64"/><stop offset=".295" stop-color="#00ff72"/><stop offset=".364" stop-color="#00ff98"/><stop offset=".455" stop-color="#00fffd"/><stop offset=".5" stop-color="#00dbff"/><stop offset=".523" stop-color="#00d6ff"/><stop offset=".568" stop-color="#00f6ff"/><stop offset=".591" stop-color="#0fe"/><stop offset=".659" stop-color="#00ff9f"/><stop offset=".727" stop-color="#00ff71"/><stop offset=".818" stop-color="#00ff59"/><stop offset="1" stop-color="#00ff46"/></linearGradient>
<linearGradient id="g294" x1="0" y1="0" x2="0" y2="1"><stop offset="0" stop-color="#00ff70"/><stop offset=".091" stop-color="#00ff8c"/><stop offset=".25" stop-color="#00ff7c"/><stop offset=".318" stop-color="#00ff82"/><stop offset=".386" stop-color="#00ffa8"/><stop offset=".477" stop-color="#00fff6"/><stop offset=".523" stop-color="#00f6ff"/><stop offset=".545" stop-color="#00fffd"/><stop offset=".659" stop-color="#00ff9a"/><stop offset=".727" stop-color="#00ff74"/><stop offset=".841" stop-color="#00ff59"/><stop offset="1" stop-color="#00ff4a"/></linearGradient>
<linearGradient id="g295" x1="0" y1="0" x2="0" y2="1"><stop offset="0" stop-color="#00ff53"/><stop offset=".091" stop-color="#00ff69"/><stop offset=".227" stop-color="#0f6"/><stop offset=".295" stop-color="#00ff6f"/><stop offset=".364" stop-color="#00ff94"/><stop offset=".409" stop-color="#00ffc0"/><stop offset=".455" stop-color="#00fff8"/><stop offset=".5" stop-color="#00d6ff"/><stop offset=".523" stop-color="#00cfff"/><stop offset=".568" stop-color="#00f9ff"/><stop offset=".659" stop-color="#00ff9a"/><stop offset=".727" stop-color="#00ff6c"/><stop offset=".818" stop-color="#00ff50"/><stop offset="1" stop-color="#00ff3c"/></linearGradient>
<linearGradient id="g296" x1="0" y1="0" x2="0" y2="1"><stop offset="0" stop-color="#00ff2a"/><stop offset=".205" stop-color="#00ff42"/><stop offset=".273" stop-color="#00ff54"/><stop offset=".341" stop-color="#00ff7f"/><stop offset=".386" stop-color="#00ffb3"/><stop offset=".432" stop-color="#00fff3"/><stop offset=".455" stop-color="#00eaff"/><stop offset=".5" stop-color="#00b9ff"/><stop offset=".523" stop-color="#00b2ff"/><stop offset=".545" stop-color="#00c1ff"/><stop offset=".591" stop-color="#00fdff"/><stop offset=".682" stop-color="#00ff89"/><stop offset=".75" stop-color="#00ff59"/><stop offset=".841" stop-color="#00ff3f"/><stop offset="1" stop-color="#00ff2f"/></linearGradient>
<linearGradient id="g297" x1="0" y1="0" x2="0" y2="1"><stop offset="0" stop-color="#00ff28"/><stop offset=".182" stop-color="#00ff3e"/><stop offset=".273" stop-color="#00ff59"/><stop offset=".341" stop-color="#00ff8f"/><stop offset=".409" stop-color="#00fff7"/><stop offset=".432" stop-color="#00deff"/><stop offset=".477" stop-color="#09f"/><stop offset=".5" stop-color="#0085ff"/><stop offset=".523" stop-color="#007eff"/><stop offset=".545" stop-color="#008dff"/><stop offset=".568" stop-color="#00a9ff"/><stop offset=".614" stop-color="#00f5ff"/><stop offset=".636" stop-color="#00ffe1"/><stop offset=".682" stop-color="#00ff9d"/><stop offset=".75" stop-color="#00ff63"/><stop offset=".841" stop-color="#00ff46"/><stop offset="1" stop-color="#00ff36"/></linearGradient>
<linearGradient id="g298" x1="0" y1="0" x2="0" y2="1"><stop offset="0" stop-color="#00ff1f"/><stop offset=".182" stop-color="#00ff35"/><stop offset=".273" stop-color="#00ff52"/><stop offset=".341" stop-color="#00ff8a"/><stop offset=".409" stop-color="#00fffc"/><stop offset=".432" stop-color="#00d6ff"/><stop offset=".477" stop-color="#008bff"/><stop offset=".5" stop-color="#0075ff"/><stop offset=".523" stop-color="#006eff"/><stop offset=".545" stop-color="#007eff"/><stop offset=".568" stop-color="#009cff"/><stop offset=".614" stop-color="#0ef"/><stop offset=".636" stop-color="#00ffe4"/><stop offset=".682" stop-color="#00ff9a"/><stop offset=".705" stop-color="#00ff7f"/><stop offset=".75" stop-color="#00ff5b"/><stop offset=".841" stop-color="#00ff3e"/><stop offset="1" stop-color="#00ff2e"/></linearGradient>
<linearGradient id="g299" x1="0" y1="0" x2="0" y2="1"><stop offset="0" stop-color="#00ff23"/><stop offset=".182" stop-color="#00ff38"/><stop offset=".273" stop-color="#00ff54"/><stop offset=".341" stop-color="#00ff86"/><stop offset=".432" stop-color="#00f9ff"/><stop offset=".477" stop-color="#00beff"/><stop offset=".523" stop-color="#00a7ff"/><stop offset=".545" stop-color="#00b5ff"/><stop offset=".591" stop-color="#00eaff"/><stop offset=".614" stop-color="#00fff2"/><stop offset=".682" stop-color="#00ff93"/><stop offset=".75" stop-color="#00ff5e"/><stop offset=".841" stop-color="#00ff42"/><stop offset="1" stop-color="#00ff32"/></linearGradient>
<linearGradient id="g300" x1="0" y1="0" x2="0" y2="1"><stop offset="0" stop-color="#00ff1d"/><stop offset=".182" stop-color="#0f3"/><stop offset=".273" stop-color="#00ff4f"/><stop offset=".341" stop-color="#00ff80"/><stop offset=".432" stop-color="#00fff5"/><stop offset=".455" stop-color="#00edff"/><stop offset=".5" stop-color="#00c7ff"/><stop offset=".523" stop-color="#00c1ff"/><stop offset=".545" stop-color="#00cdff"/><stop offset=".591" stop-color="#00fcff"/><stop offset=".682" stop-color="#00ff8c"/><stop offset=".727" stop-color="#0f6"/><stop offset=".773" stop-color="#00ff4f"/><stop offset=".864" stop-color="#00ff3a"/><stop offset="1" stop-color="#00ff2d"/></linearGradient>
<linearGradient id="g301" x1="0" y1="0" x2="0" y2="1"><stop offset="0" stop-color="#00ff2a"/><stop offset=".182" stop-color="#00ff40"/><stop offset=".273" stop-color="#00ff5e"/><stop offset=".341" stop-color="#00ff96"/><stop offset=".409" stop-color="#00fffc"/><stop offset=".432" stop-color="#0df"/><stop offset=".477" stop-color="#009fff"/><stop offset=".523" stop-color="#0087ff"/><stop offset=".568" stop-color="#00adff"/><stop offset=".614" stop-color="#00f1ff"/><stop offset=".636" stop-color="#00ffe7"/><stop offset=".705" stop-color="#00ff8b"/><stop offset=".773" stop-color="#00ff5d"/><stop offset=".864" stop-color="#00ff46"/><stop offset="1" stop-color="#00ff3a"/></linearGradient>
<linearGradient id="g302" x1="0" y1="0" x2="0" y2="1"><stop offset="0" stop-color="#00ff2f"/><stop offset=".182" stop-color="#00ff46"/><stop offset=".273" stop-color="#00ff63"/><stop offset=".341" stop-color="#0f9"/><stop offset=".409" stop-color="#00fffa"/><stop offset=".432" stop-color="#00e1ff"/><stop offset=".477" stop-color="#00a7ff"/><stop offset=".523" stop-color="#0090ff"/><stop offset=".568" stop-color="#00b4ff"/><stop offset=".614" stop-color="#00f5ff"/><stop offset=".636" stop-color="#00ffe6"/><stop offset=".705" stop-color="#00ff8f"/><stop offset=".773" stop-color="#00ff63"/><stop offset=".864" stop-color="#00ff4c"/><stop offset="1" stop-color="#00ff40"/></linearGradient>
<linearGradient id="g303" x1="0" y1="0" x2="0" y2="1"><stop offset="0" stop-color="#00ff31"/><stop offset=".182" stop-color="#00ff48"/><stop offset=".273" stop-color="#00ff63"/><stop offset=".341" stop-color="#00ff90"/><stop offset=".432" stop-color="#00fffb"/><stop offset=".455" stop-color="#00e9ff"/><stop offset=".5" stop-color="#00c7ff"/><stop offset=".523" stop-color="#00c2ff"/><stop offset=".545" stop-color="#00cdff"/><stop offset=".591" stop-color="#00f7ff"/><stop offset=".682" stop-color="#00ff9d"/><stop offset=".75" stop-color="#00ff6c"/><stop offset=".841" stop-color="#00ff52"/><stop offset="1" stop-color="#00ff42"/></linearGradient>
<linearGradient id="g304" x1="0" y1="0" x2="0" y2="1"><stop offset="0" stop-color="#00ff2f"/><stop offset=".182" stop-color="#00ff45"/><stop offset=".273" stop-color="#00ff60"/><stop offset=".341" stop-color="#00ff8c"/><stop offset=".432" stop-color="#00fff8"/><stop offset=".455" stop-color="#00ecff"/><stop offset=".5" stop-color="#00c8ff"/><stop offset=".523" stop-color="#00c2ff"/><stop offset=".545" stop-color="#00ceff"/><stop offset=".591" stop-color="#00faff"/><stop offset=".682" stop-color="#00ff98"/><stop offset=".75" stop-color="#00ff69"/><stop offset=".841" stop-color="#00ff4f"/><stop offset="1" stop-color="#00ff3f"/></linearGradient>
<linearGradient id="g305" x1="0" y1="0" x2="0" y2="1"><stop offset="0" stop-color="#00ff2d"/><stop offset=".182" stop-color="#0f4"/><stop offset=".273" stop-color="#00ff5f"/><stop offset=".341" stop-color="#00ff8c"/><stop offset=".432" stop-color="#00fffc"/><stop offset=".455" stop-color="#00e6ff"/><stop offset=".5" stop-color="#00c0ff"/><stop offset=".523" stop-color="#00baff"/><stop offset=".545" stop-color="#00c6ff"/><stop offset=".591" stop-color="#00f5ff"/><stop offset=".614" stop-color="#00ffeb"/><stop offset=".682" stop-color="#00ff98"/><stop offset=".75" stop-color="#00ff68"/><stop offset=".841" stop-color="#00ff4e"/><stop offset="1" stop-color="#00ff3e"/></linearGradient>
<linearGradient id="g306" x1="0" y1="0" x2="0" y2="1"><stop offset="0" stop-color="#00ff2a"/><stop offset=".182" stop-color="#00ff41"/><stop offset=".273" stop-color="#00ff5b"/><stop offset=".341" stop-color="#00ff84"/><stop offset=".455" stop-color="#00fffb"/><stop offset=".477" stop-color="#00f1ff"/><stop offset=".523" stop-color="#00dfff"/><stop offset=".568" stop-color="#00faff"/><stop offset=".682" stop-color="#00ff8f"/><stop offset=".727" stop-color="#00ff6f"/><stop offset=".773" stop-color="#00ff5b"/><stop offset=".864" stop-color="#00ff48"/><stop offset="1" stop-color="#00ff3b"/></linearGradient>
<linearGradient id="g307" x1="0" y1="0" x2="0" y2="1"><stop offset="0" stop-color="#00ff2f"/><stop offset=".182" stop-color="#00ff46"/><stop offset=".273" stop-color="#00ff5d"/><stop offset=".341" stop-color="#00ff7a"/><stop offset=".455" stop-color="#00ffc3"/><stop offset=".523" stop-color="#00ffda"/><stop offset=".568" stop-color="#00ffc8"/><stop offset=".705" stop-color="#00ff74"/><stop offset=".75" stop-color="#00ff63"/><stop offset=".841" stop-color="#00ff4e"/><stop offset="1" stop-color="#00ff3e"/></linearGradient>
<linearGradient id="g308" x1="0" y1="0" x2="0" y2="1"><stop offset="0" stop-color="#00ff40"/><stop offset=".25" stop-color="#00ff6d"/><stop offset=".455" stop-color="#00ffb8"/><stop offset=".523" stop-color="#00ffc4"/><stop offset=".75" stop-color="#00ff69"/><stop offset=".864" stop-color="#00ff51"/><stop offset="1" stop-color="#00ff43"/></linearGradient>
<linearGradient id="g309" x1="0" y1="0" x2="0" y2="1"><stop offset="0" stop-color="#00ff41"/><stop offset=".25" stop-color="#00ff6a"/><stop offset=".455" stop-color="#00ffa3"/><stop offset=".523" stop-color="#00ffae"/><stop offset=".75" stop-color="#00ff69"/><stop offset="1" stop-color="#00ff49"/></linearGradient>
<linearGradient id="g310" x1="0" y1="0" x2="0" y2="1"><stop offset="0" stop-color="#00ff2d"/><stop offset=".273" stop-color="#00ff4e"/><stop offset=".523" stop-color="#00ff82"/><stop offset=".75" stop-color="#00ff5d"/><stop offset="1" stop-color="#00ff49"/></linearGradient>
<linearGradient id="g311" x1="0" y1="0" x2="0" y2="1"><stop offset="0" stop-color="#00ff3b"/><stop offset=".318" stop-color="#00ff64"/><stop offset=".523" stop-color="#00ff8f"/><stop offset="1" stop-color="#00ff64"/></linearGradient>
<linearGradient id="g312" x1="0" y1="0" x2="0" y2="1"><stop offset="0" stop-color="#00ff3b"/><stop offset=".273" stop-color="#00ff69"/><stop offset=".523" stop-color="#00ffb0"/><stop offset=".75" stop-color="#00ffac"/><stop offset="1" stop-color="#00ff82"/></linearGradient>
<linearGradient id="g313" x1="0" y1="0" x2="0" y2="1"><stop offset="0" stop-color="#00ff41"/><stop offset=".273" stop-color="#00ff70"/><stop offset=".523" stop-color="#00ffb7"/><stop offset=".75" stop-color="#00ffb5"/><stop offset="1" stop-color="#00ff8d"/></linearGradient>
<linearGradient id="g314" x1="0" y1="0" x2="0" y2="1"><stop offset="0" stop-color="#00ff43"/><stop offset=".341" stop-color="#00ff6f"/><stop offset=".523" stop-color="#00ff90"/><stop offset="1" stop-color="#00ff79"/></linearGradient>
<linearGradient id="g315" x1="0" y1="0" x2="0" y2="1"><stop offset="0" stop-color="#00ff36"/><stop offset=".523" stop-color="#00ff75"/><stop offset="1" stop-color="#0f6"/></linearGradient>
<linearGradient id="g316" x1="0" y1="0" x2="0" y2="1"><stop offset="0" stop-color="#00ff29"/><stop offset=".523" stop-color="#00ff6e"/><stop offset="1" stop-color="#00ff5e"/></linearGradient>
<linearGradient id="g317" x1="0" y1="0" x2="0" y2="1"><stop offset="0" stop-color="#00ff36"/><stop offset=".295" stop-color="#00ff5d"/><stop offset=".523" stop-color="#00ffa0"/><stop offset=".636" stop-color="#00ffb2"/><stop offset=".727" stop-color="#00ffad"/><stop offset="1" stop-color="#00ff76"/></linearGradient>
<linearGradient id="g318" x1="0" y1="0" x2="0" y2="1"><stop offset="0" stop-color="#00ff32"/><stop offset=".295" stop-color="#00ff59"/><stop offset=".523" stop-color="#00ff91"/><stop offset=".636" stop-color="#00ff9f"/><stop offset=".727" stop-color="#00ff9c"/><stop offset="1" stop-color="#00ff74"/></linearGradient>
<linearGradient id="g319" x1="0" y1="0" x2="0" y2="1"><stop offset="0" stop-color="#00ff32"/><stop offset=".523" stop-color="#00ff76"/><stop offset="1" stop-color="#00ff71"/></linearGradient>
<linearGradient id="g320" x1="0" y1="0" x2="0" y2="1"><stop offset="0" stop-color="#00ff2f"/><stop offset=".455" stop-color="#00ff70"/><stop offset="1" stop-color="#00ff70"/></linearGradient>
<linearGradient id="g321" x1="0" y1="0" x2="0" y2="1"><stop offset="0" stop-color="#00ff2f"/><stop offset=".455" stop-color="#00ff76"/><stop offset="1" stop-color="#00ff72"/></linearGradient>
<linearGradient id="g322" x1="0" y1="0" x2="0" y2="1"><stop offset="0" stop-color="#00ff26"/><stop offset=".455" stop-color="#00ff75"/><stop offset="1" stop-color="#00ff6c"/></linearGradient>
<linearGradient id="g323" x1="0" y1="0" x2="0" y2="1"><stop offset="0" stop-color="#00ff30"/><stop offset=".455" stop-color="#00ffa4"/><stop offset="1" stop-color="#00ff78"/></linearGradient>
<linearGradient id="g324" x1="0" y1="0" x2="0" y2="1"><stop offset="0" stop-color="#00ff4c"/><stop offset=".227" stop-color="#00ffc5"/><stop offset=".864" stop-color="#00ffc5"/><stop offset="1" stop-color="#00ff9d"/></linearGradient>
<linearGradient id="g325" x1="0" y1="0" x2="0" y2="1"><stop offset="0" stop-color="#00ff3e"/><stop offset=".318" stop-color="#00ffc8"/><stop offset=".864" stop-color="#00ffc8"/><stop offset="1" stop-color="#00ffa9"/></linearGradient>
<linearGradient id="g326" x1="0" y1="0" x2="0" y2="1"><stop offset="0" stop-color="#00ff1d"/><stop offset=".455" stop-color="#00ff97"/><stop offset=".818" stop-color="#00ff8f"/><stop offset="1" stop-color="#00ff81"/></linearGradient>
<linearGradient id="g327" x1="0" y1="0" x2="0" y2="1"><stop offset="0" stop-color="#00ff3b"/><stop offset=".25" stop-color="#00ff81"/><stop offset=".455" stop-color="#00ffac"/><stop offset=".682" stop-color="#00ff87"/><stop offset="1" stop-color="#00ff73"/></linearGradient>
<linearGradient id="g328" x1="0" y1="0" x2="0" y2="1"><stop offset="0" stop-color="#00ff50"/><stop offset=".25" stop-color="#00ffa3"/><stop offset=".455" stop-color="#00ffc9"/><stop offset=".682" stop-color="#00ff8f"/><stop offset="1" stop-color="#00ff6f"/></linearGradient>
<linearGradient id="g329" x1="0" y1="0" x2="0" y2="1"><stop offset="0" stop-color="#00ff27"/><stop offset=".455" stop-color="#0f8"/><stop offset=".682" stop-color="#00ff64"/><stop offset="1" stop-color="#00ff5c"/></linearGradient>
<linearGradient id="g330" x1="0" y1="0" x2="0" y2="1"><stop offset="0" stop-color="#00ff26"/><stop offset=".455" stop-color="#00ff95"/><stop offset=".682" stop-color="#00ff72"/><stop offset="1" stop-color="#00ff5f"/></linearGradient>
<linearGradient id="g331" x1="0" y1="0" x2="0" y2="1"><stop offset="0" stop-color="#00ff32"/><stop offset=".455" stop-color="#00ffb7"/><stop offset=".682" stop-color="#00ff8f"/><stop offset="1" stop-color="#00ff6a"/></linearGradient>
<linearGradient id="g332" x1="0" y1="0" x2="0" y2="1"><stop offset="0" stop-color="#00ff30"/><stop offset=".455" stop-color="#00ff9b"/><stop offset=".682" stop-color="#00ff7f"/><stop offset="1" stop-color="#00ff67"/></linearGradient>
<linearGradient id="g333" x1="0" y1="0" x2="0" y2="1"><stop offset="0" stop-color="#00ff2a"/><stop offset=".455" stop-color="#00ff79"/><stop offset="1" stop-color="#00ff5f"/></linearGradient>
<linearGradient id="g334" x1="0" y1="0" x2="0" y2="1"><stop offset="0" stop-color="#00ff3a"/><stop offset=".455" stop-color="#00ff90"/><stop offset=".545" stop-color="#00ff91"/><stop offset="1" stop-color="#00ff6d"/></linearGradient>
<linearGradient id="g335" x1="0" y1="0" x2="0" y2="1"><stop offset="0" stop-color="#00ff42"/><stop offset=".227" stop-color="#00ff6f"/><stop offset=".409" stop-color="#00ff7d"/><stop offset=".523" stop-color="#00ff7d"/><stop offset="1" stop-color="#00ff5f"/></linearGradient>
<linearGradient id="g336" x1="0" y1="0" x2="0" y2="1"><stop offset="0" stop-color="#00ff2d"/><stop offset=".25" stop-color="#00ff51"/><stop offset=".523" stop-color="#00ff5b"/><stop offset="1" stop-color="#00ff25"/></linearGradient>
<linearGradient id="g337" x1="0" y1="0" x2="0" y2="1"><stop offset="0" stop-color="#00ff14"/><stop offset=".523" stop-color="#00ff41"/><stop offset=".795" stop-color="#00ff1b"/><stop offset=".886" stop-color="#00ff03"/><stop offset="1" stop-color="#14ff00"/></linearGradient>
<linearGradient id="g338" x1="0" y1="0" x2="0" y2="1"><stop offset="0" stop-color="#00ff13"/><stop offset=".523" stop-color="#00ff3e"/><stop offset=".795" stop-color="#00ff06"/><stop offset=".977" stop-color="#42ff00"/><stop offset="1" stop-color="#42ff00"/></linearGradient>
<linearGradient id="g339" x1="0" y1="0" x2="0" y2="1"><stop offset="0" stop-color="#00ff12"/><stop offset=".523" stop-color="#00ff41"/><stop offset=".795" stop-color="#00ff23"/><stop offset=".932" stop-color="#00ff03"/><stop offset="1" stop-color="#08ff00"/></linearGradient>
<linearGradient id="g340" x1="0" y1="0" x2="0" y2="1"><stop offset="0" stop-color="#00ff1e"/><stop offset=".523" stop-color="#00ff5f"/><stop offset=".727" stop-color="#00ff5c"/><stop offset="1" stop-color="#00ff4a"/></linearGradient>
<linearGradient id="g341" x1="0" y1="0" x2="0" y2="1"><stop offset="0" stop-color="#00ff27"/><stop offset=".227" stop-color="#00ff48"/><stop offset=".5" stop-color="#00ff92"/><stop offset=".568" stop-color="#00ff9b"/><stop offset=".682" stop-color="#00ff95"/><stop offset="1" stop-color="#00ff5b"/></linearGradient>
<linearGradient id="g342" x1="0" y1="0" x2="0" y2="1"><stop offset="0" stop-color="#00ff2a"/><stop offset=".227" stop-color="#00ff4b"/><stop offset=".5" stop-color="#00ff94"/><stop offset=".568" stop-color="#00ff9d"/><stop offset=".682" stop-color="#00ff97"/><stop offset="1" stop-color="#00ff61"/></linearGradient>
<linearGradient id="g343" x1="0" y1="0" x2="0" y2="1"><stop offset="0" stop-color="#00ff2f"/><stop offset=".523" stop-color="#00ff6e"/><stop offset="1" stop-color="#00ff63"/></linearGradient>
<linearGradient id="g344" x1="0" y1="0" x2="0" y2="1"><stop offset="0" stop-color="#00ff27"/><stop offset=".523" stop-color="#00ff59"/><stop offset="1" stop-color="#00ff5b"/></linearGradient>
<linearGradient id="g345" x1="0" y1="0" x2="0" y2="1"><stop offset="0" stop-color="#00ff23"/><stop offset=".523" stop-color="#00ff54"/><stop offset="1" stop-color="#00ff59"/></linearGradient>
<linearGradient id="g346" x1="0" y1="0" x2="0" y2="1"><stop offset="0" stop-color="#00ff1e"/><stop offset=".523" stop-color="#00ff59"/><stop offset="1" stop-color="#00ff54"/></linearGradient>
<linearGradient id="g347" x1="0" y1="0" x2="0" y2="1"><stop offset="0" stop-color="#00ff1c"/><stop offset=".364" stop-color="#00ff5d"/><stop offset=".477" stop-color="#00ff6a"/><stop offset="1" stop-color="#00ff51"/></linearGradient>
<linearGradient id="g348" x1="0" y1="0" x2="0" y2="1"><stop offset="0" stop-color="#00ff12"/><stop offset=".523" stop-color="#00ff58"/><stop offset="1" stop-color="#00ff4c"/></linearGradient>
<linearGradient id="g349" x1="0" y1="0" x2="0" y2="1"><stop offset="0" stop-color="#00ff24"/><stop offset=".455" stop-color="#00ff94"/><stop offset=".591" stop-color="#00ffa8"/><stop offset=".75" stop-color="#00ffa1"/><stop offset="1" stop-color="#00ff6c"/></linearGradient>
<linearGradient id="g350" x1="0" y1="0" x2="0" y2="1"><stop offset="0" stop-color="#00ff21"/><stop offset=".477" stop-color="#00ffa0"/><stop offset=".614" stop-color="#00ffb7"/><stop offset=".75" stop-color="#00ffae"/><stop offset="1" stop-color="#0f6"/></linearGradient>
<linearGradient id="g351" x1="0" y1="0" x2="0" y2="1"><stop offset="0" stop-color="#06ff00"/><stop offset=".545" stop-color="#00ff32"/><stop offset="1" stop-color="#00ff31"/></linearGradient>
<linearGradient id="g352" x1="0" y1="0" x2="0" y2="1"><stop offset="0" stop-color="#0fff00"/><stop offset=".159" stop-color="#00ff02"/><stop offset=".5" stop-color="#0f3"/><stop offset="1" stop-color="#00ff25"/></linearGradient>
<linearGradient id="g353" x1="0" y1="0" x2="0" y2="1"><stop offset="0" stop-color="#08ff00"/><stop offset=".136" stop-color="#00ff09"/><stop offset=".409" stop-color="#00ff4b"/><stop offset=".5" stop-color="#00ff56"/><stop offset=".591" stop-color="#00ff53"/><stop offset=".841" stop-color="#00ff2f"/><stop offset="1" stop-color="#00ff28"/></linearGradient>
<linearGradient id="g354" x1="0" y1="0" x2="0" y2="1"><stop offset="0" stop-color="#0aff00"/><stop offset=".136" stop-color="#00ff03"/><stop offset=".455" stop-color="#00ff3e"/><stop offset=".568" stop-color="#00ff4a"/><stop offset="1" stop-color="#00ff2b"/></linearGradient>
<linearGradient id="g355" x1="0" y1="0" x2="0" y2="1"><stop offset="0" stop-color="#01ff00"/><stop offset=".659" stop-color="#00ff34"/><stop offset="1" stop-color="#00ff35"/></linearGradient>
<linearGradient id="g356" x1="0" y1="0" x2="0" y2="1"><stop offset="0" stop-color="#00ff03"/><stop offset=".273" stop-color="#00ff16"/><stop offset=".727" stop-color="#00ff4c"/><stop offset="1" stop-color="#00ff4a"/></linearGradient>
<linearGradient id="g357" x1="0" y1="0" x2="0" y2="1"><stop offset="0" stop-color="#10ff00"/><stop offset=".341" stop-color="#0f0"/><stop offset=".614" stop-color="#00ff2c"/><stop offset="1" stop-color="#00ff3d"/></linearGradient>
<linearGradient id="g358" x1="0" y1="0" x2="0" y2="1"><stop offset="0" stop-color="#40ff00"/><stop offset=".341" stop-color="#34ff00"/><stop offset=".545" stop-color="#00ff01"/><stop offset="1" stop-color="#00ff27"/></linearGradient>
<linearGradient id="g359" x1="0" y1="0" x2="0" y2="1"><stop offset="0" stop-color="#73ff00"/><stop offset=".341" stop-color="#62ff00"/><stop offset=".568" stop-color="#0fff00"/><stop offset=".727" stop-color="#00ff01"/><stop offset="1" stop-color="#00ff1a"/></linearGradient>
<linearGradient id="g360" x1="0" y1="0" x2="0" y2="1"><stop offset="0" stop-color="#59ff00"/><stop offset=".341" stop-color="#48ff00"/><stop offset=".568" stop-color="#02ff00"/><stop offset="1" stop-color="#00ff21"/></linearGradient>
<linearGradient id="g361" x1="0" y1="0" x2="0" y2="1"><stop offset="0" stop-color="#57ff00"/><stop offset=".523" stop-color="#53ff00"/><stop offset=".795" stop-color="#6dff00"/><stop offset=".886" stop-color="#9cff00"/><stop offset=".977" stop-color="#efff00"/><stop offset="1" stop-color="#efff00"/></linearGradient>
<linearGradient id="g362" x1="0" y1="0" x2="0" y2="1"><stop offset="0" stop-color="#58ff00"/><stop offset=".523" stop-color="#4fff00"/><stop offset=".795" stop-color="#68ff00"/><stop offset=".886" stop-color="#80ff00"/><stop offset=".977" stop-color="#d4ff00"/><stop offset="1" stop-color="#d4ff00"/></linearGradient>
<linearGradient id="g363" x1="0" y1="0" x2="0" y2="1"><stop offset="0" stop-color="#57ff00"/><stop offset=".523" stop-color="#4fff00"/><stop offset=".795" stop-color="#61ff00"/><stop offset="1" stop-color="#8dff00"/></linearGradient>
<linearGradient id="g364" x1="0" y1="0" x2="0" y2="1"><stop offset="0" stop-color="#53ff00"/><stop offset=".523" stop-color="#49ff00"/><stop offset=".795" stop-color="#5eff00"/><stop offset="1" stop-color="#83ff00"/></linearGradient>
<linearGradient id="g365" x1="0" y1="0" x2="0" y2="1"><stop offset="0" stop-color="#5cff00"/><stop offset=".568" stop-color="#51ff00"/><stop offset=".909" stop-color="#7cff00"/><stop offset="1" stop-color="#92ff00"/></linearGradient>
<linearGradient id="g366" x1="0" y1="0" x2="0" y2="1"><stop offset="0" stop-color="#5cff00"/><stop offset=".568" stop-color="#4eff00"/><stop offset=".909" stop-color="#7cff00"/><stop offset=".977" stop-color="#98ff00"/><stop offset="1" stop-color="#98ff00"/></linearGradient>
<linearGradient id="g367" x1="0" y1="0" x2="0" y2="1"><stop offset="0" stop-color="#67ff00"/><stop offset=".341" stop-color="#57ff00"/><stop offset=".568" stop-color="#57ff00"/><stop offset=".75" stop-color="#78ff00"/><stop offset=".909" stop-color="#89ff00"/><stop offset=".977" stop-color="#af0"/><stop offset="1" stop-color="#af0"/></linearGradient>
<linearGradient id="g368" x1="0" y1="0" x2="0" y2="1"><stop offset="0" stop-color="#7f0"/><stop offset=".341" stop-color="#60ff00"/><stop offset=".568" stop-color="#6bff00"/><stop offset=".75" stop-color="#8f0"/><stop offset=".864" stop-color="#b1ff00"/><stop offset=".977" stop-color="#f5ff00"/><stop offset="1" stop-color="#f5ff00"/></linearGradient>
<linearGradient id="g369" x1="0" y1="0" x2="0" y2="1"><stop offset="0" stop-color="#73ff00"/><stop offset=".341" stop-color="#59ff00"/><stop offset=".545" stop-color="#6dff00"/><stop offset=".682" stop-color="#8f0"/><stop offset=".75" stop-color="#a1ff00"/><stop offset=".886" stop-color="#fdff00"/><stop offset=".977" stop-color="#ffc300"/><stop offset="1" stop-color="#ffc300"/></linearGradient>
<linearGradient id="g370" x1="0" y1="0" x2="0" y2="1"><stop offset="0" stop-color="#63ff00"/><stop offset=".341" stop-color="#49ff00"/><stop offset=".545" stop-color="#6f0"/><stop offset=".682" stop-color="#97ff00"/><stop offset=".795" stop-color="#efff00"/><stop offset=".818" stop-color="#fffb00"/><stop offset=".886" stop-color="#ffc000"/><stop offset=".977" stop-color="#ff9100"/><stop offset="1" stop-color="#ff9100"/></linearGradient>
<linearGradient id="g371" x1="0" y1="0" x2="0" y2="1"><stop offset="0" stop-color="#69ff00"/><stop offset=".341" stop-color="#4fff00"/><stop offset=".523" stop-color="#7f0"/><stop offset=".636" stop-color="#afff00"/><stop offset=".705" stop-color="#f3ff00"/><stop offset=".727" stop-color="#fff600"/><stop offset=".818" stop-color="#ffab00"/><stop offset=".977" stop-color="#ff7800"/><stop offset="1" stop-color="#ff7800"/></linearGradient>
<linearGradient id="g372" x1="0" y1="0" x2="0" y2="1"><stop offset="0" stop-color="#59ff00"/><stop offset=".341" stop-color="#40ff00"/><stop offset=".523" stop-color="#6aff00"/><stop offset=".636" stop-color="#a3ff00"/><stop offset=".727" stop-color="#ff0"/><stop offset=".818" stop-color="#ffb300"/><stop offset=".841" stop-color="#ffa700"/><stop offset="1" stop-color="#ff8000"/></linearGradient>
<linearGradient id="g373" x1="0" y1="0" x2="0" y2="1"><stop offset="0" stop-color="#5aff00"/><stop offset=".341" stop-color="#40ff00"/><stop offset=".523" stop-color="#6bff00"/><stop offset=".636" stop-color="#a1ff00"/><stop offset=".727" stop-color="#f9ff00"/><stop offset=".841" stop-color="#ffa500"/><stop offset="1" stop-color="#ff7b00"/></linearGradient>
<linearGradient id="g374" x1="0" y1="0" x2="0" y2="1"><stop offset="0" stop-color="#5aff00"/><stop offset=".341" stop-color="#41ff00"/><stop offset=".523" stop-color="#6bff00"/><stop offset=".636" stop-color="#af0"/><stop offset=".705" stop-color="#efff00"/><stop offset=".727" stop-color="#fff800"/><stop offset=".818" stop-color="#ffac00"/><stop offset=".841" stop-color="#ffa100"/><stop offset="1" stop-color="#ff7a00"/></linearGradient>
<linearGradient id="g375" x1="0" y1="0" x2="0" y2="1"><stop offset="0" stop-color="#58ff00"/><stop offset=".341" stop-color="#3eff00"/><stop offset=".523" stop-color="#69ff00"/><stop offset=".636" stop-color="#a9ff00"/><stop offset=".705" stop-color="#f5ff00"/><stop offset=".727" stop-color="#fff300"/><stop offset=".818" stop-color="#ffa700"/><stop offset="1" stop-color="#ff7d00"/></linearGradient>
<linearGradient id="g376" x1="0" y1="0" x2="0" y2="1"><stop offset="0" stop-color="#5f0"/><stop offset=".341" stop-color="#3cff00"/><stop offset=".545" stop-color="#6eff00"/><stop offset=".636" stop-color="#98ff00"/><stop offset=".727" stop-color="#ef0"/><stop offset=".75" stop-color="#fffc00"/><stop offset=".818" stop-color="#ffc200"/><stop offset=".886" stop-color="#ffa200"/><stop offset=".977" stop-color="#ff8200"/><stop offset="1" stop-color="#ff8200"/></linearGradient>
<linearGradient id="g377" x1="0" y1="0" x2="0" y2="1"><stop offset="0" stop-color="#5cff00"/><stop offset=".341" stop-color="#42ff00"/><stop offset=".545" stop-color="#6eff00"/><stop offset=".659" stop-color="#98ff00"/><stop offset=".682" stop-color="#a3ff00"/><stop offset=".773" stop-color="#f8ff00"/><stop offset=".886" stop-color="#fa0"/><stop offset=".977" stop-color="#ff8200"/><stop offset="1" stop-color="#ff8200"/></linearGradient>
<linearGradient id="g378" x1="0" y1="0" x2="0" y2="1"><stop offset="0" stop-color="#58ff00"/><stop offset=".341" stop-color="#3fff00"/><stop offset=".545" stop-color="#71ff00"/><stop offset=".659" stop-color="#9bff00"/><stop offset=".727" stop-color="#ef0"/><stop offset=".75" stop-color="#fff900"/><stop offset=".841" stop-color="#ffb400"/><stop offset="1" stop-color="#ff8c00"/></linearGradient>
<linearGradient id="g379" x1="0" y1="0" x2="0" y2="1"><stop offset="0" stop-color="#acff00"/><stop offset=".341" stop-color="#8f0"/><stop offset=".591" stop-color="#92ff00"/><stop offset=".727" stop-color="#b9ff00"/><stop offset=".841" stop-color="#fffe00"/><stop offset=".977" stop-color="#fa0"/><stop offset="1" stop-color="#fa0"/></linearGradient>
<linearGradient id="g380" x1="0" y1="0" x2="0" y2="1"><stop offset="0" stop-color="#b5ff00"/><stop offset=".341" stop-color="#8bff00"/><stop offset=".591" stop-color="#9eff00"/><stop offset=".75" stop-color="#b9ff00"/><stop offset=".909" stop-color="#fdff00"/><stop offset=".977" stop-color="#ffd000"/><stop offset="1" stop-color="#ffd000"/></linearGradient>
<linearGradient id="g381" x1="0" y1="0" x2="0" y2="1"><stop offset="0" stop-color="#bcff00"/><stop offset=".341" stop-color="#9aff00"/><stop offset=".591" stop-color="#b4ff00"/><stop offset=".75" stop-color="#daff00"/><stop offset=".818" stop-color="#faff00"/><stop offset=".977" stop-color="#ffba00"/><stop offset="1" stop-color="#ffba00"/></linearGradient>
<linearGradient id="g382" x1="0" y1="0" x2="0" y2="1"><stop offset="0" stop-color="#b1ff00"/><stop offset=".341" stop-color="#97ff00"/><stop offset=".591" stop-color="#b7ff00"/><stop offset=".75" stop-color="#e8ff00"/><stop offset=".795" stop-color="#ff0"/><stop offset=".886" stop-color="#ffd200"/><stop offset="1" stop-color="#ffb600"/></linearGradient>
<linearGradient id="g383" x1="0" y1="0" x2="0" y2="1"><stop offset="0" stop-color="#abff00"/><stop offset=".341" stop-color="#95ff00"/><stop offset=".591" stop-color="#c2ff00"/><stop offset=".75" stop-color="#f9ff00"/><stop offset=".886" stop-color="#fc0"/><stop offset="1" stop-color="#ffb400"/></linearGradient>
<linearGradient id="g384" x1="0" y1="0" x2="0" y2="1"><stop offset="0" stop-color="#a6ff00"/><stop offset=".341" stop-color="#93ff00"/><stop offset=".523" stop-color="#baff00"/><stop offset=".727" stop-color="#fffe00"/><stop offset=".886" stop-color="#ffc800"/><stop offset="1" stop-color="#ffb200"/></linearGradient>
<linearGradient id="g385" x1="0" y1="0" x2="0" y2="1"><stop offset="0" stop-color="#beff00"/><stop offset=".341" stop-color="#b1ff00"/><stop offset=".523" stop-color="#daff00"/><stop offset=".636" stop-color="#fffd00"/><stop offset=".795" stop-color="#ffc100"/><stop offset="1" stop-color="#ff9700"/></linearGradient>
<linearGradient id="g386" x1="0" y1="0" x2="0" y2="1"><stop offset="0" stop-color="#c5ff00"/><stop offset=".341" stop-color="#beff00"/><stop offset=".523" stop-color="#e5ff00"/><stop offset=".591" stop-color="#fdff00"/><stop offset=".795" stop-color="#fb0"/><stop offset="1" stop-color="#ff9300"/></linearGradient>
<linearGradient id="g387" x1="0" y1="0" x2="0" y2="1"><stop offset="0" stop-color="#d8ff00"/><stop offset=".341" stop-color="#d9ff00"/><stop offset=".523" stop-color="#fdff00"/><stop offset=".682" stop-color="#ffc600"/><stop offset=".795" stop-color="#ffa800"/><stop offset="1" stop-color="#ff8100"/></linearGradient>
<linearGradient id="g388" x1="0" y1="0" x2="0" y2="1"><stop offset="0" stop-color="#d7ff00"/><stop offset=".341" stop-color="#deff00"/><stop offset=".523" stop-color="#fffe00"/><stop offset=".682" stop-color="#ffc200"/><stop offset="1" stop-color="#ff8500"/></linearGradient>
<linearGradient id="g389" x1="0" y1="0" x2="0" y2="1"><stop offset="0" stop-color="#d7ff00"/><stop offset=".341" stop-color="#e8ff00"/><stop offset=".477" stop-color="#fffc00"/><stop offset=".568" stop-color="#ffa800"/><stop offset=".659" stop-color="#ff6900"/><stop offset="1" stop-color="#ff3b00"/></linearGradient>
<linearGradient id="g390" x1="0" y1="0" x2="0" y2="1"><stop offset="0" stop-color="#e8ff00"/><stop offset=".364" stop-color="#fdff00"/><stop offset=".455" stop-color="#fff300"/><stop offset=".568" stop-color="#ff9700"/><stop offset=".682" stop-color="#ff5800"/><stop offset="1" stop-color="#ff2f00"/></linearGradient>
<linearGradient id="g391" x1="0" y1="0" x2="0" y2="1"><stop offset="0" stop-color="#f8ff00"/><stop offset=".295" stop-color="#fff200"/><stop offset=".455" stop-color="#ffd400"/><stop offset=".568" stop-color="#ff8300"/><stop offset=".682" stop-color="#ff4d00"/><stop offset="1" stop-color="#ff2400"/></linearGradient>
<linearGradient id="g392" x1="0" y1="0" x2="0" y2="1"><stop offset="0" stop-color="#f8ff00"/><stop offset=".114" stop-color="#ff0"/><stop offset=".318" stop-color="#ffe000"/><stop offset=".455" stop-color="#ffb400"/><stop offset=".568" stop-color="#ff7a00"/><stop offset=".682" stop-color="#ff5000"/><stop offset="1" stop-color="#ff2b00"/></linearGradient>
<linearGradient id="g393" x1="0" y1="0" x2="0" y2="1"><stop offset="0" stop-color="#f9ff00"/><stop offset=".114" stop-color="#fffc00"/><stop offset=".318" stop-color="#ffd100"/><stop offset=".5" stop-color="#ff8700"/><stop offset=".682" stop-color="#f50"/><stop offset="1" stop-color="#f30"/></linearGradient>
<linearGradient id="g394" x1="0" y1="0" x2="0" y2="1"><stop offset="0" stop-color="#fff300"/><stop offset=".318" stop-color="#ffba00"/><stop offset=".682" stop-color="#ff4f00"/><stop offset="1" stop-color="#ff2d00"/></linearGradient>
<linearGradient id="g395" x1="0" y1="0" x2="0" y2="1"><stop offset="0" stop-color="#ffe700"/><stop offset=".318" stop-color="#ffa800"/><stop offset=".682" stop-color="#ff5000"/><stop offset="1" stop-color="#ff2e00"/></linearGradient>
<linearGradient id="g396" x1="0" y1="0" x2="0" y2="1"><stop offset="0" stop-color="#ffca00"/><stop offset=".682" stop-color="#ff4100"/><stop offset="1" stop-color="#ff1f00"/></linearGradient>
<linearGradient id="g397" x1="0" y1="0" x2="0" y2="1"><stop offset="0" stop-color="#ffbf00"/><stop offset=".341" stop-color="#ff8a00"/><stop offset=".682" stop-color="#f40"/><stop offset="1" stop-color="#f20"/></linearGradient>
<linearGradient id="g398" x1="0" y1="0" x2="0" y2="1"><stop offset="0" stop-color="#ffba00"/><stop offset=".341" stop-color="#ff8f00"/><stop offset=".682" stop-color="#ff4c00"/><stop offset="1" stop-color="#ff2a00"/></linearGradient>
<linearGradient id="g399" x1="0" y1="0" x2="0" y2="1"><stop offset="0" stop-color="#ffbf00"/><stop offset=".341" stop-color="#ff9200"/><stop offset=".682" stop-color="#ff4f00"/><stop offset="1" stop-color="#ff2d00"/></linearGradient>
<linearGradient id="g400" x1="0" y1="0" x2="0" y2="1"><stop offset="0" stop-color="#fc0"/><stop offset=".341" stop-color="#ff9c00"/><stop offset=".682" stop-color="#ff5a00"/><stop offset="1" stop-color="#ff3800"/></linearGradient>
<linearGradient id="g401" x1="0" y1="0" x2="0" y2="1"><stop offset="0" stop-color="#ffc100"/><stop offset=".341" stop-color="#ff8e00"/><stop offset=".682" stop-color="#ff4e00"/><stop offset="1" stop-color="#ff2c00"/></linearGradient>
<linearGradient id="g402" x1="0" y1="0" x2="0" y2="1"><stop offset="0" stop-color="#ffb200"/><stop offset=".682" stop-color="#ff3f00"/><stop offset="1" stop-color="#ff1d00"/></linearGradient>
<linearGradient id="g403" x1="0" y1="0" x2="0" y2="1"><stop offset="0" stop-color="#ffbc00"/><stop offset=".682" stop-color="#ff4700"/><stop offset="1" stop-color="#ff2500"/></linearGradient>
<linearGradient id="g404" x1="0" y1="0" x2="0" y2="1"><stop offset="0" stop-color="#fb0"/><stop offset=".682" stop-color="#ff4500"/><stop offset="1" stop-color="#ff2300"/></linearGradient>
<linearGradient id="g405" x1="0" y1="0" x2="0" y2="1"><stop offset="0" stop-color="#ffc100"/><stop offset=".682" stop-color="#ff4900"/><stop offset="1" stop-color="#ff2700"/></linearGradient>
<linearGradient id="g406" x1="0" y1="0" x2="0" y2="1"><stop offset="0" stop-color="#ffc800"/><stop offset=".682" stop-color="#ff4e00"/><stop offset="1" stop-color="#ff2e00"/></linearGradient>
<linearGradient id="g407" x1="0" y1="0" x2="0" y2="1"><stop offset="0" stop-color="#fc0"/><stop offset=".682" stop-color="#ff5000"/><stop offset="1" stop-color="#ff3000"/></linearGradient>
<linearGradient id="g408" x1="0" y1="0" x2="0" y2="1"><stop offset="0" stop-color="#ffd500"/><stop offset=".159" stop-color="#ffbe00"/><stop offset=".341" stop-color="#ff9200"/><stop offset=".682" stop-color="#ff5600"/><stop offset="1" stop-color="#ff3800"/></linearGradient>
<linearGradient id="g409" x1="0" y1="0" x2="0" y2="1"><stop offset="0" stop-color="#ffd900"/><stop offset=".159" stop-color="#ffc400"/><stop offset=".341" stop-color="#ff9400"/><stop offset=".682" stop-color="#ff5900"/><stop offset="1" stop-color="#ff3c00"/></linearGradient>
<linearGradient id="g410" x1="0" y1="0" x2="0" y2="1"><stop offset="0" stop-color="#ffc800"/><stop offset=".159" stop-color="#ffb400"/><stop offset=".341" stop-color="#ff8100"/><stop offset=".682" stop-color="#ff4600"/><stop offset="1" stop-color="#ff2a00"/></linearGradient>
<linearGradient id="g411" x1="0" y1="0" x2="0" y2="1"><stop offset="0" stop-color="#ffc900"/><stop offset=".159" stop-color="#ffb600"/><stop offset=".341" stop-color="#ff8000"/><stop offset=".682" stop-color="#ff4500"/><stop offset="1" stop-color="#ff2900"/></linearGradient>
<linearGradient id="g412" x1="0" y1="0" x2="0" y2="1"><stop offset="0" stop-color="#ffd800"/><stop offset=".159" stop-color="#ffc700"/><stop offset=".341" stop-color="#ff8d00"/><stop offset=".682" stop-color="#ff5200"/><stop offset="1" stop-color="#ff3700"/></linearGradient>
<linearGradient id="g413" x1="0" y1="0" x2="0" y2="1"><stop offset="0" stop-color="#0dff00"/><stop offset=".161" stop-color="#00ff07"/><stop offset=".299" stop-color="#00ff62"/><stop offset=".391" stop-color="#00ffcd"/><stop offset=".483" stop-color="#00f9ff"/><stop offset=".805" stop-color="#0ef"/><stop offset=".897" stop-color="#00d9ff"/><stop offset=".943" stop-color="#00b2ff"/><stop offset=".966" stop-color="#00aeff"/><stop offset="1" stop-color="#00c3ff"/></linearGradient>
<linearGradient id="g414" x1="0" y1="0" x2="0" y2="1"><stop offset="0" stop-color="#0eff00"/><stop offset=".161" stop-color="#00ff08"/><stop offset=".299" stop-color="#00ff61"/><stop offset=".391" stop-color="#00ffd0"/><stop offset=".46" stop-color="#00fffd"/><stop offset=".483" stop-color="#00f2ff"/><stop offset=".805" stop-color="#00e4ff"/><stop offset=".874" stop-color="#00d8ff"/><stop offset=".897" stop-color="#00cfff"/><stop offset=".92" stop-color="#00b4ff"/><stop offset=".943" stop-color="#08f"/><stop offset=".966" stop-color="#0084ff"/><stop offset="1" stop-color="#00b6ff"/></linearGradient>
<linearGradient id="g415" x1="0" y1="0" x2="0" y2="1"><stop offset="0" stop-color="#18ff00"/><stop offset=".161" stop-color="#01ff00"/><stop offset=".299" stop-color="#00ff56"/><stop offset=".391" stop-color="#00ffc9"/><stop offset=".46" stop-color="#00fff9"/><stop offset=".483" stop-color="#00f5ff"/><stop offset=".805" stop-color="#00e5ff"/><stop offset=".874" stop-color="#00daff"/><stop offset=".897" stop-color="#00d3ff"/><stop offset=".943" stop-color="#00a1ff"/><stop offset=".966" stop-color="#009dff"/><stop offset="1" stop-color="#00bfff"/></linearGradient>
<linearGradient id="g416" x1="0" y1="0" x2="0" y2="1"><stop offset="0" stop-color="#24ff00"/><stop offset=".184" stop-color="#00ff04"/><stop offset=".299" stop-color="#00ff47"/><stop offset=".391" stop-color="#00ffb5"/><stop offset=".483" stop-color="#00ffe9"/><stop offset=".575" stop-color="#00ffe7"/><stop offset=".713" stop-color="#00fdff"/><stop offset=".897" stop-color="#00daff"/><stop offset=".943" stop-color="#00c9ff"/><stop offset="1" stop-color="#00cbff"/></linearGradient>
<linearGradient id="g417" x1="0" y1="0" x2="0" y2="1"><stop offset="0" stop-color="#1aff00"/><stop offset=".161" stop-color="#01ff00"/><stop offset=".299" stop-color="#00ff50"/><stop offset=".391" stop-color="#00ffc3"/><stop offset=".483" stop-color="#0ff"/><stop offset=".598" stop-color="#00feff"/><stop offset="1" stop-color="#00c0ff"/></linearGradient>
<linearGradient id="g418" x1="0" y1="0" x2="0" y2="1"><stop offset="0" stop-color="#19ff00"/><stop offset=".161" stop-color="#00ff01"/><stop offset=".299" stop-color="#00ff51"/><stop offset=".391" stop-color="#00ffcf"/><stop offset=".46" stop-color="#00f8ff"/><stop offset=".483" stop-color="#00e5ff"/><stop offset=".713" stop-color="#00daff"/><stop offset="1" stop-color="#0bf"/></linearGradient>
<linearGradient id="g419" x1="0" y1="0" x2="0" y2="1"><stop offset="0" stop-color="#2f0"/><stop offset=".184" stop-color="#00ff05"/><stop offset=".299" stop-color="#00ff45"/><stop offset=".391" stop-color="#00ffc2"/><stop offset=".483" stop-color="#00fcff"/><stop offset=".598" stop-color="#00fff6"/><stop offset=".69" stop-color="#00fffe"/><stop offset=".874" stop-color="#00d3ff"/><stop offset="1" stop-color="#00c1ff"/></linearGradient>
<linearGradient id="g420" x1="0" y1="0" x2="0" y2="1"><stop offset="0" stop-color="#20ff00"/><stop offset=".161" stop-color="#06ff00"/><stop offset=".299" stop-color="#00ff46"/><stop offset=".391" stop-color="#00ffc7"/><stop offset=".46" stop-color="#00fffd"/><stop offset=".483" stop-color="#00f0ff"/><stop offset=".598" stop-color="#00f8ff"/><stop offset=".667" stop-color="#00f4ff"/><stop offset="1" stop-color="#0bf"/></linearGradient>
<linearGradient id="g421" x1="0" y1="0" x2="0" y2="1"><stop offset="0" stop-color="#2eff00"/><stop offset=".161" stop-color="#14ff00"/><stop offset=".207" stop-color="#00ff02"/><stop offset=".299" stop-color="#00ff2f"/><stop offset=".391" stop-color="#00ff9b"/><stop offset=".483" stop-color="#00ffe5"/><stop offset=".621" stop-color="#00feff"/><stop offset="1" stop-color="#00caff"/></linearGradient>
<linearGradient id="g422" x1="0" y1="0" x2="0" y2="1"><stop offset="0" stop-color="#31ff00"/><stop offset=".161" stop-color="#18ff00"/><stop offset=".23" stop-color="#00ff03"/><stop offset=".299" stop-color="#00ff1e"/><stop offset=".483" stop-color="#00ffa6"/><stop offset=".644" stop-color="#00ffe9"/><stop offset=".713" stop-color="#00fffd"/><stop offset=".805" stop-color="#00e7ff"/><stop offset="1" stop-color="#00d0ff"/></linearGradient>
<linearGradient id="g423" x1="0" y1="0" x2="0" y2="1"><stop offset="0" stop-color="#28ff00"/><stop offset=".161" stop-color="#0fff00"/><stop offset=".184" stop-color="#03ff00"/><stop offset=".299" stop-color="#00ff3a"/><stop offset=".391" stop-color="#00ffc1"/><stop offset=".46" stop-color="#00faff"/><stop offset=".483" stop-color="#00e4ff"/><stop offset=".805" stop-color="#00beff"/><stop offset="1" stop-color="#00b4ff"/></linearGradient>
<linearGradient id="g424" x1="0" y1="0" x2="0" y2="1"><stop offset="0" stop-color="#29ff00"/><stop offset=".161" stop-color="#0fff00"/><stop offset=".184" stop-color="#03ff00"/><stop offset=".299" stop-color="#00ff3d"/><stop offset=".391" stop-color="#00ffce"/><stop offset=".437" stop-color="#00fffc"/><stop offset=".483" stop-color="#00d3ff"/><stop offset="1" stop-color="#00b1ff"/></linearGradient>
<linearGradient id="g425" x1="0" y1="0" x2="0" y2="1"><stop offset="0" stop-color="#31ff00"/><stop offset=".161" stop-color="#17ff00"/><stop offset=".207" stop-color="#00ff02"/><stop offset=".276" stop-color="#00ff28"/><stop offset=".299" stop-color="#00ff35"/><stop offset=".391" stop-color="#00ffc6"/><stop offset=".437" stop-color="#00fff4"/><stop offset=".46" stop-color="#00f2ff"/><stop offset=".483" stop-color="#00dbff"/><stop offset="1" stop-color="#00b9ff"/></linearGradient>
<linearGradient id="g426" x1="0" y1="0" x2="0" y2="1"><stop offset="0" stop-color="#2bff00"/><stop offset=".161" stop-color="#12ff00"/><stop offset=".184" stop-color="#05ff00"/><stop offset=".299" stop-color="#00ff3b"/><stop offset=".391" stop-color="#00ffcb"/><stop offset=".437" stop-color="#00fffa"/><stop offset=".483" stop-color="#00d5ff"/><stop offset=".713" stop-color="#00c5ff"/><stop offset=".874" stop-color="#00d1ff"/><stop offset="1" stop-color="#00baff"/></linearGradient>
<linearGradient id="g427" x1="0" y1="0" x2="0" y2="1"><stop offset="0" stop-color="#29ff00"/><stop offset=".161" stop-color="#0fff00"/><stop offset=".184" stop-color="#02ff00"/><stop offset=".299" stop-color="#00ff3d"/><stop offset=".391" stop-color="#00ffce"/><stop offset=".437" stop-color="#00fffd"/><stop offset=".483" stop-color="#00d3ff"/><stop offset=".713" stop-color="#00c2ff"/><stop offset=".874" stop-color="#00c7ff"/><stop offset="1" stop-color="#00b5ff"/></linearGradient>
<linearGradient id="g428" x1="0" y1="0" x2="0" y2="1"><stop offset="0" stop-color="#21ff00"/><stop offset=".161" stop-color="#07ff00"/><stop offset=".299" stop-color="#00ff45"/><stop offset=".391" stop-color="#00ffd6"/><stop offset=".437" stop-color="#00f9ff"/><stop offset=".483" stop-color="#00cbff"/><stop offset="1" stop-color="#00a9ff"/></linearGradient>
<linearGradient id="g429" x1="0" y1="0" x2="0" y2="1"><stop offset="0" stop-color="#1eff00"/><stop offset=".161" stop-color="#05ff00"/><stop offset=".299" stop-color="#00ff48"/><stop offset=".391" stop-color="#00ffd8"/><stop offset=".437" stop-color="#00f7ff"/><stop offset=".483" stop-color="#00c8ff"/><stop offset="1" stop-color="#00a6ff"/></linearGradient>
<linearGradient id="g430" x1="0" y1="0" x2="0" y2="1"><stop offset="0" stop-color="#25ff00"/><stop offset=".184" stop-color="#02ff00"/><stop offset=".207" stop-color="#00ff08"/><stop offset=".299" stop-color="#00ff30"/><stop offset=".391" stop-color="#00ff8d"/><stop offset=".483" stop-color="#00ffd1"/><stop offset=".621" stop-color="#00fffb"/><stop offset=".851" stop-color="#00c5ff"/><stop offset="1" stop-color="#00b1ff"/></linearGradient>
<linearGradient id="g431" x1="0" y1="0" x2="0" y2="1"><stop offset="0" stop-color="#2aff00"/><stop offset=".207" stop-color="#03ff00"/><stop offset=".299" stop-color="#00ff1a"/><stop offset=".506" stop-color="#00ff78"/><stop offset=".69" stop-color="#00ffdf"/><stop offset=".759" stop-color="#00fffc"/><stop offset=".851" stop-color="#00dcff"/><stop offset="1" stop-color="#00baff"/></linearGradient>
<linearGradient id="g432" x1="0" y1="0" x2="0" y2="1"><stop offset="0" stop-color="#2bff00"/><stop offset=".207" stop-color="#04ff00"/><stop offset=".299" stop-color="#00ff19"/><stop offset=".506" stop-color="#00ff7e"/><stop offset=".69" stop-color="#00ffeb"/><stop offset=".736" stop-color="#00fffc"/><stop offset=".851" stop-color="#00d6ff"/><stop offset="1" stop-color="#00b4ff"/></linearGradient>
<linearGradient id="g433" x1="0" y1="0" x2="0" y2="1"><stop offset="0" stop-color="#2dff00"/><stop offset=".161" stop-color="#13ff00"/><stop offset=".207" stop-color="#0f0"/><stop offset=".299" stop-color="#00ff25"/><stop offset=".391" stop-color="#00ff7c"/><stop offset=".483" stop-color="#00ffc1"/><stop offset=".644" stop-color="#00fffd"/><stop offset=".851" stop-color="#00c7ff"/><stop offset="1" stop-color="#00aeff"/></linearGradient>
<linearGradient id="g434" x1="0" y1="0" x2="0" y2="1"><stop offset="0" stop-color="#2f0"/><stop offset=".184" stop-color="#00ff04"/><stop offset=".299" stop-color="#00ff3c"/><stop offset=".391" stop-color="#00ffb2"/><stop offset=".483" stop-color="#00fbff"/><stop offset=".69" stop-color="#00beff"/><stop offset="1" stop-color="#009aff"/></linearGradient>
<linearGradient id="g435" x1="0" y1="0" x2="0" y2="1"><stop offset="0" stop-color="#1aff00"/><stop offset=".161" stop-color="#01ff00"/><stop offset=".299" stop-color="#00ff4a"/><stop offset=".391" stop-color="#00ffd7"/><stop offset=".437" stop-color="#00f6ff"/><stop offset=".483" stop-color="#00c6ff"/><stop offset="1" stop-color="#0092ff"/></linearGradient>
<linearGradient id="g436" x1="0" y1="0" x2="0" y2="1"><stop offset="0" stop-color="#18ff00"/><stop offset=".161" stop-color="#00ff02"/><stop offset=".299" stop-color="#00ff4e"/><stop offset=".391" stop-color="#00ffe0"/><stop offset=".414" stop-color="#00fffa"/><stop offset=".483" stop-color="#00baff"/><stop offset=".782" stop-color="#00c3ff"/><stop offset="1" stop-color="#0098ff"/></linearGradient>
<linearGradient id="g437" x1="0" y1="0" x2="0" y2="1"><stop offset="0" stop-color="#1dff00"/><stop offset=".161" stop-color="#03ff00"/><stop offset=".299" stop-color="#00ff49"/><stop offset=".391" stop-color="#00ffdc"/><stop offset=".414" stop-color="#00fff7"/><stop offset=".437" stop-color="#00ebff"/><stop offset=".483" stop-color="#00bcff"/><stop offset="1" stop-color="#0093ff"/></linearGradient>
<linearGradient id="g438" x1="0" y1="0" x2="0" y2="1"><stop offset="0" stop-color="#24ff00"/><stop offset=".184" stop-color="#00ff02"/><stop offset=".299" stop-color="#00ff42"/><stop offset=".391" stop-color="#00ffd5"/><stop offset=".414" stop-color="#00fff1"/><stop offset=".437" stop-color="#00f1ff"/><stop offset=".483" stop-color="#00c2ff"/><stop offset=".782" stop-color="#00b9ff"/><stop offset="1" stop-color="#009cff"/></linearGradient>
<linearGradient id="g439" x1="0" y1="0" x2="0" y2="1"><stop offset="0" stop-color="#20ff00"/><stop offset=".161" stop-color="#07ff00"/><stop offset=".299" stop-color="#00ff46"/><stop offset=".391" stop-color="#00ffd9"/><stop offset=".414" stop-color="#00fff6"/><stop offset=".437" stop-color="#00ebff"/><stop offset=".46" stop-color="#00cfff"/><stop offset=".483" stop-color="#00bfff"/><stop offset=".598" stop-color="#00bfff"/><stop offset=".782" stop-color="#00d7ff"/><stop offset=".851" stop-color="#00cdff"/><stop offset="1" stop-color="#009fff"/></linearGradient>
<linearGradient id="g440" x1="0" y1="0" x2="0" y2="1"><stop offset="0" stop-color="#27ff00"/><stop offset=".161" stop-color="#0dff00"/><stop offset=".184" stop-color="#01ff00"/><stop offset=".299" stop-color="#00ff3f"/><stop offset=".391" stop-color="#00ffd4"/><stop offset=".414" stop-color="#00fff1"/><stop offset=".437" stop-color="#00efff"/><stop offset=".46" stop-color="#00d2ff"/><stop offset=".483" stop-color="#00c4ff"/><stop offset=".782" stop-color="#00baff"/><stop offset="1" stop-color="#009eff"/></linearGradient>
<linearGradient id="g441" x1="0" y1="0" x2="0" y2="1"><stop offset="0" stop-color="#27ff00"/><stop offset=".161" stop-color="#0dff00"/><stop offset=".184" stop-color="#0f0"/><stop offset=".299" stop-color="#00ff3f"/><stop offset=".391" stop-color="#00ffd5"/><stop offset=".414" stop-color="#00fff3"/><stop offset=".437" stop-color="#00edff"/><stop offset=".46" stop-color="#00cfff"/><stop offset=".483" stop-color="#00c2ff"/><stop offset="1" stop-color="#09f"/></linearGradient>
<linearGradient id="g442" x1="0" y1="0" x2="0" y2="1"><stop offset="0" stop-color="#34ff00"/><stop offset=".161" stop-color="#1aff00"/><stop offset=".207" stop-color="#01ff00"/><stop offset=".299" stop-color="#00ff32"/><stop offset=".391" stop-color="#00ffc8"/><stop offset=".437" stop-color="#00f8ff"/><stop offset=".46" stop-color="#00d9ff"/><stop offset=".483" stop-color="#00ceff"/><stop offset="1" stop-color="#00a5ff"/></linearGradient>
<linearGradient id="g443" x1="0" y1="0" x2="0" y2="1"><stop offset="0" stop-color="#3f0"/><stop offset=".161" stop-color="#19ff00"/><stop offset=".207" stop-color="#0f0"/><stop offset=".299" stop-color="#0f3"/><stop offset=".391" stop-color="#00ffca"/><stop offset=".437" stop-color="#00f5ff"/><stop offset=".46" stop-color="#00d5ff"/><stop offset=".483" stop-color="#00cdff"/><stop offset="1" stop-color="#00a4ff"/></linearGradient>
<linearGradient id="g444" x1="0" y1="0" x2="0" y2="1"><stop offset="0" stop-color="#26ff00"/><stop offset=".161" stop-color="#0cff00"/><stop offset=".184" stop-color="#00ff01"/><stop offset=".299" stop-color="#00ff40"/><stop offset=".414" stop-color="#00fff8"/><stop offset=".437" stop-color="#00e6ff"/><stop offset=".46" stop-color="#00c6ff"/><stop offset=".483" stop-color="#00bfff"/><stop offset="1" stop-color="#0096ff"/></linearGradient>
<linearGradient id="g445" x1="0" y1="0" x2="0" y2="1"><stop offset="0" stop-color="#2fff00"/><stop offset=".161" stop-color="#15ff00"/><stop offset=".184" stop-color="#08ff00"/><stop offset=".207" stop-color="#00ff04"/><stop offset=".299" stop-color="#00ff37"/><stop offset=".391" stop-color="#00ffcf"/><stop offset=".414" stop-color="#00fff0"/><stop offset=".437" stop-color="#00edff"/><stop offset=".46" stop-color="#0cf"/><stop offset=".483" stop-color="#00c7ff"/><stop offset="1" stop-color="#009eff"/></linearGradient>
<linearGradient id="g446" x1="0" y1="0" x2="0" y2="1"><stop offset="0" stop-color="#37ff00"/><stop offset=".161" stop-color="#1eff00"/><stop offset=".207" stop-color="#04ff00"/><stop offset=".299" stop-color="#00ff2f"/><stop offset=".391" stop-color="#00ffc8"/><stop offset=".437" stop-color="#00f3ff"/><stop offset=".46" stop-color="#00d2ff"/><stop offset=".575" stop-color="#00c9ff"/><stop offset=".736" stop-color="#00d6ff"/><stop offset=".874" stop-color="#00b1ff"/><stop offset="1" stop-color="#00a6ff"/></linearGradient>
<linearGradient id="g447" x1="0" y1="0" x2="0" y2="1"><stop offset="0" stop-color="#3f0"/><stop offset=".161" stop-color="#19ff00"/><stop offset=".207" stop-color="#0f0"/><stop offset=".299" stop-color="#0f3"/><stop offset=".414" stop-color="#0fe"/><stop offset=".437" stop-color="#0ef"/><stop offset=".46" stop-color="#0cf"/><stop offset=".805" stop-color="#00abff"/><stop offset="1" stop-color="#00a2ff"/></linearGradient>
<linearGradient id="g448" x1="0" y1="0" x2="0" y2="1"><stop offset="0" stop-color="#23ff00"/><stop offset=".184" stop-color="#00ff03"/><stop offset=".299" stop-color="#00ff43"/><stop offset=".414" stop-color="#00fffd"/><stop offset=".46" stop-color="#00bdff"/><stop offset=".805" stop-color="#009bff"/><stop offset="1" stop-color="#0093ff"/></linearGradient>
<linearGradient id="g449" x1="0" y1="0" x2="0" y2="1"><stop offset="0" stop-color="#1aff00"/><stop offset=".161" stop-color="#01ff00"/><stop offset=".299" stop-color="#00ff4c"/><stop offset=".391" stop-color="#00ffe2"/><stop offset=".414" stop-color="#00faff"/><stop offset=".46" stop-color="#00b6ff"/><stop offset=".805" stop-color="#0094ff"/><stop offset="1" stop-color="#008cff"/></linearGradient>
<linearGradient id="g450" x1="0" y1="0" x2="0" y2="1"><stop offset="0" stop-color="#21ff00"/><stop offset=".184" stop-color="#00ff05"/><stop offset=".299" stop-color="#00ff45"/><stop offset=".414" stop-color="#00fffc"/><stop offset=".46" stop-color="#00beff"/><stop offset=".667" stop-color="#00acff"/><stop offset=".897" stop-color="#0af"/><stop offset="1" stop-color="#009eff"/></linearGradient>
<linearGradient id="g451" x1="0" y1="0" x2="0" y2="1"><stop offset="0" stop-color="#26ff00"/><stop offset=".161" stop-color="#0cff00"/><stop offset=".184" stop-color="#00ff01"/><stop offset=".299" stop-color="#00ff40"/><stop offset=".414" stop-color="#00fff7"/><stop offset=".437" stop-color="#00e5ff"/><stop offset=".46" stop-color="#00c3ff"/><stop offset=".529" stop-color="#00bdff"/><stop offset=".667" stop-color="#00b7ff"/><stop offset=".874" stop-color="#00ceff"/><stop offset="1" stop-color="#00b4ff"/></linearGradient>
<linearGradient id="g452" x1="0" y1="0" x2="0" y2="1"><stop offset="0" stop-color="#25ff00"/><stop offset=".161" stop-color="#0cff00"/><stop offset=".184" stop-color="#00ff01"/><stop offset=".299" stop-color="#00ff41"/><stop offset=".414" stop-color="#00fff6"/><stop offset=".437" stop-color="#00e6ff"/><stop offset=".46" stop-color="#00c4ff"/><stop offset=".805" stop-color="#00a3ff"/><stop offset="1" stop-color="#009bff"/></linearGradient>
<linearGradient id="g453" x1="0" y1="0" x2="0" y2="1"><stop offset="0" stop-color="#2aff00"/><stop offset=".161" stop-color="#1f0"/><stop offset=".184" stop-color="#04ff00"/><stop offset=".299" stop-color="#00ff3c"/><stop offset=".414" stop-color="#00ffef"/><stop offset=".437" stop-color="#00edff"/><stop offset=".46" stop-color="#00cbff"/><stop offset="1" stop-color="#00a0ff"/></linearGradient>
<linearGradient id="g454" x1="0" y1="0" x2="0" y2="1"><stop offset="0" stop-color="#26ff00"/><stop offset=".161" stop-color="#0dff00"/><stop offset=".184" stop-color="#0f0"/><stop offset=".299" stop-color="#00ff3f"/><stop offset=".414" stop-color="#00ffed"/><stop offset=".437" stop-color="#00f2ff"/><stop offset=".46" stop-color="#00d3ff"/><stop offset=".644" stop-color="#0df"/><stop offset=".851" stop-color="#00aeff"/><stop offset="1" stop-color="#009dff"/></linearGradient>
<linearGradient id="g455" x1="0" y1="0" x2="0" y2="1"><stop offset="0" stop-color="#26ff00"/><stop offset=".161" stop-color="#0dff00"/><stop offset=".184" stop-color="#02ff00"/><stop offset=".299" stop-color="#00ff35"/><stop offset=".46" stop-color="#00ffed"/><stop offset=".667" stop-color="#00fcff"/><stop offset=".897" stop-color="#00b5ff"/><stop offset="1" stop-color="#00a3ff"/></linearGradient>
<linearGradient id="g456" x1="0" y1="0" x2="0" y2="1"><stop offset="0" stop-color="#2fff00"/><stop offset=".161" stop-color="#15ff00"/><stop offset=".23" stop-color="#00ff02"/><stop offset=".299" stop-color="#00ff19"/><stop offset=".46" stop-color="#00ff6c"/><stop offset=".598" stop-color="#00ffa8"/><stop offset=".667" stop-color="#00ffbd"/><stop offset=".759" stop-color="#00ffcb"/><stop offset=".828" stop-color="#00fff0"/><stop offset=".851" stop-color="#00fbff"/><stop offset=".92" stop-color="#00d1ff"/><stop offset="1" stop-color="#00b6ff"/></linearGradient>
<linearGradient id="g457" x1="0" y1="0" x2="0" y2="1"><stop offset="0" stop-color="#2eff00"/><stop offset=".161" stop-color="#14ff00"/><stop offset=".207" stop-color="#0f0"/><stop offset=".299" stop-color="#00ff27"/><stop offset=".46" stop-color="#00ffc4"/><stop offset=".621" stop-color="#00fff1"/><stop offset=".759" stop-color="#00faff"/><stop offset=".92" stop-color="#00beff"/><stop offset="1" stop-color="#00adff"/></linearGradient>
<linearGradient id="g458" x1="0" y1="0" x2="0" y2="1"><stop offset="0" stop-color="#2aff00"/><stop offset=".161" stop-color="#1f0"/><stop offset=".184" stop-color="#04ff00"/><stop offset=".299" stop-color="#00ff3c"/><stop offset=".391" stop-color="#00ffd4"/><stop offset=".414" stop-color="#00fff3"/><stop offset=".437" stop-color="#00ebff"/><stop offset=".46" stop-color="#0cf"/><stop offset="1" stop-color="#00a2ff"/></linearGradient>
<linearGradient id="g459" x1="0" y1="0" x2="0" y2="1"><stop offset="0" stop-color="#2aff00"/><stop offset=".161" stop-color="#10ff00"/><stop offset=".184" stop-color="#03ff00"/><stop offset=".299" stop-color="#00ff3c"/><stop offset=".391" stop-color="#00ffd4"/><stop offset=".414" stop-color="#00fff4"/><stop offset=".437" stop-color="#00ebff"/><stop offset=".46" stop-color="#00cbff"/><stop offset="1" stop-color="#00a4ff"/></linearGradient>
<linearGradient id="g460" x1="0" y1="0" x2="0" y2="1"><stop offset="0" stop-color="#2aff00"/><stop offset=".161" stop-color="#1f0"/><stop offset=".184" stop-color="#04ff00"/><stop offset=".299" stop-color="#00ff3c"/><stop offset=".391" stop-color="#00ffd4"/><stop offset=".414" stop-color="#00fff3"/><stop offset=".437" stop-color="#00ebff"/><stop offset=".46" stop-color="#0cf"/><stop offset="1" stop-color="#00a7ff"/></linearGradient>
<linearGradient id="g461" x1="0" y1="0" x2="0" y2="1"><stop offset="0" stop-color="#14ff00"/><stop offset=".161" stop-color="#00ff03"/><stop offset=".299" stop-color="#00ff4a"/><stop offset=".391" stop-color="#00ffd2"/><stop offset=".437" stop-color="#00f3ff"/><stop offset=".46" stop-color="#00d7ff"/><stop offset=".483" stop-color="#00d4ff"/><stop offset="1" stop-color="#00c0ff"/></linearGradient>
<linearGradient id="g462" x1="0" y1="0" x2="0" y2="1"><stop offset="0" stop-color="#00ff26"/><stop offset=".23" stop-color="#00ff40"/><stop offset=".483" stop-color="#0fa"/><stop offset=".805" stop-color="#00ff73"/><stop offset="1" stop-color="#00ff74"/></linearGradient>
<linearGradient id="g463" x1="0" y1="0" x2="0" y2="1"><stop offset="0" stop-color="#00ff28"/><stop offset=".23" stop-color="#00ff4c"/><stop offset=".391" stop-color="#00ff93"/><stop offset=".483" stop-color="#00ffaf"/><stop offset=".69" stop-color="#00ff6a"/><stop offset=".805" stop-color="#00ff4d"/><stop offset="1" stop-color="#00ff47"/></linearGradient>
<linearGradient id="g464" x1="0" y1="0" x2="0" y2="1"><stop offset="0" stop-color="#00ff25"/><stop offset=".115" stop-color="#00ff37"/><stop offset=".23" stop-color="#00ff57"/><stop offset=".391" stop-color="#00ffae"/><stop offset=".483" stop-color="#00ffca"/><stop offset=".69" stop-color="#00ff6d"/><stop offset=".759" stop-color="#00ff57"/><stop offset=".828" stop-color="#00ff49"/><stop offset="1" stop-color="#00ff41"/></linearGradient>
<linearGradient id="g465" x1="0" y1="0" x2="0" y2="1"><stop offset="0" stop-color="#00ff2a"/><stop offset=".23" stop-color="#0f5"/><stop offset=".391" stop-color="#00ffa4"/><stop offset=".483" stop-color="#00ffc2"/><stop offset=".69" stop-color="#00ff67"/><stop offset=".736" stop-color="#00ff5c"/><stop offset=".828" stop-color="#00ff4b"/><stop offset="1" stop-color="#00ff43"/></linearGradient>
<linearGradient id="g466" x1="0" y1="0" x2="0" y2="1"><stop offset="0" stop-color="#00ff2c"/><stop offset=".23" stop-color="#00ff4d"/><stop offset=".483" stop-color="#00ffb1"/><stop offset=".69" stop-color="#00ff5c"/><stop offset="1" stop-color="#00ff40"/></linearGradient>
<linearGradient id="g467" x1="0" y1="0" x2="0" y2="1"><stop offset="0" stop-color="#00ff2f"/><stop offset=".23" stop-color="#0f5"/><stop offset=".483" stop-color="#00ffd6"/><stop offset=".69" stop-color="#0f6"/><stop offset="1" stop-color="#00ff3f"/></linearGradient>
<linearGradient id="g468" x1="0" y1="0" x2="0" y2="1"><stop offset="0" stop-color="#00ff3d"/><stop offset=".23" stop-color="#00ff6a"/><stop offset=".322" stop-color="#00ffa0"/><stop offset=".414" stop-color="#00fff6"/><stop offset=".437" stop-color="#00f3ff"/><stop offset=".483" stop-color="#00daff"/><stop offset=".552" stop-color="#00fff9"/><stop offset=".644" stop-color="#00ffa6"/><stop offset=".713" stop-color="#00ff80"/><stop offset="1" stop-color="#00ff4e"/></linearGradient>
<linearGradient id="g469" x1="0" y1="0" x2="0" y2="1"><stop offset="0" stop-color="#00ff2b"/><stop offset=".184" stop-color="#00ff4a"/><stop offset=".253" stop-color="#00ff60"/><stop offset=".322" stop-color="#00ff92"/><stop offset=".414" stop-color="#0ff"/><stop offset=".46" stop-color="#00d0ff"/><stop offset=".483" stop-color="#00c5ff"/><stop offset=".506" stop-color="#00ceff"/><stop offset=".552" stop-color="#00f8ff"/><stop offset=".644" stop-color="#00ff9f"/><stop offset=".713" stop-color="#00ff73"/><stop offset=".828" stop-color="#00ff59"/><stop offset="1" stop-color="#00ff43"/></linearGradient>
<linearGradient id="g470" x1="0" y1="0" x2="0" y2="1"><stop offset="0" stop-color="#00ff1f"/><stop offset=".184" stop-color="#00ff35"/><stop offset=".253" stop-color="#00ff4a"/><stop offset=".322" stop-color="#00ff7b"/><stop offset=".414" stop-color="#00ffed"/><stop offset=".437" stop-color="#00f5ff"/><stop offset=".483" stop-color="#00d4ff"/><stop offset=".529" stop-color="#00f0ff"/><stop offset=".552" stop-color="#00fff5"/><stop offset=".644" stop-color="#00ff89"/><stop offset=".69" stop-color="#00ff65"/><stop offset=".713" stop-color="#00ff5c"/><stop offset=".828" stop-color="#00ff46"/><stop offset="1" stop-color="#00ff39"/></linearGradient>
<linearGradient id="g471" x1="0" y1="0" x2="0" y2="1"><stop offset="0" stop-color="#00ff1b"/><stop offset=".184" stop-color="#00ff2d"/><stop offset=".253" stop-color="#00ff41"/><stop offset=".322" stop-color="#00ff74"/><stop offset=".414" stop-color="#00ffec"/><stop offset=".437" stop-color="#00f4ff"/><stop offset=".483" stop-color="#00d2ff"/><stop offset=".529" stop-color="#0ef"/><stop offset=".552" stop-color="#00fff5"/><stop offset=".644" stop-color="#00ff82"/><stop offset=".69" stop-color="#00ff5c"/><stop offset=".713" stop-color="#00ff53"/><stop offset=".805" stop-color="#00ff40"/><stop offset="1" stop-color="#00ff34"/></linearGradient>
<linearGradient id="g472" x1="0" y1="0" x2="0" y2="1"><stop offset="0" stop-color="#00ff18"/><stop offset=".184" stop-color="#00ff2a"/><stop offset=".253" stop-color="#00ff3f"/><stop offset=".322" stop-color="#00ff75"/><stop offset=".414" stop-color="#00fff7"/><stop offset=".437" stop-color="#00e7ff"/><stop offset=".483" stop-color="#00c1ff"/><stop offset=".506" stop-color="#00cbff"/><stop offset=".552" stop-color="#00fcff"/><stop offset=".644" stop-color="#00ff85"/><stop offset=".69" stop-color="#00ff5c"/><stop offset=".713" stop-color="#00ff52"/><stop offset=".805" stop-color="#00ff3c"/><stop offset="1" stop-color="#00ff30"/></linearGradient>
<linearGradient id="g473" x1="0" y1="0" x2="0" y2="1"><stop offset="0" stop-color="#00ff1b"/><stop offset=".184" stop-color="#00ff2d"/><stop offset=".253" stop-color="#00ff42"/><stop offset=".322" stop-color="#00ff7b"/><stop offset=".414" stop-color="#00f8ff"/><stop offset=".46" stop-color="#00bcff"/><stop offset=".483" stop-color="#00adff"/><stop offset=".506" stop-color="#00b8ff"/><stop offset=".552" stop-color="#0ef"/><stop offset=".575" stop-color="#00ffec"/><stop offset=".644" stop-color="#00ff8b"/><stop offset=".69" stop-color="#00ff60"/><stop offset=".713" stop-color="#00ff56"/><stop offset=".805" stop-color="#00ff40"/><stop offset="1" stop-color="#0f3"/></linearGradient>
<linearGradient id="g474" x1="0" y1="0" x2="0" y2="1"><stop offset="0" stop-color="#0f2"/><stop offset=".184" stop-color="#00ff35"/><stop offset=".253" stop-color="#00ff4a"/><stop offset=".322" stop-color="#00ff84"/><stop offset=".391" stop-color="#0fe"/><stop offset=".414" stop-color="#00e7ff"/><stop offset=".46" stop-color="#00a7ff"/><stop offset=".483" stop-color="#09f"/><stop offset=".506" stop-color="#00a3ff"/><stop offset=".529" stop-color="#0bf"/><stop offset=".575" stop-color="#00fffb"/><stop offset=".644" stop-color="#00ff95"/><stop offset=".69" stop-color="#00ff69"/><stop offset=".713" stop-color="#00ff5d"/><stop offset=".805" stop-color="#00ff47"/><stop offset="1" stop-color="#00ff3b"/></linearGradient>
<linearGradient id="g475" x1="0" y1="0" x2="0" y2="1"><stop offset="0" stop-color="#00ff2d"/><stop offset=".184" stop-color="#00ff3f"/><stop offset=".253" stop-color="#0f5"/><stop offset=".322" stop-color="#00ff90"/><stop offset=".391" stop-color="#0ff"/><stop offset=".437" stop-color="#00afff"/><stop offset=".46" stop-color="#0092ff"/><stop offset=".483" stop-color="#0083ff"/><stop offset=".506" stop-color="#008eff"/><stop offset=".529" stop-color="#00a7ff"/><stop offset=".575" stop-color="#00f2ff"/><stop offset=".598" stop-color="#00ffe4"/><stop offset=".667" stop-color="#0f8"/><stop offset=".713" stop-color="#00ff68"/><stop offset=".805" stop-color="#00ff51"/><stop offset="1" stop-color="#00ff45"/></linearGradient>
<linearGradient id="g476" x1="0" y1="0" x2="0" y2="1"><stop offset="0" stop-color="#00ff2e"/><stop offset=".184" stop-color="#00ff40"/><stop offset=".253" stop-color="#00ff56"/><stop offset=".322" stop-color="#00ff91"/><stop offset=".391" stop-color="#00feff"/><stop offset=".437" stop-color="#00aeff"/><stop offset=".46" stop-color="#0091ff"/><stop offset=".483" stop-color="#0082ff"/><stop offset=".506" stop-color="#008dff"/><stop offset=".529" stop-color="#00a6ff"/><stop offset=".575" stop-color="#00f1ff"/><stop offset=".598" stop-color="#00ffe5"/><stop offset=".667" stop-color="#00ff89"/><stop offset=".713" stop-color="#00ff69"/><stop offset=".805" stop-color="#00ff52"/><stop offset="1" stop-color="#00ff46"/></linearGradient>
<linearGradient id="g477" x1="0" y1="0" x2="0" y2="1"><stop offset="0" stop-color="#00ff2a"/><stop offset=".184" stop-color="#00ff3d"/><stop offset=".253" stop-color="#00ff52"/><stop offset=".322" stop-color="#00ff8b"/><stop offset=".391" stop-color="#00fff5"/><stop offset=".414" stop-color="#00e0ff"/><stop offset=".46" stop-color="#00a0ff"/><stop offset=".483" stop-color="#0092ff"/><stop offset=".506" stop-color="#009cff"/><stop offset=".529" stop-color="#00b4ff"/><stop offset=".575" stop-color="#00fbff"/><stop offset=".644" stop-color="#00ff9c"/><stop offset=".69" stop-color="#00ff71"/><stop offset=".713" stop-color="#0f6"/><stop offset=".805" stop-color="#00ff4f"/><stop offset="1" stop-color="#00ff42"/></linearGradient>
<linearGradient id="g478" x1="0" y1="0" x2="0" y2="1"><stop offset="0" stop-color="#00ff1f"/><stop offset=".184" stop-color="#00ff32"/><stop offset=".253" stop-color="#00ff47"/><stop offset=".322" stop-color="#00ff7e"/><stop offset=".391" stop-color="#00ffe3"/><stop offset=".414" stop-color="#00f4ff"/><stop offset=".46" stop-color="#00b7ff"/><stop offset=".483" stop-color="#00a9ff"/><stop offset=".506" stop-color="#00b3ff"/><stop offset=".552" stop-color="#00e9ff"/><stop offset=".575" stop-color="#00fff1"/><stop offset=".644" stop-color="#00ff90"/><stop offset=".69" stop-color="#0f6"/><stop offset=".713" stop-color="#00ff5b"/><stop offset=".805" stop-color="#0f4"/><stop offset="1" stop-color="#00ff37"/></linearGradient>
<linearGradient id="g479" x1="0" y1="0" x2="0" y2="1"><stop offset="0" stop-color="#00ff21"/><stop offset=".184" stop-color="#0f3"/><stop offset=".253" stop-color="#00ff48"/><stop offset=".322" stop-color="#00ff7f"/><stop offset=".414" stop-color="#00f7ff"/><stop offset=".46" stop-color="#00bcff"/><stop offset=".483" stop-color="#00aeff"/><stop offset=".506" stop-color="#00b8ff"/><stop offset=".552" stop-color="#00ecff"/><stop offset=".575" stop-color="#00ffef"/><stop offset=".644" stop-color="#00ff90"/><stop offset=".69" stop-color="#00ff67"/><stop offset=".713" stop-color="#00ff5c"/><stop offset=".805" stop-color="#00ff46"/><stop offset="1" stop-color="#00ff38"/></linearGradient>
<linearGradient id="g480" x1="0" y1="0" x2="0" y2="1"><stop offset="0" stop-color="#00ff1c"/><stop offset=".184" stop-color="#00ff2f"/><stop offset=".253" stop-color="#00ff43"/><stop offset=".322" stop-color="#00ff7a"/><stop offset=".414" stop-color="#00feff"/><stop offset=".46" stop-color="#00c3ff"/><stop offset=".483" stop-color="#00b5ff"/><stop offset=".506" stop-color="#00bfff"/><stop offset=".552" stop-color="#00f2ff"/><stop offset=".575" stop-color="#00ffe9"/><stop offset=".644" stop-color="#00ff8b"/><stop offset=".69" stop-color="#00ff62"/><stop offset=".713" stop-color="#00ff57"/><stop offset=".805" stop-color="#00ff41"/><stop offset="1" stop-color="#0f3"/></linearGradient>
<linearGradient id="g481" x1="0" y1="0" x2="0" y2="1"><stop offset="0" stop-color="#00ff1f"/><stop offset=".184" stop-color="#00ff31"/><stop offset=".253" stop-color="#00ff46"/><stop offset=".322" stop-color="#00ff7c"/><stop offset=".414" stop-color="#00fbff"/><stop offset=".46" stop-color="#00c0ff"/><stop offset=".483" stop-color="#00b3ff"/><stop offset=".506" stop-color="#00bcff"/><stop offset=".552" stop-color="#00f0ff"/><stop offset=".575" stop-color="#00ffec"/><stop offset=".644" stop-color="#00ff8e"/><stop offset=".69" stop-color="#00ff65"/><stop offset=".713" stop-color="#00ff5a"/><stop offset=".805" stop-color="#0f4"/><stop offset="1" stop-color="#00ff36"/></linearGradient>
<linearGradient id="g482" x1="0" y1="0" x2="0" y2="1"><stop offset="0" stop-color="#00ff28"/><stop offset=".184" stop-color="#00ff3b"/><stop offset=".253" stop-color="#00ff4f"/><stop offset=".322" stop-color="#00ff85"/><stop offset=".391" stop-color="#00ffe7"/><stop offset=".414" stop-color="#00f2ff"/><stop offset=".46" stop-color="#00b7ff"/><stop offset=".483" stop-color="#00a9ff"/><stop offset=".506" stop-color="#00b3ff"/><stop offset=".552" stop-color="#00e7ff"/><stop offset=".575" stop-color="#00fff5"/><stop offset=".644" stop-color="#00ff97"/><stop offset=".69" stop-color="#00ff6e"/><stop offset=".713" stop-color="#00ff64"/><stop offset=".828" stop-color="#00ff4a"/><stop offset="1" stop-color="#00ff3f"/></linearGradient>
<linearGradient id="g483" x1="0" y1="0" x2="0" y2="1"><stop offset="0" stop-color="#00ff28"/><stop offset=".184" stop-color="#00ff3b"/><stop offset=".253" stop-color="#00ff50"/><stop offset=".322" stop-color="#00ff86"/><stop offset=".391" stop-color="#00ffe8"/><stop offset=".414" stop-color="#00f0ff"/><stop offset=".46" stop-color="#00b5ff"/><stop offset=".483" stop-color="#00a7ff"/><stop offset=".529" stop-color="#00c6ff"/><stop offset=".575" stop-color="#00fff7"/><stop offset=".644" stop-color="#00ff98"/><stop offset=".69" stop-color="#00ff6f"/><stop offset=".713" stop-color="#00ff64"/><stop offset=".805" stop-color="#00ff4d"/><stop offset="1" stop-color="#00ff3f"/></linearGradient>
<linearGradient id="g484" x1="0" y1="0" x2="0" y2="1"><stop offset="0" stop-color="#00ff25"/><stop offset=".184" stop-color="#00ff38"/><stop offset=".253" stop-color="#00ff4d"/><stop offset=".322" stop-color="#00ff85"/><stop offset=".391" stop-color="#00ffeb"/><stop offset=".414" stop-color="#00ecff"/><stop offset=".46" stop-color="#00afff"/><stop offset=".483" stop-color="#00a1ff"/><stop offset=".506" stop-color="#00abff"/><stop offset=".529" stop-color="#00c1ff"/><stop offset=".575" stop-color="#00fff9"/><stop offset=".644" stop-color="#00ff97"/><stop offset=".69" stop-color="#00ff6d"/><stop offset=".713" stop-color="#00ff62"/><stop offset=".805" stop-color="#00ff4b"/><stop offset="1" stop-color="#00ff3c"/></linearGradient>
<linearGradient id="g485" x1="0" y1="0" x2="0" y2="1"><stop offset="0" stop-color="#00ff20"/><stop offset=".184" stop-color="#0f3"/><stop offset=".253" stop-color="#00ff49"/><stop offset=".322" stop-color="#00ff83"/><stop offset=".391" stop-color="#00fff0"/><stop offset=".414" stop-color="#00e4ff"/><stop offset=".46" stop-color="#00a2ff"/><stop offset=".483" stop-color="#0094ff"/><stop offset=".506" stop-color="#009eff"/><stop offset=".529" stop-color="#00b6ff"/><stop offset=".575" stop-color="#0ff"/><stop offset=".644" stop-color="#00ff96"/><stop offset=".69" stop-color="#00ff69"/><stop offset=".713" stop-color="#00ff5d"/><stop offset=".805" stop-color="#00ff45"/><stop offset="1" stop-color="#00ff37"/></linearGradient>
<linearGradient id="g486" x1="0" y1="0" x2="0" y2="1"><stop offset="0" stop-color="#0f2"/><stop offset=".184" stop-color="#00ff35"/><stop offset=".253" stop-color="#00ff4b"/><stop offset=".322" stop-color="#00ff89"/><stop offset=".391" stop-color="#00fffd"/><stop offset=".414" stop-color="#00d5ff"/><stop offset=".46" stop-color="#008fff"/><stop offset=".483" stop-color="#0080ff"/><stop offset=".506" stop-color="#008bff"/><stop offset=".529" stop-color="#00a5ff"/><stop offset=".575" stop-color="#00f3ff"/><stop offset=".598" stop-color="#00ffe2"/><stop offset=".644" stop-color="#00ff9b"/><stop offset=".667" stop-color="#00ff81"/><stop offset=".713" stop-color="#00ff60"/><stop offset=".805" stop-color="#00ff47"/><stop offset="1" stop-color="#00ff39"/></linearGradient>
<linearGradient id="g487" x1="0" y1="0" x2="0" y2="1"><stop offset="0" stop-color="#00ff24"/><stop offset=".184" stop-color="#00ff38"/><stop offset=".253" stop-color="#00ff4e"/><stop offset=".322" stop-color="#00ff8b"/><stop offset=".391" stop-color="#00fdff"/><stop offset=".437" stop-color="#00a8ff"/><stop offset=".46" stop-color="#008aff"/><stop offset=".483" stop-color="#007bff"/><stop offset=".506" stop-color="#0086ff"/><stop offset=".529" stop-color="#00a0ff"/><stop offset=".575" stop-color="#00efff"/><stop offset=".598" stop-color="#00ffe5"/><stop offset=".644" stop-color="#00ff9e"/><stop offset=".667" stop-color="#00ff84"/><stop offset=".713" stop-color="#00ff62"/><stop offset=".805" stop-color="#00ff4a"/><stop offset="1" stop-color="#00ff3b"/></linearGradient>
<linearGradient id="g488" x1="0" y1="0" x2="0" y2="1"><stop offset="0" stop-color="#00ff1e"/><stop offset=".184" stop-color="#00ff32"/><stop offset=".253" stop-color="#00ff48"/><stop offset=".322" stop-color="#00ff84"/><stop offset=".391" stop-color="#00fff7"/><stop offset=".414" stop-color="#00dbff"/><stop offset=".46" stop-color="#0096ff"/><stop offset=".483" stop-color="#0087ff"/><stop offset=".506" stop-color="#0091ff"/><stop offset=".529" stop-color="#00abff"/><stop offset=".575" stop-color="#00f8ff"/><stop offset=".598" stop-color="#0fd"/><stop offset=".667" stop-color="#00ff7d"/><stop offset=".713" stop-color="#00ff5d"/><stop offset=".805" stop-color="#0f4"/><stop offset="1" stop-color="#00ff35"/></linearGradient>
<linearGradient id="g489" x1="0" y1="0" x2="0" y2="1"><stop offset="0" stop-color="#00ff1e"/><stop offset=".184" stop-color="#00ff31"/><stop offset=".253" stop-color="#00ff47"/><stop offset=".322" stop-color="#00ff85"/><stop offset=".391" stop-color="#00fff9"/><stop offset=".414" stop-color="#00d8ff"/><stop offset=".46" stop-color="#0093ff"/><stop offset=".483" stop-color="#0083ff"/><stop offset=".506" stop-color="#008eff"/><stop offset=".529" stop-color="#00a8ff"/><stop offset=".575" stop-color="#00f6ff"/><stop offset=".598" stop-color="#00ffde"/><stop offset=".644" stop-color="#00ff98"/><stop offset=".667" stop-color="#00ff7e"/><stop offset=".713" stop-color="#00ff5c"/><stop offset=".805" stop-color="#00ff43"/><stop offset="1" stop-color="#00ff34"/></linearGradient>
<linearGradient id="g490" x1="0" y1="0" x2="0" y2="1"><stop offset="0" stop-color="#00ff27"/><stop offset=".184" stop-color="#00ff3b"/><stop offset=".253" stop-color="#00ff51"/><stop offset=".299" stop-color="#00ff74"/><stop offset=".322" stop-color="#00ff8e"/><stop offset=".391" stop-color="#00f9ff"/><stop offset=".437" stop-color="#00a3ff"/><stop offset=".46" stop-color="#0085ff"/><stop offset=".483" stop-color="#0076ff"/><stop offset=".506" stop-color="#0081ff"/><stop offset=".529" stop-color="#009bff"/><stop offset=".575" stop-color="#00eaff"/><stop offset=".598" stop-color="#00ffe9"/><stop offset=".644" stop-color="#00ffa2"/><stop offset=".667" stop-color="#00ff87"/><stop offset=".713" stop-color="#0f6"/><stop offset=".805" stop-color="#00ff4d"/><stop offset="1" stop-color="#00ff3d"/></linearGradient>
<linearGradient id="g491" x1="0" y1="0" x2="0" y2="1"><stop offset="0" stop-color="#00ff1b"/><stop offset=".184" stop-color="#00ff2f"/><stop offset=".253" stop-color="#0f4"/><stop offset=".322" stop-color="#00ff80"/><stop offset=".391" stop-color="#00fff2"/><stop offset=".414" stop-color="#00e1ff"/><stop offset=".46" stop-color="#009dff"/><stop offset=".483" stop-color="#008eff"/><stop offset=".506" stop-color="#09f"/><stop offset=".529" stop-color="#00b2ff"/><stop offset=".575" stop-color="#00fdff"/><stop offset=".644" stop-color="#00ff94"/><stop offset=".69" stop-color="#0f6"/><stop offset=".713" stop-color="#00ff5a"/><stop offset=".805" stop-color="#00ff41"/><stop offset="1" stop-color="#00ff31"/></linearGradient>
<linearGradient id="g492" x1="0" y1="0" x2="0" y2="1"><stop offset="0" stop-color="#00ff1d"/><stop offset=".184" stop-color="#00ff30"/><stop offset=".253" stop-color="#00ff45"/><stop offset=".322" stop-color="#00ff7e"/><stop offset=".391" stop-color="#00ffeb"/><stop offset=".414" stop-color="#00eaff"/><stop offset=".46" stop-color="#00a9ff"/><stop offset=".483" stop-color="#009aff"/><stop offset=".506" stop-color="#00a5ff"/><stop offset=".529" stop-color="#00bcff"/><stop offset=".575" stop-color="#00fffa"/><stop offset=".644" stop-color="#00ff92"/><stop offset=".69" stop-color="#00ff67"/><stop offset=".713" stop-color="#00ff5b"/><stop offset=".805" stop-color="#00ff42"/><stop offset="1" stop-color="#00ff32"/></linearGradient>
<linearGradient id="g493" x1="0" y1="0" x2="0" y2="1"><stop offset="0" stop-color="#00ff19"/><stop offset=".184" stop-color="#00ff2c"/><stop offset=".253" stop-color="#00ff41"/><stop offset=".322" stop-color="#00ff7a"/><stop offset=".391" stop-color="#00ffe7"/><stop offset=".414" stop-color="#00edff"/><stop offset=".46" stop-color="#00acff"/><stop offset=".483" stop-color="#009dff"/><stop offset=".506" stop-color="#00a7ff"/><stop offset=".529" stop-color="#00bfff"/><stop offset=".575" stop-color="#00fff6"/><stop offset=".644" stop-color="#00ff8e"/><stop offset=".69" stop-color="#00ff63"/><stop offset=".713" stop-color="#00ff57"/><stop offset=".805" stop-color="#00ff3f"/><stop offset="1" stop-color="#00ff2f"/></linearGradient>
<linearGradient id="g494" x1="0" y1="0" x2="0" y2="1"><stop offset="0" stop-color="#00ff29"/><stop offset=".184" stop-color="#00ff3c"/><stop offset=".253" stop-color="#00ff51"/><stop offset=".322" stop-color="#00ff8b"/><stop offset=".391" stop-color="#00fffa"/><stop offset=".414" stop-color="#00daff"/><stop offset=".46" stop-color="#0097ff"/><stop offset=".483" stop-color="#08f"/><stop offset=".506" stop-color="#0092ff"/><stop offset=".529" stop-color="#00abff"/><stop offset=".575" stop-color="#00f5ff"/><stop offset=".598" stop-color="#00ffe1"/><stop offset=".667" stop-color="#00ff87"/><stop offset=".713" stop-color="#00ff69"/><stop offset=".782" stop-color="#00ff58"/><stop offset="1" stop-color="#00ff48"/></linearGradient>
<linearGradient id="g495" x1="0" y1="0" x2="0" y2="1"><stop offset="0" stop-color="#00ff2c"/><stop offset=".184" stop-color="#00ff40"/><stop offset=".253" stop-color="#00ff54"/><stop offset=".322" stop-color="#00ff8e"/><stop offset=".391" stop-color="#00fffc"/><stop offset=".414" stop-color="#00d8ff"/><stop offset=".46" stop-color="#0095ff"/><stop offset=".483" stop-color="#0086ff"/><stop offset=".506" stop-color="#0091ff"/><stop offset=".529" stop-color="#00a9ff"/><stop offset=".575" stop-color="#00f2ff"/><stop offset=".598" stop-color="#00ffe4"/><stop offset=".644" stop-color="#00ffa3"/><stop offset=".667" stop-color="#00ff8c"/><stop offset=".713" stop-color="#00ff71"/><stop offset=".782" stop-color="#00ff6b"/><stop offset=".92" stop-color="#00ff7a"/><stop offset="1" stop-color="#00ff68"/></linearGradient>
<linearGradient id="g496" x1="0" y1="0" x2="0" y2="1"><stop offset="0" stop-color="#00ff30"/><stop offset=".184" stop-color="#0f4"/><stop offset=".253" stop-color="#00ff57"/><stop offset=".322" stop-color="#00ff8f"/><stop offset=".391" stop-color="#00fffd"/><stop offset=".414" stop-color="#00d7ff"/><stop offset=".46" stop-color="#0095ff"/><stop offset=".483" stop-color="#0086ff"/><stop offset=".506" stop-color="#0091ff"/><stop offset=".529" stop-color="#00a9ff"/><stop offset=".575" stop-color="#00f2ff"/><stop offset=".598" stop-color="#00ffe5"/><stop offset=".644" stop-color="#00ffa5"/><stop offset=".667" stop-color="#00ff8e"/><stop offset=".713" stop-color="#00ff75"/><stop offset=".782" stop-color="#00ff74"/><stop offset=".897" stop-color="#00ff90"/><stop offset=".943" stop-color="#00ff8c"/><stop offset="1" stop-color="#00ff78"/></linearGradient>
<linearGradient id="g497" x1="0" y1="0" x2="0" y2="1"><stop offset="0" stop-color="#00ff3d"/><stop offset=".092" stop-color="#00ff51"/><stop offset=".207" stop-color="#00ff51"/><stop offset=".253" stop-color="#00ff5b"/><stop offset=".276" stop-color="#0f6"/><stop offset=".322" stop-color="#00ff90"/><stop offset=".391" stop-color="#00fffe"/><stop offset=".414" stop-color="#00d5ff"/><stop offset=".46" stop-color="#0093ff"/><stop offset=".483" stop-color="#0084ff"/><stop offset=".506" stop-color="#008eff"/><stop offset=".529" stop-color="#00a7ff"/><stop offset=".575" stop-color="#00f0ff"/><stop offset=".598" stop-color="#00ffe6"/><stop offset=".644" stop-color="#00ffa5"/><stop offset=".667" stop-color="#00ff8d"/><stop offset=".713" stop-color="#00ff71"/><stop offset=".782" stop-color="#0f6"/><stop offset=".92" stop-color="#00ff6b"/><stop offset="1" stop-color="#00ff5d"/></linearGradient>
<linearGradient id="g498" x1="0" y1="0" x2="0" y2="1"><stop offset="0" stop-color="#00ff4e"/><stop offset=".092" stop-color="#00ff6e"/><stop offset=".23" stop-color="#00ff5c"/><stop offset=".276" stop-color="#00ff69"/><stop offset=".322" stop-color="#00ff90"/><stop offset=".391" stop-color="#00fffc"/><stop offset=".437" stop-color="#00b2ff"/><stop offset=".46" stop-color="#0096ff"/><stop offset=".483" stop-color="#0087ff"/><stop offset=".506" stop-color="#0091ff"/><stop offset=".529" stop-color="#0af"/><stop offset=".575" stop-color="#00f3ff"/><stop offset=".598" stop-color="#00ffe4"/><stop offset=".644" stop-color="#00ffa3"/><stop offset=".69" stop-color="#00ff78"/><stop offset=".713" stop-color="#00ff6c"/><stop offset=".805" stop-color="#00ff56"/><stop offset="1" stop-color="#00ff46"/></linearGradient>
<linearGradient id="g499" x1="0" y1="0" x2="0" y2="1"><stop offset="0" stop-color="#0f4"/><stop offset=".092" stop-color="#00ff5d"/><stop offset=".23" stop-color="#00ff57"/><stop offset=".276" stop-color="#0f6"/><stop offset=".322" stop-color="#00ff8e"/><stop offset=".391" stop-color="#00fff8"/><stop offset=".437" stop-color="#00b9ff"/><stop offset=".46" stop-color="#009dff"/><stop offset=".483" stop-color="#008fff"/><stop offset=".506" stop-color="#09f"/><stop offset=".529" stop-color="#00b0ff"/><stop offset=".575" stop-color="#00f7ff"/><stop offset=".644" stop-color="#00ffa2"/><stop offset=".69" stop-color="#0f7"/><stop offset=".713" stop-color="#00ff6b"/><stop offset=".805" stop-color="#00ff53"/><stop offset="1" stop-color="#00ff41"/></linearGradient>
<linearGradient id="g500" x1="0" y1="0" x2="0" y2="1"><stop offset="0" stop-color="#00ff2e"/><stop offset=".092" stop-color="#00ff41"/><stop offset=".23" stop-color="#00ff45"/><stop offset=".276" stop-color="#00ff58"/><stop offset=".322" stop-color="#00ff82"/><stop offset=".391" stop-color="#00ffed"/><stop offset=".414" stop-color="#00e8ff"/><stop offset=".46" stop-color="#00a7ff"/><stop offset=".483" stop-color="#09f"/><stop offset=".506" stop-color="#00a3ff"/><stop offset=".529" stop-color="#00baff"/><stop offset=".575" stop-color="#00fffc"/><stop offset=".644" stop-color="#00ff96"/><stop offset=".69" stop-color="#00ff6b"/><stop offset=".713" stop-color="#00ff5f"/><stop offset=".805" stop-color="#00ff46"/><stop offset="1" stop-color="#00ff34"/></linearGradient>
<linearGradient id="g501" x1="0" y1="0" x2="0" y2="1"><stop offset="0" stop-color="#00ff41"/><stop offset=".092" stop-color="#00ff5f"/><stop offset=".23" stop-color="#00ff52"/><stop offset=".276" stop-color="#00ff60"/><stop offset=".322" stop-color="#00ff89"/><stop offset=".391" stop-color="#00fff8"/><stop offset=".437" stop-color="#00b4ff"/><stop offset=".46" stop-color="#0098ff"/><stop offset=".483" stop-color="#0089ff"/><stop offset=".506" stop-color="#0093ff"/><stop offset=".529" stop-color="#00acff"/><stop offset=".575" stop-color="#00f6ff"/><stop offset=".598" stop-color="#00ffe0"/><stop offset=".644" stop-color="#00ff9d"/><stop offset=".69" stop-color="#00ff71"/><stop offset=".713" stop-color="#00ff64"/><stop offset=".805" stop-color="#00ff4a"/><stop offset="1" stop-color="#00ff39"/></linearGradient>
<linearGradient id="g502" x1="0" y1="0" x2="0" y2="1"><stop offset="0" stop-color="#00ff4f"/><stop offset=".092" stop-color="#00ff73"/><stop offset=".23" stop-color="#00ff5b"/><stop offset=".276" stop-color="#00ff67"/><stop offset=".322" stop-color="#00ff8f"/><stop offset=".391" stop-color="#00fffd"/><stop offset=".437" stop-color="#00b1ff"/><stop offset=".46" stop-color="#0094ff"/><stop offset=".483" stop-color="#0086ff"/><stop offset=".506" stop-color="#0090ff"/><stop offset=".529" stop-color="#00a8ff"/><stop offset=".575" stop-color="#00f2ff"/><stop offset=".598" stop-color="#00ffe5"/><stop offset=".644" stop-color="#00ffa2"/><stop offset=".69" stop-color="#00ff76"/><stop offset=".713" stop-color="#00ff6a"/><stop offset=".805" stop-color="#00ff50"/><stop offset="1" stop-color="#00ff3e"/></linearGradient>
<linearGradient id="g503" x1="0" y1="0" x2="0" y2="1"><stop offset="0" stop-color="#00ff36"/><stop offset=".092" stop-color="#00ff4f"/><stop offset=".207" stop-color="#00ff48"/><stop offset=".253" stop-color="#00ff4f"/><stop offset=".276" stop-color="#00ff59"/><stop offset=".322" stop-color="#00ff80"/><stop offset=".391" stop-color="#00ffe9"/><stop offset=".414" stop-color="#00edff"/><stop offset=".46" stop-color="#00aeff"/><stop offset=".483" stop-color="#009fff"/><stop offset=".506" stop-color="#00a9ff"/><stop offset=".552" stop-color="#00e0ff"/><stop offset=".575" stop-color="#00fff9"/><stop offset=".644" stop-color="#00ff95"/><stop offset=".713" stop-color="#00ff5f"/><stop offset=".805" stop-color="#00ff45"/><stop offset="1" stop-color="#0f3"/></linearGradient>
<linearGradient id="g504" x1="0" y1="0" x2="0" y2="1"><stop offset="0" stop-color="#00ff2f"/><stop offset=".207" stop-color="#00ff46"/><stop offset=".253" stop-color="#00ff53"/><stop offset=".322" stop-color="#0f8"/><stop offset=".391" stop-color="#00ffef"/><stop offset=".414" stop-color="#00e8ff"/><stop offset=".46" stop-color="#0af"/><stop offset=".483" stop-color="#009cff"/><stop offset=".506" stop-color="#00a5ff"/><stop offset=".529" stop-color="#0bf"/><stop offset=".575" stop-color="#0ff"/><stop offset=".644" stop-color="#00ff9d"/><stop offset=".713" stop-color="#00ff68"/><stop offset=".805" stop-color="#00ff4e"/><stop offset="1" stop-color="#00ff3c"/></linearGradient>
<linearGradient id="g505" x1="0" y1="0" x2="0" y2="1"><stop offset="0" stop-color="#00ff2e"/><stop offset=".184" stop-color="#00ff42"/><stop offset=".253" stop-color="#00ff56"/><stop offset=".276" stop-color="#00ff63"/><stop offset=".322" stop-color="#00ff8e"/><stop offset=".391" stop-color="#00fffb"/><stop offset=".414" stop-color="#00daff"/><stop offset=".46" stop-color="#09f"/><stop offset=".483" stop-color="#008bff"/><stop offset=".506" stop-color="#0094ff"/><stop offset=".529" stop-color="#00acff"/><stop offset=".575" stop-color="#00f3ff"/><stop offset=".598" stop-color="#00ffe5"/><stop offset=".644" stop-color="#00ffa4"/><stop offset=".713" stop-color="#00ff6d"/><stop offset=".805" stop-color="#00ff53"/><stop offset="1" stop-color="#00ff41"/></linearGradient>
<linearGradient id="g506" x1="0" y1="0" x2="0" y2="1"><stop offset="0" stop-color="#00ff21"/><stop offset=".184" stop-color="#00ff35"/><stop offset=".253" stop-color="#00ff4a"/><stop offset=".276" stop-color="#00ff57"/><stop offset=".322" stop-color="#00ff84"/><stop offset=".391" stop-color="#00fff4"/><stop offset=".414" stop-color="#00dfff"/><stop offset=".46" stop-color="#009cff"/><stop offset=".483" stop-color="#008eff"/><stop offset=".506" stop-color="#0097ff"/><stop offset=".529" stop-color="#00b0ff"/><stop offset=".575" stop-color="#00faff"/><stop offset=".598" stop-color="#0fd"/><stop offset=".644" stop-color="#00ff9a"/><stop offset=".69" stop-color="#00ff6e"/><stop offset=".713" stop-color="#00ff61"/><stop offset=".805" stop-color="#00ff47"/><stop offset="1" stop-color="#00ff34"/></linearGradient>
<linearGradient id="g507" x1="0" y1="0" x2="0" y2="1"><stop offset="0" stop-color="#00ff21"/><stop offset=".184" stop-color="#00ff35"/><stop offset=".253" stop-color="#00ff49"/><stop offset=".276" stop-color="#00ff56"/><stop offset=".322" stop-color="#00ff81"/><stop offset=".391" stop-color="#00ffed"/><stop offset=".414" stop-color="#00e8ff"/><stop offset=".46" stop-color="#00a7ff"/><stop offset=".483" stop-color="#09f"/><stop offset=".506" stop-color="#00a2ff"/><stop offset=".529" stop-color="#00b9ff"/><stop offset=".575" stop-color="#00fffe"/><stop offset=".644" stop-color="#00ff98"/><stop offset=".713" stop-color="#00ff61"/><stop offset=".805" stop-color="#00ff49"/><stop offset="1" stop-color="#00ff37"/></linearGradient>
<linearGradient id="g508" x1="0" y1="0" x2="0" y2="1"><stop offset="0" stop-color="#0f2"/><stop offset=".184" stop-color="#00ff36"/><stop offset=".276" stop-color="#00ff56"/><stop offset=".322" stop-color="#00ff7f"/><stop offset=".391" stop-color="#00ffe3"/><stop offset=".414" stop-color="#00f4ff"/><stop offset=".46" stop-color="#00b8ff"/><stop offset=".483" stop-color="#00abff"/><stop offset=".506" stop-color="#00b3ff"/><stop offset=".552" stop-color="#00e7ff"/><stop offset=".575" stop-color="#00fff4"/><stop offset=".644" stop-color="#00ff95"/><stop offset=".713" stop-color="#00ff63"/><stop offset=".782" stop-color="#00ff53"/><stop offset=".92" stop-color="#00ff52"/><stop offset="1" stop-color="#0f4"/></linearGradient>
<linearGradient id="g509" x1="0" y1="0" x2="0" y2="1"><stop offset="0" stop-color="#00ff21"/><stop offset=".184" stop-color="#00ff36"/><stop offset=".276" stop-color="#00ff54"/><stop offset=".345" stop-color="#00ff97"/><stop offset=".414" stop-color="#00fdff"/><stop offset=".46" stop-color="#00c4ff"/><stop offset=".483" stop-color="#00b7ff"/><stop offset=".506" stop-color="#00bfff"/><stop offset=".552" stop-color="#00f0ff"/><stop offset=".575" stop-color="#00ffed"/><stop offset=".644" stop-color="#00ff93"/><stop offset=".713" stop-color="#00ff63"/><stop offset=".782" stop-color="#00ff59"/><stop offset=".92" stop-color="#00ff6b"/><stop offset="1" stop-color="#00ff54"/></linearGradient>
<linearGradient id="g510" x1="0" y1="0" x2="0" y2="1"><stop offset="0" stop-color="#00ff27"/><stop offset=".184" stop-color="#00ff3b"/><stop offset=".276" stop-color="#00ff5a"/><stop offset=".345" stop-color="#00ff9c"/><stop offset=".414" stop-color="#00fbff"/><stop offset=".46" stop-color="#00c3ff"/><stop offset=".483" stop-color="#00b6ff"/><stop offset=".506" stop-color="#00beff"/><stop offset=".552" stop-color="#0ef"/><stop offset=".575" stop-color="#00fff0"/><stop offset=".644" stop-color="#00ff98"/><stop offset=".713" stop-color="#00ff6a"/><stop offset=".782" stop-color="#00ff60"/><stop offset=".92" stop-color="#00ff70"/><stop offset="1" stop-color="#00ff5a"/></linearGradient>
<linearGradient id="g511" x1="0" y1="0" x2="0" y2="1"><stop offset="0" stop-color="#00ff1f"/><stop offset=".184" stop-color="#00ff34"/><stop offset=".276" stop-color="#00ff53"/><stop offset=".345" stop-color="#00ff96"/><stop offset=".414" stop-color="#00fffe"/><stop offset=".46" stop-color="#00c8ff"/><stop offset=".483" stop-color="#0bf"/><stop offset=".506" stop-color="#00c3ff"/><stop offset=".552" stop-color="#00f2ff"/><stop offset=".575" stop-color="#00ffec"/><stop offset=".644" stop-color="#00ff93"/><stop offset=".713" stop-color="#0f6"/><stop offset=".782" stop-color="#00ff60"/><stop offset=".92" stop-color="#00ff71"/><stop offset="1" stop-color="#00ff5b"/></linearGradient>
<linearGradient id="g512" x1="0" y1="0" x2="0" y2="1"><stop offset="0" stop-color="#0f2"/><stop offset=".184" stop-color="#00ff36"/><stop offset=".276" stop-color="#0f5"/><stop offset=".345" stop-color="#00ff97"/><stop offset=".414" stop-color="#00fffc"/><stop offset=".437" stop-color="#00e4ff"/><stop offset=".483" stop-color="#00c0ff"/><stop offset=".506" stop-color="#00c8ff"/><stop offset=".552" stop-color="#00f5ff"/><stop offset=".575" stop-color="#00ffea"/><stop offset=".644" stop-color="#00ff95"/><stop offset=".713" stop-color="#00ff6b"/><stop offset=".782" stop-color="#00ff68"/><stop offset=".897" stop-color="#00ff7d"/><stop offset=".943" stop-color="#00ff78"/><stop offset="1" stop-color="#00ff65"/></linearGradient>
<linearGradient id="g513" x1="0" y1="0" x2="0" y2="1"><stop offset="0" stop-color="#00ff26"/><stop offset=".184" stop-color="#00ff3b"/><stop offset=".276" stop-color="#00ff59"/><stop offset=".345" stop-color="#00ff9b"/><stop offset=".414" stop-color="#0ff"/><stop offset=".46" stop-color="#00c9ff"/><stop offset=".483" stop-color="#00bdff"/><stop offset=".506" stop-color="#00c4ff"/><stop offset=".552" stop-color="#00f1ff"/><stop offset=".575" stop-color="#0fe"/><stop offset=".644" stop-color="#00ff98"/><stop offset=".713" stop-color="#00ff69"/><stop offset=".782" stop-color="#00ff59"/><stop offset="1" stop-color="#00ff48"/></linearGradient>
<linearGradient id="g514" x1="0" y1="0" x2="0" y2="1"><stop offset="0" stop-color="#00ff2c"/><stop offset=".184" stop-color="#00ff41"/><stop offset=".276" stop-color="#00ff60"/><stop offset=".322" stop-color="#00ff87"/><stop offset=".391" stop-color="#00ffe5"/><stop offset=".414" stop-color="#00f6ff"/><stop offset=".46" stop-color="#00c0ff"/><stop offset=".483" stop-color="#00b4ff"/><stop offset=".529" stop-color="#00ceff"/><stop offset=".575" stop-color="#00fff6"/><stop offset=".644" stop-color="#00ff9f"/><stop offset=".713" stop-color="#00ff6d"/><stop offset=".805" stop-color="#00ff53"/><stop offset="1" stop-color="#00ff40"/></linearGradient>
<linearGradient id="g515" x1="0" y1="0" x2="0" y2="1"><stop offset="0" stop-color="#00ff2c"/><stop offset=".184" stop-color="#00ff41"/><stop offset=".276" stop-color="#00ff5e"/><stop offset=".345" stop-color="#00ff9e"/><stop offset=".414" stop-color="#00fffd"/><stop offset=".437" stop-color="#00e4ff"/><stop offset=".483" stop-color="#00c2ff"/><stop offset=".506" stop-color="#00c9ff"/><stop offset=".552" stop-color="#00f3ff"/><stop offset=".575" stop-color="#0fe"/><stop offset=".621" stop-color="#00ffb4"/><stop offset=".667" stop-color="#00ff87"/><stop offset=".736" stop-color="#00ff63"/><stop offset=".828" stop-color="#00ff4e"/><stop offset="1" stop-color="#00ff3e"/></linearGradient>
<linearGradient id="g516" x1="0" y1="0" x2="0" y2="1"><stop offset="0" stop-color="#00ff29"/><stop offset=".184" stop-color="#00ff3e"/><stop offset=".276" stop-color="#00ff5b"/><stop offset=".345" stop-color="#0f9"/><stop offset=".414" stop-color="#00fff4"/><stop offset=".437" stop-color="#0ef"/><stop offset=".483" stop-color="#00cdff"/><stop offset=".506" stop-color="#00d4ff"/><stop offset=".552" stop-color="#00fcff"/><stop offset=".644" stop-color="#00ff98"/><stop offset=".69" stop-color="#00ff75"/><stop offset=".736" stop-color="#00ff60"/><stop offset=".828" stop-color="#00ff4c"/><stop offset="1" stop-color="#00ff3b"/></linearGradient>
<linearGradient id="g517" x1="0" y1="0" x2="0" y2="1"><stop offset="0" stop-color="#00ff2e"/><stop offset=".184" stop-color="#00ff43"/><stop offset=".276" stop-color="#00ff60"/><stop offset=".345" stop-color="#00ff9c"/><stop offset=".414" stop-color="#00fff5"/><stop offset=".437" stop-color="#0ef"/><stop offset=".483" stop-color="#00cfff"/><stop offset=".506" stop-color="#00d5ff"/><stop offset=".552" stop-color="#00fbff"/><stop offset=".644" stop-color="#00ff9c"/><stop offset=".69" stop-color="#00ff79"/><stop offset=".736" stop-color="#00ff65"/><stop offset=".828" stop-color="#00ff51"/><stop offset="1" stop-color="#00ff40"/></linearGradient>
<linearGradient id="g518" x1="0" y1="0" x2="0" y2="1"><stop offset="0" stop-color="#00ff1f"/><stop offset=".184" stop-color="#00ff34"/><stop offset=".276" stop-color="#00ff51"/><stop offset=".345" stop-color="#00ff8d"/><stop offset=".437" stop-color="#00feff"/><stop offset=".483" stop-color="#00deff"/><stop offset=".529" stop-color="#00f4ff"/><stop offset=".552" stop-color="#00fff3"/><stop offset=".644" stop-color="#00ff8d"/><stop offset=".69" stop-color="#00ff6a"/><stop offset=".736" stop-color="#00ff56"/><stop offset=".828" stop-color="#00ff42"/><stop offset="1" stop-color="#00ff31"/></linearGradient>
<linearGradient id="g519" x1="0" y1="0" x2="0" y2="1"><stop offset="0" stop-color="#00ff2a"/><stop offset=".184" stop-color="#00ff3f"/><stop offset=".276" stop-color="#00ff5c"/><stop offset=".345" stop-color="#0f9"/><stop offset=".414" stop-color="#00fff4"/><stop offset=".437" stop-color="#00efff"/><stop offset=".483" stop-color="#00ceff"/><stop offset=".506" stop-color="#00d5ff"/><stop offset=".552" stop-color="#00fcff"/><stop offset=".644" stop-color="#0f9"/><stop offset=".69" stop-color="#00ff76"/><stop offset=".736" stop-color="#00ff61"/><stop offset=".828" stop-color="#00ff4d"/><stop offset="1" stop-color="#00ff3b"/></linearGradient>
<linearGradient id="g520" x1="0" y1="0" x2="0" y2="1"><stop offset="0" stop-color="#00ff2a"/><stop offset=".184" stop-color="#00ff40"/><stop offset=".276" stop-color="#00ff5b"/><stop offset=".345" stop-color="#00ff98"/><stop offset=".414" stop-color="#00fff3"/><stop offset=".437" stop-color="#00efff"/><stop offset=".483" stop-color="#00cfff"/><stop offset=".506" stop-color="#00d5ff"/><stop offset=".552" stop-color="#00fdff"/><stop offset=".644" stop-color="#00ff97"/><stop offset=".69" stop-color="#00ff74"/><stop offset=".736" stop-color="#00ff60"/><stop offset=".828" stop-color="#00ff4b"/><stop offset="1" stop-color="#00ff39"/></linearGradient>
<linearGradient id="g521" x1="0" y1="0" x2="0" y2="1"><stop offset="0" stop-color="#00ff2c"/><stop offset=".207" stop-color="#0f4"/><stop offset=".276" stop-color="#00ff56"/><stop offset=".322" stop-color="#00ff78"/><stop offset=".414" stop-color="#00ffeb"/><stop offset=".437" stop-color="#00f7ff"/><stop offset=".483" stop-color="#00d6ff"/><stop offset=".506" stop-color="#0df"/><stop offset=".552" stop-color="#00fff9"/><stop offset=".644" stop-color="#00ff90"/><stop offset=".69" stop-color="#00ff6d"/><stop offset=".736" stop-color="#00ff58"/><stop offset=".828" stop-color="#00ff43"/><stop offset="1" stop-color="#00ff32"/></linearGradient>
<linearGradient id="g522" x1="0" y1="0" x2="0" y2="1"><stop offset="0" stop-color="#00ff3f"/><stop offset=".092" stop-color="#00ff57"/><stop offset=".23" stop-color="#00ff53"/><stop offset=".276" stop-color="#00ff5c"/><stop offset=".345" stop-color="#00ff91"/><stop offset=".437" stop-color="#00fbff"/><stop offset=".483" stop-color="#00dbff"/><stop offset=".529" stop-color="#00f1ff"/><stop offset=".552" stop-color="#00fff7"/><stop offset=".644" stop-color="#00ff90"/><stop offset=".713" stop-color="#00ff62"/><stop offset=".828" stop-color="#0f4"/><stop offset="1" stop-color="#0f3"/></linearGradient>
<linearGradient id="g523" x1="0" y1="0" x2="0" y2="1"><stop offset="0" stop-color="#00ff40"/><stop offset=".092" stop-color="#00ff5c"/><stop offset=".23" stop-color="#00ff50"/><stop offset=".276" stop-color="#00ff54"/><stop offset=".322" stop-color="#00ff6c"/><stop offset=".437" stop-color="#00ffdb"/><stop offset=".483" stop-color="#00fff6"/><stop offset=".529" stop-color="#00ffe5"/><stop offset=".644" stop-color="#00ff81"/><stop offset=".713" stop-color="#00ff59"/><stop offset=".828" stop-color="#00ff3d"/><stop offset="1" stop-color="#00ff2b"/></linearGradient>
<linearGradient id="g524" x1="0" y1="0" x2="0" y2="1"><stop offset="0" stop-color="#00ff2d"/><stop offset=".092" stop-color="#0f4"/><stop offset=".276" stop-color="#00ff47"/><stop offset=".322" stop-color="#00ff5b"/><stop offset=".437" stop-color="#00ffad"/><stop offset=".483" stop-color="#00ffc3"/><stop offset=".529" stop-color="#00ffb8"/><stop offset=".667" stop-color="#00ff68"/><stop offset=".736" stop-color="#00ff4f"/><stop offset="1" stop-color="#00ff2a"/></linearGradient>
<linearGradient id="g525" x1="0" y1="0" x2="0" y2="1"><stop offset="0" stop-color="#0f2"/><stop offset=".276" stop-color="#00ff46"/><stop offset=".483" stop-color="#00ffa0"/><stop offset=".552" stop-color="#00ff98"/><stop offset=".736" stop-color="#00ff69"/><stop offset="1" stop-color="#00ff45"/></linearGradient>
<linearGradient id="g526" x1="0" y1="0" x2="0" y2="1"><stop offset="0" stop-color="#00ff1e"/><stop offset=".276" stop-color="#00ff43"/><stop offset=".483" stop-color="#00ff8c"/><stop offset=".782" stop-color="#0f8"/><stop offset="1" stop-color="#0f6"/></linearGradient>
<linearGradient id="g527" x1="0" y1="0" x2="0" y2="1"><stop offset="0" stop-color="#00ff2a"/><stop offset=".276" stop-color="#00ff4a"/><stop offset=".483" stop-color="#00ff80"/><stop offset=".782" stop-color="#00ff7e"/><stop offset="1" stop-color="#00ff65"/></linearGradient>
<linearGradient id="g528" x1="0" y1="0" x2="0" y2="1"><stop offset="0" stop-color="#00ff2a"/><stop offset=".276" stop-color="#00ff49"/><stop offset=".483" stop-color="#00ff70"/><stop offset="1" stop-color="#00ff4a"/></linearGradient>
<linearGradient id="g529" x1="0" y1="0" x2="0" y2="1"><stop offset="0" stop-color="#00ff3e"/><stop offset=".276" stop-color="#00ff72"/><stop offset=".483" stop-color="#00ffa7"/><stop offset=".598" stop-color="#00ff9d"/><stop offset=".874" stop-color="#00ff59"/><stop offset="1" stop-color="#00ff46"/></linearGradient>
<linearGradient id="g530" x1="0" y1="0" x2="0" y2="1"><stop offset="0" stop-color="#0f5"/><stop offset=".345" stop-color="#00ffbd"/><stop offset=".575" stop-color="#00ffbd"/><stop offset=".805" stop-color="#00ff65"/><stop offset="1" stop-color="#00ff46"/></linearGradient>
<linearGradient id="g531" x1="0" y1="0" x2="0" y2="1"><stop offset="0" stop-color="#00ff52"/><stop offset=".161" stop-color="#00ff7d"/><stop offset=".368" stop-color="#00ffc2"/><stop offset=".437" stop-color="#00ffcf"/><stop offset=".529" stop-color="#00ffcf"/><stop offset=".805" stop-color="#00ff79"/><stop offset="1" stop-color="#00ff5c"/></linearGradient>
<linearGradient id="g532" x1="0" y1="0" x2="0" y2="1"><stop offset="0" stop-color="#00ff3e"/><stop offset=".161" stop-color="#00ff63"/><stop offset=".483" stop-color="#00ffc0"/><stop offset=".667" stop-color="#00ffb5"/><stop offset="1" stop-color="#00ff71"/></linearGradient>
<linearGradient id="g533" x1="0" y1="0" x2="0" y2="1"><stop offset="0" stop-color="#00ff34"/><stop offset=".23" stop-color="#00ff5f"/><stop offset=".483" stop-color="#0fa"/><stop offset=".644" stop-color="#00ffc1"/><stop offset=".805" stop-color="#0fb"/><stop offset="1" stop-color="#00ff87"/></linearGradient>
<linearGradient id="g534" x1="0" y1="0" x2="0" y2="1"><stop offset="0" stop-color="#00ff2a"/><stop offset=".483" stop-color="#0f6"/><stop offset="1" stop-color="#00ff59"/></linearGradient>
<linearGradient id="g535" x1="0" y1="0" x2="0" y2="1"><stop offset="0" stop-color="#00ff23"/><stop offset=".483" stop-color="#00ff6c"/><stop offset=".69" stop-color="#00ff5a"/><stop offset="1" stop-color="#00ff4f"/></linearGradient>
<linearGradient id="g536" x1="0" y1="0" x2="0" y2="1"><stop offset="0" stop-color="#00ff24"/><stop offset=".345" stop-color="#00ff5d"/><stop offset=".483" stop-color="#00ff7f"/><stop offset=".69" stop-color="#00ff61"/><stop offset="1" stop-color="#00ff52"/></linearGradient>
<linearGradient id="g537" x1="0" y1="0" x2="0" y2="1"><stop offset="0" stop-color="#00ff28"/><stop offset=".345" stop-color="#00ff6a"/><stop offset=".483" stop-color="#00ff95"/><stop offset=".69" stop-color="#00ff6b"/><stop offset="1" stop-color="#00ff57"/></linearGradient>
<linearGradient id="g538" x1="0" y1="0" x2="0" y2="1"><stop offset="0" stop-color="#00ff2e"/><stop offset=".345" stop-color="#00ff7a"/><stop offset=".483" stop-color="#00ffad"/><stop offset=".69" stop-color="#0f7"/><stop offset="1" stop-color="#00ff5e"/></linearGradient>
<linearGradient id="g539" x1="0" y1="0" x2="0" y2="1"><stop offset="0" stop-color="#00ff31"/><stop offset=".345" stop-color="#00ff89"/><stop offset=".483" stop-color="#00ffc7"/><stop offset=".69" stop-color="#00ff84"/><stop offset="1" stop-color="#00ff64"/></linearGradient>
<linearGradient id="g540" x1="0" y1="0" x2="0" y2="1"><stop offset="0" stop-color="#00ff31"/><stop offset=".345" stop-color="#00ffa5"/><stop offset=".437" stop-color="#00ffd5"/><stop offset=".575" stop-color="#00ffd3"/><stop offset=".69" stop-color="#00ffa8"/><stop offset="1" stop-color="#00ff6f"/></linearGradient>
<linearGradient id="g541" x1="0" y1="0" x2="0" y2="1"><stop offset="0" stop-color="#00ff2b"/><stop offset=".345" stop-color="#00ff9c"/><stop offset=".437" stop-color="#00ffc9"/><stop offset=".46" stop-color="#00ffcd"/><stop offset=".575" stop-color="#00ffc9"/><stop offset=".69" stop-color="#00ffa7"/><stop offset="1" stop-color="#00ff6b"/></linearGradient>
<linearGradient id="g542" x1="0" y1="0" x2="0" y2="1"><stop offset="0" stop-color="#00ff1e"/><stop offset=".345" stop-color="#00ff6a"/><stop offset=".483" stop-color="#00ff96"/><stop offset=".69" stop-color="#00ff6e"/><stop offset="1" stop-color="#00ff50"/></linearGradient>
<linearGradient id="g543" x1="0" y1="0" x2="0" y2="1"><stop offset="0" stop-color="#00ff0f"/><stop offset=".483" stop-color="#00ff67"/><stop offset=".69" stop-color="#00ff4f"/><stop offset="1" stop-color="#00ff3b"/></linearGradient>
<linearGradient id="g544" x1="0" y1="0" x2="0" y2="1"><stop offset="0" stop-color="#00ff10"/><stop offset=".483" stop-color="#0f5"/><stop offset="1" stop-color="#00ff3a"/></linearGradient>
<linearGradient id="g545" x1="0" y1="0" x2="0" y2="1"><stop offset="0" stop-color="#00ff1a"/><stop offset=".483" stop-color="#00ff69"/><stop offset="1" stop-color="#0f4"/></linearGradient>
<linearGradient id="g546" x1="0" y1="0" x2="0" y2="1"><stop offset="0" stop-color="#00ff1b"/><stop offset=".483" stop-color="#00ff73"/><stop offset="1" stop-color="#00ff45"/></linearGradient>
<linearGradient id="g547" x1="0" y1="0" x2="0" y2="1"><stop offset="0" stop-color="#00ff20"/><stop offset=".483" stop-color="#00ff81"/><stop offset="1" stop-color="#00ff4b"/></linearGradient>
<linearGradient id="g548" x1="0" y1="0" x2="0" y2="1"><stop offset="0" stop-color="#00ff18"/><stop offset=".483" stop-color="#00ff82"/><stop offset="1" stop-color="#00ff42"/></linearGradient>
<linearGradient id="g549" x1="0" y1="0" x2="0" y2="1"><stop offset="0" stop-color="#00ff20"/><stop offset=".483" stop-color="#00ff84"/><stop offset="1" stop-color="#00ff4b"/></linearGradient>
<linearGradient id="g550" x1="0" y1="0" x2="0" y2="1"><stop offset="0" stop-color="#00ff1f"/><stop offset=".483" stop-color="#00ff6c"/><stop offset="1" stop-color="#00ff4a"/></linearGradient>
<linearGradient id="g551" x1="0" y1="0" x2="0" y2="1"><stop offset="0" stop-color="#00ff1c"/><stop offset=".483" stop-color="#00ff52"/><stop offset="1" stop-color="#00ff46"/></linearGradient>
<linearGradient id="g552" x1="0" y1="0" x2="0" y2="1"><stop offset="0" stop-color="#00ff18"/><stop offset=".483" stop-color="#00ff47"/><stop offset=".805" stop-color="#00ff36"/><stop offset="1" stop-color="#00ff1d"/></linearGradient>
<linearGradient id="g553" x1="0" y1="0" x2="0" y2="1"><stop offset="0" stop-color="#00ff02"/><stop offset=".483" stop-color="#00ff2b"/><stop offset=".828" stop-color="#00ff01"/><stop offset="1" stop-color="#27ff00"/></linearGradient>
<linearGradient id="g554" x1="0" y1="0" x2="0" y2="1"><stop offset="0" stop-color="#02ff00"/><stop offset=".483" stop-color="#00ff21"/><stop offset=".667" stop-color="#00ff01"/><stop offset=".805" stop-color="#17ff00"/><stop offset="1" stop-color="#58ff00"/></linearGradient>
<linearGradient id="g555" x1="0" y1="0" x2="0" y2="1"><stop offset="0" stop-color="#00ff04"/><stop offset=".483" stop-color="#00ff2a"/><stop offset=".851" stop-color="#00ff03"/><stop offset="1" stop-color="#1aff00"/></linearGradient>
<linearGradient id="g556" x1="0" y1="0" x2="0" y2="1"><stop offset="0" stop-color="#00ff1e"/><stop offset=".483" stop-color="#00ff49"/><stop offset="1" stop-color="#00ff40"/></linearGradient>
<linearGradient id="g557" x1="0" y1="0" x2="0" y2="1"><stop offset="0" stop-color="#00ff1e"/><stop offset=".483" stop-color="#00ff4a"/><stop offset="1" stop-color="#00ff41"/></linearGradient>
<linearGradient id="g558" x1="0" y1="0" x2="0" y2="1"><stop offset="0" stop-color="#00ff21"/><stop offset=".506" stop-color="#00ff74"/><stop offset=".713" stop-color="#00ff70"/><stop offset="1" stop-color="#00ff4c"/></linearGradient>
<linearGradient id="g559" x1="0" y1="0" x2="0" y2="1"><stop offset="0" stop-color="#00ff3b"/><stop offset=".414" stop-color="#00ffa4"/><stop offset=".529" stop-color="#00ffb4"/><stop offset=".736" stop-color="#0fa"/><stop offset="1" stop-color="#00ff69"/></linearGradient>
<linearGradient id="g560" x1="0" y1="0" x2="0" y2="1"><stop offset="0" stop-color="#00ff4c"/><stop offset=".276" stop-color="#00ff97"/><stop offset=".483" stop-color="#00ffae"/><stop offset=".782" stop-color="#00ff95"/><stop offset="1" stop-color="#00ff61"/></linearGradient>
<linearGradient id="g561" x1="0" y1="0" x2="0" y2="1"><stop offset="0" stop-color="#00ff58"/><stop offset=".276" stop-color="#00ffb4"/><stop offset=".414" stop-color="#00ffd3"/><stop offset=".667" stop-color="#00ffcd"/><stop offset=".805" stop-color="#00ffb2"/><stop offset="1" stop-color="#00ff74"/></linearGradient>
<linearGradient id="g562" x1="0" y1="0" x2="0" y2="1"><stop offset="0" stop-color="#00ff34"/><stop offset=".368" stop-color="#00ff7d"/><stop offset=".552" stop-color="#00ff91"/><stop offset=".805" stop-color="#00ff8e"/><stop offset="1" stop-color="#00ff64"/></linearGradient>
<linearGradient id="g563" x1="0" y1="0" x2="0" y2="1"><stop offset="0" stop-color="#00ff23"/><stop offset=".805" stop-color="#0f7"/><stop offset="1" stop-color="#00ff5d"/></linearGradient>
<linearGradient id="g564" x1="0" y1="0" x2="0" y2="1"><stop offset="0" stop-color="#00ff19"/><stop offset=".805" stop-color="#00ff5f"/><stop offset="1" stop-color="#00ff51"/></linearGradient>
<linearGradient id="g565" x1="0" y1="0" x2="0" y2="1"><stop offset="0" stop-color="#00ff20"/><stop offset=".529" stop-color="#00ff48"/><stop offset=".805" stop-color="#00ff54"/><stop offset="1" stop-color="#00ff52"/></linearGradient>
<linearGradient id="g566" x1="0" y1="0" x2="0" y2="1"><stop offset="0" stop-color="#00ff15"/><stop offset=".46" stop-color="#00ff45"/><stop offset="1" stop-color="#00ff3e"/></linearGradient>
<linearGradient id="g567" x1="0" y1="0" x2="0" y2="1"><stop offset="0" stop-color="#0f2"/><stop offset=".299" stop-color="#00ff5e"/><stop offset=".46" stop-color="#00ff6e"/><stop offset=".598" stop-color="#00ff6a"/><stop offset="1" stop-color="#0f4"/></linearGradient>
<linearGradient id="g568" x1="0" y1="0" x2="0" y2="1"><stop offset="0" stop-color="#00ff09"/><stop offset=".322" stop-color="#00ff48"/><stop offset=".483" stop-color="#00ff5a"/><stop offset=".621" stop-color="#00ff56"/><stop offset="1" stop-color="#0f3"/></linearGradient>
<linearGradient id="g569" x1="0" y1="0" x2="0" y2="1"><stop offset="0" stop-color="#04ff00"/><stop offset=".092" stop-color="#00ff09"/><stop offset=".368" stop-color="#00ff40"/><stop offset=".483" stop-color="#00ff4e"/><stop offset=".598" stop-color="#00ff4d"/><stop offset="1" stop-color="#00ff2a"/></linearGradient>
<linearGradient id="g570" x1="0" y1="0" x2="0" y2="1"><stop offset="0" stop-color="#0fff00"/><stop offset=".138" stop-color="#0f0"/><stop offset=".506" stop-color="#0f3"/><stop offset="1" stop-color="#00ff1c"/></linearGradient>
<linearGradient id="g571" x1="0" y1="0" x2="0" y2="1"><stop offset="0" stop-color="#0cff00"/><stop offset=".207" stop-color="#00ff01"/><stop offset=".552" stop-color="#00ff18"/><stop offset="1" stop-color="#00ff1f"/></linearGradient>
<linearGradient id="g572" x1="0" y1="0" x2="0" y2="1"><stop offset="0" stop-color="#05ff00"/><stop offset=".161" stop-color="#00ff0a"/><stop offset=".644" stop-color="#00ff4c"/><stop offset=".805" stop-color="#00ff4e"/><stop offset="1" stop-color="#00ff40"/></linearGradient>
<linearGradient id="g573" x1="0" y1="0" x2="0" y2="1"><stop offset="0" stop-color="#18ff00"/><stop offset=".345" stop-color="#00ff01"/><stop offset=".598" stop-color="#00ff2e"/><stop offset="1" stop-color="#00ff37"/></linearGradient>
<linearGradient id="g574" x1="0" y1="0" x2="0" y2="1"><stop offset="0" stop-color="#40ff00"/><stop offset=".345" stop-color="#34ff00"/><stop offset=".552" stop-color="#00ff01"/><stop offset="1" stop-color="#00ff27"/></linearGradient>
<linearGradient id="g575" x1="0" y1="0" x2="0" y2="1"><stop offset="0" stop-color="#65ff00"/><stop offset=".345" stop-color="#54ff00"/><stop offset=".575" stop-color="#01ff00"/><stop offset="1" stop-color="#00ff29"/></linearGradient>
<linearGradient id="g576" x1="0" y1="0" x2="0" y2="1"><stop offset="0" stop-color="#4dff00"/><stop offset=".345" stop-color="#3cff00"/><stop offset=".552" stop-color="#00ff03"/><stop offset="1" stop-color="#00ff2d"/></linearGradient>
<linearGradient id="g577" x1="0" y1="0" x2="0" y2="1"><stop offset="0" stop-color="#54ff00"/><stop offset=".529" stop-color="#51ff00"/><stop offset=".805" stop-color="#6bff00"/><stop offset=".897" stop-color="#9f0"/><stop offset=".989" stop-color="#ecff00"/><stop offset="1" stop-color="#ecff00"/></linearGradient>
<linearGradient id="g578" x1="0" y1="0" x2="0" y2="1"><stop offset="0" stop-color="#63ff00"/><stop offset=".529" stop-color="#5bff00"/><stop offset=".805" stop-color="#73ff00"/><stop offset=".897" stop-color="#8cff00"/><stop offset=".989" stop-color="#e0ff00"/><stop offset="1" stop-color="#e0ff00"/></linearGradient>
<linearGradient id="g579" x1="0" y1="0" x2="0" y2="1"><stop offset="0" stop-color="#6aff00"/><stop offset=".529" stop-color="#61ff00"/><stop offset=".805" stop-color="#73ff00"/><stop offset="1" stop-color="#a0ff00"/></linearGradient>
<linearGradient id="g580" x1="0" y1="0" x2="0" y2="1"><stop offset="0" stop-color="#62ff00"/><stop offset=".529" stop-color="#58ff00"/><stop offset=".805" stop-color="#6dff00"/><stop offset="1" stop-color="#92ff00"/></linearGradient>
<linearGradient id="g581" x1="0" y1="0" x2="0" y2="1"><stop offset="0" stop-color="#6f0"/><stop offset=".575" stop-color="#5bff00"/><stop offset=".92" stop-color="#85ff00"/><stop offset="1" stop-color="#9cff00"/></linearGradient>
<linearGradient id="g582" x1="0" y1="0" x2="0" y2="1"><stop offset="0" stop-color="#5fff00"/><stop offset=".575" stop-color="#51ff00"/><stop offset=".92" stop-color="#80ff00"/><stop offset="1" stop-color="#9bff00"/></linearGradient>
<linearGradient id="g583" x1="0" y1="0" x2="0" y2="1"><stop offset="0" stop-color="#63ff00"/><stop offset=".345" stop-color="#52ff00"/><stop offset=".575" stop-color="#52ff00"/><stop offset=".759" stop-color="#73ff00"/><stop offset=".92" stop-color="#84ff00"/><stop offset="1" stop-color="#a5ff00"/></linearGradient>
<linearGradient id="g584" x1="0" y1="0" x2="0" y2="1"><stop offset="0" stop-color="#6bff00"/><stop offset=".345" stop-color="#5f0"/><stop offset=".575" stop-color="#5fff00"/><stop offset=".759" stop-color="#7cff00"/><stop offset=".874" stop-color="#a6ff00"/><stop offset=".989" stop-color="#e9ff00"/><stop offset="1" stop-color="#e9ff00"/></linearGradient>
<linearGradient id="g585" x1="0" y1="0" x2="0" y2="1"><stop offset="0" stop-color="#63ff00"/><stop offset=".345" stop-color="#49ff00"/><stop offset=".552" stop-color="#5cff00"/><stop offset=".69" stop-color="#7f0"/><stop offset=".759" stop-color="#91ff00"/><stop offset=".92" stop-color="#fcff00"/><stop offset=".989" stop-color="#ffd300"/><stop offset="1" stop-color="#ffd300"/></linearGradient>
<linearGradient id="g586" x1="0" y1="0" x2="0" y2="1"><stop offset="0" stop-color="#56ff00"/><stop offset=".345" stop-color="#3cff00"/><stop offset=".529" stop-color="#5f0"/><stop offset=".69" stop-color="#8bff00"/><stop offset=".828" stop-color="#f7ff00"/><stop offset=".897" stop-color="#ffcd00"/><stop offset="1" stop-color="#ff9d00"/></linearGradient>
<linearGradient id="g587" x1="0" y1="0" x2="0" y2="1"><stop offset="0" stop-color="#57ff00"/><stop offset=".345" stop-color="#3dff00"/><stop offset=".552" stop-color="#70ff00"/><stop offset=".644" stop-color="#9dff00"/><stop offset=".736" stop-color="#f6ff00"/><stop offset=".759" stop-color="#fff500"/><stop offset=".828" stop-color="#ffbd00"/><stop offset="1" stop-color="#ff8900"/></linearGradient>
<linearGradient id="g588" x1="0" y1="0" x2="0" y2="1"><stop offset="0" stop-color="#5cff00"/><stop offset=".345" stop-color="#42ff00"/><stop offset=".529" stop-color="#6dff00"/><stop offset=".644" stop-color="#a6ff00"/><stop offset=".736" stop-color="#fffd00"/><stop offset=".828" stop-color="#ffb000"/><stop offset=".851" stop-color="#ffa500"/><stop offset="1" stop-color="#ff7e00"/></linearGradient>
<linearGradient id="g589" x1="0" y1="0" x2="0" y2="1"><stop offset="0" stop-color="#5cff00"/><stop offset=".345" stop-color="#43ff00"/><stop offset=".529" stop-color="#6dff00"/><stop offset=".644" stop-color="#a4ff00"/><stop offset=".736" stop-color="#fcff00"/><stop offset=".851" stop-color="#ffa300"/><stop offset="1" stop-color="#ff7900"/></linearGradient>
<linearGradient id="g590" x1="0" y1="0" x2="0" y2="1"><stop offset="0" stop-color="#53ff00"/><stop offset=".345" stop-color="#3aff00"/><stop offset=".529" stop-color="#64ff00"/><stop offset=".644" stop-color="#a3ff00"/><stop offset=".736" stop-color="#ff0"/><stop offset=".828" stop-color="#ffb300"/><stop offset="1" stop-color="#ff8100"/></linearGradient>
<linearGradient id="g591" x1="0" y1="0" x2="0" y2="1"><stop offset="0" stop-color="#58ff00"/><stop offset=".345" stop-color="#3eff00"/><stop offset=".529" stop-color="#69ff00"/><stop offset=".644" stop-color="#a9ff00"/><stop offset=".713" stop-color="#f5ff00"/><stop offset=".736" stop-color="#fff300"/><stop offset=".828" stop-color="#ffa700"/><stop offset="1" stop-color="#ff7d00"/></linearGradient>
<linearGradient id="g592" x1="0" y1="0" x2="0" y2="1"><stop offset="0" stop-color="#59ff00"/><stop offset=".345" stop-color="#40ff00"/><stop offset=".552" stop-color="#72ff00"/><stop offset=".644" stop-color="#9cff00"/><stop offset=".736" stop-color="#f3ff00"/><stop offset=".759" stop-color="#fff800"/><stop offset=".828" stop-color="#ffbe00"/><stop offset=".897" stop-color="#ff9d00"/><stop offset="1" stop-color="#ff7e00"/></linearGradient>
<linearGradient id="g593" x1="0" y1="0" x2="0" y2="1"><stop offset="0" stop-color="#53ff00"/><stop offset=".345" stop-color="#3aff00"/><stop offset=".552" stop-color="#65ff00"/><stop offset=".667" stop-color="#90ff00"/><stop offset=".69" stop-color="#9bff00"/><stop offset=".782" stop-color="#f0ff00"/><stop offset=".805" stop-color="#fffb00"/><stop offset=".897" stop-color="#ffb300"/><stop offset="1" stop-color="#ff8b00"/></linearGradient>
<linearGradient id="g594" x1="0" y1="0" x2="0" y2="1"><stop offset="0" stop-color="#54ff00"/><stop offset=".345" stop-color="#3aff00"/><stop offset=".552" stop-color="#6cff00"/><stop offset=".667" stop-color="#97ff00"/><stop offset=".759" stop-color="#fffe00"/><stop offset=".851" stop-color="#ffb900"/><stop offset="1" stop-color="#ff9100"/></linearGradient>
<linearGradient id="g595" x1="0" y1="0" x2="0" y2="1"><stop offset="0" stop-color="#abff00"/><stop offset=".345" stop-color="#8f0"/><stop offset=".598" stop-color="#92ff00"/><stop offset=".736" stop-color="#b9ff00"/><stop offset=".851" stop-color="#fffe00"/><stop offset=".92" stop-color="#ffcf00"/><stop offset="1" stop-color="#fa0"/></linearGradient>
<linearGradient id="g596" x1="0" y1="0" x2="0" y2="1"><stop offset="0" stop-color="#beff00"/><stop offset=".345" stop-color="#94ff00"/><stop offset=".598" stop-color="#a7ff00"/><stop offset=".759" stop-color="#c2ff00"/><stop offset=".897" stop-color="#fdff00"/><stop offset=".92" stop-color="#fff800"/><stop offset=".989" stop-color="#ffc700"/><stop offset="1" stop-color="#ffc700"/></linearGradient>
<linearGradient id="g597" x1="0" y1="0" x2="0" y2="1"><stop offset="0" stop-color="#c1ff00"/><stop offset=".345" stop-color="#9fff00"/><stop offset=".598" stop-color="#b9ff00"/><stop offset=".759" stop-color="#dfff00"/><stop offset=".828" stop-color="#feff00"/><stop offset="1" stop-color="#ffb500"/></linearGradient>
<linearGradient id="g598" x1="0" y1="0" x2="0" y2="1"><stop offset="0" stop-color="#bdff00"/><stop offset=".345" stop-color="#a3ff00"/><stop offset=".598" stop-color="#c4ff00"/><stop offset=".782" stop-color="#fffe00"/><stop offset=".897" stop-color="#ffc600"/><stop offset="1" stop-color="#fa0"/></linearGradient>
<linearGradient id="g599" x1="0" y1="0" x2="0" y2="1"><stop offset="0" stop-color="#beff00"/><stop offset=".345" stop-color="#a8ff00"/><stop offset=".598" stop-color="#d5ff00"/><stop offset=".713" stop-color="#fcff00"/><stop offset=".897" stop-color="#ffb800"/><stop offset="1" stop-color="#ffa000"/></linearGradient>
<linearGradient id="g600" x1="0" y1="0" x2="0" y2="1"><stop offset="0" stop-color="#beff00"/><stop offset=".345" stop-color="#abff00"/><stop offset=".529" stop-color="#d2ff00"/><stop offset=".667" stop-color="#feff00"/><stop offset=".805" stop-color="#ffca00"/><stop offset="1" stop-color="#ff9a00"/></linearGradient>
<linearGradient id="g601" x1="0" y1="0" x2="0" y2="1"><stop offset="0" stop-color="#c7ff00"/><stop offset=".345" stop-color="#b9ff00"/><stop offset=".621" stop-color="#fffc00"/><stop offset=".805" stop-color="#ffb800"/><stop offset="1" stop-color="#ff8e00"/></linearGradient>
<linearGradient id="g602" x1="0" y1="0" x2="0" y2="1"><stop offset="0" stop-color="#c9ff00"/><stop offset=".345" stop-color="#c2ff00"/><stop offset=".598" stop-color="#fffd00"/><stop offset=".805" stop-color="#ffb700"/><stop offset="1" stop-color="#ff8f00"/></linearGradient>
<linearGradient id="g603" x1="0" y1="0" x2="0" y2="1"><stop offset="0" stop-color="#cbff00"/><stop offset=".345" stop-color="#cbff00"/><stop offset=".575" stop-color="#fffe00"/><stop offset=".69" stop-color="#ffd300"/><stop offset=".805" stop-color="#ffb500"/><stop offset="1" stop-color="#ff8f00"/></linearGradient>
<linearGradient id="g604" x1="0" y1="0" x2="0" y2="1"><stop offset="0" stop-color="#d1ff00"/><stop offset=".345" stop-color="#d8ff00"/><stop offset=".529" stop-color="#faff00"/><stop offset=".69" stop-color="#ffc800"/><stop offset="1" stop-color="#ff8b00"/></linearGradient>
<linearGradient id="g605" x1="0" y1="0" x2="0" y2="1"><stop offset="0" stop-color="#d3ff00"/><stop offset=".345" stop-color="#e4ff00"/><stop offset=".483" stop-color="#ff0"/><stop offset=".506" stop-color="#fff000"/><stop offset=".575" stop-color="#ffab00"/><stop offset=".667" stop-color="#ff6d00"/><stop offset="1" stop-color="#ff3f00"/></linearGradient>
<linearGradient id="g606" x1="0" y1="0" x2="0" y2="1"><stop offset="0" stop-color="#d7ff00"/><stop offset=".299" stop-color="#e4ff00"/><stop offset=".46" stop-color="#faff00"/><stop offset=".483" stop-color="#fff500"/><stop offset=".575" stop-color="#ffa800"/><stop offset=".69" stop-color="#ff6900"/><stop offset="1" stop-color="#ff3f00"/></linearGradient>
<linearGradient id="g607" x1="0" y1="0" x2="0" y2="1"><stop offset="0" stop-color="#e2ff00"/><stop offset=".345" stop-color="#fdff00"/><stop offset=".46" stop-color="#ffea00"/><stop offset=".575" stop-color="#f90"/><stop offset=".69" stop-color="#ff6300"/><stop offset="1" stop-color="#ff3b00"/></linearGradient>
<linearGradient id="g608" x1="0" y1="0" x2="0" y2="1"><stop offset="0" stop-color="#ebff00"/><stop offset=".207" stop-color="#fffe00"/><stop offset=".322" stop-color="#ffec00"/><stop offset=".46" stop-color="#ffc100"/><stop offset=".575" stop-color="#ff8700"/><stop offset=".69" stop-color="#ff5d00"/><stop offset="1" stop-color="#ff3800"/></linearGradient>
<linearGradient id="g609" x1="0" y1="0" x2="0" y2="1"><stop offset="0" stop-color="#fcff00"/><stop offset=".115" stop-color="#fff800"/><stop offset=".322" stop-color="#ffce00"/><stop offset=".506" stop-color="#ff8400"/><stop offset=".69" stop-color="#ff5100"/><stop offset="1" stop-color="#ff2f00"/></linearGradient>
<linearGradient id="g610" x1="0" y1="0" x2="0" y2="1"><stop offset="0" stop-color="#fff900"/><stop offset=".322" stop-color="#ffbf00"/><stop offset=".69" stop-color="#f50"/><stop offset="1" stop-color="#f30"/></linearGradient>
<linearGradient id="g611" x1="0" y1="0" x2="0" y2="1"><stop offset="0" stop-color="#ffeb00"/><stop offset=".322" stop-color="#ffac00"/><stop offset=".69" stop-color="#ff5400"/><stop offset="1" stop-color="#ff3200"/></linearGradient>
<linearGradient id="g612" x1="0" y1="0" x2="0" y2="1"><stop offset="0" stop-color="#ffdc00"/><stop offset=".69" stop-color="#ff5300"/><stop offset="1" stop-color="#ff3100"/></linearGradient>
<linearGradient id="g613" x1="0" y1="0" x2="0" y2="1"><stop offset="0" stop-color="#ffc900"/><stop offset=".345" stop-color="#ff9400"/><stop offset=".69" stop-color="#ff4e00"/><stop offset="1" stop-color="#ff2c00"/></linearGradient>
<linearGradient id="g614" x1="0" y1="0" x2="0" y2="1"><stop offset="0" stop-color="#ffc300"/><stop offset=".345" stop-color="#ff9800"/><stop offset=".69" stop-color="#ff5400"/><stop offset="1" stop-color="#ff3200"/></linearGradient>
<linearGradient id="g615" x1="0" y1="0" x2="0" y2="1"><stop offset="0" stop-color="#ffd500"/><stop offset=".345" stop-color="#ffa700"/><stop offset=".69" stop-color="#ff6500"/><stop offset="1" stop-color="#ff4300"/></linearGradient>
<linearGradient id="g616" x1="0" y1="0" x2="0" y2="1"><stop offset="0" stop-color="#ffd100"/><stop offset=".345" stop-color="#ffa100"/><stop offset=".69" stop-color="#ff5f00"/><stop offset="1" stop-color="#ff3d00"/></linearGradient>
<linearGradient id="g617" x1="0" y1="0" x2="0" y2="1"><stop offset="0" stop-color="#fc0"/><stop offset=".345" stop-color="#f90"/><stop offset=".69" stop-color="#ff5a00"/><stop offset="1" stop-color="#ff3800"/></linearGradient>
<linearGradient id="g618" x1="0" y1="0" x2="0" y2="1"><stop offset="0" stop-color="#fc0"/><stop offset=".69" stop-color="#ff5800"/><stop offset="1" stop-color="#ff3600"/></linearGradient>
<linearGradient id="g619" x1="0" y1="0" x2="0" y2="1"><stop offset="0" stop-color="#ffc400"/><stop offset=".69" stop-color="#ff4f00"/><stop offset="1" stop-color="#ff2d00"/></linearGradient>
<linearGradient id="g620" x1="0" y1="0" x2="0" y2="1"><stop offset="0" stop-color="#ffc500"/><stop offset=".69" stop-color="#ff4e00"/><stop offset="1" stop-color="#ff2c00"/></linearGradient>
<linearGradient id="g621" x1="0" y1="0" x2="0" y2="1"><stop offset="0" stop-color="#ffc000"/><stop offset=".69" stop-color="#ff4800"/><stop offset="1" stop-color="#ff2700"/></linearGradient>
<linearGradient id="g622" x1="0" y1="0" x2="0" y2="1"><stop offset="0" stop-color="#ffbe00"/><stop offset=".69" stop-color="#f40"/><stop offset="1" stop-color="#ff2400"/></linearGradient>
<linearGradient id="g623" x1="0" y1="0" x2="0" y2="1"><stop offset="0" stop-color="#ffc400"/><stop offset=".69" stop-color="#ff4700"/><stop offset="1" stop-color="#ff2800"/></linearGradient>
<linearGradient id="g624" x1="0" y1="0" x2="0" y2="1"><stop offset="0" stop-color="#ffc700"/><stop offset=".161" stop-color="#ffb000"/><stop offset=".345" stop-color="#ff8400"/><stop offset=".69" stop-color="#ff4900"/><stop offset="1" stop-color="#ff2b00"/></linearGradient>
<linearGradient id="g625" x1="0" y1="0" x2="0" y2="1"><stop offset="0" stop-color="#ffc800"/><stop offset=".161" stop-color="#ffb200"/><stop offset=".345" stop-color="#ff8300"/><stop offset=".69" stop-color="#ff4700"/><stop offset="1" stop-color="#ff2a00"/></linearGradient>
<linearGradient id="g626" x1="0" y1="0" x2="0" y2="1"><stop offset="0" stop-color="#ffc400"/><stop offset=".161" stop-color="#ffaf00"/><stop offset=".345" stop-color="#ff7c00"/><stop offset=".69" stop-color="#ff4100"/><stop offset="1" stop-color="#ff2500"/></linearGradient>
<linearGradient id="g627" x1="0" y1="0" x2="0" y2="1"><stop offset="0" stop-color="#ffc900"/><stop offset=".161" stop-color="#ffb600"/><stop offset=".345" stop-color="#ff7f00"/><stop offset=".69" stop-color="#f40"/><stop offset="1" stop-color="#ff2900"/></linearGradient>
<linearGradient id="g628" x1="0" y1="0" x2="0" y2="1"><stop offset="0" stop-color="#ffc300"/><stop offset=".161" stop-color="#ffb100"/><stop offset=".345" stop-color="#ff7800"/><stop offset=".69" stop-color="#ff3c00"/><stop offset="1" stop-color="#f20"/></linearGradient>
<clipPath id="c2"><rect x="98" y="127" width="586" height="88"/></clipPath><clipPath id="c3"><rect x="98" y="228" width="586" height="87"/></clipPath>
<linearGradient id="g629" x1="0" y1="1" x2="0" y2="0"><stop offset="0" stop-color="#9600ff"/><stop offset="0.11" stop-color="#00f"/><stop offset="0.33" stop-color="#0ff"/><stop offset="0.585" stop-color="#0f0"/><stop offset="0.77" stop-color="#ff0"/><stop offset="1" stop-color="#f00"/></linearGradient>
<linearGradient id="g630" x1="0" y1="1" x2="0" y2="0"><stop offset="0" stop-color="#9600ff"/><stop offset="0.11" stop-color="#00f"/><stop offset="0.33" stop-color="#0ff"/><stop offset="0.585" stop-color="#0f0"/><stop offset="0.77" stop-color="#ff0"/><stop offset="1" stop-color="#f00"/></linearGradient>
<linearGradient id="g631" x1="0" y1="1" x2="0" y2="0"><stop offset="0" stop-color="#9600ff"/><stop offset="0.11" stop-color="#00f"/><stop offset="0.33" stop-color="#0ff"/><stop offset="0.585" stop-color="#0f0"/><stop offset="0.77" stop-color="#ff0"/><stop offset="1" stop-color="#f00"/></linearGradient>
</defs>
<g shape-rendering="crispEdges">
<rect x="97" y="28" width="3" height="89" fill="url(#g1)"/>
<rect x="100" y="28" width="3" height="89" fill="url(#g2)"/>
<rect x="103" y="28" width="3" height="89" fill="url(#g3)"/>
<rect x="106" y="28" width="3" height="89" fill="url(#g4)"/>
<rect x="109" y="28" width="3" height="89" fill="url(#g5)"/>
<rect x="112" y="28" width="3" height="89" fill="url(#g6)"/>
<rect x="115" y="28" width="3" height="89" fill="url(#g7)"/>
<rect x="118" y="28" width="3" height="89" fill="url(#g8)"/>
<rect x="121" y="28" width="3" height="89" fill="url(#g9)"/>
<rect x="124" y="28" width="3" height="89" fill="url(#g10)"/>
<rect x="127" y="28" width="3" height="89" fill="url(#g11)"/>
<rect x="130" y="28" width="3" height="89" fill="url(#g12)"/>
<rect x="133" y="28" width="3" height="89" fill="url(#g13)"/>
<rect x="136" y="28" width="3" height="89" fill="url(#g14)"/>
<rect x="139" y="28" width="3" height="89" fill="url(#g15)"/>
<rect x="142" y="28" width="3" height="89" fill="url(#g16)"/>
<rect x="145" y="28" width="3" height="89" fill="url(#g17)"/>
<rect x="148" y="28" width="3" height="89" fill="url(#g18)"/>
<rect x="151" y="28" width="3" height="89" fill="url(#g19)"/>
<rect x="154" y="28" width="3" height="89" fill="url(#g20)"/>
<rect x="157" y="28" width="3" height="89" fill="url(#g21)"/>
<rect x="160" y="28" width="3" height="89" fill="url(#g22)"/>
<rect x="163" y="28" width="3" height="89" fill="url(#g23)"/>
<rect x="166" y="28" width="3" height="89" fill="url(#g24)"/>
<rect x="169" y="28" width="3" height="89" fill="url(#g25)"/>
<rect x="172" y="28" width="3" height="89" fill="url(#g26)"/>
<rect x="175" y="28" width="3" height="89" fill="url(#g27)"/>
<rect x="178" y="28" width="3" height="89" fill="url(#g28)"/>
<rect x="181" y="28" width="3" height="89" fill="url(#g29)"/>
<rect x="184" y="28" width="3" height="89" fill="url(#g30)"/>
<rect x="187" y="28" width="3" height="89" fill="url(#g31)"/>
<rect x="190" y="28" width="3" height="89" fill="url(#g32)"/>
<rect x="193" y="28" width="3" height="89" fill="url(#g33)"/>
<rect x="196" y="28" width="3" height="89" fill="url(#g34)"/>
<rect x="199" y="28" width="3" height="89" fill="url(#g35)"/>
<rect x="202" y="28" width="3" height="89" fill="url(#g36)"/>
<rect x="205" y="28" width="3" height="89" fill="url(#g37)"/>
<rect x="208" y="28" width="3" height="89" fill="url(#g38)"/>
<rect x="211" y="28" width="3" height="89" fill="url(#g39)"/>
<rect x="214" y="28" width="3" height="89" fill="url(#g40)"/>
<rect x="217" y="28" width="3" height="89" fill="url(#g41)"/>
<rect x="220" y="28" width="3" height="89" fill="url(#g42)"/>
<rect x="223" y="28" width="3" height="89" fill="url(#g43)"/>
<rect x="226" y="28" width="3" height="89" fill="url(#g44)"/>
<rect x="229" y="28" width="3" height="89" fill="url(#g45)"/>
<rect x="232" y="28" width="3" height="89" fill="url(#g46)"/>
<rect x="235" y="28" width="3" height="89" fill="url(#g47)"/>
<rect x="238" y="28" width="3" height="89" fill="url(#g48)"/>
<rect x="241" y="28" width="3" height="89" fill="url(#g49)"/>
<rect x="244" y="28" width="3" height="89" fill="url(#g50)"/>
<rect x="247" y="28" width="3" height="89" fill="url(#g51)"/>
<rect x="250" y="28" width="3" height="89" fill="url(#g52)"/>
<rect x="253" y="28" width="3" height="89" fill="url(#g53)"/>
<rect x="256" y="28" width="3" height="89" fill="url(#g54)"/>
<rect x="259" y="28" width="3" height="89" fill="url(#g55)"/>
<rect x="262" y="28" width="3" height="89" fill="url(#g56)"/>
<rect x="265" y="28" width="3" height="89" fill="url(#g57)"/>
<rect x="268" y="28" width="3" height="89" fill="url(#g58)"/>
<rect x="271" y="28" width="3" height="89" fill="url(#g59)"/>
<rect x="274" y="28" width="3" height="89" fill="url(#g60)"/>
<rect x="277" y="28" width="3" height="89" fill="url(#g61)"/>
<rect x="280" y="28" width="3" height="89" fill="url(#g62)"/>
<rect x="283" y="28" width="3" height="89" fill="url(#g63)"/>
<rect x="286" y="28" width="3" height="89" fill="url(#g64)"/>
<rect x="289" y="28" width="3" height="89" fill="url(#g65)"/>
<rect x="292" y="28" width="3" height="89" fill="url(#g66)"/>
<rect x="295" y="28" width="3" height="89" fill="url(#g67)"/>
<rect x="298" y="28" width="3" height="89" fill="url(#g68)"/>
<rect x="301" y="28" width="3" height="89" fill="url(#g69)"/>
<rect x="304" y="28" width="3" height="89" fill="url(#g70)"/>
<rect x="307" y="28" width="3" height="89" fill="url(#g71)"/>
<rect x="310" y="28" width="3" height="89" fill="url(#g72)"/>
<rect x="313" y="28" width="3" height="89" fill="url(#g73)"/>
<rect x="316" y="28" width="3" height="89" fill="url(#g74)"/>
<rect x="319" y="28" width="3" height="89" fill="url(#g75)"/>
<rect x="322" y="28" width="3" height="89" fill="url(#g76)"/>
<rect x="325" y="28" width="3" height="89" fill="url(#g77)"/>
<rect x="328" y="28" width="3" height="89" fill="url(#g78)"/>
<rect x="331" y="28" width="3" height="89" fill="url(#g79)"/>
<rect x="334" y="28" width="3" height="89" fill="url(#g80)"/>
<rect x="337" y="28" width="3" height="89" fill="url(#g81)"/>
<rect x="340" y="28" width="3" height="89" fill="url(#g82)"/>
<rect x="343" y="28" width="3" height="89" fill="url(#g83)"/>
<rect x="346" y="28" width="3" height="89" fill="url(#g84)"/>
<rect x="349" y="28" width="3" height="89" fill="url(#g85)"/>
<rect x="352" y="28" width="3" height="89" fill="url(#g86)"/>
<rect x="355" y="28" width="3" height="89" fill="url(#g87)"/>
<rect x="358" y="28" width="3" height="89" fill="url(#g88)"/>
<rect x="361" y="28" width="3" height="89" fill="url(#g89)"/>
<rect x="364" y="28" width="3" height="89" fill="url(#g90)"/>
<rect x="367" y="28" width="3" height="89" fill="url(#g91)"/>
<rect x="370" y="28" width="3" height="89" fill="url(#g92)"/>
<rect x="373" y="28" width="3" height="89" fill="url(#g93)"/>
<rect x="376" y="28" width="3" height="89" fill="url(#g94)"/>
<rect x="379" y="28" width="3" height="89" fill="url(#g95)"/>
<rect x="382" y="28" width="3" height="89" fill="url(#g96)"/>
<rect x="385" y="28" width="3" height="89" fill="url(#g97)"/>
<rect x="388" y="28" width="3" height="89" fill="url(#g98)"/>
<rect x="391" y="28" width="3" height="89" fill="url(#g99)"/>
<rect x="394" y="28" width="3" height="89" fill="url(#g100)"/>
<rect x="397" y="28" width="3" height="89" fill="url(#g101)"/>
<rect x="400" y="28" width="3" height="89" fill="url(#g102)"/>
<rect x="403" y="28" width="3" height="89" fill="url(#g103)"/>
<rect x="406" y="28" width="3" height="89" fill="url(#g104)"/>
<rect x="409" y="28" width="3" height="89" fill="url(#g105)"/>
<rect x="412" y="28" width="3" height="89" fill="url(#g106)"/>
<rect x="415" y="28" width="3" height="89" fill="url(#g107)"/>
<rect x="418" y="28" width="3" height="89" fill="url(#g108)"/>
<rect x="421" y="28" width="3" height="89" fill="url(#g109)"/>
<rect x="424" y="28" width="3" height="89" fill="url(#g110)"/>
<rect x="427" y="28" width="3" height="89" fill="url(#g111)"/>
<rect x="430" y="28" width="3" height="89" fill="url(#g112)"/>
<rect x="433" y="28" width="3" height="89" fill="url(#g113)"/>
<rect x="436" y="28" width="3" height="89" fill="url(#g114)"/>
<rect x="439" y="28" width="3" height="89" fill="url(#g115)"/>
<rect x="442" y="28" width="3" height="89" fill="url(#g116)"/>
<rect x="445" y="28" width="3" height="89" fill="url(#g117)"/>
<rect x="448" y="28" width="3" height="89" fill="url(#g118)"/>
<rect x="451" y="28" width="3" height="89" fill="url(#g119)"/>
<rect x="454" y="28" width="3" height="89" fill="url(#g120)"/>
<rect x="457" y="28" width="3" height="89" fill="url(#g121)"/>
<rect x="460" y="28" width="3" height="89" fill="url(#g122)"/>
<rect x="463" y="28" width="3" height="89" fill="url(#g123)"/>
<rect x="466" y="28" width="3" height="89" fill="url(#g124)"/>
<rect x="469" y="28" width="3" height="89" fill="url(#g125)"/>
<rect x="472" y="28" width="3" height="89" fill="url(#g126)"/>
<rect x="475" y="28" width="3" height="89" fill="url(#g127)"/>
<rect x="478" y="28" width="3" height="89" fill="url(#g128)"/>
<rect x="481" y="28" width="3" height="89" fill="url(#g129)"/>
<rect x="484" y="28" width="3" height="89" fill="url(#g130)"/>
<rect x="487" y="28" width="3" height="89" fill="url(#g131)"/>
<rect x="490" y="28" width="3" height="89" fill="url(#g132)"/>
<rect x="493" y="28" width="3" height="89" fill="url(#g133)"/>
<rect x="496" y="28" width="3" height="89" fill="url(#g134)"/>
<rect x="499" y="28" width="3" height="89" fill="url(#g135)"/>
<rect x="502" y="28" width="3" height="89" fill="url(#g136)"/>
<rect x="505" y="28" width="3" height="89" fill="url(#g137)"/>
<rect x="508" y="28" width="3" height="89" fill="url(#g138)"/>
<rect x="511" y="28" width="3" height="89" fill="url(#g139)"/>
<rect x="514" y="28" width="3" height="89" fill="url(#g140)"/>
<rect x="517" y="28" width="3" height="89" fill="url(#g141)"/>
<rect x="520" y="28" width="3" height="89" fill="url(#g142)"/>
<rect x="523" y="28" width="3" height="89" fill="url(#g143)"/>
<rect x="526" y="28" width="3" height="89" fill="url(#g144)"/>
<rect x="529" y="28" width="3" height="89" fill="url(#g145)"/>
<rect x="532" y="28" width="3" height="89" fill="url(#g146)"/>
<rect x="535" y="28" width="3" height="89" fill="url(#g147)"/>
<rect x="538" y="28" width="3" height="89" fill="url(#g148)"/>
<rect x="541" y="28" width="3" height="89" fill="url(#g149)"/>
<rect x="544" y="28" width="3" height="89" fill="url(#g150)"/>
<rect x="547" y="28" width="3" height="89" fill="url(#g151)"/>
<rect x="550" y="28" width="3" height="89" fill="url(#g152)"/>
<rect x="553" y="28" width="3" height="89" fill="url(#g153)"/>
<rect x="556" y="28" width="3" height="89" fill="url(#g154)"/>
<rect x="559" y="28" width="3" height="89" fill="url(#g155)"/>
<rect x="562" y="28" width="3" height="89" fill="url(#g156)"/>
<rect x="565" y="28" width="3" height="89" fill="url(#g157)"/>
<rect x="568" y="28" width="3" height="89" fill="url(#g158)"/>
<rect x="571" y="28" width="3" height="89" fill="url(#g159)"/>
<rect x="574" y="28" width="3" height="89" fill="url(#g160)"/>
<rect x="577" y="28" width="3" height="89" fill="url(#g161)"/>
<rect x="580" y="28" width="3" height="89" fill="url(#g162)"/>
<rect x="583" y="28" width="3" height="89" fill="url(#g163)"/>
<rect x="586" y="28" width="3" height="89" fill="url(#g164)"/>
<rect x="589" y="28" width="3" height="89" fill="url(#g165)"/>
<rect x="592" y="28" width="3" height="89" fill="url(#g166)"/>
<rect x="595" y="28" width="3" height="89" fill="url(#g167)"/>
<rect x="598" y="28" width="3" height="89" fill="url(#g168)"/>
<rect x="601" y="28" width="3" height="89" fill="url(#g169)"/>
<rect x="604" y="28" width="3" height="89" fill="url(#g170)"/>
<rect x="607" y="28" width="3" height="89" fill="url(#g171)"/>
<rect x="610" y="28" width="3" height="89" fill="url(#g172)"/>
<rect x="613" y="28" width="3" height="89" fill="url(#g173)"/>
<rect x="616" y="28" width="3" height="89" fill="url(#g174)"/>
<rect x="619" y="28" width="3" height="89" fill="url(#g175)"/>
<rect x="622" y="28" width="3" height="89" fill="url(#g176)"/>
<rect x="625" y="28" width="3" height="89" fill="url(#g177)"/>
<rect x="628" y="28" width="3" height="89" fill="url(#g178)"/>
<rect x="631" y="28" width="3" height="89" fill="url(#g179)"/>
<rect x="634" y="28" width="3" height="89" fill="url(#g180)"/>
<rect x="637" y="28" width="3" height="89" fill="url(#g181)"/>
<rect x="640" y="28" width="3" height="89" fill="url(#g182)"/>
<rect x="643" y="28" width="3" height="89" fill="url(#g183)"/>
<rect x="646" y="28" width="3" height="89" fill="url(#g184)"/>
<rect x="649" y="28" width="3" height="89" fill="url(#g185)"/>
<rect x="652" y="28" width="3" height="89" fill="url(#g186)"/>
<rect x="655" y="28" width="3" height="89" fill="url(#g187)"/>
<rect x="658" y="28" width="3" height="89" fill="url(#g188)"/>
<rect x="661" y="28" width="3" height="89" fill="url(#g189)"/>
<rect x="664" y="28" width="3" height="89" fill="url(#g190)"/>
<rect x="667" y="28" width="3" height="89" fill="url(#g191)"/>
<rect x="670" y="28" width="3" height="89" fill="url(#g192)"/>
<rect x="673" y="28" width="3" height="89" fill="url(#g193)"/>
<rect x="676" y="28" width="3" height="89" fill="url(#g194)"/>
<rect x="679" y="28" width="3" height="89" fill="url(#g195)"/>
<rect x="682" y="28" width="2" height="89" fill="url(#g196)"/>
<rect x="98" y="127" width="3" height="88" fill="url(#g197)"/>
<rect x="101" y="127" width="3" height="88" fill="url(#g198)"/>
<rect x="104" y="127" width="3" height="88" fill="url(#g199)"/>
<rect x="107" y="127" width="3" height="88" fill="url(#g200)"/>
<rect x="110" y="127" width="3" height="88" fill="url(#g201)"/>
<rect x="113" y="127" width="3" height="88" fill="url(#g202)"/>
<rect x="116" y="127" width="3" height="88" fill="url(#g203)"/>
<rect x="119" y="127" width="3" height="88" fill="url(#g204)"/>
<rect x="122" y="127" width="3" height="88" fill="url(#g205)"/>
<rect x="125" y="127" width="3" height="88" fill="url(#g206)"/>
<rect x="128" y="127" width="3" height="88" fill="url(#g207)"/>
<rect x="131" y="127" width="3" height="88" fill="url(#g208)"/>
<rect x="134" y="127" width="3" height="88" fill="url(#g209)"/>
<rect x="137" y="127" width="3" height="88" fill="url(#g210)"/>
<rect x="140" y="127" width="3" height="88" fill="url(#g211)"/>
<rect x="143" y="127" width="3" height="88" fill="url(#g212)"/>
<rect x="146" y="127" width="3" height="88" fill="url(#g213)"/>
<rect x="149" y="127" width="3" height="88" fill="url(#g214)"/>
<rect x="152" y="127" width="3" height="88" fill="url(#g215)"/>
<rect x="155" y="127" width="3" height="88" fill="url(#g216)"/>
<rect x="158" y="127" width="3" height="88" fill="url(#g217)"/>
<rect x="161" y="127" width="3" height="88" fill="url(#g218)"/>
<rect x="164" y="127" width="3" height="88" fill="url(#g219)"/>
<rect x="167" y="127" width="3" height="88" fill="url(#g220)"/>
<rect x="170" y="127" width="3" height="88" fill="url(#g221)"/>
<rect x="173" y="127" width="3" height="88" fill="url(#g222)"/>
<rect x="176" y="127" width="3" height="88" fill="url(#g223)"/>
<rect x="179" y="127" width="3" height="88" fill="url(#g224)"/>
<rect x="182" y="127" width="3" height="88" fill="url(#g225)"/>
<rect x="185" y="127" width="3" height="88" fill="url(#g226)"/>
<rect x="188" y="127" width="3" height="88" fill="url(#g227)"/>
<rect x="191" y="127" width="3" height="88" fill="url(#g228)"/>
<rect x="194" y="127" width="3" height="88" fill="url(#g229)"/>
<rect x="197" y="127" width="3" height="88" fill="url(#g230)"/>
<rect x="200" y="127" width="3" height="88" fill="url(#g231)"/>
<rect x="203" y="127" width="3" height="88" fill="url(#g232)"/>
<rect x="206" y="127" width="3" height="88" fill="url(#g233)"/>
<rect x="209" y="127" width="3" height="88" fill="url(#g234)"/>
<rect x="212" y="127" width="3" height="88" fill="url(#g235)"/>
<rect x="215" y="127" width="3" height="88" fill="url(#g236)"/>
<rect x="218" y="127" width="3" height="88" fill="url(#g237)"/>
<rect x="221" y="127" width="3" height="88" fill="url(#g238)"/>
<rect x="224" y="127" width="3" height="88" fill="url(#g239)"/>
<rect x="227" y="127" width="3" height="88" fill="url(#g240)"/>
<rect x="230" y="127" width="3" height="88" fill="url(#g241)"/>
<rect x="233" y="127" width="3" height="88" fill="url(#g242)"/>
<rect x="236" y="127" width="3" height="88" fill="url(#g243)"/>
<rect x="239" y="127" width="3" height="88" fill="url(#g244)"/>
<rect x="242" y="127" width="3" height="88" fill="url(#g245)"/>
<rect x="245" y="127" width="3" height="88" fill="url(#g246)"/>
<rect x="248" y="127" width="2" height="88" fill="url(#g247)"/>
<rect x="250" y="127" width="2" height="88" fill="url(#g248)"/>
<rect x="252" y="127" width="2" height="88" fill="url(#g249)"/>
<rect x="254" y="127" width="2" height="88" fill="url(#g250)"/>
<rect x="256" y="127" width="2" height="88" fill="url(#g251)"/>
<rect x="258" y="127" width="2" height="88" fill="url(#g252)"/>
<rect x="260" y="127" width="2" height="88" fill="url(#g253)"/>
<rect x="262" y="127" width="2" height="88" fill="url(#g254)"/>
<rect x="264" y="127" width="2" height="88" fill="url(#g255)"/>
<rect x="266" y="127" width="2" height="88" fill="url(#g256)"/>
<rect x="268" y="127" width="2" height="88" fill="url(#g257)"/>
<rect x="270" y="127" width="2" height="88" fill="url(#g258)"/>
<rect x="272" y="127" width="2" height="88" fill="url(#g259)"/>
<rect x="274" y="127" width="2" height="88" fill="url(#g260)"/>
<rect x="276" y="127" width="2" height="88" fill="url(#g261)"/>
<rect x="278" y="127" width="2" height="88" fill="url(#g262)"/>
<rect x="280" y="127" width="2" height="88" fill="url(#g263)"/>
<rect x="282" y="127" width="2" height="88" fill="url(#g264)"/>
<rect x="284" y="127" width="2" height="88" fill="url(#g265)"/>
<rect x="286" y="127" width="2" height="88" fill="url(#g266)"/>
<rect x="288" y="127" width="2" height="88" fill="url(#g267)"/>
<rect x="290" y="127" width="2" height="88" fill="url(#g268)"/>
<rect x="292" y="127" width="2" height="88" fill="url(#g269)"/>
<rect x="294" y="127" width="2" height="88" fill="url(#g270)"/>
<rect x="296" y="127" width="2" height="88" fill="url(#g271)"/>
<rect x="298" y="127" width="2" height="88" fill="url(#g272)"/>
<rect x="300" y="127" width="2" height="88" fill="url(#g273)"/>
<rect x="302" y="127" width="2" height="88" fill="url(#g274)"/>
<rect x="304" y="127" width="2" height="88" fill="url(#g275)"/>
<rect x="306" y="127" width="2" height="88" fill="url(#g276)"/>
<rect x="308" y="127" width="2" height="88" fill="url(#g277)"/>
<rect x="310" y="127" width="2" height="88" fill="url(#g278)"/>
<rect x="312" y="127" width="2" height="88" fill="url(#g279)"/>
<rect x="314" y="127" width="2" height="88" fill="url(#g280)"/>
<rect x="316" y="127" width="2" height="88" fill="url(#g281)"/>
<rect x="318" y="127" width="2" height="88" fill="url(#g282)"/>
<rect x="320" y="127" width="2" height="88" fill="url(#g283)"/>
<rect x="322" y="127" width="2" height="88" fill="url(#g284)"/>
<rect x="324" y="127" width="2" height="88" fill="url(#g285)"/>
<rect x="326" y="127" width="2" height="88" fill="url(#g286)"/>
<rect x="328" y="127" width="2" height="88" fill="url(#g287)"/>
<rect x="330" y="127" width="2" height="88" fill="url(#g288)"/>
<rect x="332" y="127" width="2" height="88" fill="url(#g289)"/>
<rect x="334" y="127" width="2" height="88" fill="url(#g290)"/>
<rect x="336" y="127" width="2" height="88" fill="url(#g291)"/>
<rect x="338" y="127" width="2" height="88" fill="url(#g292)"/>
<rect x="340" y="127" width="2" height="88" fill="url(#g293)"/>
<rect x="342" y="127" width="2" height="88" fill="url(#g294)"/>
<rect x="344" y="127" width="2" height="88" fill="url(#g295)"/>
<rect x="346" y="127" width="2" height="88" fill="url(#g296)"/>
<rect x="348" y="127" width="2" height="88" fill="url(#g297)"/>
<rect x="350" y="127" width="2" height="88" fill="url(#g298)"/>
<rect x="352" y="127" width="2" height="88" fill="url(#g299)"/>
<rect x="354" y="127" width="2" height="88" fill="url(#g300)"/>
<rect x="356" y="127" width="2" height="88" fill="url(#g301)"/>
<rect x="358" y="127" width="2" height="88" fill="url(#g302)"/>
<rect x="360" y="127" width="2" height="88" fill="url(#g303)"/>
<rect x="362" y="127" width="2" height="88" fill="url(#g304)"/>
<rect x="364" y="127" width="2" height="88" fill="url(#g305)"/>
<rect x="366" y="127" width="2" height="88" fill="url(#g306)"/>
<rect x="368" y="127" width="2" height="88" fill="url(#g307)"/>
<rect x="370" y="127" width="2" height="88" fill="url(#g308)"/>
<rect x="372" y="127" width="3" height="88" fill="url(#g309)"/>
<rect x="375" y="127" width="3" height="88" fill="url(#g310)"/>
<rect x="378" y="127" width="3" height="88" fill="url(#g311)"/>
<rect x="381" y="127" width="3" height="88" fill="url(#g312)"/>
<rect x="384" y="127" width="3" height="88" fill="url(#g313)"/>
<rect x="387" y="127" width="3" height="88" fill="url(#g314)"/>
<rect x="390" y="127" width="3" height="88" fill="url(#g315)"/>
<rect x="393" y="127" width="3" height="88" fill="url(#g316)"/>
<rect x="396" y="127" width="3" height="88" fill="url(#g317)"/>
<rect x="399" y="127" width="3" height="88" fill="url(#g318)"/>
<rect x="402" y="127" width="3" height="88" fill="url(#g319)"/>
<rect x="405" y="127" width="3" height="88" fill="url(#g320)"/>
<rect x="408" y="127" width="3" height="88" fill="url(#g321)"/>
<rect x="411" y="127" width="3" height="88" fill="url(#g322)"/>
<rect x="414" y="127" width="3" height="88" fill="url(#g323)"/>
<rect x="417" y="127" width="3" height="88" fill="url(#g324)"/>
<rect x="420" y="127" width="3" height="88" fill="url(#g325)"/>
<rect x="423" y="127" width="3" height="88" fill="url(#g326)"/>
<rect x="426" y="127" width="3" height="88" fill="url(#g327)"/>
<rect x="429" y="127" width="3" height="88" fill="url(#g328)"/>
<rect x="432" y="127" width="3" height="88" fill="url(#g329)"/>
<rect x="435" y="127" width="3" height="88" fill="url(#g330)"/>
<rect x="438" y="127" width="3" height="88" fill="url(#g331)"/>
<rect x="441" y="127" width="3" height="88" fill="url(#g332)"/>
<rect x="444" y="127" width="3" height="88" fill="url(#g333)"/>
<rect x="447" y="127" width="3" height="88" fill="url(#g334)"/>
<rect x="450" y="127" width="3" height="88" fill="url(#g335)"/>
<rect x="453" y="127" width="3" height="88" fill="url(#g336)"/>
<rect x="456" y="127" width="3" height="88" fill="url(#g337)"/>
<rect x="459" y="127" width="3" height="88" fill="url(#g338)"/>
<rect x="462" y="127" width="3" height="88" fill="url(#g339)"/>
<rect x="465" y="127" width="3" height="88" fill="url(#g340)"/>
<rect x="468" y="127" width="3" height="88" fill="url(#g341)"/>
<rect x="471" y="127" width="3" height="88" fill="url(#g342)"/>
<rect x="474" y="127" width="3" height="88" fill="url(#g343)"/>
<rect x="477" y="127" width="3" height="88" fill="url(#g344)"/>
<rect x="480" y="127" width="3" height="88" fill="url(#g345)"/>
<rect x="483" y="127" width="3" height="88" fill="url(#g346)"/>
<rect x="486" y="127" width="3" height="88" fill="url(#g347)"/>
<rect x="489" y="127" width="3" height="88" fill="url(#g348)"/>
<rect x="492" y="127" width="3" height="88" fill="url(#g349)"/>
<rect x="495" y="127" width="3" height="88" fill="url(#g350)"/>
<rect x="498" y="127" width="3" height="88" fill="url(#g351)"/>
<rect x="501" y="127" width="3" height="88" fill="url(#g352)"/>
<rect x="504" y="127" width="3" height="88" fill="url(#g353)"/>
<rect x="507" y="127" width="3" height="88" fill="url(#g354)"/>
<rect x="510" y="127" width="3" height="88" fill="url(#g355)"/>
<rect x="513" y="127" width="3" height="88" fill="url(#g356)"/>
<rect x="516" y="127" width="3" height="88" fill="url(#g357)"/>
<rect x="519" y="127" width="3" height="88" fill="url(#g358)"/>
<rect x="522" y="127" width="3" height="88" fill="url(#g359)"/>
<rect x="525" y="127" width="3" height="88" fill="url(#g360)"/>
<rect x="528" y="127" width="3" height="88" fill="url(#g361)"/>
<rect x="531" y="127" width="3" height="88" fill="url(#g362)"/>
<rect x="534" y="127" width="3" height="88" fill="url(#g363)"/>
<rect x="537" y="127" width="3" height="88" fill="url(#g364)"/>
<rect x="540" y="127" width="3" height="88" fill="url(#g365)"/>
<rect x="543" y="127" width="3" height="88" fill="url(#g366)"/>
<rect x="546" y="127" width="3" height="88" fill="url(#g367)"/>
<rect x="549" y="127" width="3" height="88" fill="url(#g368)"/>
<rect x="552" y="127" width="3" height="88" fill="url(#g369)"/>
<rect x="555" y="127" width="3" height="88" fill="url(#g370)"/>
<rect x="558" y="127" width="3" height="88" fill="url(#g371)"/>
<rect x="561" y="127" width="3" height="88" fill="url(#g372)"/>
<rect x="564" y="127" width="3" height="88" fill="url(#g373)"/>
<rect x="567" y="127" width="3" height="88" fill="url(#g374)"/>
<rect x="570" y="127" width="3" height="88" fill="url(#g375)"/>
<rect x="573" y="127" width="3" height="88" fill="url(#g376)"/>
<rect x="576" y="127" width="3" height="88" fill="url(#g377)"/>
<rect x="579" y="127" width="3" height="88" fill="url(#g378)"/>
<rect x="582" y="127" width="3" height="88" fill="url(#g379)"/>
<rect x="585" y="127" width="3" height="88" fill="url(#g380)"/>
<rect x="588" y="127" width="3" height="88" fill="url(#g381)"/>
<rect x="591" y="127" width="3" height="88" fill="url(#g382)"/>
<rect x="594" y="127" width="3" height="88" fill="url(#g383)"/>
<rect x="597" y="127" width="3" height="88" fill="url(#g384)"/>
<rect x="600" y="127" width="3" height="88" fill="url(#g385)"/>
<rect x="603" y="127" width="3" height="88" fill="url(#g386)"/>
<rect x="606" y="127" width="3" height="88" fill="url(#g387)"/>
<rect x="609" y="127" width="3" height="88" fill="url(#g388)"/>
<rect x="612" y="127" width="3" height="88" fill="url(#g389)"/>
<rect x="615" y="127" width="3" height="88" fill="url(#g390)"/>
<rect x="618" y="127" width="3" height="88" fill="url(#g391)"/>
<rect x="621" y="127" width="3" height="88" fill="url(#g392)"/>
<rect x="624" y="127" width="3" height="88" fill="url(#g393)"/>
<rect x="627" y="127" width="3" height="88" fill="url(#g394)"/>
<rect x="630" y="127" width="3" height="88" fill="url(#g395)"/>
<rect x="633" y="127" width="3" height="88" fill="url(#g396)"/>
<rect x="636" y="127" width="3" height="88" fill="url(#g397)"/>
<rect x="639" y="127" width="3" height="88" fill="url(#g398)"/>
<rect x="642" y="127" width="3" height="88" fill="url(#g399)"/>
<rect x="645" y="127" width="3" height="88" fill="url(#g400)"/>
<rect x="648" y="127" width="3" height="88" fill="url(#g401)"/>
<rect x="651" y="127" width="3" height="88" fill="url(#g402)"/>
<rect x="654" y="127" width="3" height="88" fill="url(#g403)"/>
<rect x="657" y="127" width="3" height="88" fill="url(#g404)"/>
<rect x="660" y="127" width="3" height="88" fill="url(#g405)"/>
<rect x="663" y="127" width="3" height="88" fill="url(#g406)"/>
<rect x="666" y="127" width="3" height="88" fill="url(#g407)"/>
<rect x="669" y="127" width="3" height="88" fill="url(#g408)"/>
<rect x="672" y="127" width="3" height="88" fill="url(#g409)"/>
<rect x="675" y="127" width="3" height="88" fill="url(#g410)"/>
<rect x="678" y="127" width="3" height="88" fill="url(#g411)"/>
<rect x="681" y="127" width="3" height="88" fill="url(#g412)"/>
<rect x="98" y="228" width="3" height="87" fill="url(#g413)"/>
<rect x="101" y="228" width="3" height="87" fill="url(#g414)"/>
<rect x="104" y="228" width="3" height="87" fill="url(#g415)"/>
<rect x="107" y="228" width="3" height="87" fill="url(#g416)"/>
<rect x="110" y="228" width="3" height="87" fill="url(#g417)"/>
<rect x="113" y="228" width="3" height="87" fill="url(#g418)"/>
<rect x="116" y="228" width="3" height="87" fill="url(#g419)"/>
<rect x="119" y="228" width="3" height="87" fill="url(#g420)"/>
<rect x="122" y="228" width="3" height="87" fill="url(#g421)"/>
<rect x="125" y="228" width="3" height="87" fill="url(#g422)"/>
<rect x="128" y="228" width="3" height="87" fill="url(#g423)"/>
<rect x="131" y="228" width="3" height="87" fill="url(#g424)"/>
<rect x="134" y="228" width="3" height="87" fill="url(#g425)"/>
<rect x="137" y="228" width="3" height="87" fill="url(#g426)"/>
<rect x="140" y="228" width="3" height="87" fill="url(#g427)"/>
<rect x="143" y="228" width="3" height="87" fill="url(#g428)"/>
<rect x="146" y="228" width="3" height="87" fill="url(#g429)"/>
<rect x="149" y="228" width="3" height="87" fill="url(#g430)"/>
<rect x="152" y="228" width="3" height="87" fill="url(#g431)"/>
<rect x="155" y="228" width="3" height="87" fill="url(#g432)"/>
<rect x="158" y="228" width="3" height="87" fill="url(#g433)"/>
<rect x="161" y="228" width="3" height="87" fill="url(#g434)"/>
<rect x="164" y="228" width="3" height="87" fill="url(#g435)"/>
<rect x="167" y="228" width="3" height="87" fill="url(#g436)"/>
<rect x="170" y="228" width="3" height="87" fill="url(#g437)"/>
<rect x="173" y="228" width="3" height="87" fill="url(#g438)"/>
<rect x="176" y="228" width="3" height="87" fill="url(#g439)"/>
<rect x="179" y="228" width="3" height="87" fill="url(#g440)"/>
<rect x="182" y="228" width="3" height="87" fill="url(#g441)"/>
<rect x="185" y="228" width="3" height="87" fill="url(#g442)"/>
<rect x="188" y="228" width="3" height="87" fill="url(#g443)"/>
<rect x="191" y="228" width="3" height="87" fill="url(#g444)"/>
<rect x="194" y="228" width="3" height="87" fill="url(#g445)"/>
<rect x="197" y="228" width="3" height="87" fill="url(#g446)"/>
<rect x="200" y="228" width="3" height="87" fill="url(#g447)"/>
<rect x="203" y="228" width="3" height="87" fill="url(#g448)"/>
<rect x="206" y="228" width="3" height="87" fill="url(#g449)"/>
<rect x="209" y="228" width="3" height="87" fill="url(#g450)"/>
<rect x="212" y="228" width="3" height="87" fill="url(#g451)"/>
<rect x="215" y="228" width="3" height="87" fill="url(#g452)"/>
<rect x="218" y="228" width="3" height="87" fill="url(#g453)"/>
<rect x="221" y="228" width="3" height="87" fill="url(#g454)"/>
<rect x="224" y="228" width="3" height="87" fill="url(#g455)"/>
<rect x="227" y="228" width="3" height="87" fill="url(#g456)"/>
<rect x="230" y="228" width="3" height="87" fill="url(#g457)"/>
<rect x="233" y="228" width="3" height="87" fill="url(#g458)"/>
<rect x="236" y="228" width="3" height="87" fill="url(#g459)"/>
<rect x="239" y="228" width="3" height="87" fill="url(#g460)"/>
<rect x="242" y="228" width="3" height="87" fill="url(#g461)"/>
<rect x="245" y="228" width="3" height="87" fill="url(#g462)"/>
<rect x="248" y="228" width="2" height="87" fill="url(#g463)"/>
<rect x="250" y="228" width="2" height="87" fill="url(#g464)"/>
<rect x="252" y="228" width="2" height="87" fill="url(#g465)"/>
<rect x="254" y="228" width="2" height="87" fill="url(#g466)"/>
<rect x="256" y="228" width="2" height="87" fill="url(#g467)"/>
<rect x="258" y="228" width="2" height="87" fill="url(#g468)"/>
<rect x="260" y="228" width="2" height="87" fill="url(#g469)"/>
<rect x="262" y="228" width="2" height="87" fill="url(#g470)"/>
<rect x="264" y="228" width="2" height="87" fill="url(#g471)"/>
<rect x="266" y="228" width="2" height="87" fill="url(#g472)"/>
<rect x="268" y="228" width="2" height="87" fill="url(#g473)"/>
<rect x="270" y="228" width="2" height="87" fill="url(#g474)"/>
<rect x="272" y="228" width="2" height="87" fill="url(#g475)"/>
<rect x="274" y="228" width="2" height="87" fill="url(#g476)"/>
<rect x="276" y="228" width="2" height="87" fill="url(#g477)"/>
<rect x="278" y="228" width="2" height="87" fill="url(#g478)"/>
<rect x="280" y="228" width="2" height="87" fill="url(#g479)"/>
<rect x="282" y="228" width="2" height="87" fill="url(#g480)"/>
<rect x="284" y="228" width="2" height="87" fill="url(#g481)"/>
<rect x="286" y="228" width="2" height="87" fill="url(#g482)"/>
<rect x="288" y="228" width="2" height="87" fill="url(#g483)"/>
<rect x="290" y="228" width="2" height="87" fill="url(#g484)"/>
<rect x="292" y="228" width="2" height="87" fill="url(#g485)"/>
<rect x="294" y="228" width="2" height="87" fill="url(#g486)"/>
<rect x="296" y="228" width="2" height="87" fill="url(#g487)"/>
<rect x="298" y="228" width="2" height="87" fill="url(#g488)"/>
<rect x="300" y="228" width="2" height="87" fill="url(#g489)"/>
<rect x="302" y="228" width="2" height="87" fill="url(#g490)"/>
<rect x="304" y="228" width="2" height="87" fill="url(#g491)"/>
<rect x="306" y="228" width="2" height="87" fill="url(#g492)"/>
<rect x="308" y="228" width="2" height="87" fill="url(#g493)"/>
<rect x="310" y="228" width="2" height="87" fill="url(#g494)"/>
<rect x="312" y="228" width="2" height="87" fill="url(#g495)"/>
<rect x="314" y="228" width="2" height="87" fill="url(#g496)"/>
<rect x="316" y="228" width="2" height="87" fill="url(#g497)"/>
<rect x="318" y="228" width="2" height="87" fill="url(#g498)"/>
<rect x="320" y="228" width="2" height="87" fill="url(#g499)"/>
<rect x="322" y="228" width="2" height="87" fill="url(#g500)"/>
<rect x="324" y="228" width="2" height="87" fill="url(#g501)"/>
<rect x="326" y="228" width="2" height="87" fill="url(#g502)"/>
<rect x="328" y="228" width="2" height="87" fill="url(#g503)"/>
<rect x="330" y="228" width="2" height="87" fill="url(#g504)"/>
<rect x="332" y="228" width="2" height="87" fill="url(#g505)"/>
<rect x="334" y="228" width="2" height="87" fill="url(#g506)"/>
<rect x="336" y="228" width="2" height="87" fill="url(#g507)"/>
<rect x="338" y="228" width="2" height="87" fill="url(#g508)"/>
<rect x="340" y="228" width="2" height="87" fill="url(#g509)"/>
<rect x="342" y="228" width="2" height="87" fill="url(#g510)"/>
<rect x="344" y="228" width="2" height="87" fill="url(#g511)"/>
<rect x="346" y="228" width="2" height="87" fill="url(#g512)"/>
<rect x="348" y="228" width="2" height="87" fill="url(#g513)"/>
<rect x="350" y="228" width="2" height="87" fill="url(#g514)"/>
<rect x="352" y="228" width="2" height="87" fill="url(#g515)"/>
<rect x="354" y="228" width="2" height="87" fill="url(#g516)"/>
<rect x="356" y="228" width="2" height="87" fill="url(#g517)"/>
<rect x="358" y="228" width="2" height="87" fill="url(#g518)"/>
<rect x="360" y="228" width="2" height="87" fill="url(#g519)"/>
<rect x="362" y="228" width="2" height="87" fill="url(#g520)"/>
<rect x="364" y="228" width="2" height="87" fill="url(#g521)"/>
<rect x="366" y="228" width="2" height="87" fill="url(#g522)"/>
<rect x="368" y="228" width="2" height="87" fill="url(#g523)"/>
<rect x="370" y="228" width="2" height="87" fill="url(#g524)"/>
<rect x="372" y="228" width="3" height="87" fill="url(#g525)"/>
<rect x="375" y="228" width="3" height="87" fill="url(#g526)"/>
<rect x="378" y="228" width="3" height="87" fill="url(#g527)"/>
<rect x="381" y="228" width="3" height="87" fill="url(#g528)"/>
<rect x="384" y="228" width="3" height="87" fill="url(#g529)"/>
<rect x="387" y="228" width="3" height="87" fill="url(#g530)"/>
<rect x="390" y="228" width="3" height="87" fill="url(#g531)"/>
<rect x="393" y="228" width="3" height="87" fill="url(#g532)"/>
<rect x="396" y="228" width="3" height="87" fill="url(#g533)"/>
<rect x="399" y="228" width="3" height="87" fill="url(#g534)"/>
<rect x="402" y="228" width="3" height="87" fill="url(#g535)"/>
<rect x="405" y="228" width="3" height="87" fill="url(#g536)"/>
<rect x="408" y="228" width="3" height="87" fill="url(#g537)"/>
<rect x="411" y="228" width="3" height="87" fill="url(#g538)"/>
<rect x="414" y="228" width="3" height="87" fill="url(#g539)"/>
<rect x="417" y="228" width="3" height="87" fill="url(#g540)"/>
<rect x="420" y="228" width="3" height="87" fill="url(#g541)"/>
<rect x="423" y="228" width="3" height="87" fill="url(#g542)"/>
<rect x="426" y="228" width="3" height="87" fill="url(#g543)"/>
<rect x="429" y="228" width="3" height="87" fill="url(#g544)"/>
<rect x="432" y="228" width="3" height="87" fill="url(#g545)"/>
<rect x="435" y="228" width="3" height="87" fill="url(#g546)"/>
<rect x="438" y="228" width="3" height="87" fill="url(#g547)"/>
<rect x="441" y="228" width="3" height="87" fill="url(#g548)"/>
<rect x="444" y="228" width="3" height="87" fill="url(#g549)"/>
<rect x="447" y="228" width="3" height="87" fill="url(#g550)"/>
<rect x="450" y="228" width="3" height="87" fill="url(#g551)"/>
<rect x="453" y="228" width="3" height="87" fill="url(#g552)"/>
<rect x="456" y="228" width="3" height="87" fill="url(#g553)"/>
<rect x="459" y="228" width="3" height="87" fill="url(#g554)"/>
<rect x="462" y="228" width="3" height="87" fill="url(#g555)"/>
<rect x="465" y="228" width="3" height="87" fill="url(#g556)"/>
<rect x="468" y="228" width="3" height="87" fill="url(#g557)"/>
<rect x="471" y="228" width="3" height="87" fill="url(#g558)"/>
<rect x="474" y="228" width="3" height="87" fill="url(#g559)"/>
<rect x="477" y="228" width="3" height="87" fill="url(#g560)"/>
<rect x="480" y="228" width="3" height="87" fill="url(#g561)"/>
<rect x="483" y="228" width="3" height="87" fill="url(#g562)"/>
<rect x="486" y="228" width="3" height="87" fill="url(#g563)"/>
<rect x="489" y="228" width="3" height="87" fill="url(#g564)"/>
<rect x="492" y="228" width="3" height="87" fill="url(#g565)"/>
<rect x="495" y="228" width="3" height="87" fill="url(#g566)"/>
<rect x="498" y="228" width="3" height="87" fill="url(#g567)"/>
<rect x="501" y="228" width="3" height="87" fill="url(#g568)"/>
<rect x="504" y="228" width="3" height="87" fill="url(#g569)"/>
<rect x="507" y="228" width="3" height="87" fill="url(#g570)"/>
<rect x="510" y="228" width="3" height="87" fill="url(#g571)"/>
<rect x="513" y="228" width="3" height="87" fill="url(#g572)"/>
<rect x="516" y="228" width="3" height="87" fill="url(#g573)"/>
<rect x="519" y="228" width="3" height="87" fill="url(#g574)"/>
<rect x="522" y="228" width="3" height="87" fill="url(#g575)"/>
<rect x="525" y="228" width="3" height="87" fill="url(#g576)"/>
<rect x="528" y="228" width="3" height="87" fill="url(#g577)"/>
<rect x="531" y="228" width="3" height="87" fill="url(#g578)"/>
<rect x="534" y="228" width="3" height="87" fill="url(#g579)"/>
<rect x="537" y="228" width="3" height="87" fill="url(#g580)"/>
<rect x="540" y="228" width="3" height="87" fill="url(#g581)"/>
<rect x="543" y="228" width="3" height="87" fill="url(#g582)"/>
<rect x="546" y="228" width="3" height="87" fill="url(#g583)"/>
<rect x="549" y="228" width="3" height="87" fill="url(#g584)"/>
<rect x="552" y="228" width="3" height="87" fill="url(#g585)"/>
<rect x="555" y="228" width="3" height="87" fill="url(#g586)"/>
<rect x="558" y="228" width="3" height="87" fill="url(#g587)"/>
<rect x="561" y="228" width="3" height="87" fill="url(#g588)"/>
<rect x="564" y="228" width="3" height="87" fill="url(#g589)"/>
<rect x="567" y="228" width="3" height="87" fill="url(#g590)"/>
<rect x="570" y="228" width="3" height="87" fill="url(#g591)"/>
<rect x="573" y="228" width="3" height="87" fill="url(#g592)"/>
<rect x="576" y="228" width="3" height="87" fill="url(#g593)"/>
<rect x="579" y="228" width="3" height="87" fill="url(#g594)"/>
<rect x="582" y="228" width="3" height="87" fill="url(#g595)"/>
<rect x="585" y="228" width="3" height="87" fill="url(#g596)"/>
<rect x="588" y="228" width="3" height="87" fill="url(#g597)"/>
<rect x="591" y="228" width="3" height="87" fill="url(#g598)"/>
<rect x="594" y="228" width="3" height="87" fill="url(#g599)"/>
<rect x="597" y="228" width="3" height="87" fill="url(#g600)"/>
<rect x="600" y="228" width="3" height="87" fill="url(#g601)"/>
<rect x="603" y="228" width="3" height="87" fill="url(#g602)"/>
<rect x="606" y="228" width="3" height="87" fill="url(#g603)"/>
<rect x="609" y="228" width="3" height="87" fill="url(#g604)"/>
<rect x="612" y="228" width="3" height="87" fill="url(#g605)"/>
<rect x="615" y="228" width="3" height="87" fill="url(#g606)"/>
<rect x="618" y="228" width="3" height="87" fill="url(#g607)"/>
<rect x="621" y="228" width="3" height="87" fill="url(#g608)"/>
<rect x="624" y="228" width="3" height="87" fill="url(#g609)"/>
<rect x="627" y="228" width="3" height="87" fill="url(#g610)"/>
<rect x="630" y="228" width="3" height="87" fill="url(#g611)"/>
<rect x="633" y="228" width="3" height="87" fill="url(#g612)"/>
<rect x="636" y="228" width="3" height="87" fill="url(#g613)"/>
<rect x="639" y="228" width="3" height="87" fill="url(#g614)"/>
<rect x="642" y="228" width="3" height="87" fill="url(#g615)"/>
<rect x="645" y="228" width="3" height="87" fill="url(#g616)"/>
<rect x="648" y="228" width="3" height="87" fill="url(#g617)"/>
<rect x="651" y="228" width="3" height="87" fill="url(#g618)"/>
<rect x="654" y="228" width="3" height="87" fill="url(#g619)"/>
<rect x="657" y="228" width="3" height="87" fill="url(#g620)"/>
<rect x="660" y="228" width="3" height="87" fill="url(#g621)"/>
<rect x="663" y="228" width="3" height="87" fill="url(#g622)"/>
<rect x="666" y="228" width="3" height="87" fill="url(#g623)"/>
<rect x="669" y="228" width="3" height="87" fill="url(#g624)"/>
<rect x="672" y="228" width="3" height="87" fill="url(#g625)"/>
<rect x="675" y="228" width="3" height="87" fill="url(#g626)"/>
<rect x="678" y="228" width="3" height="87" fill="url(#g627)"/>
<rect x="681" y="228" width="3" height="87" fill="url(#g628)"/>
<rect x="311" y="207" width="10" height="8" fill="#fff"/>
<rect x="311" y="307" width="10" height="8" fill="#fff"/>
</g>
<g clip-path="url(#c2)">
<ellipse cx="311" cy="127" rx="2.5" ry="4.5" fill="#0030ff"/>
<ellipse cx="317" cy="127" rx="2" ry="4" fill="#0060ff"/>
<ellipse cx="323" cy="127" rx="1.5" ry="3" fill="#00a0ff"/>
<ellipse cx="309" cy="215" rx="2.5" ry="5" fill="#0040ff"/>
<ellipse cx="324" cy="215" rx="2" ry="4" fill="#0090ff"/>
<ellipse cx="328.5" cy="215" rx="2.5" ry="5" fill="#0040ff"/>
</g>
<g clip-path="url(#c3)">
<ellipse cx="311" cy="228" rx="2.5" ry="4.5" fill="#0030ff"/>
<ellipse cx="317" cy="228" rx="2" ry="4" fill="#0060ff"/>
<ellipse cx="323" cy="228" rx="1.5" ry="3" fill="#00a0ff"/>
<ellipse cx="309" cy="316" rx="2.5" ry="5" fill="#0040ff"/>
<ellipse cx="324" cy="316" rx="2" ry="4" fill="#0090ff"/>
<ellipse cx="328.5" cy="316" rx="2.5" ry="5" fill="#0040ff"/>
</g>
<rect x="692.5" y="23.5" width="8" height="94" fill="url(#g629)" stroke="#000" stroke-width="1" shape-rendering="crispEdges"/>
<rect x="692.5" y="123.5" width="8" height="95" fill="url(#g630)" stroke="#000" stroke-width="1" shape-rendering="crispEdges"/>
<rect x="692.5" y="224.5" width="8" height="94" fill="url(#g631)" stroke="#000" stroke-width="1" shape-rendering="crispEdges"/>
<g stroke="#000" stroke-width="1" fill="none" shape-rendering="crispEdges">
<rect x="96.5" y="23.5" width="588" height="94"/>
<path d="M121.5 24v1M121.5 117v-1M145.5 24v1M145.5 117v-1M170.5 24v1M170.5 117v-1M194.5 24v1M194.5 117v-1M219.5 24v1M219.5 117v-1M243.5 24v1M243.5 117v-1M268.5 24v1M268.5 117v-1M292.5 24v2M292.5 117v-2M317.5 24v1M317.5 117v-1M341.5 24v1M341.5 117v-1M366.5 24v1M366.5 117v-1M390.5 24v1M390.5 117v-1M415.5 24v1M415.5 117v-1M439.5 24v1M439.5 117v-1M464.5 24v1M464.5 117v-1M488.5 24v2M488.5 117v-2M513.5 24v1M513.5 117v-1M537.5 24v1M537.5 117v-1M562.5 24v1M562.5 117v-1M586.5 24v1M586.5 117v-1M611.5 24v1M611.5 117v-1M635.5 24v1M635.5 117v-1M660.5 24v1M660.5 117v-1"/>
<rect x="96.5" y="123.5" width="588" height="95"/>
<path d="M121.5 124v1M121.5 218v-1M145.5 124v1M145.5 218v-1M170.5 124v1M170.5 218v-1M194.5 124v1M194.5 218v-1M219.5 124v1M219.5 218v-1M243.5 124v1M243.5 218v-1M268.5 124v1M268.5 218v-1M292.5 124v2M292.5 218v-2M317.5 124v1M317.5 218v-1M341.5 124v1M341.5 218v-1M366.5 124v1M366.5 218v-1M390.5 124v1M390.5 218v-1M415.5 124v1M415.5 218v-1M439.5 124v1M439.5 218v-1M464.5 124v1M464.5 218v-1M488.5 124v2M488.5 218v-2M513.5 124v1M513.5 218v-1M537.5 124v1M537.5 218v-1M562.5 124v1M562.5 218v-1M586.5 124v1M586.5 218v-1M611.5 124v1M611.5 218v-1M635.5 124v1M635.5 218v-1M660.5 124v1M660.5 218v-1"/>
<rect x="96.5" y="224.5" width="588" height="94"/>
<path d="M121.5 225v1M121.5 318v-1M145.5 225v1M145.5 318v-1M170.5 225v1M170.5 318v-1M194.5 225v1M194.5 318v-1M219.5 225v1M219.5 318v-1M243.5 225v1M243.5 318v-1M268.5 225v1M268.5 318v-1M292.5 225v2M292.5 318v-2M317.5 225v1M317.5 318v-1M341.5 225v1M341.5 318v-1M366.5 225v1M366.5 318v-1M390.5 225v1M390.5 318v-1M415.5 225v1M415.5 318v-1M439.5 225v1M439.5 318v-1M464.5 225v1M464.5 318v-1M488.5 225v2M488.5 318v-2M513.5 225v1M513.5 318v-1M537.5 225v1M537.5 318v-1M562.5 225v1M562.5 318v-1M586.5 225v1M586.5 318v-1M611.5 225v1M611.5 318v-1M635.5 225v1M635.5 318v-1M660.5 225v1M660.5 318v-1"/>
<rect x="96.5" y="324.5" width="588" height="94"/>
<path d="M121.5 325v1M121.5 418v-1M145.5 325v1M145.5 418v-1M170.5 325v1M170.5 418v-1M194.5 325v1M194.5 418v-1M219.5 325v1M219.5 418v-1M243.5 325v1M243.5 418v-1M268.5 325v1M268.5 418v-1M292.5 325v2M292.5 418v-2M317.5 325v1M317.5 418v-1M341.5 325v1M341.5 418v-1M366.5 325v1M366.5 418v-1M390.5 325v1M390.5 418v-1M415.5 325v1M415.5 418v-1M439.5 325v1M439.5 418v-1M464.5 325v1M464.5 418v-1M488.5 325v2M488.5 418v-2M513.5 325v1M513.5 418v-1M537.5 325v1M537.5 418v-1M562.5 325v1M562.5 418v-1M586.5 325v1M586.5 418v-1M611.5 325v1M611.5 418v-1M635.5 325v1M635.5 418v-1M660.5 325v1M660.5 418v-1"/>
<rect x="96.5" y="424.5" width="588" height="94"/>
<path d="M121.5 425v1M121.5 518v-1M145.5 425v1M145.5 518v-1M170.5 425v1M170.5 518v-1M194.5 425v1M194.5 518v-1M219.5 425v1M219.5 518v-1M243.5 425v1M243.5 518v-1M268.5 425v1M268.5 518v-1M292.5 425v2M292.5 518v-2M317.5 425v1M317.5 518v-1M341.5 425v1M341.5 518v-1M366.5 425v1M366.5 518v-1M390.5 425v1M390.5 518v-1M415.5 425v1M415.5 518v-1M439.5 425v1M439.5 518v-1M464.5 425v1M464.5 518v-1M488.5 425v2M488.5 518v-2M513.5 425v1M513.5 518v-1M537.5 425v1M537.5 518v-1M562.5 425v1M562.5 518v-1M586.5 425v1M586.5 518v-1M611.5 425v1M611.5 518v-1M635.5 425v1M635.5 518v-1M660.5 425v1M660.5 518v-1"/>
<rect x="96.5" y="524.5" width="588" height="95"/>
<path d="M121.5 525v1M121.5 619v-1M145.5 525v1M145.5 619v-1M170.5 525v1M170.5 619v-1M194.5 525v1M194.5 619v-1M219.5 525v1M219.5 619v-1M243.5 525v1M243.5 619v-1M268.5 525v1M268.5 619v-1M292.5 525v2M292.5 619v-2M317.5 525v1M317.5 619v-1M341.5 525v1M341.5 619v-1M366.5 525v1M366.5 619v-1M390.5 525v1M390.5 619v-1M415.5 525v1M415.5 619v-1M439.5 525v1M439.5 619v-1M464.5 525v1M464.5 619v-1M488.5 525v2M488.5 619v-2M513.5 525v1M513.5 619v-1M537.5 525v1M537.5 619v-1M562.5 525v1M562.5 619v-1M586.5 525v1M586.5 619v-1M611.5 525v1M611.5 619v-1M635.5 525v1M635.5 619v-1M660.5 525v1M660.5 619v-1"/>
<rect x="96.5" y="625.5" width="588" height="94"/>
<path d="M121.5 626v1M121.5 719v-1M145.5 626v1M145.5 719v-1M170.5 626v1M170.5 719v-1M194.5 626v1M194.5 719v-1M219.5 626v1M219.5 719v-1M243.5 626v1M243.5 719v-1M268.5 626v1M268.5 719v-1M292.5 626v2M292.5 719v-2M317.5 626v1M317.5 719v-1M341.5 626v1M341.5 719v-1M366.5 626v1M366.5 719v-1M390.5 626v1M390.5 719v-1M415.5 626v1M415.5 719v-1M439.5 626v1M439.5 719v-1M464.5 626v1M464.5 719v-1M488.5 626v2M488.5 719v-2M513.5 626v1M513.5 719v-1M537.5 626v1M537.5 719v-1M562.5 626v1M562.5 719v-1M586.5 626v1M586.5 719v-1M611.5 626v1M611.5 719v-1M635.5 626v1M635.5 719v-1M660.5 626v1M660.5 719v-1"/>
<path d="M97 45.5h12M684 45.5h-12M97 23.5h6M684 23.5h-6M97 48.5h6M684 48.5h-6M97 52.5h6M684 52.5h-6M97 56.5h6M684 56.5h-6M97 61.5h6M684 61.5h-6M97 67.5h6M684 67.5h-6M97 74.5h6M684 74.5h-6M97 83.5h6M684 83.5h-6M97 95.5h6M684 95.5h-6"/>
<path d="M97 191.5h12M684 191.5h-12M97 165.5h12M684 165.5h-12M97 139.5h12M684 139.5h-12M97 212.5h6M684 212.5h-6M97 207.5h6M684 207.5h-6M97 201.5h6M684 201.5h-6M97 196.5h6M684 196.5h-6M97 186.5h6M684 186.5h-6M97 181.5h6M684 181.5h-6M97 175.5h6M684 175.5h-6M97 170.5h6M684 170.5h-6M97 160.5h6M684 160.5h-6M97 155.5h6M684 155.5h-6M97 149.5h6M684 149.5h-6M97 144.5h6M684 144.5h-6M97 134.5h6M684 134.5h-6M97 129.5h6M684 129.5h-6"/>
<path d="M97 291.5h12M684 291.5h-12M97 265.5h12M684 265.5h-12M97 239.5h12M684 239.5h-12M97 312.5h6M684 312.5h-6M97 307.5h6M684 307.5h-6M97 302.5h6M684 302.5h-6M97 296.5h6M684 296.5h-6M97 286.5h6M684 286.5h-6M97 281.5h6M684 281.5h-6M97 276.5h6M684 276.5h-6M97 270.5h6M684 270.5h-6M97 260.5h6M684 260.5h-6M97 255.5h6M684 255.5h-6M97 250.5h6M684 250.5h-6M97 244.5h6M684 244.5h-6M97 234.5h6M684 234.5h-6M97 229.5h6M684 229.5h-6"/>
<path d="M97 395.5h12M684 395.5h-12M97 371.5h12M684 371.5h-12M97 347.5h12M684 347.5h-12M97 413.5h6M684 413.5h-6M97 409.5h6M684 409.5h-6M97 404.5h6M684 404.5h-6M97 399.5h6M684 399.5h-6M97 390.5h6M684 390.5h-6M97 385.5h6M684 385.5h-6M97 380.5h6M684 380.5h-6M97 376.5h6M684 376.5h-6M97 366.5h6M684 366.5h-6M97 362.5h6M684 362.5h-6M97 357.5h6M684 357.5h-6M97 352.5h6M684 352.5h-6M97 343.5h6M684 343.5h-6M97 338.5h6M684 338.5h-6M97 333.5h6M684 333.5h-6M97 329.5h6M684 329.5h-6"/>
<path d="M97 495.5h12M684 495.5h-12M97 471.5h12M684 471.5h-12M97 447.5h12M684 447.5h-12M97 513.5h6M684 513.5h-6M97 509.5h6M684 509.5h-6M97 504.5h6M684 504.5h-6M97 499.5h6M684 499.5h-6M97 490.5h6M684 490.5h-6M97 485.5h6M684 485.5h-6M97 480.5h6M684 480.5h-6M97 476.5h6M684 476.5h-6M97 466.5h6M684 466.5h-6M97 462.5h6M684 462.5h-6M97 457.5h6M684 457.5h-6M97 452.5h6M684 452.5h-6M97 443.5h6M684 443.5h-6M97 438.5h6M684 438.5h-6M97 433.5h6M684 433.5h-6M97 429.5h6M684 429.5h-6"/>
<path d="M97 595.5h12M684 595.5h-12M97 571.5h12M684 571.5h-12M97 548.5h12M684 548.5h-12M97 614.5h6M684 614.5h-6M97 609.5h6M684 609.5h-6M97 604.5h6M684 604.5h-6M97 600.5h6M684 600.5h-6M97 590.5h6M684 590.5h-6M97 586.5h6M684 586.5h-6M97 581.5h6M684 581.5h-6M97 576.5h6M684 576.5h-6M97 567.5h6M684 567.5h-6M97 562.5h6M684 562.5h-6M97 557.5h6M684 557.5h-6M97 553.5h6M684 553.5h-6M97 543.5h6M684 543.5h-6M97 538.5h6M684 538.5h-6M97 534.5h6M684 534.5h-6M97 529.5h6M684 529.5h-6"/>
<path d="M97 695.5h12M684 695.5h-12M97 672.5h12M684 672.5h-12M97 648.5h12M684 648.5h-12M97 714.5h6M684 714.5h-6M97 709.5h6M684 709.5h-6M97 704.5h6M684 704.5h-6M97 700.5h6M684 700.5h-6M97 690.5h6M684 690.5h-6M97 686.5h6M684 686.5h-6M97 681.5h6M684 681.5h-6M97 676.5h6M684 676.5h-6M97 667.5h6M684 667.5h-6M97 662.5h6M684 662.5h-6M97 658.5h6M684 658.5h-6M97 653.5h6M684 653.5h-6M97 643.5h6M684 643.5h-6M97 639.5h6M684 639.5h-6M97 634.5h6M684 634.5h-6M97 629.5h6M684 629.5h-6"/>
</g>
<g stroke="#000" stroke-width="1" fill="none" stroke-linejoin="round" shape-rendering="crispEdges">
<polyline points="96,386.1 105.6,386.6 111.4,384.7 119.1,383.8 122,382.8 124.8,383.8 127.7,383.4 132.5,380.9 136.4,383.8 142.2,383.4 146,382.4 148.9,383.8 151.8,381.8 153.7,382.8 157.5,381.5 163.3,382.4 169.1,382.4 172.9,381.5 175.8,380.9 178.7,381.8 181.6,380.5 183.5,381.5 186.4,380.5 190.2,381.5 193.1,382.4 196,381.5 197.9,382.8 202.7,380.9 206.6,381.8 211.4,381.8 215.2,380.5 218.1,381.8 221,380.9 222.9,381.8 227.7,378.4 230.6,379.9 234.5,381.8 238.3,380.9 244.1,380.9 245.6,377 246.7,372.2 248.7,368.4 251.5,364.5 254.4,363 258.3,361.6 268.8,361.6 278.5,361.1 288.1,359.7 293.8,359.7 296.7,360.7 298.7,359.7 300.6,360.7 303.5,359.7 313.1,359.7 316,361.6 320.8,360.7 324.6,361.6 328.5,360.7 334.2,361.6 337.1,362.6 340,360.7 341.9,361.6 350.6,361.6 352.5,360.7 354.4,368.4 357.3,365.5 361.2,362.6 364,364.5 368.8,370.3 371.7,372.2 374,372.6 377.5,369.3 381.3,366.5 384.2,366.5 387.1,364.5 387.9,363.6 390.8,362.6 394.6,365.9 396.5,364.1 398.5,364.9 402.3,364.1 408.1,363.6 411.9,361.3 416.7,363.6 420.6,361.6 422.9,366.1 425.4,363.2 432.1,361.3 437.9,363.6 440.8,362.6 442.7,363.6 446.5,362.2 449.4,363 452.3,366.5 457.1,366.5 461,365.5 464.8,366.5 467.7,363.6 471.5,364.9 475.4,365.9 480.2,363.6 485,364.9 489.8,367.4 496.5,369.3 500.4,370.3 503.3,372.6 506.2,378.4 510,376.6 513.8,377.6 517.7,376.1 521.5,376.5 525.4,375.5 530.2,374.7 533.1,379.5 535,379 536.9,378.6 541.3,366.5 543.7,371.8 546.5,373.8 551.3,369.9 555.6,360.7 560,393.8 562.9,392.4 565.4,393.8 568.3,389.5 570.6,393.4 573.5,391.5 575.8,393.8 578.3,390.5 580.2,389.1 583.1,384.7 585.6,383.8 587.9,371.3 590.2,363.6 592.1,360.3 595.6,359.3 597.5,354 599.4,356.8 602.3,376.1 604.6,391.8 607.1,393 611,388.6 614.2,384.7 617.3,386.6 620,384.7 622.5,386.6 625.8,389.5 629.2,390.5 631.2,371.8 634,366.5 636.9,359.7 639.8,355.5 643.7,354.9 648.5,358.8 651.3,355.5 653.7,339.1 656.5,338 658.7,346.3 661,346.8 665.8,349.5 671.5,349.7 674.4,351.5 679.2,351.6 684,349.1"/>
<polyline points="96,475.7 101.8,472.6 107.5,472.2 112.3,466.5 117.2,466.5 122,464.5 124.8,464.9 128.7,467 133.5,464.1 137.3,463.6 139.3,462.6 142.2,463.6 146,462.2 148.9,463 154.7,466.8 158.5,462.6 163.3,462.6 166.2,463.6 171,463.6 172.9,462.6 180.6,462.2 183.5,461.3 187.3,461.6 190.2,463 194.1,462.2 199.8,459.7 202.7,458.4 205.6,459.7 214.3,459.7 217.2,460.7 228.7,460.7 232.5,462.6 235.4,462.2 239.3,460.3 243.1,461.3 243.8,461.3 247.7,459.7 250.6,461.1 254.4,461.6 259.2,468.4 264,468.4 266.3,466.5 268.8,468.4 276.5,468.8 283.3,470.7 286.2,469.7 288.1,470.7 291.9,469.7 307.3,469.7 313.1,471.6 317.9,471.6 320.8,472.6 324.6,470.7 328.5,470.3 332.3,468.8 336.2,469 340,470.7 346.7,467.8 352.5,467.4 356.3,466.5 359.2,465.9 363.1,468.4 365,467.4 372.7,470.7 374.6,473.6 377.5,469.7 383.3,469.7 386.2,469 389.8,470.7 392.7,468.4 395.6,464.9 400.4,463 403.3,463.6 406.2,461.6 411,463.6 415.8,461.6 419.6,461.6 421.5,462.6 423.5,460.7 426.3,463.6 430.2,461.6 437.9,461.6 440.8,462.6 443.7,461.6 447.5,463 450.4,466.5 452.3,461.3 457.1,459.7 460,461.3 464.8,460.7 467.7,461.6 472.5,457.8 477.3,457.8 480.2,459.7 483.1,459.3 485,456.5 489.8,457.8 494.6,457.4 497.5,455.5 501,452.6 506.2,456.8 511,451.5 516.7,456.5 519.6,454.9 524.4,454 526.9,455.5 528.3,477 531.2,484.7 533.1,477.6 535,478 536,480.9 538.3,489.5 540.8,482.8 542.7,480.9 545.6,485.7 548.5,491.5 551.3,498.8 553.7,499.5 555.6,494.3 558.1,477 560.4,468.8 562.9,472.2 565.8,482.8 568.1,487.6 570.6,487.6 573.5,489.1 575.8,492.4 578.3,491.5 580.2,492.4 583.1,496.6 586,495.3 587.9,491.5 590.4,481.8 592.7,483.8 595.2,488.2 597.5,473.8 599.4,479.9 601,497.2 602.3,513.6 604.2,506.8 607.1,507.8 609,495.3 611.9,493.4 614.8,498.2 617.7,504 619.6,510.7 622.5,499.5 624.4,504.9 628.3,508.8 631.2,508.8 634,503 636,485.7 637.9,468.4 639.4,456.8 641.7,459.7 645.6,463.6 648.5,472.2 651.3,484.7 653.3,480.9 656.2,471.3 658.1,473.8 661,468.4 663.8,460.7 666.7,456.5 669.6,454.5 672.5,451.5 676.3,450.1 681.2,450.7 684,451.5"/>
<polyline points="96,571.3 99.8,573.2 103.7,574.7 109.5,574.7 114.3,572.2 117.2,573.6 120,572.2 129.7,572.2 132.5,579.5 136.8,571.3 142.2,574.7 146,573.2 151.8,572.2 154.7,568.4 157.5,571.3 160.4,571.8 164.3,574.7 169.1,574.7 172.9,573.6 176.8,572.6 180.6,572.6 184.5,574.7 188.3,574.7 192.2,573.6 195,572.6 198.9,574.7 201.8,574.7 205.6,573.6 210.4,573.6 213.3,572.6 216.2,572.6 219.1,573.6 221,572.6 222.9,573.6 227.7,570.7 230.6,571.8 233.5,573.6 237.3,574.7 241.2,573.6 244.2,573.6 247.7,570.9 253.5,569.9 264,569.9 266,570.9 268.8,570.9 271.7,569.7 274.6,570.9 281.3,570.9 283.3,569.7 293.8,569.7 296.2,568.4 300.6,570.7 305.4,570.9 309.2,571.8 314,570.7 317.9,570.7 320.8,569.7 322.7,570.7 325.6,570.7 329.4,571.8 332.3,569.7 334.2,570.7 337.5,568.4 340,570.7 342.5,573.8 345.4,571.8 347.7,572.6 352.5,569.3 354.4,563.6 357.3,564.5 359.6,566.5 363.1,564.5 370.8,563.6 374.6,560.7 377.5,562.2 380.4,561.6 382.3,562.6 384.2,561.6 387.1,563.6 389.8,564.5 393.7,564 396.5,566.5 399.4,566.5 403.3,570.7 408.1,571.6 413.8,571.6 418.7,575.7 423.5,576.1 427.7,579.9 431.2,578 433.1,574.7 436,577.4 440.8,577.6 445,579.9 450.4,578.6 452.3,575.1 454.2,576.6 457.1,576.6 461,579.9 464.8,580.3 471.5,578.6 476.9,575.7 479.6,578 483.1,576.1 488.8,569.9 492.7,569.9 496.5,573.2 499.4,572.2 501.7,574.5 504.2,570.9 506.2,577.4 508.1,570.7 511.5,564.9 514.2,564.5 517.7,560.7 520.6,558.4 523.1,555.9 526.3,554 528.3,546.8 530.2,549.1 533.1,557.8 535,558.8 536.5,560.3 538.5,566.5 540.8,554.9 543.1,552.4 545.6,554.9 548.1,560.7 550.4,569.3 553.3,577 555.6,587.6 557.1,566.5 559,541.5 560.6,529.9 562.9,528.6 568.7,528.6 570.6,529.5 573.5,528 575.4,530.9 577.7,527.6 580.2,529 582.1,550.1 585,555.5 586.9,578 588.8,595.3 590.8,604.9 593.7,609.7 597.5,614.5 599,612.6 600.4,597.2 602.3,570.3 605.2,558.8 608.1,542.4 611,536.6 612.5,534.7 614.8,541.5 617.7,548.2 619.6,557.8 622.5,544.7 624.4,549.5 627.3,553 629.2,555.5 631.2,591.5 633.1,599.1 635,603 637.9,606.8 639.8,610.3 641.7,607.8 645.6,611.6 648.5,612.6 650.4,607.8 653.3,601.1 656.5,599.7 658.1,606.8 661,608.4 665.8,609.1 668.7,611.6 673.5,608.8 677.3,609.7 684,608.8"/>
<polyline points="96,704.9 109.5,704.5 112.3,705.5 121,705.5 122.9,706.5 124.8,705.5 128.7,707.8 132.5,705.5 137.3,705.5 140.2,704.5 143.1,705.5 146,704.3 148.9,704.5 153.7,707.8 157.5,706.5 161.4,705.5 170,705.5 172,706.5 173.9,705.5 176.8,706.5 181.6,706.5 184.5,705.5 193.1,705.5 197.9,703.6 209.5,703.6 212.3,704.5 222.9,704.5 226.8,706.5 234.5,706.5 237.3,705.5 242.2,705.5 243.8,706.3 246.7,707.4 249.6,706.5 254.4,706.8 258.3,708.8 268.8,708.8 271.7,709.7 275.6,708.8 278.5,707.8 280.4,708.8 286.2,708.8 288.1,707.8 305.4,707.8 308.3,706.8 310.2,707.8 313.1,707.8 316,709.7 317.9,708.8 329.4,708.8 332.3,709.7 334.2,708.8 337.1,709.7 340,708.8 350.6,708.8 352.5,707.8 354.4,708.8 357.3,708.8 360.2,707.8 364,707.8 366.9,709.3 369.2,710.7 371.7,709.7 373.7,708.8 376.5,709.7 379.4,708.8 387.1,708.8 388.8,707.8 392.7,707.4 395.6,706.5 399.4,707.8 403.3,707.8 407.1,706.8 410,706.5 413.5,705.5 415.8,706.5 418.7,706.5 421,705.5 423.5,706.5 426.3,705.5 442.7,705.3 445.6,704.3 448.1,705.5 450.4,707.8 452.7,706.5 455.2,706.5 458.1,705.5 461.9,704.5 466.7,704.3 470.6,702.6 473.5,702.6 477.3,704.3 481.2,704.5 484,702.6 486.9,702.6 489.8,704.5 493.7,704.5 496.5,703.4 501.3,699.5 504.2,703.6 507.1,701.1 511.3,697.6 514.2,700.7 518.7,698.2 522.5,694.9 526.3,693.4 529.2,694 531.2,695.7 532.7,702 535,704 536.9,703 538.8,700.1 541.7,698.6 545.6,697.8 548.5,697.2 551.3,693 555.6,688.2 558.1,693.4 559,681.8 560.6,671.8 563.8,670.9 567.7,668.8 570.6,669.7 573.5,668.4 580.2,667.4 581.2,676.1 582.7,684.7 585.4,687.6 587.9,693.4 589.8,687.6 592.1,680.9 594.6,677 597.5,673.8 599.4,676.5 603.3,678.6 606.2,675.1 607.5,670.9 609.4,675.1 611.9,674.1 614.8,677.4 619.6,676.6 622.5,677.4 627.3,674.7 629.6,674.7 632.1,678 634,677 636.3,683.4 639.4,676.1 641.7,678.6 645.6,676.6 648.5,676.6 651.3,680.5 654.2,676.1 657.1,676.6 661.9,675.1 665.8,674.7 669,670.9 672.5,672.6 675.4,673.2 678.3,671.3 680.2,672.6 684,671.8"/>
</g>
<g font-family="'Liberation Sans',sans-serif" font-size="14" fill="#000" stroke="#fff" stroke-width="0.2">
<text y="16.5" font-size="15"><tspan x="248.2" textLength="59" lengthAdjust="spacingAndGlyphs">STEREO</tspan><tspan x="306.7" textLength="17.6" lengthAdjust="spacingAndGlyphs">-</tspan><tspan x="322" textLength="11.3" lengthAdjust="spacingAndGlyphs">A</tspan> <tspan x="342.6" textLength="53.4" lengthAdjust="spacingAndGlyphs">IMPACT</tspan> <tspan x="406.7" textLength="76" lengthAdjust="spacingAndGlyphs">Summary</tspan> <tspan x="493.8" textLength="28.8" lengthAdjust="spacingAndGlyphs">Plot</tspan></text>
<text x="91.5" y="51" text-anchor="end">1000</text>
<text x="91.5" y="117.8" text-anchor="end">100</text>
<text x="91.5" y="144.5" text-anchor="end">150</text>
<text x="91.5" y="170.5" text-anchor="end">100</text>
<text x="91.5" y="196.5" text-anchor="end">50</text>
<text x="91.5" y="218" text-anchor="end">0</text>
<text x="91.5" y="244.5" text-anchor="end">150</text>
<text x="91.5" y="270.5" text-anchor="end">100</text>
<text x="91.5" y="296.5" text-anchor="end">50</text>
<text x="91.5" y="318" text-anchor="end">0</text>
<text x="91.5" y="333" text-anchor="end">10</text>
<text x="91.5" y="353" text-anchor="end">5</text>
<text x="91.5" y="377" text-anchor="end">0</text>
<text x="91.5" y="400.5" text-anchor="end"><tspan textLength="13" lengthAdjust="spacingAndGlyphs" dy="-0.8">-</tspan><tspan dy="0.8">5</tspan></text>
<text x="91.5" y="417.8" text-anchor="end"><tspan textLength="13" lengthAdjust="spacingAndGlyphs" dy="-0.8">-</tspan><tspan dy="0.8">10</tspan></text>
<text x="91.5" y="433" text-anchor="end">10</text>
<text x="91.5" y="453" text-anchor="end">5</text>
<text x="91.5" y="477" text-anchor="end">0</text>
<text x="91.5" y="500.5" text-anchor="end"><tspan textLength="13" lengthAdjust="spacingAndGlyphs" dy="-0.8">-</tspan><tspan dy="0.8">5</tspan></text>
<text x="91.5" y="517.8" text-anchor="end"><tspan textLength="13" lengthAdjust="spacingAndGlyphs" dy="-0.8">-</tspan><tspan dy="0.8">10</tspan></text>
<text x="91.5" y="533.5" text-anchor="end">10</text>
<text x="91.5" y="553.5" text-anchor="end">5</text>
<text x="91.5" y="577.5" text-anchor="end">0</text>
<text x="91.5" y="601" text-anchor="end"><tspan textLength="13" lengthAdjust="spacingAndGlyphs" dy="-0.8">-</tspan><tspan dy="0.8">5</tspan></text>
<text x="91.5" y="618.8" text-anchor="end"><tspan textLength="13" lengthAdjust="spacingAndGlyphs" dy="-0.8">-</tspan><tspan dy="0.8">10</tspan></text>
<text x="91.5" y="634" text-anchor="end">20</text>
<text x="91.5" y="654" text-anchor="end">15</text>
<text x="91.5" y="677.7" text-anchor="end">10</text>
<text x="91.5" y="701" text-anchor="end">5</text>
<text x="91.5" y="719.7" text-anchor="end">0</text>
<text x="705" y="40.5" textLength="40" lengthAdjust="spacingAndGlyphs">10000</text>
<text x="705" y="65" textLength="32" lengthAdjust="spacingAndGlyphs">1000</text>
<text x="705" y="89" textLength="24" lengthAdjust="spacingAndGlyphs">100</text>
<text x="705" y="113" textLength="16" lengthAdjust="spacingAndGlyphs">10</text>
<text x="705" y="158.5" textLength="36.5" lengthAdjust="spacingAndGlyphs">0.010</text>
<text x="705" y="201.5" textLength="35" lengthAdjust="spacingAndGlyphs">0.001</text>
<text x="705" y="253.5" textLength="19" lengthAdjust="spacingAndGlyphs">1.0</text>
<text x="705" y="299.5" textLength="18" lengthAdjust="spacingAndGlyphs">0.1</text>
<text transform="translate(46.7 104) rotate(-90)"><tspan x="0" textLength="33.4" lengthAdjust="spacingAndGlyphs">SWEA</tspan> <tspan x="41" textLength="25.7" lengthAdjust="spacingAndGlyphs">(eV)</tspan></text>
<text transform="translate(55.5 197) rotate(-90)"><tspan x="0" textLength="34.7" lengthAdjust="spacingAndGlyphs">650.7</tspan> <tspan x="45" textLength="14.7" lengthAdjust="spacingAndGlyphs">eV</tspan></text>
<text transform="translate(55.5 297) rotate(-90)"><tspan x="0" textLength="34.7" lengthAdjust="spacingAndGlyphs">246.6</tspan> <tspan x="45" textLength="14.7" lengthAdjust="spacingAndGlyphs">eV</tspan></text>
<text transform="translate(53 395) rotate(-90)"><tspan x="0" textLength="7.5" lengthAdjust="spacingAndGlyphs">B</tspan><tspan x="8.6" textLength="6" lengthAdjust="spacingAndGlyphs" font-size="10" dy="3.5">R</tspan> <tspan x="20.5" textLength="25.7" lengthAdjust="spacingAndGlyphs" dy="-3.5">(nT)</tspan></text>
<text transform="translate(53 495) rotate(-90)"><tspan x="0" textLength="7.5" lengthAdjust="spacingAndGlyphs">B</tspan><tspan x="8.6" textLength="6" lengthAdjust="spacingAndGlyphs" font-size="10" dy="3.5">T</tspan> <tspan x="20.5" textLength="25.7" lengthAdjust="spacingAndGlyphs" dy="-3.5">(nT)</tspan></text>
<text transform="translate(53 595.5) rotate(-90)"><tspan x="0" textLength="7.5" lengthAdjust="spacingAndGlyphs">B</tspan><tspan x="8.6" textLength="6" lengthAdjust="spacingAndGlyphs" font-size="10" dy="3.5">N</tspan> <tspan x="20.5" textLength="25.7" lengthAdjust="spacingAndGlyphs" dy="-3.5">(nT)</tspan></text>
<text transform="translate(64 696.3) rotate(-90)"><tspan x="0" textLength="14.8" lengthAdjust="spacingAndGlyphs">|B|</tspan> <tspan x="23" textLength="24" lengthAdjust="spacingAndGlyphs">(nT)</tspan></text>
<text transform="translate(761 95.6) rotate(-90)"><tspan x="0" textLength="6.5" lengthAdjust="spacingAndGlyphs">e</tspan><tspan x="6.1" textLength="13" lengthAdjust="spacingAndGlyphs" >-</tspan> <tspan x="25.6" textLength="24.4" lengthAdjust="spacingAndGlyphs">Flux</tspan></text>
<text transform="translate(755.5 220.8) rotate(-90)"><tspan x="0" textLength="6.5" lengthAdjust="spacingAndGlyphs">e</tspan><tspan x="6.1" textLength="13" lengthAdjust="spacingAndGlyphs" >-</tspan> <tspan x="24" textLength="15" lengthAdjust="spacingAndGlyphs">Ph</tspan> <tspan x="46.6" textLength="14.2" lengthAdjust="spacingAndGlyphs">Sp</tspan> <tspan x="66.6" textLength="34.2" lengthAdjust="spacingAndGlyphs">Dens</tspan></text>
<text transform="translate(739.5 322) rotate(-90)"><tspan x="0" textLength="6.5" lengthAdjust="spacingAndGlyphs">e</tspan><tspan x="6.1" textLength="13" lengthAdjust="spacingAndGlyphs" >-</tspan> <tspan x="24" textLength="15" lengthAdjust="spacingAndGlyphs">Ph</tspan> <tspan x="46.6" textLength="14.2" lengthAdjust="spacingAndGlyphs">Sp</tspan> <tspan x="66.6" textLength="34.2" lengthAdjust="spacingAndGlyphs">Dens</tspan></text>
<text x="8.7" y="737.5" textLength="39.5" lengthAdjust="spacingAndGlyphs">hhmm</text>
<text x="8.7" y="749.5" textLength="32" lengthAdjust="spacingAndGlyphs">2007</text>
<text x="96" y="737.5" text-anchor="middle" textLength="32" lengthAdjust="spacingAndGlyphs">0000</text>
<text x="292" y="737.5" text-anchor="middle" textLength="32" lengthAdjust="spacingAndGlyphs">0800</text>
<text x="488.5" y="737.5" text-anchor="middle" textLength="32" lengthAdjust="spacingAndGlyphs">1600</text>
<text x="683.6" y="737.5" text-anchor="middle" textLength="32" lengthAdjust="spacingAndGlyphs">0000</text>
<text y="749.5"><tspan x="72.5" textLength="23.3" lengthAdjust="spacingAndGlyphs">Sep</tspan> <tspan x="104.2" textLength="15" lengthAdjust="spacingAndGlyphs">28</tspan></text>
<text y="749.5"><tspan x="660.7" textLength="21.8" lengthAdjust="spacingAndGlyphs">Sep</tspan> <tspan x="691.9" textLength="15.3" lengthAdjust="spacingAndGlyphs">29</tspan></text>
<text transform="translate(691.3 719.5) rotate(-90)" font-size="7.2" textLength="92" lengthAdjust="spacingAndGlyphs" stroke="#000" stroke-width="0.25" style="white-space:pre">Wed Jun  8 12:08:37 2010</text>
</g>
</svg>
</body></html>
